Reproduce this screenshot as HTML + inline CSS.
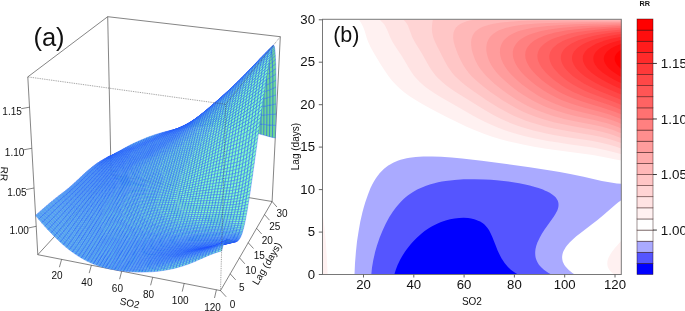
<!DOCTYPE html>
<html><head><meta charset="utf-8"><title>Figure</title>
<style>html,body{margin:0;padding:0;background:#fff}svg{display:block}text{font-family:"Liberation Sans",Arial,sans-serif}</style>
</head><body>
<svg width="685" height="311" viewBox="0 0 685 311">
<rect width="685" height="311" fill="#fff"/>
<line x1="37.8" y1="254.7" x2="27.8" y2="76.9" stroke="#333" stroke-width="0.60"/>
<line x1="27.8" y1="76.9" x2="107.7" y2="16.7" stroke="#333" stroke-width="0.60"/>
<line x1="107.7" y1="16.7" x2="280.3" y2="36.7" stroke="#333" stroke-width="0.60"/>
<line x1="107.7" y1="16.7" x2="111.1" y2="174.8" stroke="#333" stroke-width="0.60"/>
<line x1="272.1" y1="201.5" x2="280.3" y2="36.7" stroke="#333" stroke-width="0.60"/>
<line x1="37.8" y1="254.7" x2="220.5" y2="290.6" stroke="#333" stroke-width="0.60"/>
<line x1="220.5" y1="290.6" x2="272.1" y2="201.5" stroke="#333" stroke-width="0.60"/>
<line x1="37.8" y1="254.7" x2="111.1" y2="174.8" stroke="#333" stroke-width="0.60"/>
<line x1="111.1" y1="174.8" x2="272.1" y2="201.5" stroke="#333" stroke-width="0.60"/>
<line x1="61.6" y1="259.4" x2="59.4" y2="267.2" stroke="#333" stroke-width="0.6"/>
<text x="57.0" y="279.4" font-size="10.0" text-anchor="middle" fill="#111">20</text>
<line x1="91.4" y1="265.2" x2="89.2" y2="273.1" stroke="#333" stroke-width="0.6"/>
<text x="86.9" y="285.5" font-size="10.0" text-anchor="middle" fill="#111">40</text>
<line x1="121.7" y1="271.2" x2="119.6" y2="279.2" stroke="#333" stroke-width="0.6"/>
<text x="117.4" y="291.7" font-size="10.0" text-anchor="middle" fill="#111">60</text>
<line x1="152.7" y1="277.3" x2="150.6" y2="285.3" stroke="#333" stroke-width="0.6"/>
<text x="148.5" y="298.0" font-size="10.0" text-anchor="middle" fill="#111">80</text>
<line x1="184.2" y1="283.4" x2="182.2" y2="291.6" stroke="#333" stroke-width="0.6"/>
<text x="180.2" y="304.4" font-size="10.0" text-anchor="middle" fill="#111">100</text>
<line x1="216.4" y1="289.8" x2="214.5" y2="298.0" stroke="#333" stroke-width="0.6"/>
<text x="212.5" y="311.0" font-size="10.0" text-anchor="middle" fill="#111">120</text>
<line x1="220.5" y1="290.6" x2="226.2" y2="296.8" stroke="#333" stroke-width="0.6"/>
<text x="232.5" y="307.6" font-size="10.0" text-anchor="middle" fill="#111">0</text>
<line x1="230.2" y1="273.8" x2="235.7" y2="279.9" stroke="#333" stroke-width="0.6"/>
<text x="241.9" y="290.5" font-size="10.0" text-anchor="middle" fill="#111">5</text>
<line x1="239.5" y1="257.8" x2="244.8" y2="263.8" stroke="#333" stroke-width="0.6"/>
<text x="250.8" y="274.2" font-size="10.0" text-anchor="middle" fill="#111">10</text>
<line x1="248.2" y1="242.7" x2="253.5" y2="248.5" stroke="#333" stroke-width="0.6"/>
<text x="259.2" y="258.7" font-size="10.0" text-anchor="middle" fill="#111">15</text>
<line x1="256.6" y1="228.3" x2="261.7" y2="234.0" stroke="#333" stroke-width="0.6"/>
<text x="267.2" y="243.9" font-size="10.0" text-anchor="middle" fill="#111">20</text>
<line x1="264.5" y1="214.6" x2="269.5" y2="220.2" stroke="#333" stroke-width="0.6"/>
<text x="274.8" y="229.9" font-size="10.0" text-anchor="middle" fill="#111">25</text>
<line x1="272.1" y1="201.5" x2="276.9" y2="207.0" stroke="#333" stroke-width="0.6"/>
<text x="282.1" y="216.5" font-size="10.0" text-anchor="middle" fill="#111">30</text>
<line x1="36.2" y1="226.3" x2="28.3" y2="228.0" stroke="#333" stroke-width="0.6"/>
<text x="28.9" y="233.9" font-size="10.0" text-anchor="end" fill="#111">1.00</text>
<line x1="34.0" y1="188.0" x2="26.0" y2="189.6" stroke="#333" stroke-width="0.6"/>
<text x="26.6" y="195.5" font-size="10.0" text-anchor="end" fill="#111">1.05</text>
<line x1="31.8" y1="148.3" x2="23.7" y2="149.8" stroke="#333" stroke-width="0.6"/>
<text x="24.3" y="155.7" font-size="10.0" text-anchor="end" fill="#111">1.10</text>
<line x1="29.5" y1="107.2" x2="21.2" y2="108.7" stroke="#333" stroke-width="0.6"/>
<text x="21.8" y="114.6" font-size="10.0" text-anchor="end" fill="#111">1.15</text>
<text transform="translate(129.7,302.9) rotate(12)" font-size="10" text-anchor="middle" fill="#111" dy="3.6">SO2</text>
<text transform="translate(266.7,263.5) rotate(-59.5)" font-size="10" text-anchor="middle" fill="#111" dy="3.6">Lag (days)</text>
<text transform="translate(4.3,174) rotate(93)" font-size="10" text-anchor="middle" fill="#111" dy="3.6">RR</text>
<text x="33.4" y="46.2" font-size="25.5" fill="#111">(a)</text>
<g stroke="#1e50ff" stroke-width="0.36" stroke-linejoin="round">
<path fill="#6ed796" d="M110.2,156.4l2.5,-1.5 .5,-.1 -2.5,1.6zM112.7,154.9l2.5,-1.4 .6,-.3 -2.6,1.6z"/>
<path fill="#6ccde4" d="M115.2,153.5l2.6,-1.4 .5,-.4 -2.5,1.5zM117.8,152.1l2.6,-1.3 .5,-.6 -2.6,1.5zM120.4,150.8l2.5,-1.3 .6,-.8 -2.6,1.5zM122.9,149.5l2.6,-1.3 .5,-.9 -2.5,1.4z"/>
<path fill="#71d6de" d="M125.5,148.2l2.6,-1.3 .5,-1 -2.6,1.4zM128.1,146.9l2.6,-1.2 .5,-1.1 -2.6,1.3z"/>
<path fill="#76e0d7" d="M130.7,145.7l2.6,-1.2 .5,-1.2 -2.6,1.3zM133.3,144.5l2.6,-1.2 .6,-1.2 -2.7,1.2zM135.9,143.3l2.7,-1.1 .5,-1.3 -2.6,1.2zM138.6,142.2l2.6,-1.2 .5,-1.2 -2.6,1.1zM141.2,141l2.6,-1.1 .6,-1.2 -2.7,1.1zM143.8,139.9l2.7,-1 .5,-1.3 -2.6,1.1zM146.5,138.9l2.7,-1.1 .5,-1.2 -2.7,1zM149.2,137.8l2.6,-1 .5,-1.1 -2.6,.9zM151.8,136.8l2.7,-1 .5,-1.1 -2.7,1z"/>
<path fill="#71d6de" d="M154.5,135.8l2.7,-1 .5,-.9 -2.7,.8zM157.2,134.8l2.7,-.9 .5,-.8 -2.7,.8z"/>
<path fill="#6ccde4" d="M159.9,133.9l2.7,-.9 .5,-.7 -2.7,.8zM162.6,133l2.7,-.8 .5,-.6 -2.7,.7zM165.3,132.2l2.7,-.8 .5,-.5 -2.7,.7zM168,131.4l2.7,-.8 .5,-.3 -2.7,.6zM170.7,130.6l2.7,-.8 .5,-.1 -2.7,.6z"/>
<path fill="#6ed796" d="M173.4,129.8l2.8,-.7 .4,.1 -2.7,.5zM176.2,129.1l2.7,-.6 .5,.2 -2.8,.5zM178.9,128.5l2.7,-.7 .5,.4 -2.7,.5zM181.6,127.8l2.8,-.6 .5,.6 -2.8,.4zM184.4,127.2l2.8,-.6 .4,.9 -2.7,.3zM187.2,126.6l2.7,-.5 .5,1.1 -2.8,.3zM189.9,126.1l2.8,-.5 .4,1.3 -2.7,.3zM192.7,125.6l2.8,-.5 .4,1.5 -2.8,.3zM195.5,125.1l2.8,-.4 .4,1.7 -2.8,.2zM198.3,124.7l2.8,-.5 .4,2.1 -2.8,.1zM201.1,124.2l2.8,-.3 .4,2.3 -2.8,.1zM203.9,123.9l2.8,-.4 .4,2.6 -2.8,.1zM206.7,123.5l2.8,-.3 .4,2.9 -2.8,0zM209.5,123.2l2.8,-.3 .4,3.2 -2.8,0zM212.3,122.9l2.8,-.2 .4,3.5 -2.8,-.1zM215.1,122.7l2.9,-.2 .3,3.8 -2.8,-.1zM218,122.5l2.8,-.2 .3,4.2 -2.8,-.2zM220.8,122.3l2.8,-.1 .3,4.5 -2.8,-.2zM223.6,122.2l2.9,-.1 .2,4.9 -2.8,-.3zM226.5,122.1l2.8,0 .3,5.2 -2.9,-.3zM229.3,122.1l2.9,0 .2,5.6 -2.8,-.4zM232.2,122.1l2.8,0 .2,6 -2.8,-.4zM235,122.1l2.9,.1 .2,6.4 -2.9,-.5zM237.9,122.2l2.9,.1 .1,6.8 -2.8,-.5zM240.8,122.3l2.8,.1 .2,7.3 -2.9,-.6zM243.6,122.4l2.9,.2 .1,7.8 -2.8,-.7zM246.5,122.6l2.9,.3 .1,8.2 -2.9,-.7zM249.4,122.9l2.9,.3 0,8.7 -2.8,-.8zM252.3,123.2l2.9,.3 0,9.2 -2.9,-.8zM255.2,123.5l2.9,.3 -.1,9.7 -2.8,-.8zM258.1,123.8l2.9,.3 -.1,10.2 -2.9,-.8zM261,124.1l2.9,.3 -.2,10.7 -2.8,-.8zM263.9,124.4l2.9,.3 -.2,11.2 -2.9,-.8zM266.8,124.7l2.9,.3 -.2,11.7 -2.9,-.8zM269.7,125l2.9,.2 -.2,12.2 -2.9,-.7zM272.6,125.2l2.9,.1 -.2,12.7 -2.9,-.6z"/>
<path fill="#6ed796" d="M109.6,156.4l2.6,-1.3 .5,-.2 -2.5,1.5zM112.2,155.1l2.5,-1.3 .5,-.3 -2.5,1.4z"/>
<path fill="#6ccde4" d="M114.7,153.8l2.6,-1.2 .5,-.5 -2.6,1.4zM117.3,152.6l2.5,-1.2 .6,-.6 -2.6,1.3zM119.8,151.4l2.6,-1.2 .5,-.7 -2.5,1.3zM122.4,150.2l2.6,-1.2 .5,-.8 -2.6,1.3zM125,149l2.6,-1.1 .5,-1 -2.6,1.3z"/>
<path fill="#71d6de" d="M127.6,147.9l2.6,-1.2 .5,-1 -2.6,1.2zM130.2,146.7l2.6,-1.1 .5,-1.1 -2.6,1.2zM132.8,145.6l2.6,-1.2 .5,-1.1 -2.6,1.2z"/>
<path fill="#76e0d7" d="M135.4,144.4l2.7,-1.1 .5,-1.1 -2.7,1.1zM138.1,143.3l2.6,-1.1 .5,-1.2 -2.6,1.2zM140.7,142.2l2.6,-1.2 .5,-1.1 -2.6,1.1zM143.3,141l2.7,-1.1 .5,-1 -2.7,1zM146,139.9l2.7,-1 .5,-1.1 -2.7,1.1z"/>
<path fill="#71d6de" d="M148.7,138.9l2.6,-1.1 .5,-1 -2.6,1zM151.3,137.8l2.7,-1.1 .5,-.9 -2.7,1zM154,136.7l2.7,-1 .5,-.9 -2.7,1z"/>
<path fill="#6ccde4" d="M156.7,135.7l2.7,-1 .5,-.8 -2.7,.9zM159.4,134.7l2.7,-1 .5,-.7 -2.7,.9zM162.1,133.7l2.7,-.9 .5,-.6 -2.7,.8zM164.8,132.8l2.7,-1 .5,-.4 -2.7,.8zM167.5,131.8l2.7,-.9 .5,-.3 -2.7,.8zM170.2,130.9l2.7,-.8 .5,-.3 -2.7,.8zM172.9,130.1l2.8,-.9 .5,-.1 -2.8,.7z"/>
<path fill="#6ed796" d="M175.7,129.2l2.7,-.8 .5,.1 -2.7,.6zM178.4,128.4l2.8,-.8 .4,.2 -2.7,.7zM181.2,127.6l2.7,-.8 .5,.4 -2.8,.6zM183.9,126.8l2.8,-.8 .5,.6 -2.8,.6zM186.7,126l2.8,-.7 .4,.8 -2.7,.5zM189.5,125.3l2.8,-.7 .4,1 -2.8,.5zM192.3,124.6l2.8,-.7 .4,1.2 -2.8,.5zM195.1,123.9l2.7,-.7 .5,1.5 -2.8,.4zM197.8,123.2l2.8,-.7 .5,1.7 -2.8,.5zM200.6,122.5l2.9,-.6 .4,2 -2.8,.3zM203.5,121.9l2.8,-.6 .4,2.2 -2.8,.4zM206.3,121.3l2.8,-.6 .4,2.5 -2.8,.3zM209.1,120.7l2.8,-.5 .4,2.7 -2.8,.3zM211.9,120.2l2.9,-.5 .3,3 -2.8,.2zM214.8,119.7l2.8,-.5 .4,3.3 -2.9,.2zM217.6,119.2l2.9,-.5 .3,3.6 -2.8,.2zM220.5,118.7l2.8,-.4 .3,3.9 -2.8,.1zM223.3,118.3l2.9,-.4 .3,4.2 -2.9,.1zM226.2,117.9l2.8,-.4 .3,4.6 -2.8,0zM229,117.5l2.9,-.4 .3,5 -2.9,0zM231.9,117.1l2.9,-.3 .2,5.3 -2.8,0zM234.8,116.8l2.9,-.3 .2,5.7 -2.9,-.1zM237.7,116.5l2.9,-.3 .2,6.1 -2.9,-.1zM240.6,116.2l2.9,-.2 .1,6.4 -2.8,-.1zM243.5,116l2.9,-.2 .1,6.8 -2.9,-.2zM246.4,115.8l2.9,-.2 .1,7.3 -2.9,-.3zM249.3,115.6l2.9,-.2 .1,7.8 -2.9,-.3zM252.2,115.4l2.9,-.1 .1,8.2 -2.9,-.3zM255.1,115.3l2.9,-.2 .1,8.7 -2.9,-.3zM258,115.1l3,-.1 0,9.1 -2.9,-.3zM261,115l2.9,-.2 0,9.6 -2.9,-.3zM263.9,114.8l3,-.1 -.1,10 -2.9,-.3zM266.9,114.7l2.9,-.2 -.1,10.5 -2.9,-.3zM269.8,114.5l3,-.2 -.2,10.9 -2.9,-.2zM272.8,114.3l3,-.3 -.3,11.3 -2.9,-.1z"/>
<path fill="#6ed796" d="M109.1,156.5l2.5,-1.1 .6,-.3 -2.6,1.3z"/>
<path fill="#6ccde4" d="M111.6,155.4l2.6,-1.2 .5,-.4 -2.5,1.3zM114.2,154.2l2.5,-1.1 .6,-.5 -2.6,1.2zM116.7,153.1l2.6,-1.1 .5,-.6 -2.5,1.2zM119.3,152l2.6,-1.1 .5,-.7 -2.6,1.2zM121.9,150.9l2.6,-1.1 .5,-.8 -2.6,1.2zM124.5,149.8l2.6,-1.1 .5,-.8 -2.6,1.1zM127.1,148.7l2.6,-1.1 .5,-.9 -2.6,1.2z"/>
<path fill="#71d6de" d="M129.7,147.6l2.6,-1.1 .5,-.9 -2.6,1.1zM132.3,146.5l2.6,-1.1 .5,-1 -2.6,1.2zM134.9,145.4l2.7,-1.1 .5,-1 -2.7,1.1zM137.6,144.3l2.6,-1.1 .5,-1 -2.6,1.1zM140.2,143.2l2.6,-1.1 .5,-1.1 -2.6,1.2zM142.8,142.1l2.7,-1.2 .5,-1 -2.7,1.1zM145.5,140.9l2.7,-1.1 .5,-.9 -2.7,1zM148.2,139.8l2.6,-1.1 .5,-.9 -2.6,1.1zM150.8,138.7l2.7,-1.1 .5,-.9 -2.7,1.1z"/>
<path fill="#6ccde4" d="M153.5,137.6l2.7,-1 .5,-.9 -2.7,1zM156.2,136.6l2.7,-1.1 .5,-.8 -2.7,1zM158.9,135.5l2.7,-1.1 .5,-.7 -2.7,1zM161.6,134.4l2.7,-1 .5,-.6 -2.7,.9zM164.3,133.4l2.7,-1 .5,-.6 -2.7,1zM167,132.4l2.7,-1.1 .5,-.4 -2.7,.9zM169.7,131.3l2.8,-.9 .4,-.3 -2.7,.8zM172.5,130.4l2.7,-1 .5,-.2 -2.8,.9z"/>
<path fill="#6ed796" d="M175.2,129.4l2.8,-1 .4,0 -2.7,.8zM178,128.4l2.7,-1 .5,.2 -2.8,.8zM180.7,127.4l2.8,-.9 .4,.3 -2.7,.8zM183.5,126.5l2.7,-.9 .5,.4 -2.8,.8zM186.2,125.6l2.8,-.9 .5,.6 -2.8,.7zM189,124.7l2.8,-.9 .5,.8 -2.8,.7zM191.8,123.8l2.8,-.9 .5,1 -2.8,.7zM194.6,122.9l2.8,-.9 .4,1.2 -2.7,.7zM197.4,122l2.8,-.8 .4,1.3 -2.8,.7zM200.2,121.2l2.8,-.9 .5,1.6 -2.9,.6zM203,120.3l2.9,-.8 .4,1.8 -2.8,.6zM205.9,119.5l2.8,-.8 .4,2 -2.8,.6zM208.7,118.7l2.8,-.8 .4,2.3 -2.8,.5zM211.5,117.9l2.9,-.8 .4,2.6 -2.9,.5zM214.4,117.1l2.8,-.8 .4,2.9 -2.8,.5zM217.2,116.3l2.9,-.7 .4,3.1 -2.9,.5zM220.1,115.6l2.9,-.7 .3,3.4 -2.8,.4zM223,114.9l2.9,-.7 .3,3.7 -2.9,.4zM225.9,114.2l2.8,-.7 .3,4 -2.8,.4zM228.7,113.5l2.9,-.7 .3,4.3 -2.9,.4zM231.6,112.8l2.9,-.6 .3,4.6 -2.9,.3zM234.5,112.2l2.9,-.7 .3,5 -2.9,.3zM237.4,111.5l3,-.6 .2,5.3 -2.9,.3zM240.4,110.9l2.9,-.6 .2,5.7 -2.9,.2zM243.3,110.3l2.9,-.6 .2,6.1 -2.9,.2zM246.2,109.7l2.9,-.6 .2,6.5 -2.9,.2zM249.1,109.1l3,-.6 .1,6.9 -2.9,.2zM252.1,108.5l2.9,-.5 .1,7.3 -2.9,.1zM255,108l3,-.6 0,7.7 -2.9,.2zM258,107.4l3,-.5 0,8.1 -3,.1zM261,106.9l2.9,-.6 0,8.5 -2.9,.2zM263.9,106.3l3,-.6 0,9 -3,.1zM266.9,105.7l3,-.6 -.1,9.4 -2.9,.2zM269.9,105.1l3,-.6 -.1,9.8 -3,.2zM272.9,104.5l3,-.6 -.1,10.1 -3,.3z"/>
<path fill="#6ccde4" d="M108.5,156.7l2.6,-1 .5,-.3 -2.5,1.1zM111.1,155.7l2.5,-1.1 .6,-.4 -2.6,1.2zM113.6,154.6l2.6,-1 .5,-.5 -2.5,1.1zM116.2,153.6l2.6,-1 .5,-.6 -2.6,1.1zM118.8,152.6l2.6,-1 .5,-.7 -2.6,1.1zM121.4,151.6l2.6,-1.1 .5,-.7 -2.6,1.1zM124,150.5l2.6,-1 .5,-.8 -2.6,1.1zM126.6,149.5l2.6,-1.1 .5,-.8 -2.6,1.1zM129.2,148.4l2.6,-1 .5,-.9 -2.6,1.1zM131.8,147.4l2.6,-1.1 .5,-.9 -2.6,1.1z"/>
<path fill="#71d6de" d="M134.4,146.3l2.6,-1.1 .6,-.9 -2.7,1.1zM137,145.2l2.7,-1.1 .5,-.9 -2.6,1.1zM139.7,144.1l2.6,-1.1 .5,-.9 -2.6,1.1zM142.3,143l2.7,-1.1 .5,-1 -2.7,1.2zM145,141.9l2.6,-1.2 .6,-.9 -2.7,1.1zM147.6,140.7l2.7,-1.1 .5,-.9 -2.6,1.1z"/>
<path fill="#6ccde4" d="M150.3,139.6l2.7,-1.1 .5,-.9 -2.7,1.1zM153,138.5l2.7,-1.2 .5,-.7 -2.7,1zM155.7,137.3l2.7,-1.1 .5,-.7 -2.7,1.1zM158.4,136.2l2.7,-1.1 .5,-.7 -2.7,1.1zM161.1,135.1l2.7,-1.1 .5,-.6 -2.7,1zM163.8,134l2.7,-1.1 .5,-.5 -2.7,1zM166.5,132.9l2.7,-1.1 .5,-.5 -2.7,1.1zM169.2,131.8l2.8,-1.1 .5,-.3 -2.8,.9zM172,130.7l2.7,-1.1 .5,-.2 -2.7,1zM174.7,129.6l2.8,-1.1 .5,-.1 -2.8,1z"/>
<path fill="#6ed796" d="M177.5,128.5l2.7,-1 .5,-.1 -2.7,1zM180.2,127.5l2.8,-1.1 .5,.1 -2.8,.9zM183,126.4l2.8,-1.1 .4,.3 -2.7,.9zM185.8,125.3l2.8,-1 .4,.4 -2.8,.9zM188.6,124.3l2.8,-1.1 .4,.6 -2.8,.9zM191.4,123.2l2.8,-1 .4,.7 -2.8,.9zM194.2,122.2l2.8,-1.1 .4,.9 -2.8,.9zM197,121.1l2.8,-1 .4,1.1 -2.8,.8zM199.8,120.1l2.8,-1.1 .4,1.3 -2.8,.9zM202.6,119l2.9,-1 .4,1.5 -2.9,.8zM205.5,118l2.8,-1 .4,1.7 -2.8,.8zM208.3,117l2.8,-1.1 .4,2 -2.8,.8zM211.1,115.9l2.9,-1 .4,2.2 -2.9,.8zM214,114.9l2.9,-1 .3,2.4 -2.8,.8zM216.9,113.9l2.9,-.9 .3,2.6 -2.9,.7zM219.8,113l2.8,-1 .4,2.9 -2.9,.7zM222.6,112l2.9,-1 .4,3.2 -2.9,.7zM225.5,111l2.9,-1 .3,3.5 -2.8,.7zM228.4,110l2.9,-.9 .3,3.7 -2.9,.7zM231.3,109.1l3,-1 .2,4.1 -2.9,.6zM234.3,108.1l2.9,-.9 .2,4.3 -2.9,.7zM237.2,107.2l2.9,-1 .3,4.7 -3,.6zM240.1,106.2l3,-.9 .2,5 -2.9,.6zM243.1,105.3l2.9,-.9 .2,5.3 -2.9,.6zM246,104.4l3,-.9 .1,5.6 -2.9,.6zM249,103.5l2.9,-1 .2,6 -3,.6zM251.9,102.5l3,-.9 .1,6.4 -2.9,.5zM254.9,101.6l3,-.9 .1,6.7 -3,.6zM257.9,100.7l3,-1 .1,7.2 -3,.5zM260.9,99.7l3,-.9 0,7.5 -2.9,.6zM263.9,98.8l3,-.9 0,7.8 -3,.6zM266.9,97.9l3,-1 0,8.2 -3,.6zM269.9,96.9l3,-1 0,8.6 -3,.6zM272.9,95.9l3.1,-1 -.1,9 -3,.6z"/>
<path fill="#6ccde4" d="M108,157l2.5,-1 .6,-.3 -2.6,1zM110.5,156l2.6,-.9 .5,-.5 -2.5,1.1zM113.1,155.1l2.6,-1 .5,-.5 -2.6,1zM115.7,154.1l2.6,-.9 .5,-.6 -2.6,1zM118.3,153.2l2.5,-1 .6,-.6 -2.6,1zM120.8,152.2l2.6,-1 .6,-.7 -2.6,1.1zM123.4,151.2l2.6,-1 .6,-.7 -2.6,1zM126,150.2l2.7,-1 .5,-.8 -2.6,1.1zM128.7,149.2l2.6,-1 .5,-.8 -2.6,1zM131.3,148.2l2.6,-1.1 .5,-.8 -2.6,1.1zM133.9,147.1l2.6,-1.1 .5,-.8 -2.6,1.1zM136.5,146l2.7,-1.1 .5,-.8 -2.7,1.1zM139.2,144.9l2.6,-1.1 .5,-.8 -2.6,1.1zM141.8,143.8l2.7,-1.1 .5,-.8 -2.7,1.1zM144.5,142.7l2.6,-1.1 .5,-.9 -2.6,1.2zM147.1,141.6l2.7,-1.2 .5,-.8 -2.7,1.1zM149.8,140.4l2.7,-1.1 .5,-.8 -2.7,1.1zM152.5,139.3l2.7,-1.2 .5,-.8 -2.7,1.2zM155.2,138.1l2.7,-1.1 .5,-.8 -2.7,1.1zM157.9,137l2.7,-1.2 .5,-.7 -2.7,1.1zM160.6,135.8l2.7,-1.2 .5,-.6 -2.7,1.1zM163.3,134.6l2.7,-1.1 .5,-.6 -2.7,1.1zM166,133.5l2.8,-1.2 .4,-.5 -2.7,1.1zM168.8,132.3l2.7,-1.2 .5,-.4 -2.8,1.1zM171.5,131.1l2.7,-1.1 .5,-.4 -2.7,1.1zM174.2,130l2.8,-1.2 .5,-.3 -2.8,1.1zM177,128.8l2.8,-1.2 .4,-.1 -2.7,1z"/>
<path fill="#6ed796" d="M179.8,127.6l2.7,-1.2 .5,0 -2.8,1.1zM182.5,126.4l2.8,-1.1 .5,0 -2.8,1.1zM185.3,125.3l2.8,-1.2 .5,.2 -2.8,1zM188.1,124.1l2.8,-1.2 .5,.3 -2.8,1.1zM190.9,122.9l2.8,-1.2 .5,.5 -2.8,1zM193.7,121.7l2.8,-1.3 .5,.7 -2.8,1.1zM196.5,120.4l2.9,-1.2 .4,.9 -2.8,1zM199.4,119.2l2.8,-1.2 .4,1 -2.8,1.1zM202.2,118l2.8,-1.2 .5,1.2 -2.9,1zM205,116.8l2.9,-1.2 .4,1.4 -2.8,1zM207.9,115.6l2.8,-1.2 .4,1.5 -2.8,1.1zM210.7,114.4l2.9,-1.3 .4,1.8 -2.9,1zM213.6,113.1l2.9,-1.2 .4,2 -2.9,1zM216.5,111.9l2.9,-1.2 .4,2.3 -2.9,.9zM219.4,110.7l2.9,-1.2 .3,2.5 -2.8,1zM222.3,109.5l2.9,-1.2 .3,2.7 -2.9,1zM225.2,108.3l2.9,-1.2 .3,2.9 -2.9,1zM228.1,107.1l2.9,-1.2 .3,3.2 -2.9,.9zM231,105.9l3,-1.2 .3,3.4 -3,1zM234,104.7l2.9,-1.3 .3,3.8 -2.9,.9zM236.9,103.4l2.9,-1.2 .3,4 -2.9,1zM239.8,102.2l3,-1.2 .3,4.3 -3,.9zM242.8,101l3,-1.2 .2,4.6 -2.9,.9zM245.8,99.8l3,-1.3 .2,5 -3,.9zM248.8,98.5l2.9,-1.2 .2,5.2 -2.9,1zM251.7,97.3l3,-1.3 .2,5.6 -3,.9zM254.7,96l3.1,-1.2 .1,5.9 -3,.9zM257.8,94.8l3,-1.3 .1,6.2 -3,1zM260.8,93.5l3,-1.3 .1,6.6 -3,.9zM263.8,92.2l3,-1.3 .1,7 -3,.9zM266.8,90.9l3.1,-1.3 0,7.3 -3,1zM269.9,89.6l3,-1.3 0,7.6 -3,1zM272.9,88.3l3.1,-1.3 0,7.9 -3.1,1z"/>
<path fill="#6ccde4" d="M107.4,157.2l2.6,-.8 .5,-.4 -2.5,1zM110,156.4l2.6,-.9 .5,-.4 -2.6,.9zM112.6,155.5l2.5,-.8 .6,-.6 -2.6,1zM115.1,154.7l2.6,-.9 .6,-.6 -2.6,.9zM117.7,153.8l2.6,-.9 .5,-.7 -2.5,1zM120.3,152.9l2.6,-1 .5,-.7 -2.6,1zM122.9,151.9l2.6,-1 .5,-.7 -2.6,1zM125.5,150.9l2.6,-.9 .6,-.8 -2.7,1zM128.1,150l2.6,-1.1 .6,-.7 -2.6,1zM130.7,148.9l2.7,-1 .5,-.8 -2.6,1.1zM133.4,147.9l2.6,-1.1 .5,-.8 -2.6,1.1zM136,146.8l2.7,-1 .5,-.9 -2.7,1.1zM138.7,145.8l2.6,-1.1 .5,-.9 -2.6,1.1zM141.3,144.7l2.7,-1.2 .5,-.8 -2.7,1.1zM144,143.5l2.6,-1.1 .5,-.8 -2.6,1.1zM146.6,142.4l2.7,-1.2 .5,-.8 -2.7,1.2zM149.3,141.2l2.7,-1.1 .5,-.8 -2.7,1.1zM152,140.1l2.7,-1.2 .5,-.8 -2.7,1.2zM154.7,138.9l2.7,-1.2 .5,-.7 -2.7,1.1zM157.4,137.7l2.7,-1.2 .5,-.7 -2.7,1.2zM160.1,136.5l2.7,-1.2 .5,-.7 -2.7,1.2zM162.8,135.3l2.7,-1.2 .5,-.6 -2.7,1.1zM165.5,134.1l2.8,-1.2 .5,-.6 -2.8,1.2zM168.3,132.9l2.7,-1.2 .5,-.6 -2.7,1.2zM171,131.7l2.8,-1.3 .4,-.4 -2.7,1.1zM173.8,130.4l2.7,-1.2 .5,-.4 -2.8,1.2zM176.5,129.2l2.8,-1.3 .5,-.3 -2.8,1.2zM179.3,127.9l2.8,-1.3 .4,-.2 -2.7,1.2z"/>
<path fill="#6ed796" d="M182.1,126.6l2.7,-1.3 .5,0 -2.8,1.1zM184.8,125.3l2.8,-1.3 .5,.1 -2.8,1.2zM187.6,124l2.8,-1.3 .5,.2 -2.8,1.2zM190.4,122.7l2.9,-1.4 .4,.4 -2.8,1.2zM193.3,121.3l2.8,-1.3 .4,.4 -2.8,1.3zM196.1,120l2.8,-1.4 .5,.6 -2.9,1.2zM198.9,118.6l2.9,-1.4 .4,.8 -2.8,1.2zM201.8,117.2l2.8,-1.3 .4,.9 -2.8,1.2zM204.6,115.9l2.9,-1.4 .4,1.1 -2.9,1.2zM207.5,114.5l2.8,-1.4 .4,1.3 -2.8,1.2zM210.3,113.1l2.9,-1.4 .4,1.4 -2.9,1.3zM213.2,111.7l2.9,-1.5 .4,1.7 -2.9,1.2zM216.1,110.2l2.9,-1.4 .4,1.9 -2.9,1.2zM219,108.8l2.9,-1.4 .4,2.1 -2.9,1.2zM221.9,107.4l2.9,-1.4 .4,2.3 -2.9,1.2zM224.8,106l3,-1.4 .3,2.5 -2.9,1.2zM227.8,104.6l2.9,-1.5 .3,2.8 -2.9,1.2zM230.7,103.1l2.9,-1.4 .4,3 -3,1.2zM233.6,101.7l3,-1.5 .3,3.2 -2.9,1.3zM236.6,100.2l3,-1.5 .2,3.5 -2.9,1.2zM239.6,98.7l2.9,-1.4 .3,3.7 -3,1.2zM242.5,97.3l3,-1.5 .3,4 -3,1.2zM245.5,95.8l3,-1.5 .3,4.2 -3,1.3zM248.5,94.3l3,-1.6 .2,4.6 -2.9,1.2zM251.5,92.7l3.1,-1.5 .1,4.8 -3,1.3zM254.6,91.2l3,-1.6 .2,5.2 -3.1,1.2zM257.6,89.6l3,-1.6 .2,5.5 -3,1.3zM260.6,88l3.1,-1.5 .1,5.7 -3,1.3zM263.7,86.5l3,-1.6 .1,6 -3,1.3zM266.7,84.9l3.1,-1.6 .1,6.3 -3.1,1.3zM269.8,83.3l3.1,-1.6 0,6.6 -3,1.3zM272.9,81.7l3.1,-1.6 0,6.9 -3.1,1.3z"/>
<path fill="#6ccde4" d="M106.9,157.6l2.5,-.8 .6,-.4 -2.6,.8zM109.4,156.8l2.6,-.8 .6,-.5 -2.6,.9zM112,156l2.6,-.8 .5,-.5 -2.5,.8zM114.6,155.2l2.6,-.8 .5,-.6 -2.6,.9zM117.2,154.4l2.6,-.9 .5,-.6 -2.6,.9zM119.8,153.5l2.6,-.9 .5,-.7 -2.6,1zM122.4,152.6l2.6,-1 .5,-.7 -2.6,1zM125,151.6l2.6,-.9 .5,-.7 -2.6,.9zM127.6,150.7l2.6,-1 .5,-.8 -2.6,1.1zM130.2,149.7l2.7,-1 .5,-.8 -2.7,1zM132.9,148.7l2.6,-1.1 .5,-.8 -2.6,1.1zM135.5,147.6l2.6,-1 .6,-.8 -2.7,1zM138.1,146.6l2.7,-1.1 .5,-.8 -2.6,1.1zM140.8,145.5l2.7,-1.1 .5,-.9 -2.7,1.2zM143.5,144.4l2.6,-1.2 .5,-.8 -2.6,1.1zM146.1,143.2l2.7,-1.1 .5,-.9 -2.7,1.2zM148.8,142.1l2.7,-1.2 .5,-.8 -2.7,1.1zM151.5,140.9l2.7,-1.2 .5,-.8 -2.7,1.2zM154.2,139.7l2.7,-1.2 .5,-.8 -2.7,1.2zM156.9,138.5l2.7,-1.2 .5,-.8 -2.7,1.2zM159.6,137.3l2.7,-1.3 .5,-.7 -2.7,1.2zM162.3,136l2.7,-1.2 .5,-.7 -2.7,1.2zM165,134.8l2.8,-1.3 .5,-.6 -2.8,1.2zM167.8,133.5l2.7,-1.3 .5,-.5 -2.7,1.2zM170.5,132.2l2.8,-1.3 .5,-.5 -2.8,1.3zM173.3,130.9l2.7,-1.3 .5,-.4 -2.7,1.2zM176,129.6l2.8,-1.3 .5,-.4 -2.8,1.3zM178.8,128.3l2.8,-1.4 .5,-.3 -2.8,1.3zM181.6,126.9l2.8,-1.4 .4,-.2 -2.7,1.3z"/>
<path fill="#6ed796" d="M184.4,125.5l2.8,-1.4 .4,-.1 -2.8,1.3zM187.2,124.1l2.8,-1.4 .4,0 -2.8,1.3zM190,122.7l2.8,-1.5 .5,.1 -2.9,1.4zM192.8,121.2l2.8,-1.5 .5,.3 -2.8,1.3zM195.6,119.7l2.9,-1.5 .4,.4 -2.8,1.4zM198.5,118.2l2.8,-1.5 .5,.5 -2.9,1.4zM201.3,116.7l2.9,-1.6 .4,.8 -2.8,1.3zM204.2,115.1l2.8,-1.5 .5,.9 -2.9,1.4zM207,113.6l2.9,-1.6 .4,1.1 -2.8,1.4zM209.9,112l2.9,-1.6 .4,1.3 -2.9,1.4zM212.8,110.4l2.9,-1.5 .4,1.3 -2.9,1.5zM215.7,108.9l2.9,-1.6 .4,1.5 -2.9,1.4zM218.6,107.3l2.9,-1.6 .4,1.7 -2.9,1.4zM221.5,105.7l3,-1.7 .3,2 -2.9,1.4zM224.5,104l2.9,-1.6 .4,2.2 -3,1.4zM227.4,102.4l2.9,-1.6 .4,2.3 -2.9,1.5zM230.3,100.8l3,-1.7 .3,2.6 -2.9,1.4zM233.3,99.1l3,-1.7 .3,2.8 -3,1.5zM236.3,97.4l3,-1.7 .3,3 -3,1.5zM239.3,95.7l2.9,-1.7 .3,3.3 -2.9,1.4zM242.2,94l3,-1.7 .3,3.5 -3,1.5zM245.2,92.3l3.1,-1.8 .2,3.8 -3,1.5zM248.3,90.5l3,-1.8 .2,4 -3,1.6zM251.3,88.7l3,-1.8 .3,4.3 -3.1,1.5zM254.3,86.9l3.1,-1.8 .2,4.5 -3,1.6zM257.4,85.1l3,-1.8 .2,4.7 -3,1.6zM260.4,83.3l3.1,-1.9 .2,5.1 -3.1,1.5zM263.5,81.4l3.1,-1.8 .1,5.3 -3,1.6zM266.6,79.6l3.1,-1.9 .1,5.6 -3.1,1.6zM269.7,77.7l3.1,-1.9 .1,5.9 -3.1,1.6zM272.8,75.8l3.1,-1.8 .1,6.1 -3.1,1.6z"/>
<path fill="#6ccde4" d="M106.3,157.9l2.6,-.7 .5,-.4 -2.5,.8zM108.9,157.2l2.6,-.7 .5,-.5 -2.6,.8zM111.5,156.5l2.6,-.8 .5,-.5 -2.6,.8zM114.1,155.7l2.5,-.7 .6,-.6 -2.6,.8zM116.6,155l2.6,-.9 .6,-.6 -2.6,.9zM119.2,154.1l2.7,-.9 .5,-.6 -2.6,.9zM121.9,153.2l2.6,-.9 .5,-.7 -2.6,1zM124.5,152.3l2.6,-.9 .5,-.7 -2.6,.9zM127.1,151.4l2.6,-1 .5,-.7 -2.6,1zM129.7,150.4l2.6,-1 .6,-.7 -2.7,1zM132.3,149.4l2.7,-1 .5,-.8 -2.6,1.1zM135,148.4l2.6,-1 .5,-.8 -2.6,1zM137.6,147.4l2.7,-1.1 .5,-.8 -2.7,1.1zM140.3,146.3l2.6,-1.1 .6,-.8 -2.7,1.1zM142.9,145.2l2.7,-1.1 .5,-.9 -2.6,1.2zM145.6,144.1l2.7,-1.2 .5,-.8 -2.7,1.1zM148.3,142.9l2.7,-1.2 .5,-.8 -2.7,1.2zM151,141.7l2.7,-1.2 .5,-.8 -2.7,1.2zM153.7,140.5l2.7,-1.2 .5,-.8 -2.7,1.2zM156.4,139.3l2.7,-1.2 .5,-.8 -2.7,1.2zM159.1,138.1l2.7,-1.3 .5,-.8 -2.7,1.3zM161.8,136.8l2.7,-1.3 .5,-.7 -2.7,1.2zM164.5,135.5l2.8,-1.3 .5,-.7 -2.8,1.3zM167.3,134.2l2.7,-1.3 .5,-.7 -2.7,1.3zM170,132.9l2.8,-1.4 .5,-.6 -2.8,1.3zM172.8,131.5l2.7,-1.3 .5,-.6 -2.7,1.3zM175.5,130.2l2.8,-1.5 .5,-.4 -2.8,1.3zM178.3,128.7l2.8,-1.4 .5,-.4 -2.8,1.4zM181.1,127.3l2.8,-1.5 .5,-.3 -2.8,1.4zM183.9,125.8l2.8,-1.5 .5,-.2 -2.8,1.4z"/>
<path fill="#6ed796" d="M186.7,124.3l2.8,-1.5 .5,-.1 -2.8,1.4zM189.5,122.8l2.8,-1.6 .5,0 -2.8,1.5zM192.3,121.2l2.9,-1.6 .4,.1 -2.8,1.5zM195.2,119.6l2.8,-1.6 .5,.2 -2.9,1.5zM198,118l2.9,-1.7 .4,.4 -2.8,1.5zM200.9,116.3l2.8,-1.7 .5,.5 -2.9,1.6zM203.7,114.6l2.9,-1.7 .4,.7 -2.8,1.5zM206.6,112.9l2.9,-1.7 .4,.8 -2.9,1.6zM209.5,111.2l2.9,-1.7 .4,.9 -2.9,1.6zM212.4,109.5l2.9,-1.8 .4,1.2 -2.9,1.5zM215.3,107.7l2.9,-1.8 .4,1.4 -2.9,1.6zM218.2,105.9l2.9,-1.7 .4,1.5 -2.9,1.6zM221.1,104.2l3,-1.8 .4,1.6 -3,1.7zM224.1,102.4l2.9,-1.8 .4,1.8 -2.9,1.6zM227,100.6l3,-1.8 .3,2 -2.9,1.6zM230,98.8l3,-1.9 .3,2.2 -3,1.7zM233,96.9l2.9,-1.9 .4,2.4 -3,1.7zM235.9,95l3,-1.8 .4,2.5 -3,1.7zM238.9,93.2l3,-2 .3,2.8 -2.9,1.7zM241.9,91.2l3.1,-1.9 .2,3 -3,1.7zM245,89.3l3,-2 .3,3.2 -3.1,1.8zM248,87.3l3,-2 .3,3.4 -3,1.8zM251,85.3l3.1,-2.1 .2,3.7 -3,1.8zM254.1,83.2l3.1,-2 .2,3.9 -3.1,1.8zM257.2,81.2l3,-2.1 .2,4.2 -3,1.8zM260.2,79.1l3.1,-2.1 .2,4.4 -3.1,1.9zM263.3,77l3.1,-2.1 .2,4.7 -3.1,1.8zM266.4,74.9l3.2,-2.1 .1,4.9 -3.1,1.9zM269.6,72.8l3.1,-2.1 .1,5.1 -3.1,1.9zM272.7,70.7l3.1,-2.1 .1,5.4 -3.1,1.8z"/>
<path fill="#6ccde4" d="M105.8,158.2l2.5,-.6 .6,-.4 -2.6,.7zM108.3,157.6l2.6,-.6 .6,-.5 -2.6,.7zM110.9,157l2.6,-.7 .6,-.6 -2.6,.8zM113.5,156.3l2.6,-.8 .5,-.5 -2.5,.7zM116.1,155.5l2.6,-.7 .5,-.7 -2.6,.9zM118.7,154.8l2.6,-.9 .6,-.7 -2.7,.9zM121.3,153.9l2.6,-.9 .6,-.7 -2.6,.9zM123.9,153l2.7,-.9 .5,-.7 -2.6,.9zM126.6,152.1l2.6,-.9 .5,-.8 -2.6,1zM129.2,151.2l2.6,-1 .5,-.8 -2.6,1zM131.8,150.2l2.7,-1 .5,-.8 -2.7,1zM134.5,149.2l2.6,-1 .5,-.8 -2.6,1zM137.1,148.2l2.7,-1.1 .5,-.8 -2.7,1.1zM139.8,147.1l2.6,-1 .5,-.9 -2.6,1.1zM142.4,146.1l2.7,-1.2 .5,-.8 -2.7,1.1zM145.1,144.9l2.7,-1.1 .5,-.9 -2.7,1.2zM147.8,143.8l2.7,-1.2 .5,-.9 -2.7,1.2zM150.5,142.6l2.7,-1.2 .5,-.9 -2.7,1.2zM153.2,141.4l2.7,-1.2 .5,-.9 -2.7,1.2zM155.9,140.2l2.7,-1.3 .5,-.8 -2.7,1.2zM158.6,138.9l2.7,-1.2 .5,-.9 -2.7,1.3zM161.3,137.7l2.7,-1.3 .5,-.9 -2.7,1.3zM164,136.4l2.8,-1.4 .5,-.8 -2.8,1.3zM166.8,135l2.7,-1.4 .5,-.7 -2.7,1.3zM169.5,133.6l2.8,-1.4 .5,-.7 -2.8,1.4zM172.3,132.2l2.8,-1.4 .4,-.6 -2.7,1.3zM175.1,130.8l2.7,-1.5 .5,-.6 -2.8,1.5zM177.8,129.3l2.8,-1.5 .5,-.5 -2.8,1.4zM180.6,127.8l2.8,-1.6 .5,-.4 -2.8,1.5zM183.4,126.2l2.8,-1.6 .5,-.3 -2.8,1.5z"/>
<path fill="#6ed796" d="M186.2,124.6l2.8,-1.6 .5,-.2 -2.8,1.5zM189,123l2.9,-1.7 .4,-.1 -2.8,1.6zM191.9,121.3l2.8,-1.7 .5,0 -2.9,1.6zM194.7,119.6l2.9,-1.8 .4,.2 -2.8,1.6zM197.6,117.8l2.8,-1.7 .5,.2 -2.9,1.7zM200.4,116.1l2.9,-1.9 .4,.4 -2.8,1.7zM203.3,114.2l2.9,-1.8 .4,.5 -2.9,1.7zM206.2,112.4l2.9,-1.9 .4,.7 -2.9,1.7zM209.1,110.5l2.9,-1.8 .4,.8 -2.9,1.7zM212,108.7l2.9,-1.9 .4,.9 -2.9,1.8zM214.9,106.8l2.9,-1.9 .4,1 -2.9,1.8zM217.8,104.9l2.9,-2 .4,1.3 -2.9,1.7zM220.7,102.9l3,-1.9 .4,1.4 -3,1.8zM223.7,101l2.9,-2 .4,1.6 -2.9,1.8zM226.6,99l3,-2 .4,1.8 -3,1.8zM229.6,97l3,-2 .4,1.9 -3,1.9zM232.6,95l3,-2 .3,2 -2.9,1.9zM235.6,93l3,-2.1 .3,2.3 -3,1.8zM238.6,90.9l3,-2.1 .3,2.4 -3,2zM241.6,88.8l3,-2.2 .4,2.7 -3.1,1.9zM244.6,86.6l3.1,-2.2 .3,2.9 -3,2zM247.7,84.4l3.1,-2.2 .2,3.1 -3,2zM250.8,82.2l3,-2.3 .3,3.3 -3.1,2.1zM253.8,79.9l3.1,-2.2 .3,3.5 -3.1,2zM256.9,77.7l3.1,-2.4 .2,3.8 -3,2.1zM260,75.3l3.1,-2.3 .2,4 -3.1,2.1zM263.1,73l3.1,-2.3 .2,4.2 -3.1,2.1zM266.2,70.7l3.2,-2.3 .2,4.4 -3.2,2.1zM269.4,68.4l3.1,-2.3 .2,4.6 -3.1,2.1zM272.5,66.1l3.2,-2.3 .1,4.8 -3.1,2.1z"/>
<path fill="#6ccde4" d="M105.2,158.5l2.6,-.5 .5,-.4 -2.5,.6zM107.8,158l2.6,-.6 .5,-.4 -2.6,.6zM110.4,157.4l2.6,-.6 .5,-.5 -2.6,.7zM113,156.8l2.6,-.7 .5,-.6 -2.6,.8zM115.6,156.1l2.6,-.7 .5,-.6 -2.6,.7zM118.2,155.4l2.6,-.8 .5,-.7 -2.6,.9zM120.8,154.6l2.6,-.8 .5,-.8 -2.6,.9zM123.4,153.8l2.6,-.9 .6,-.8 -2.7,.9zM126,152.9l2.7,-.9 .5,-.8 -2.6,.9zM128.7,152l2.6,-1 .5,-.8 -2.6,1zM131.3,151l2.6,-.9 .6,-.9 -2.7,1zM133.9,150.1l2.7,-1 .5,-.9 -2.6,1zM136.6,149.1l2.7,-1.1 .5,-.9 -2.7,1.1z"/>
<path fill="#71d6de" d="M139.3,148l2.6,-1 .5,-.9 -2.6,1zM141.9,147l2.7,-1.1 .5,-1 -2.7,1.2zM144.6,145.9l2.7,-1.2 .5,-.9 -2.7,1.1zM147.3,144.7l2.7,-1.1 .5,-1 -2.7,1.2zM150,143.6l2.7,-1.2 .5,-1 -2.7,1.2zM152.7,142.4l2.7,-1.3 .5,-.9 -2.7,1.2zM155.4,141.1l2.7,-1.2 .5,-1 -2.7,1.3zM158.1,139.9l2.7,-1.3 .5,-.9 -2.7,1.2z"/>
<path fill="#6ccde4" d="M160.8,138.6l2.7,-1.4 .5,-.8 -2.7,1.3zM163.5,137.2l2.8,-1.3 .5,-.9 -2.8,1.4zM166.3,135.9l2.7,-1.5 .5,-.8 -2.7,1.4zM169,134.4l2.8,-1.4 .5,-.8 -2.8,1.4zM171.8,133l2.8,-1.5 .5,-.7 -2.8,1.4zM174.6,131.5l2.8,-1.6 .4,-.6 -2.7,1.5zM177.4,129.9l2.7,-1.5 .5,-.6 -2.8,1.5zM180.1,128.4l2.8,-1.7 .5,-.5 -2.8,1.6zM182.9,126.7l2.9,-1.7 .4,-.4 -2.8,1.6zM185.8,125l2.8,-1.7 .4,-.3 -2.8,1.6z"/>
<path fill="#6ed796" d="M188.6,123.3l2.8,-1.8 .5,-.2 -2.9,1.7zM191.4,121.5l2.8,-1.8 .5,-.1 -2.8,1.7zM194.2,119.7l2.9,-1.9 .5,0 -2.9,1.8zM197.1,117.8l2.9,-1.9 .4,.2 -2.8,1.7zM200,115.9l2.8,-1.9 .5,.2 -2.9,1.9zM202.8,114l2.9,-2 .5,.4 -2.9,1.8zM205.7,112l2.9,-1.9 .5,.4 -2.9,1.9zM208.6,110.1l2.9,-2.1 .5,.7 -2.9,1.8zM211.5,108l3,-2 .4,.8 -2.9,1.9zM214.5,106l2.9,-2 .4,.9 -2.9,1.9zM217.4,104l2.9,-2.1 .4,1 -2.9,2zM220.3,101.9l3,-2.1 .4,1.2 -3,1.9zM223.3,99.8l3,-2.1 .3,1.3 -2.9,2zM226.3,97.7l2.9,-2.1 .4,1.4 -3,2zM229.2,95.6l3,-2.2 .4,1.6 -3,2zM232.2,93.4l3,-2.2 .4,1.8 -3,2zM235.2,91.2l3,-2.3 .4,2 -3,2.1zM238.2,88.9l3.1,-2.2 .3,2.1 -3,2.1zM241.3,86.7l3,-2.4 .3,2.3 -3,2.2zM244.3,84.3l3.1,-2.3 .3,2.4 -3.1,2.2zM247.4,82l3.1,-2.5 .3,2.7 -3.1,2.2zM250.5,79.5l3,-2.4 .3,2.8 -3,2.3zM253.5,77.1l3.1,-2.5 .3,3.1 -3.1,2.2zM256.6,74.6l3.2,-2.5 .2,3.2 -3.1,2.4zM259.8,72.1l3.1,-2.6 .2,3.5 -3.1,2.3zM262.9,69.5l3.1,-2.5 .2,3.7 -3.1,2.3zM266,67l3.2,-2.5 .2,3.9 -3.2,2.3zM269.2,64.5l3.1,-2.5 .2,4.1 -3.1,2.3zM272.3,62l3.2,-2.5 .2,4.3 -3.2,2.3z"/>
<path fill="#6ccde4" d="M104.7,158.8l2.5,-.4 .6,-.4 -2.6,.5zM107.2,158.4l2.6,-.5 .6,-.5 -2.6,.6zM109.8,157.9l2.6,-.5 .6,-.6 -2.6,.6zM112.4,157.4l2.6,-.7 .6,-.6 -2.6,.7zM115,156.7l2.6,-.7 .6,-.6 -2.6,.7zM117.6,156l2.7,-.7 .5,-.7 -2.6,.8zM120.3,155.3l2.6,-.8 .5,-.7 -2.6,.8zM122.9,154.5l2.6,-.8 .5,-.8 -2.6,.9zM125.5,153.7l2.6,-.9 .6,-.8 -2.7,.9zM128.1,152.8l2.7,-.9 .5,-.9 -2.6,1zM130.8,151.9l2.6,-1 .5,-.8 -2.6,.9zM133.4,150.9l2.7,-.9 .5,-.9 -2.7,1z"/>
<path fill="#71d6de" d="M136.1,150l2.6,-1.1 .6,-.9 -2.7,1.1zM138.7,148.9l2.7,-1 .5,-.9 -2.6,1zM141.4,147.9l2.7,-1.1 .5,-.9 -2.7,1.1zM144.1,146.8l2.7,-1.1 .5,-1 -2.7,1.2zM146.8,145.7l2.7,-1.2 .5,-.9 -2.7,1.1zM149.5,144.5l2.7,-1.2 .5,-.9 -2.7,1.2zM152.2,143.3l2.7,-1.2 .5,-1 -2.7,1.3zM154.9,142.1l2.7,-1.3 .5,-.9 -2.7,1.2zM157.6,140.8l2.7,-1.3 .5,-.9 -2.7,1.3zM160.3,139.5l2.7,-1.3 .5,-1 -2.7,1.4zM163,138.2l2.8,-1.5 .5,-.8 -2.8,1.3z"/>
<path fill="#6ccde4" d="M165.8,136.7l2.7,-1.4 .5,-.9 -2.7,1.5zM168.5,135.3l2.8,-1.5 .5,-.8 -2.8,1.4zM171.3,133.8l2.8,-1.6 .5,-.7 -2.8,1.5zM174.1,132.2l2.8,-1.6 .5,-.7 -2.8,1.6zM176.9,130.6l2.8,-1.6 .4,-.6 -2.7,1.5zM179.7,129l2.8,-1.7 .4,-.6 -2.8,1.7zM182.5,127.3l2.8,-1.8 .5,-.5 -2.9,1.7zM185.3,125.5l2.8,-1.8 .5,-.4 -2.8,1.7zM188.1,123.7l2.8,-1.9 .5,-.3 -2.8,1.8z"/>
<path fill="#6ed796" d="M190.9,121.8l2.9,-1.9 .4,-.2 -2.8,1.8zM193.8,119.9l2.8,-1.9 .5,-.2 -2.9,1.9zM196.6,118l2.9,-2 .5,-.1 -2.9,1.9zM199.5,116l2.9,-2.1 .4,.1 -2.8,1.9zM202.4,113.9l2.9,-2.1 .4,.2 -2.9,2zM205.3,111.8l2.9,-2.1 .4,.4 -2.9,1.9zM208.2,109.7l2.9,-2.1 .4,.4 -2.9,2.1zM211.1,107.6l2.9,-2.2 .5,.6 -3,2zM214,105.4l3,-2.1 .4,.7 -2.9,2zM217,103.3l2.9,-2.2 .4,.8 -2.9,2.1zM219.9,101.1l3,-2.2 .4,.9 -3,2.1zM222.9,98.9l3,-2.3 .4,1.1 -3,2.1zM225.9,96.6l2.9,-2.3 .4,1.3 -2.9,2.1zM228.8,94.3l3,-2.3 .4,1.4 -3,2.2zM231.8,92l3.1,-2.3 .3,1.5 -3,2.2zM234.9,89.7l3,-2.4 .3,1.6 -3,2.3zM237.9,87.3l3,-2.4 .4,1.8 -3.1,2.2zM240.9,84.9l3.1,-2.5 .3,1.9 -3,2.4zM244,82.4l3.1,-2.6 .3,2.2 -3.1,2.3zM247.1,79.8l3,-2.6 .4,2.3 -3.1,2.5zM250.1,77.2l3.1,-2.6 .3,2.5 -3,2.4zM253.2,74.6l3.2,-2.7 .2,2.7 -3.1,2.5zM256.4,71.9l3.1,-2.7 .3,2.9 -3.2,2.5zM259.5,69.2l3.1,-2.7 .3,3 -3.1,2.6zM262.6,66.5l3.2,-2.7 .2,3.2 -3.1,2.5zM265.8,63.8l3.2,-2.7 .2,3.4 -3.2,2.5zM269,61.1l3.1,-2.6 .2,3.5 -3.1,2.5zM272.1,58.5l3.2,-2.7 .2,3.7 -3.2,2.5z"/>
<path fill="#6ccde4" d="M104.1,159.1l2.6,-.3 .5,-.4 -2.5,.4zM106.7,158.8l2.6,-.4 .5,-.5 -2.6,.5zM109.3,158.4l2.6,-.5 .5,-.5 -2.6,.5zM111.9,157.9l2.6,-.6 .5,-.6 -2.6,.7zM114.5,157.3l2.6,-.6 .5,-.7 -2.6,.7zM117.1,156.7l2.6,-.7 .6,-.7 -2.7,.7zM119.7,156l2.6,-.8 .6,-.7 -2.6,.8zM122.3,155.2l2.7,-.8 .5,-.7 -2.6,.8zM125,154.4l2.6,-.8 .5,-.8 -2.6,.9zM127.6,153.6l2.6,-.9 .6,-.8 -2.7,.9zM130.2,152.7l2.7,-.9 .5,-.9 -2.6,1z"/>
<path fill="#71d6de" d="M132.9,151.8l2.7,-.9 .5,-.9 -2.7,.9zM135.6,150.9l2.6,-1 .5,-1 -2.6,1.1zM138.2,149.9l2.7,-1.1 .5,-.9 -2.7,1zM140.9,148.8l2.7,-1 .5,-1 -2.7,1.1zM143.6,147.8l2.7,-1.1 .5,-1 -2.7,1.1zM146.3,146.7l2.7,-1.2 .5,-1 -2.7,1.2zM149,145.5l2.7,-1.2 .5,-1 -2.7,1.2zM151.7,144.3l2.7,-1.2 .5,-1 -2.7,1.2zM154.4,143.1l2.7,-1.3 .5,-1 -2.7,1.3zM157.1,141.8l2.7,-1.3 .5,-1 -2.7,1.3zM159.8,140.5l2.7,-1.4 .5,-.9 -2.7,1.3zM162.5,139.1l2.8,-1.4 .5,-1 -2.8,1.5zM165.3,137.7l2.8,-1.5 .4,-.9 -2.7,1.4z"/>
<path fill="#6ccde4" d="M168.1,136.2l2.7,-1.5 .5,-.9 -2.8,1.5zM170.8,134.7l2.8,-1.6 .5,-.9 -2.8,1.6zM173.6,133.1l2.8,-1.7 .5,-.8 -2.8,1.6zM176.4,131.4l2.8,-1.7 .5,-.7 -2.8,1.6zM179.2,129.7l2.8,-1.8 .5,-.6 -2.8,1.7zM182,127.9l2.8,-1.8 .5,-.6 -2.8,1.8zM184.8,126.1l2.8,-1.9 .5,-.5 -2.8,1.8zM187.6,124.2l2.9,-1.9 .4,-.5 -2.8,1.9zM190.5,122.3l2.8,-2 .5,-.4 -2.9,1.9z"/>
<path fill="#6ed796" d="M193.3,120.3l2.9,-2.1 .4,-.2 -2.8,1.9zM196.2,118.2l2.8,-2.1 .5,-.1 -2.9,2zM199,116.1l2.9,-2.1 .5,-.1 -2.9,2.1zM201.9,114l2.9,-2.2 .5,0 -2.9,2.1zM204.8,111.8l2.9,-2.2 .5,.1 -2.9,2.1zM207.7,109.6l3,-2.3 .4,.3 -2.9,2.1zM210.7,107.3l2.9,-2.2 .4,.3 -2.9,2.2zM213.6,105.1l2.9,-2.3 .5,.5 -3,2.1zM216.5,102.8l3,-2.3 .4,.6 -2.9,2.2zM219.5,100.5l3,-2.4 .4,.8 -3,2.2zM222.5,98.1l2.9,-2.3 .5,.8 -3,2.3zM225.4,95.8l3,-2.4 .4,.9 -2.9,2.3zM228.4,93.4l3.1,-2.4 .3,1 -3,2.3zM231.5,91l3,-2.5 .4,1.2 -3.1,2.3zM234.5,88.5l3,-2.5 .4,1.3 -3,2.4zM237.5,86l3.1,-2.6 .3,1.5 -3,2.4zM240.6,83.4l3,-2.6 .4,1.6 -3.1,2.5zM243.6,80.8l3.1,-2.7 .4,1.7 -3.1,2.6zM246.7,78.1l3.1,-2.7 .3,1.8 -3,2.6zM249.8,75.4l3.1,-2.8 .3,2 -3.1,2.6zM252.9,72.6l3.2,-2.9 .3,2.2 -3.2,2.7zM256.1,69.7l3.1,-2.8 .3,2.3 -3.1,2.7zM259.2,66.9l3.2,-2.9 .2,2.5 -3.1,2.7zM262.4,64l3.1,-2.9 .3,2.7 -3.2,2.7zM265.5,61.1l3.2,-2.8 .3,2.8 -3.2,2.7zM268.7,58.3l3.2,-2.8 .2,3 -3.1,2.6zM271.9,55.5l3.2,-2.8 .2,3.1 -3.2,2.7z"/>
<path fill="#6ccde4" d="M103.5,159.4l2.6,-.2 .6,-.4 -2.6,.3zM106.1,159.2l2.6,-.3 .6,-.5 -2.6,.4zM108.7,158.9l2.6,-.5 .6,-.5 -2.6,.5zM111.3,158.4l2.7,-.5 .5,-.6 -2.6,.6zM114,157.9l2.6,-.6 .5,-.6 -2.6,.6zM116.6,157.3l2.6,-.6 .5,-.7 -2.6,.7zM119.2,156.7l2.6,-.7 .5,-.8 -2.6,.8zM121.8,156l2.6,-.8 .6,-.8 -2.7,.8zM124.4,155.2l2.7,-.8 .5,-.8 -2.6,.8zM127.1,154.4l2.6,-.8 .5,-.9 -2.6,.9zM129.7,153.6l2.7,-.9 .5,-.9 -2.7,.9z"/>
<path fill="#71d6de" d="M132.4,152.7l2.6,-.9 .6,-.9 -2.7,.9zM135,151.8l2.7,-1 .5,-.9 -2.6,1zM137.7,150.8l2.7,-1 .5,-1 -2.7,1.1zM140.4,149.8l2.7,-1 .5,-1 -2.7,1zM143.1,148.8l2.6,-1.1 .6,-1 -2.7,1.1zM145.7,147.7l2.7,-1.1 .6,-1.1 -2.7,1.2zM148.4,146.6l2.7,-1.2 .6,-1.1 -2.7,1.2zM151.1,145.4l2.8,-1.3 .5,-1 -2.7,1.2zM153.9,144.1l2.7,-1.3 .5,-1 -2.7,1.3zM156.6,142.8l2.7,-1.3 .5,-1 -2.7,1.3zM159.3,141.5l2.7,-1.4 .5,-1 -2.7,1.4zM162,140.1l2.8,-1.4 .5,-1 -2.8,1.4zM164.8,138.7l2.8,-1.6 .5,-.9 -2.8,1.5zM167.6,137.1l2.7,-1.5 .5,-.9 -2.7,1.5z"/>
<path fill="#6ccde4" d="M170.3,135.6l2.8,-1.7 .5,-.8 -2.8,1.6zM173.1,133.9l2.8,-1.7 .5,-.8 -2.8,1.7zM175.9,132.2l2.8,-1.7 .5,-.8 -2.8,1.7zM178.7,130.5l2.8,-1.8 .5,-.8 -2.8,1.8zM181.5,128.7l2.8,-1.9 .5,-.7 -2.8,1.8zM184.3,126.8l2.8,-2 .5,-.6 -2.8,1.9zM187.1,124.8l2.9,-2 .5,-.5 -2.9,1.9zM190,122.8l2.8,-2.1 .5,-.4 -2.8,2zM192.8,120.7l2.9,-2.1 .5,-.4 -2.9,2.1z"/>
<path fill="#6ed796" d="M195.7,118.6l2.9,-2.2 .4,-.3 -2.8,2.1zM198.6,116.4l2.9,-2.2 .4,-.2 -2.9,2.1zM201.5,114.2l2.9,-2.3 .4,-.1 -2.9,2.2zM204.4,111.9l2.9,-2.3 .4,0 -2.9,2.2zM207.3,109.6l2.9,-2.4 .5,.1 -3,2.3zM210.2,107.2l3,-2.3 .4,.2 -2.9,2.2zM213.2,104.9l2.9,-2.4 .4,.3 -2.9,2.3zM216.1,102.5l3,-2.4 .4,.4 -3,2.3zM219.1,100.1l2.9,-2.4 .5,.4 -3,2.4zM222,97.7l3,-2.5 .4,.6 -2.9,2.3zM225,95.2l3,-2.5 .4,.7 -3,2.4zM228,92.7l3.1,-2.5 .4,.8 -3.1,2.4zM231.1,90.2l3,-2.6 .4,.9 -3,2.5zM234.1,87.6l3,-2.6 .4,1 -3,2.5zM237.1,85l3.1,-2.7 .4,1.1 -3.1,2.6zM240.2,82.3l3.1,-2.8 .3,1.3 -3,2.6zM243.3,79.5l3.1,-2.8 .3,1.4 -3.1,2.7zM246.4,76.7l3.1,-2.9 .3,1.6 -3.1,2.7zM249.5,73.8l3.1,-2.9 .3,1.7 -3.1,2.8zM252.6,70.9l3.1,-3 .4,1.8 -3.2,2.9zM255.7,67.9l3.2,-3 .3,2 -3.1,2.8zM258.9,64.9l3.2,-3 .3,2.1 -3.2,2.9zM262.1,61.9l3.1,-3 .3,2.2 -3.1,2.9zM265.2,58.9l3.2,-2.9 .3,2.3 -3.2,2.8zM268.4,56l3.2,-3 .3,2.5 -3.2,2.8zM271.6,53l3.3,-2.9 .2,2.6 -3.2,2.8z"/>
<path fill="#6ccde4" d="M103,159.7l2.6,-.1 .5,-.4 -2.6,.2zM105.6,159.6l2.6,-.3 .5,-.4 -2.6,.3zM108.2,159.3l2.6,-.3 .5,-.6 -2.6,.5zM110.8,159l2.6,-.5 .6,-.6 -2.7,.5zM113.4,158.5l2.6,-.5 .6,-.7 -2.6,.6zM116,158l2.6,-.6 .6,-.7 -2.6,.6zM118.6,157.4l2.7,-.7 .5,-.7 -2.6,.7zM121.3,156.7l2.6,-.7 .5,-.8 -2.6,.8zM123.9,156l2.7,-.8 .5,-.8 -2.7,.8zM126.6,155.2l2.6,-.8 .5,-.8 -2.6,.8zM129.2,154.4l2.7,-.8 .5,-.9 -2.7,.9z"/>
<path fill="#71d6de" d="M131.9,153.6l2.6,-.9 .5,-.9 -2.6,.9zM134.5,152.7l2.7,-.9 .5,-1 -2.7,1zM137.2,151.8l2.7,-1 .5,-1 -2.7,1zM139.9,150.8l2.6,-1 .6,-1 -2.7,1zM142.5,149.8l2.7,-1.1 .5,-1 -2.6,1.1zM145.2,148.7l2.7,-1.1 .5,-1 -2.7,1.1zM147.9,147.6l2.7,-1.2 .5,-1 -2.7,1.2zM150.6,146.4l2.8,-1.2 .5,-1.1 -2.8,1.3zM153.4,145.2l2.7,-1.3 .5,-1.1 -2.7,1.3zM156.1,143.9l2.7,-1.4 .5,-1 -2.7,1.3zM158.8,142.5l2.7,-1.4 .5,-1 -2.7,1.4zM161.5,141.1l2.8,-1.4 .5,-1 -2.8,1.4zM164.3,139.7l2.8,-1.6 .5,-1 -2.8,1.6zM167.1,138.1l2.7,-1.6 .5,-.9 -2.7,1.5zM169.8,136.5l2.8,-1.6 .5,-1 -2.8,1.7z"/>
<path fill="#6ccde4" d="M172.6,134.9l2.8,-1.8 .5,-.9 -2.8,1.7zM175.4,133.1l2.8,-1.8 .5,-.8 -2.8,1.7zM178.2,131.3l2.8,-1.8 .5,-.8 -2.8,1.8zM181,129.5l2.8,-2 .5,-.7 -2.8,1.9zM183.8,127.5l2.9,-2 .4,-.7 -2.8,2zM186.7,125.5l2.8,-2.1 .5,-.6 -2.9,2zM189.5,123.4l2.9,-2.1 .4,-.6 -2.8,2.1zM192.4,121.3l2.8,-2.2 .5,-.5 -2.9,2.1zM195.2,119.1l2.9,-2.3 .5,-.4 -2.9,2.2zM198.1,116.8l2.9,-2.3 .5,-.3 -2.9,2.2z"/>
<path fill="#6ed796" d="M201,114.5l2.9,-2.4 .5,-.2 -2.9,2.3zM203.9,112.1l2.9,-2.3 .5,-.2 -2.9,2.3zM206.8,109.8l3,-2.5 .4,-.1 -2.9,2.4zM209.8,107.3l2.9,-2.4 .5,0 -3,2.3zM212.7,104.9l3,-2.5 .4,.1 -2.9,2.4zM215.7,102.4l2.9,-2.5 .5,.2 -3,2.4zM218.6,99.9l3,-2.5 .4,.3 -2.9,2.4zM221.6,97.4l3,-2.5 .4,.3 -3,2.5zM224.6,94.9l3,-2.6 .4,.4 -3,2.5zM227.6,92.3l3,-2.6 .5,.5 -3.1,2.5zM230.6,89.7l3.1,-2.7 .4,.6 -3,2.6zM233.7,87l3,-2.7 .4,.7 -3,2.6zM236.7,84.3l3.1,-2.8 .4,.8 -3.1,2.7zM239.8,81.5l3.1,-2.9 .4,.9 -3.1,2.8zM242.9,78.6l3.1,-2.9 .4,1 -3.1,2.8zM246,75.7l3.1,-3 .4,1.1 -3.1,2.9zM249.1,72.7l3.1,-3 .4,1.2 -3.1,2.9zM252.2,69.7l3.2,-3.1 .3,1.3 -3.1,3zM255.4,66.6l3.2,-3.1 .3,1.4 -3.2,3zM258.6,63.5l3.1,-3.2 .4,1.6 -3.2,3zM261.7,60.3l3.2,-3.1 .3,1.7 -3.1,3zM264.9,57.2l3.2,-3.1 .3,1.9 -3.2,2.9zM268.1,54.1l3.3,-3 .2,1.9 -3.2,3zM271.4,51.1l3.2,-3 .3,2 -3.3,2.9z"/>
<path fill="#6ccde4" d="M102.4,160.1l2.6,-.1 .6,-.4 -2.6,.1zM105,160l2.6,-.2 .6,-.5 -2.6,.3zM107.6,159.8l2.7,-.3 .5,-.5 -2.6,.3zM110.3,159.5l2.6,-.4 .5,-.6 -2.6,.5zM112.9,159.1l2.6,-.5 .5,-.6 -2.6,.5zM115.5,158.6l2.6,-.5 .5,-.7 -2.6,.6zM118.1,158.1l2.6,-.6 .6,-.8 -2.7,.7zM120.7,157.5l2.7,-.7 .5,-.8 -2.6,.7zM123.4,156.8l2.6,-.7 .6,-.9 -2.7,.8zM126,156.1l2.7,-.8 .5,-.9 -2.6,.8zM128.7,155.3l2.6,-.8 .6,-.9 -2.7,.8z"/>
<path fill="#71d6de" d="M131.3,154.5l2.7,-.9 .5,-.9 -2.6,.9zM134,153.6l2.7,-.9 .5,-.9 -2.7,.9zM136.7,152.7l2.6,-.9 .6,-1 -2.7,1zM139.3,151.8l2.7,-1 .5,-1 -2.6,1zM142,150.8l2.7,-1.1 .5,-1 -2.7,1.1zM144.7,149.7l2.7,-1.1 .5,-1 -2.7,1.1zM147.4,148.6l2.7,-1.2 .5,-1 -2.7,1.2zM150.1,147.4l2.7,-1.2 .6,-1 -2.8,1.2zM152.8,146.2l2.8,-1.3 .5,-1 -2.7,1.3zM155.6,144.9l2.7,-1.3 .5,-1.1 -2.7,1.4zM158.3,143.6l2.7,-1.5 .5,-1 -2.7,1.4zM161,142.1l2.8,-1.4 .5,-1 -2.8,1.4zM163.8,140.7l2.8,-1.6 .5,-1 -2.8,1.6zM166.6,139.1l2.7,-1.6 .5,-1 -2.7,1.6zM169.3,137.5l2.8,-1.7 .5,-.9 -2.8,1.6z"/>
<path fill="#6ccde4" d="M172.1,135.8l2.8,-1.8 .5,-.9 -2.8,1.8zM174.9,134l2.8,-1.8 .5,-.9 -2.8,1.8zM177.7,132.2l2.8,-1.9 .5,-.8 -2.8,1.8zM180.5,130.3l2.8,-2 .5,-.8 -2.8,2zM183.3,128.3l2.9,-2.1 .5,-.7 -2.9,2zM186.2,126.2l2.8,-2.1 .5,-.7 -2.8,2.1zM189,124.1l2.9,-2.2 .5,-.6 -2.9,2.1zM191.9,121.9l2.9,-2.3 .4,-.5 -2.8,2.2zM194.8,119.6l2.8,-2.3 .5,-.5 -2.9,2.3zM197.6,117.3l2.9,-2.3 .5,-.5 -2.9,2.3zM200.5,115l3,-2.5 .4,-.4 -2.9,2.4z"/>
<path fill="#6ed796" d="M203.5,112.5l2.9,-2.4 .4,-.3 -2.9,2.3zM206.4,110.1l2.9,-2.5 .5,-.3 -3,2.5zM209.3,107.6l3,-2.5 .4,-.2 -2.9,2.4zM212.3,105.1l2.9,-2.6 .5,-.1 -3,2.5zM215.2,102.5l3,-2.5 .4,-.1 -2.9,2.5zM218.2,100l3,-2.6 .4,0 -3,2.5zM221.2,97.4l3,-2.6 .4,.1 -3,2.5zM224.2,94.8l3,-2.7 .4,.2 -3,2.6zM227.2,92.1l3,-2.7 .4,.3 -3,2.6zM230.2,89.4l3.1,-2.7 .4,.3 -3.1,2.7zM233.3,86.7l3,-2.8 .4,.4 -3,2.7zM236.3,83.9l3.1,-2.9 .4,.5 -3.1,2.8zM239.4,81l3.1,-2.9 .4,.5 -3.1,2.9zM242.5,78.1l3.1,-3.1 .4,.7 -3.1,2.9zM245.6,75l3.1,-3 .4,.7 -3.1,3zM248.7,72l3.2,-3.2 .3,.9 -3.1,3zM251.9,68.8l3.1,-3.2 .4,1 -3.2,3.1zM255,65.6l3.2,-3.2 .4,1.1 -3.2,3.1zM258.2,62.4l3.2,-3.2 .3,1.1 -3.1,3.2zM261.4,59.2l3.2,-3.2 .3,1.2 -3.2,3.1zM264.6,56l3.2,-3.2 .3,1.3 -3.2,3.1zM267.8,52.8l3.2,-3.1 .4,1.4 -3.3,3zM271,49.7l3.3,-3.1 .3,1.5 -3.2,3z"/>
<path fill="#6ccde4" d="M101.9,160.4l2.6,0 .5,-.4 -2.6,.1zM104.5,160.4l2.6,-.1 .5,-.5 -2.6,.2zM107.1,160.3l2.6,-.2 .6,-.6 -2.7,.3zM109.7,160.1l2.6,-.4 .6,-.6 -2.6,.4zM112.3,159.7l2.6,-.4 .6,-.7 -2.6,.5zM114.9,159.3l2.7,-.5 .5,-.7 -2.6,.5zM117.6,158.8l2.6,-.6 .5,-.7 -2.6,.6zM120.2,158.2l2.6,-.6 .6,-.8 -2.7,.7zM122.8,157.6l2.7,-.7 .5,-.8 -2.6,.7zM125.5,156.9l2.6,-.7 .6,-.9 -2.7,.8zM128.1,156.2l2.7,-.8 .5,-.9 -2.6,.8z"/>
<path fill="#71d6de" d="M130.8,155.4l2.7,-.8 .5,-1 -2.7,.9zM133.5,154.6l2.6,-.9 .6,-1 -2.7,.9zM136.1,153.7l2.7,-1 .5,-.9 -2.6,.9zM138.8,152.7l2.7,-.9 .5,-1 -2.7,1zM141.5,151.8l2.7,-1.1 .5,-1 -2.7,1.1zM144.2,150.7l2.7,-1.1 .5,-1 -2.7,1.1zM146.9,149.6l2.7,-1.1 .5,-1.1 -2.7,1.2zM149.6,148.5l2.7,-1.3 .5,-1 -2.7,1.2zM152.3,147.2l2.8,-1.3 .5,-1 -2.8,1.3zM155.1,145.9l2.7,-1.3 .5,-1 -2.7,1.3zM157.8,144.6l2.7,-1.4 .5,-1.1 -2.7,1.5zM160.5,143.2l2.8,-1.5 .5,-1 -2.8,1.4zM163.3,141.7l2.8,-1.6 .5,-1 -2.8,1.6zM166.1,140.1l2.7,-1.6 .5,-1 -2.7,1.6zM168.8,138.5l2.8,-1.7 .5,-1 -2.8,1.7zM171.6,136.8l2.8,-1.8 .5,-1 -2.8,1.8z"/>
<path fill="#6ccde4" d="M174.4,135l2.8,-1.9 .5,-.9 -2.8,1.8zM177.2,133.1l2.8,-1.9 .5,-.9 -2.8,1.9zM180,131.2l2.9,-2 .4,-.9 -2.8,2zM182.9,129.2l2.8,-2.1 .5,-.9 -2.9,2.1zM185.7,127.1l2.8,-2.2 .5,-.8 -2.8,2.1zM188.5,124.9l2.9,-2.2 .5,-.8 -2.9,2.2zM191.4,122.7l2.9,-2.4 .5,-.7 -2.9,2.3zM194.3,120.3l2.9,-2.3 .4,-.7 -2.8,2.3zM197.2,118l2.9,-2.4 .4,-.6 -2.9,2.3zM200.1,115.6l2.9,-2.5 .5,-.6 -3,2.5zM203,113.1l2.9,-2.5 .5,-.5 -2.9,2.4zM205.9,110.6l2.9,-2.6 .5,-.4 -2.9,2.5zM208.8,108l3,-2.5 .5,-.4 -3,2.5z"/>
<path fill="#6ed796" d="M211.8,105.5l3,-2.6 .4,-.4 -2.9,2.6zM214.8,102.9l2.9,-2.6 .5,-.3 -3,2.5zM217.7,100.3l3,-2.7 .5,-.2 -3,2.6zM220.7,97.6l3,-2.7 .5,-.1 -3,2.6zM223.7,94.9l3.1,-2.7 .4,-.1 -3,2.7zM226.8,92.2l3,-2.8 .4,0 -3,2.7zM229.8,89.4l3.1,-2.8 .4,.1 -3.1,2.7zM232.9,86.6l3,-2.9 .4,.2 -3,2.8zM235.9,83.7l3.1,-2.9 .4,.2 -3.1,2.9zM239,80.8l3.1,-3 .4,.3 -3.1,2.9zM242.1,77.8l3.1,-3.1 .4,.3 -3.1,3.1zM245.2,74.7l3.1,-3.1 .4,.4 -3.1,3zM248.3,71.6l3.2,-3.2 .4,.4 -3.2,3.2zM251.5,68.4l3.1,-3.3 .4,.5 -3.1,3.2zM254.6,65.1l3.2,-3.3 .4,.6 -3.2,3.2zM257.8,61.8l3.2,-3.3 .4,.7 -3.2,3.2zM261,58.5l3.2,-3.2 .4,.7 -3.2,3.2zM264.2,55.3l3.3,-3.3 .3,.8 -3.2,3.2zM267.5,52l3.2,-3.2 .3,.9 -3.2,3.1zM270.7,48.8l3.2,-3.1 .4,.9 -3.3,3.1z"/>
<path fill="#6ccde4" d="M101.3,160.7l2.6,.1 .6,-.4 -2.6,0zM103.9,160.8l2.6,0 .6,-.5 -2.6,.1zM106.5,160.8l2.7,-.2 .5,-.5 -2.6,.2zM109.2,160.6l2.6,-.3 .5,-.6 -2.6,.4zM111.8,160.3l2.6,-.3 .5,-.7 -2.6,.4zM114.4,160l2.6,-.5 .6,-.7 -2.7,.5zM117,159.5l2.7,-.5 .5,-.8 -2.6,.6zM119.7,159l2.6,-.6 .5,-.8 -2.6,.6zM122.3,158.4l2.7,-.7 .5,-.8 -2.7,.7zM125,157.7l2.6,-.7 .5,-.8 -2.6,.7zM127.6,157l2.7,-.7 .5,-.9 -2.7,.8z"/>
<path fill="#71d6de" d="M130.3,156.3l2.6,-.8 .6,-.9 -2.7,.8zM132.9,155.5l2.7,-.9 .5,-.9 -2.6,.9zM135.6,154.6l2.7,-.9 .5,-1 -2.7,1zM138.3,153.7l2.7,-1 .5,-.9 -2.7,.9zM141,152.7l2.7,-1 .5,-1 -2.7,1.1zM143.7,151.7l2.7,-1.1 .5,-1 -2.7,1.1zM146.4,150.6l2.7,-1.1 .5,-1 -2.7,1.1zM149.1,149.5l2.7,-1.3 .5,-1 -2.7,1.3zM151.8,148.2l2.8,-1.2 .5,-1.1 -2.8,1.3zM154.6,147l2.7,-1.4 .5,-1 -2.7,1.3zM157.3,145.6l2.7,-1.4 .5,-1 -2.7,1.4zM160,144.2l2.8,-1.5 .5,-1 -2.8,1.5zM162.8,142.7l2.8,-1.6 .5,-1 -2.8,1.6zM165.6,141.1l2.7,-1.6 .5,-1 -2.7,1.6zM168.3,139.5l2.8,-1.7 .5,-1 -2.8,1.7zM171.1,137.8l2.8,-1.8 .5,-1 -2.8,1.8zM173.9,136l2.8,-1.9 .5,-1 -2.8,1.9zM176.7,134.1l2.8,-2 .5,-.9 -2.8,1.9z"/>
<path fill="#6ccde4" d="M179.5,132.1l2.9,-2 .5,-.9 -2.9,2zM182.4,130.1l2.8,-2.1 .5,-.9 -2.8,2.1zM185.2,128l2.9,-2.2 .4,-.9 -2.8,2.2zM188.1,125.8l2.8,-2.3 .5,-.8 -2.9,2.2zM190.9,123.5l2.9,-2.3 .5,-.9 -2.9,2.4zM193.8,121.2l2.9,-2.4 .5,-.8 -2.9,2.3zM196.7,118.8l2.9,-2.5 .5,-.7 -2.9,2.4zM199.6,116.3l2.9,-2.5 .5,-.7 -2.9,2.5zM202.5,113.8l2.9,-2.6 .5,-.6 -2.9,2.5zM205.4,111.2l3,-2.5 .4,-.7 -2.9,2.6zM208.4,108.7l2.9,-2.7 .5,-.5 -3,2.5zM211.3,106l3,-2.6 .5,-.5 -3,2.6zM214.3,103.4l3,-2.7 .4,-.4 -2.9,2.6zM217.3,100.7l3,-2.7 .4,-.4 -3,2.7zM220.3,98l3,-2.7 .4,-.4 -3,2.7z"/>
<path fill="#6ed796" d="M223.3,95.3l3,-2.8 .5,-.3 -3.1,2.7zM226.3,92.5l3.1,-2.8 .4,-.3 -3,2.8zM229.4,89.7l3,-2.8 .5,-.3 -3.1,2.8zM232.4,86.9l3.1,-3 .4,-.2 -3,2.9zM235.5,83.9l3.1,-3 .4,-.1 -3.1,2.9zM238.6,80.9l3.1,-3 .4,-.1 -3.1,3zM241.7,77.9l3.1,-3.1 .4,-.1 -3.1,3.1zM244.8,74.8l3.1,-3.3 .4,.1 -3.1,3.1zM247.9,71.5l3.2,-3.2 .4,.1 -3.2,3.2zM251.1,68.3l3.2,-3.3 .3,.1 -3.1,3.3zM254.3,65l3.1,-3.4 .4,.2 -3.2,3.3zM257.4,61.6l3.2,-3.3 .4,.2 -3.2,3.3zM260.6,58.3l3.3,-3.3 .3,.3 -3.2,3.2zM263.9,55l3.2,-3.3 .4,.3 -3.3,3.3zM267.1,51.7l3.2,-3.2 .4,.3 -3.2,3.2zM270.3,48.5l3.3,-3.2 .3,.4 -3.2,3.1z"/>
<path fill="#6ccde4" d="M100.7,161l2.7,.2 .5,-.4 -2.6,-.1zM103.4,161.2l2.6,0 .5,-.4 -2.6,0zM106,161.2l2.6,-.1 .6,-.5 -2.7,.2zM108.6,161.1l2.6,-.2 .6,-.6 -2.6,.3zM111.2,160.9l2.7,-.3 .5,-.6 -2.6,.3zM113.9,160.6l2.6,-.4 .5,-.7 -2.6,.5zM116.5,160.2l2.6,-.5 .6,-.7 -2.7,.5zM119.1,159.7l2.7,-.5 .5,-.8 -2.6,.6zM121.8,159.2l2.6,-.6 .6,-.9 -2.7,.7zM124.4,158.6l2.7,-.7 .5,-.9 -2.6,.7zM127.1,157.9l2.6,-.7 .6,-.9 -2.7,.7z"/>
<path fill="#71d6de" d="M129.7,157.2l2.7,-.8 .5,-.9 -2.6,.8zM132.4,156.4l2.7,-.8 .5,-1 -2.7,.9zM135.1,155.6l2.7,-.9 .5,-1 -2.7,.9zM137.8,154.7l2.7,-1 .5,-1 -2.7,1zM140.5,153.7l2.7,-1 .5,-1 -2.7,1zM143.2,152.7l2.7,-1.1 .5,-1 -2.7,1.1zM145.9,151.6l2.7,-1.1 .5,-1 -2.7,1.1zM148.6,150.5l2.7,-1.3 .5,-1 -2.7,1.3zM151.3,149.2l2.7,-1.2 .6,-1 -2.8,1.2zM154,148l2.8,-1.4 .5,-1 -2.7,1.4zM156.8,146.6l2.7,-1.4 .5,-1 -2.7,1.4zM159.5,145.2l2.8,-1.5 .5,-1 -2.8,1.5zM162.3,143.7l2.8,-1.6 .5,-1 -2.8,1.6zM165.1,142.1l2.7,-1.6 .5,-1 -2.7,1.6zM167.8,140.5l2.8,-1.7 .5,-1 -2.8,1.7zM170.6,138.8l2.8,-1.8 .5,-1 -2.8,1.8zM173.4,137l2.8,-1.9 .5,-1 -2.8,1.9zM176.2,135.1l2.8,-2 .5,-1 -2.8,2zM179,133.1l2.9,-2 .5,-1 -2.9,2zM181.9,131.1l2.8,-2.2 .5,-.9 -2.8,2.1z"/>
<path fill="#6ccde4" d="M184.7,128.9l2.9,-2.2 .5,-.9 -2.9,2.2zM187.6,126.7l2.8,-2.3 .5,-.9 -2.8,2.3zM190.4,124.4l2.9,-2.3 .5,-.9 -2.9,2.3zM193.3,122.1l2.9,-2.5 .5,-.8 -2.9,2.4zM196.2,119.6l2.9,-2.4 .5,-.9 -2.9,2.5zM199.1,117.2l2.9,-2.6 .5,-.8 -2.9,2.5zM202,114.6l3,-2.6 .4,-.8 -2.9,2.6zM205,112l2.9,-2.6 .5,-.7 -3,2.5zM207.9,109.4l3,-2.6 .4,-.8 -2.9,2.7zM210.9,106.8l2.9,-2.7 .5,-.7 -3,2.6zM213.8,104.1l3,-2.7 .5,-.7 -3,2.7zM216.8,101.4l3,-2.7 .5,-.7 -3,2.7zM219.8,98.7l3,-2.8 .5,-.6 -3,2.7zM222.8,95.9l3.1,-2.8 .4,-.6 -3,2.8zM225.9,93.1l3,-2.9 .5,-.5 -3.1,2.8zM228.9,90.2l3.1,-2.9 .4,-.4 -3,2.8zM232,87.3l3.1,-2.9 .4,-.5 -3.1,3zM235.1,84.4l3,-3 .5,-.5 -3.1,3z"/>
<path fill="#6ed796" d="M238.1,81.4l3.1,-3.1 .5,-.4 -3.1,3zM241.2,78.3l3.2,-3.2 .4,-.3 -3.1,3.1zM244.4,75.1l3.1,-3.2 .4,-.4 -3.1,3.3zM247.5,71.9l3.2,-3.3 .4,-.3 -3.2,3.2zM250.7,68.6l3.1,-3.4 .5,-.2 -3.2,3.3zM253.8,65.2l3.2,-3.3 .4,-.3 -3.1,3.4zM257,61.9l3.2,-3.4 .4,-.2 -3.2,3.3zM260.2,58.5l3.3,-3.3 .4,-.2 -3.3,3.3zM263.5,55.2l3.2,-3.3 .4,-.2 -3.2,3.3zM266.7,51.9l3.2,-3.3 .4,-.1 -3.2,3.2zM269.9,48.6l3.3,-3.1 .4,-.2 -3.3,3.2z"/>
<path fill="#6ccde4" d="M100.2,161.4l2.6,.2 .6,-.4 -2.7,-.2zM102.8,161.6l2.6,.1 .6,-.5 -2.6,0zM105.4,161.7l2.6,0 .6,-.6 -2.6,.1zM108,161.7l2.7,-.2 .5,-.6 -2.6,.2zM110.7,161.5l2.6,-.2 .6,-.7 -2.7,.3zM113.3,161.3l2.7,-.4 .5,-.7 -2.6,.4zM116,160.9l2.6,-.4 .5,-.8 -2.6,.5zM118.6,160.5l2.6,-.5 .6,-.8 -2.7,.5zM121.2,160l2.7,-.6 .5,-.8 -2.6,.6zM123.9,159.4l2.7,-.6 .5,-.9 -2.7,.7zM126.6,158.8l2.6,-.7 .5,-.9 -2.6,.7z"/>
<path fill="#71d6de" d="M129.2,158.1l2.7,-.8 .5,-.9 -2.7,.8zM131.9,157.3l2.7,-.8 .5,-.9 -2.7,.8zM134.6,156.5l2.7,-.9 .5,-.9 -2.7,.9zM137.3,155.6l2.7,-.9 .5,-1 -2.7,1zM140,154.7l2.7,-1.1 .5,-.9 -2.7,1zM142.7,153.6l2.7,-1 .5,-1 -2.7,1.1zM145.4,152.6l2.7,-1.2 .5,-.9 -2.7,1.1zM148.1,151.4l2.7,-1.2 .5,-1 -2.7,1.3zM150.8,150.2l2.7,-1.2 .5,-1 -2.7,1.2zM153.5,149l2.8,-1.4 .5,-1 -2.8,1.4zM156.3,147.6l2.7,-1.4 .5,-1 -2.7,1.4zM159,146.2l2.8,-1.5 .5,-1 -2.8,1.5zM161.8,144.7l2.8,-1.5 .5,-1.1 -2.8,1.6zM164.6,143.2l2.7,-1.7 .5,-1 -2.7,1.6zM167.3,141.5l2.8,-1.7 .5,-1 -2.8,1.7zM170.1,139.8l2.8,-1.8 .5,-1 -2.8,1.8zM172.9,138l2.8,-1.9 .5,-1 -2.8,1.9zM175.7,136.1l2.9,-1.9 .4,-1.1 -2.8,2zM178.6,134.2l2.8,-2.1 .5,-1 -2.9,2zM181.4,132.1l2.8,-2.1 .5,-1.1 -2.8,2.2zM184.2,130l2.9,-2.2 .5,-1.1 -2.9,2.2zM187.1,127.8l2.9,-2.3 .4,-1.1 -2.8,2.3zM190,125.5l2.8,-2.4 .5,-1 -2.9,2.3zM192.8,123.1l2.9,-2.5 .5,-1 -2.9,2.5zM195.7,120.6l2.9,-2.4 .5,-1 -2.9,2.4z"/>
<path fill="#6ccde4" d="M198.6,118.2l3,-2.6 .4,-1 -2.9,2.6zM201.6,115.6l2.9,-2.6 .5,-1 -3,2.6zM204.5,113l2.9,-2.6 .5,-1 -2.9,2.6zM207.4,110.4l3,-2.7 .5,-.9 -3,2.6zM210.4,107.7l3,-2.7 .4,-.9 -2.9,2.7zM213.4,105l3,-2.7 .4,-.9 -3,2.7zM216.4,102.3l3,-2.8 .4,-.8 -3,2.7zM219.4,99.5l3,-2.8 .4,-.8 -3,2.8zM222.4,96.7l3,-2.8 .5,-.8 -3.1,2.8zM225.4,93.9l3.1,-2.9 .4,-.8 -3,2.9zM228.5,91l3,-2.9 .5,-.8 -3.1,2.9zM231.5,88.1l3.1,-3 .5,-.7 -3.1,2.9zM234.6,85.1l3.1,-3.1 .4,-.6 -3,3zM237.7,82l3.1,-3.1 .4,-.6 -3.1,3.1zM240.8,78.9l3.1,-3.2 .5,-.6 -3.2,3.2zM243.9,75.7l3.2,-3.2 .4,-.6 -3.1,3.2zM247.1,72.5l3.1,-3.3 .5,-.6 -3.2,3.3zM250.2,69.2l3.2,-3.4 .4,-.6 -3.1,3.4zM253.4,65.8l3.2,-3.3 .4,-.6 -3.2,3.3zM256.6,62.5l3.2,-3.4 .4,-.6 -3.2,3.4zM259.8,59.1l3.2,-3.3 .5,-.6 -3.3,3.3zM263,55.8l3.3,-3.3 .4,-.6 -3.2,3.3zM266.3,52.5l3.2,-3.3 .4,-.6 -3.2,3.3zM269.5,49.2l3.3,-3.2 .4,-.5 -3.3,3.1z"/>
<path fill="#6ccde4" d="M99.6,161.7l2.6,.3 .6,-.4 -2.6,-.2zM102.2,162l2.7,.2 .5,-.5 -2.6,-.1zM104.9,162.2l2.6,0 .5,-.5 -2.6,0zM107.5,162.2l2.6,0 .6,-.7 -2.7,.2zM110.1,162.2l2.7,-.2 .5,-.7 -2.6,.2zM112.8,162l2.6,-.3 .6,-.8 -2.7,.4zM115.4,161.7l2.7,-.4 .5,-.8 -2.6,.4zM118.1,161.3l2.6,-.5 .5,-.8 -2.6,.5zM120.7,160.8l2.7,-.6 .5,-.8 -2.7,.6zM123.4,160.2l2.6,-.6 .6,-.8 -2.7,.6zM126,159.6l2.7,-.6 .5,-.9 -2.6,.7z"/>
<path fill="#71d6de" d="M128.7,159l2.7,-.8 .5,-.9 -2.7,.8zM131.4,158.2l2.6,-.8 .6,-.9 -2.7,.8zM134,157.4l2.7,-.9 .6,-.9 -2.7,.9zM136.7,156.5l2.7,-.9 .6,-.9 -2.7,.9zM139.4,155.6l2.7,-1 .6,-1 -2.7,1.1zM142.1,154.6l2.7,-1.1 .6,-.9 -2.7,1zM144.8,153.5l2.8,-1.1 .5,-1 -2.7,1.2zM147.6,152.4l2.7,-1.2 .5,-1 -2.7,1.2zM150.3,151.2l2.7,-1.2 .5,-1 -2.7,1.2zM153,150l2.8,-1.4 .5,-1 -2.8,1.4zM155.8,148.6l2.7,-1.4 .5,-1 -2.7,1.4zM158.5,147.2l2.8,-1.4 .5,-1.1 -2.8,1.5zM161.3,145.8l2.7,-1.6 .6,-1 -2.8,1.5zM164,144.2l2.8,-1.6 .5,-1.1 -2.7,1.7zM166.8,142.6l2.8,-1.7 .5,-1.1 -2.8,1.7zM169.6,140.9l2.8,-1.8 .5,-1.1 -2.8,1.8zM172.4,139.1l2.8,-1.9 .5,-1.1 -2.8,1.9zM175.2,137.2l2.9,-1.9 .5,-1.1 -2.9,1.9zM178.1,135.3l2.8,-2.1 .5,-1.1 -2.8,2.1zM180.9,133.2l2.8,-2.1 .5,-1.1 -2.8,2.1zM183.7,131.1l2.9,-2.2 .5,-1.1 -2.9,2.2zM186.6,128.9l2.9,-2.3 .5,-1.1 -2.9,2.3zM189.5,126.6l2.9,-2.4 .4,-1.1 -2.8,2.4zM192.4,124.2l2.8,-2.4 .5,-1.2 -2.9,2.5zM195.2,121.8l3,-2.5 .4,-1.1 -2.9,2.4zM198.2,119.3l2.9,-2.6 .5,-1.1 -3,2.6zM201.1,116.7l2.9,-2.6 .5,-1.1 -2.9,2.6zM204,114.1l3,-2.7 .4,-1 -2.9,2.6zM207,111.4l2.9,-2.6 .5,-1.1 -3,2.7zM209.9,108.8l3,-2.7 .5,-1.1 -3,2.7zM212.9,106.1l3,-2.8 .5,-1 -3,2.7zM215.9,103.3l3,-2.8 .5,-1 -3,2.8zM218.9,100.5l3,-2.8 .5,-1 -3,2.8z"/>
<path fill="#6ccde4" d="M221.9,97.7l3.1,-2.8 .4,-1 -3,2.8zM225,94.9l3,-2.9 .5,-1 -3.1,2.9zM228,92l3.1,-3 .4,-.9 -3,2.9zM231.1,89l3,-3 .5,-.9 -3.1,3zM234.1,86l3.1,-3 .5,-1 -3.1,3.1zM237.2,83l3.2,-3.1 .4,-1 -3.1,3.1zM240.4,79.9l3.1,-3.2 .4,-1 -3.1,3.2zM243.5,76.7l3.1,-3.3 .5,-.9 -3.2,3.2zM246.6,73.4l3.2,-3.3 .4,-.9 -3.1,3.3zM249.8,70.1l3.2,-3.3 .4,-1 -3.2,3.4zM253,66.8l3.2,-3.4 .4,-.9 -3.2,3.3zM256.2,63.4l3.2,-3.3 .4,-1 -3.2,3.4zM259.4,60.1l3.2,-3.4 .4,-.9 -3.2,3.3zM262.6,56.7l3.2,-3.3 .5,-.9 -3.3,3.3zM265.8,53.4l3.3,-3.2 .4,-1 -3.2,3.3z"/>
<path fill="#71d6de" d="M269.1,50.2l3.3,-3.1 .4,-1.1 -3.3,3.2z"/>
<path fill="#6ccde4" d="M99,162.1l2.7,.4 .5,-.5 -2.6,-.3zM101.7,162.5l2.6,.2 .6,-.5 -2.7,-.2zM104.3,162.7l2.6,.1 .6,-.6 -2.6,0zM106.9,162.8l2.7,0 .5,-.6 -2.6,0zM109.6,162.8l2.6,-.2 .6,-.6 -2.7,.2zM112.2,162.6l2.7,-.2 .5,-.7 -2.6,.3zM114.9,162.4l2.6,-.4 .6,-.7 -2.7,.4zM117.5,162l2.7,-.4 .5,-.8 -2.6,.5zM120.2,161.6l2.6,-.5 .6,-.9 -2.7,.6zM122.8,161.1l2.7,-.6 .5,-.9 -2.6,.6zM125.5,160.5l2.7,-.7 .5,-.8 -2.7,.6z"/>
<path fill="#71d6de" d="M128.2,159.8l2.6,-.7 .6,-.9 -2.7,.8zM130.8,159.1l2.7,-.8 .5,-.9 -2.6,.8zM133.5,158.3l2.7,-.8 .5,-1 -2.7,.9zM136.2,157.5l2.7,-.9 .5,-1 -2.7,.9zM138.9,156.6l2.7,-1 .5,-1 -2.7,1zM141.6,155.6l2.7,-1.1 .5,-1 -2.7,1.1zM144.3,154.5l2.7,-1.1 .6,-1 -2.8,1.1zM147,153.4l2.8,-1.2 .5,-1 -2.7,1.2zM149.8,152.2l2.7,-1.2 .5,-1 -2.7,1.2zM152.5,151l2.8,-1.4 .5,-1 -2.8,1.4zM155.3,149.6l2.7,-1.3 .5,-1.1 -2.7,1.4zM158,148.3l2.8,-1.5 .5,-1 -2.8,1.4zM160.8,146.8l2.7,-1.5 .5,-1.1 -2.7,1.6zM163.5,145.3l2.8,-1.6 .5,-1.1 -2.8,1.6zM166.3,143.7l2.8,-1.7 .5,-1.1 -2.8,1.7zM169.1,142l2.8,-1.8 .5,-1.1 -2.8,1.8zM171.9,140.2l2.8,-1.8 .5,-1.2 -2.8,1.9zM174.7,138.4l2.9,-2 .5,-1.1 -2.9,1.9zM177.6,136.4l2.8,-2 .5,-1.2 -2.8,2.1zM180.4,134.4l2.8,-2.1 .5,-1.2 -2.8,2.1zM183.2,132.3l2.9,-2.2 .5,-1.2 -2.9,2.2zM186.1,130.1l2.9,-2.3 .5,-1.2 -2.9,2.3zM189,127.8l2.9,-2.4 .5,-1.2 -2.9,2.4zM191.9,125.4l2.9,-2.4 .4,-1.2 -2.8,2.4zM194.8,123l2.9,-2.5 .5,-1.2 -3,2.5zM197.7,120.5l2.9,-2.6 .5,-1.2 -2.9,2.6zM200.6,117.9l2.9,-2.6 .5,-1.2 -2.9,2.6zM203.5,115.3l3,-2.6 .5,-1.3 -3,2.7zM206.5,112.7l3,-2.7 .4,-1.2 -2.9,2.6zM209.5,110l2.9,-2.7 .5,-1.2 -3,2.7zM212.4,107.3l3,-2.8 .5,-1.2 -3,2.8zM215.4,104.5l3,-2.8 .5,-1.2 -3,2.8zM218.4,101.7l3.1,-2.8 .4,-1.2 -3,2.8zM221.5,98.9l3,-2.8 .5,-1.2 -3.1,2.8zM224.5,96.1l3,-2.9 .5,-1.2 -3,2.9zM227.5,93.2l3.1,-3 .5,-1.2 -3.1,3zM230.6,90.2l3.1,-3 .4,-1.2 -3,3zM233.7,87.2l3.1,-3 .4,-1.2 -3.1,3zM236.8,84.2l3.1,-3.1 .5,-1.2 -3.2,3.1zM239.9,81.1l3.1,-3.2 .5,-1.2 -3.1,3.2zM243,77.9l3.2,-3.3 .4,-1.2 -3.1,3.3zM246.2,74.6l3.1,-3.3 .5,-1.2 -3.2,3.3zM249.3,71.3l3.2,-3.3 .5,-1.2 -3.2,3.3zM252.5,68l3.2,-3.3 .5,-1.3 -3.2,3.4zM255.7,64.7l3.2,-3.3 .5,-1.3 -3.2,3.3zM258.9,61.4l3.3,-3.3 .4,-1.4 -3.2,3.4z"/>
<path fill="#76e0d7" d="M262.2,58.1l3.2,-3.3 .4,-1.4 -3.2,3.3zM265.4,54.8l3.2,-3.2 .5,-1.4 -3.3,3.2zM268.6,51.6l3.3,-3.1 .5,-1.4 -3.3,3.1z"/>
<path fill="#6ccde4" d="M98.5,162.5l2.6,.4 .6,-.4 -2.7,-.4zM101.1,162.9l2.6,.3 .6,-.5 -2.6,-.2zM103.7,163.2l2.7,.1 .5,-.5 -2.6,-.1zM106.4,163.3l2.6,.1 .6,-.6 -2.7,0zM109,163.4l2.7,-.1 .5,-.7 -2.6,.2zM111.7,163.3l2.6,-.2 .6,-.7 -2.7,.2zM114.3,163.1l2.7,-.3 .5,-.8 -2.6,.4zM117,162.8l2.6,-.4 .6,-.8 -2.7,.4zM119.6,162.4l2.7,-.5 .5,-.8 -2.6,.5zM122.3,161.9l2.7,-.5 .5,-.9 -2.7,.6zM125,161.4l2.6,-.7 .6,-.9 -2.7,.7z"/>
<path fill="#71d6de" d="M127.6,160.7l2.7,-.7 .5,-.9 -2.6,.7zM130.3,160l2.7,-.7 .5,-1 -2.7,.8zM133,159.3l2.7,-.9 .5,-.9 -2.7,.8zM135.7,158.4l2.7,-.9 .5,-.9 -2.7,.9zM138.4,157.5l2.7,-1 .5,-.9 -2.7,1zM141.1,156.5l2.7,-1 .5,-1 -2.7,1.1zM143.8,155.5l2.7,-1.1 .5,-1 -2.7,1.1zM146.5,154.4l2.8,-1.2 .5,-1 -2.8,1.2zM149.3,153.2l2.7,-1.2 .5,-1 -2.7,1.2zM152,152l2.7,-1.3 .6,-1.1 -2.8,1.4zM154.7,150.7l2.8,-1.4 .5,-1 -2.7,1.3zM157.5,149.3l2.8,-1.4 .5,-1.1 -2.8,1.5zM160.3,147.9l2.7,-1.5 .5,-1.1 -2.7,1.5zM163,146.4l2.8,-1.6 .5,-1.1 -2.8,1.6zM165.8,144.8l2.8,-1.7 .5,-1.1 -2.8,1.7zM168.6,143.1l2.8,-1.7 .5,-1.2 -2.8,1.8zM171.4,141.4l2.8,-1.9 .5,-1.1 -2.8,1.8zM174.2,139.5l2.9,-1.9 .5,-1.2 -2.9,2zM177.1,137.6l2.8,-2 .5,-1.2 -2.8,2z"/>
<path fill="#76e0d7" d="M179.9,135.6l2.8,-2.1 .5,-1.2 -2.8,2.1zM182.7,133.5l2.9,-2.2 .5,-1.2 -2.9,2.2zM185.6,131.3l2.9,-2.3 .5,-1.2 -2.9,2.3zM188.5,129l2.9,-2.3 .5,-1.3 -2.9,2.4zM191.4,126.7l2.9,-2.4 .5,-1.3 -2.9,2.4zM194.3,124.3l2.9,-2.5 .5,-1.3 -2.9,2.5zM197.2,121.8l2.9,-2.6 .5,-1.3 -2.9,2.6zM200.1,119.2l2.9,-2.5 .5,-1.4 -2.9,2.6zM203,116.7l3,-2.7 .5,-1.3 -3,2.6zM206,114l3,-2.7 .5,-1.3 -3,2.7zM209,111.3l3,-2.7 .4,-1.3 -2.9,2.7zM212,108.6l2.9,-2.7 .5,-1.4 -3,2.8zM214.9,105.9l3.1,-2.8 .4,-1.4 -3,2.8zM218,103.1l3,-2.8 .5,-1.4 -3.1,2.8zM221,100.3l3,-2.9 .5,-1.3 -3,2.8zM224,97.4l3.1,-2.9 .4,-1.3 -3,2.9zM227.1,94.5l3,-2.9 .5,-1.4 -3.1,3zM230.1,91.6l3.1,-3 .5,-1.4 -3.1,3zM233.2,88.6l3.1,-3 .5,-1.4 -3.1,3zM236.3,85.6l3.1,-3.1 .5,-1.4 -3.1,3.1zM239.4,82.5l3.2,-3.2 .4,-1.4 -3.1,3.2zM242.6,79.3l3.1,-3.2 .5,-1.5 -3.2,3.3zM245.7,76.1l3.2,-3.2 .4,-1.6 -3.1,3.3zM248.9,72.9l3.2,-3.3 .4,-1.6 -3.2,3.3zM252.1,69.6l3.1,-3.3 .5,-1.6 -3.2,3.3zM255.2,66.3l3.3,-3.3 .4,-1.6 -3.2,3.3zM258.5,63l3.2,-3.3 .5,-1.6 -3.3,3.3zM261.7,59.7l3.2,-3.2 .5,-1.7 -3.2,3.3z"/>
<path fill="#7ce9d1" d="M264.9,56.5l3.3,-3.2 .4,-1.7 -3.2,3.2zM268.2,53.3l3.2,-3 .5,-1.8 -3.3,3.1z"/>
<path fill="#6ccde4" d="M97.9,162.8l2.6,.5 .6,-.4 -2.6,-.4zM100.5,163.3l2.7,.4 .5,-.5 -2.6,-.3zM103.2,163.7l2.6,.2 .6,-.6 -2.7,-.1zM105.8,163.9l2.7,.1 .5,-.6 -2.6,-.1zM108.5,164l2.6,-.1 .6,-.6 -2.7,.1zM111.1,163.9l2.7,-.1 .5,-.7 -2.6,.2zM113.8,163.8l2.6,-.3 .6,-.7 -2.7,.3zM116.4,163.5l2.7,-.3 .5,-.8 -2.6,.4zM119.1,163.2l2.6,-.5 .6,-.8 -2.7,.5zM121.7,162.7l2.7,-.5 .6,-.8 -2.7,.5zM124.4,162.2l2.7,-.6 .5,-.9 -2.6,.7z"/>
<path fill="#71d6de" d="M127.1,161.6l2.7,-.7 .5,-.9 -2.7,.7zM129.8,160.9l2.7,-.7 .5,-.9 -2.7,.7zM132.5,160.2l2.7,-.8 .5,-1 -2.7,.9zM135.2,159.4l2.7,-.9 .5,-1 -2.7,.9zM137.9,158.5l2.7,-1 .5,-1 -2.7,1zM140.6,157.5l2.7,-1 .5,-1 -2.7,1zM143.3,156.5l2.7,-1.1 .5,-1 -2.7,1.1zM146,155.4l2.7,-1.2 .6,-1 -2.8,1.2zM148.7,154.2l2.8,-1.2 .5,-1 -2.7,1.2zM151.5,153l2.7,-1.3 .5,-1 -2.7,1.3zM154.2,151.7l2.8,-1.3 .5,-1.1 -2.8,1.4zM157,150.4l2.8,-1.4 .5,-1.1 -2.8,1.4zM159.8,149l2.7,-1.5 .5,-1.1 -2.7,1.5zM162.5,147.5l2.8,-1.6 .5,-1.1 -2.8,1.6zM165.3,145.9l2.8,-1.6 .5,-1.2 -2.8,1.7z"/>
<path fill="#76e0d7" d="M168.1,144.3l2.8,-1.7 .5,-1.2 -2.8,1.7zM170.9,142.6l2.8,-1.8 .5,-1.3 -2.8,1.9zM173.7,140.8l2.9,-1.9 .5,-1.3 -2.9,1.9zM176.6,138.9l2.8,-2 .5,-1.3 -2.8,2zM179.4,136.9l2.9,-2.1 .4,-1.3 -2.8,2.1zM182.3,134.8l2.8,-2.1 .5,-1.4 -2.9,2.2zM185.1,132.7l2.9,-2.3 .5,-1.4 -2.9,2.3zM188,130.4l2.9,-2.3 .5,-1.4 -2.9,2.3zM190.9,128.1l2.9,-2.4 .5,-1.4 -2.9,2.4zM193.8,125.7l2.9,-2.5 .5,-1.4 -2.9,2.5zM196.7,123.2l2.9,-2.5 .5,-1.5 -2.9,2.6zM199.6,120.7l3,-2.6 .4,-1.4 -2.9,2.5zM202.6,118.1l2.9,-2.6 .5,-1.5 -3,2.7zM205.5,115.5l3,-2.7 .5,-1.5 -3,2.7zM208.5,112.8l3,-2.7 .5,-1.5 -3,2.7zM211.5,110.1l3,-2.7 .4,-1.5 -2.9,2.7zM214.5,107.4l3,-2.8 .5,-1.5 -3.1,2.8zM217.5,104.6l3,-2.8 .5,-1.5 -3,2.8zM220.5,101.8l3,-2.8 .5,-1.6 -3,2.9zM223.5,99l3.1,-2.9 .5,-1.6 -3.1,2.9zM226.6,96.1l3.1,-2.9 .4,-1.6 -3,2.9zM229.7,93.2l3,-3 .5,-1.6 -3.1,3zM232.7,90.2l3.1,-3 .5,-1.6 -3.1,3zM235.8,87.2l3.2,-3.1 .4,-1.6 -3.1,3.1zM239,84.1l3.1,-3.1 .5,-1.7 -3.2,3.2zM242.1,81l3.1,-3.2 .5,-1.7 -3.1,3.2z"/>
<path fill="#7ce9d1" d="M245.2,77.8l3.2,-3.2 .5,-1.7 -3.2,3.2zM248.4,74.6l3.2,-3.2 .5,-1.8 -3.2,3.3zM251.6,71.4l3.2,-3.3 .4,-1.8 -3.1,3.3zM254.8,68.1l3.2,-3.2 .5,-1.9 -3.3,3.3zM258,64.9l3.2,-3.2 .5,-2 -3.2,3.3zM261.2,61.7l3.2,-3.2 .5,-2 -3.2,3.2zM264.4,58.5l3.3,-3.1 .5,-2.1 -3.3,3.2zM267.7,55.4l3.3,-3.1 .4,-2 -3.2,3z"/>
<path fill="#6ccde4" d="M97.3,163.2l2.7,.6 .5,-.5 -2.6,-.5zM100,163.8l2.6,.4 .6,-.5 -2.7,-.4zM102.6,164.2l2.7,.3 .5,-.6 -2.6,-.2zM105.3,164.5l2.6,.1 .6,-.6 -2.7,-.1zM107.9,164.6l2.7,0 .5,-.7 -2.6,.1zM110.6,164.6l2.6,-.1 .6,-.7 -2.7,.1zM113.2,164.5l2.7,-.2 .5,-.8 -2.6,.3zM115.9,164.3l2.6,-.3 .6,-.8 -2.7,.3zM118.5,164l2.7,-.4 .5,-.9 -2.6,.5zM121.2,163.6l2.7,-.5 .5,-.9 -2.7,.5zM123.9,163.1l2.7,-.6 .5,-.9 -2.7,.6z"/>
<path fill="#71d6de" d="M126.6,162.5l2.6,-.6 .6,-1 -2.7,.7zM129.2,161.9l2.7,-.8 .6,-.9 -2.7,.7zM131.9,161.1l2.7,-.8 .6,-.9 -2.7,.8zM134.6,160.3l2.7,-.9 .6,-.9 -2.7,.9zM137.3,159.4l2.7,-.9 .6,-1 -2.7,1zM140,158.5l2.8,-1 .5,-1 -2.7,1zM142.8,157.5l2.7,-1.1 .5,-1 -2.7,1.1zM145.5,156.4l2.7,-1.2 .5,-1 -2.7,1.2zM148.2,155.2l2.8,-1.2 .5,-1 -2.8,1.2zM151,154l2.7,-1.2 .5,-1.1 -2.7,1.3zM153.7,152.8l2.8,-1.3 .5,-1.1 -2.8,1.3zM156.5,151.5l2.7,-1.4 .6,-1.1 -2.8,1.4zM159.2,150.1l2.8,-1.5 .5,-1.1 -2.7,1.5z"/>
<path fill="#76e0d7" d="M162,148.6l2.8,-1.5 .5,-1.2 -2.8,1.6zM164.8,147.1l2.8,-1.6 .5,-1.2 -2.8,1.6zM167.6,145.5l2.8,-1.7 .5,-1.2 -2.8,1.7zM170.4,143.8l2.8,-1.7 .5,-1.3 -2.8,1.8zM173.2,142.1l2.9,-1.9 .5,-1.3 -2.9,1.9zM176.1,140.2l2.8,-2 .5,-1.3 -2.8,2zM178.9,138.2l2.9,-2 .5,-1.4 -2.9,2.1zM181.8,136.2l2.8,-2.1 .5,-1.4 -2.8,2.1zM184.6,134.1l2.9,-2.3 .5,-1.4 -2.9,2.3zM187.5,131.8l2.9,-2.3 .5,-1.4 -2.9,2.3zM190.4,129.5l2.9,-2.3 .5,-1.5 -2.9,2.4zM193.3,127.2l2.9,-2.5 .5,-1.5 -2.9,2.5zM196.2,124.7l2.9,-2.5 .5,-1.5 -2.9,2.5zM199.1,122.2l3,-2.5 .5,-1.6 -3,2.6zM202.1,119.7l2.9,-2.7 .5,-1.5 -2.9,2.6zM205,117l3,-2.6 .5,-1.6 -3,2.7zM208,114.4l3,-2.7 .5,-1.6 -3,2.7zM211,111.7l3,-2.7 .5,-1.6 -3,2.7z"/>
<path fill="#7ce9d1" d="M214,109l3,-2.7 .5,-1.7 -3,2.8zM217,106.3l3,-2.8 .5,-1.7 -3,2.8zM220,103.5l3,-2.9 .5,-1.6 -3,2.8zM223,100.6l3.1,-2.8 .5,-1.7 -3.1,2.9zM226.1,97.8l3.1,-2.9 .5,-1.7 -3.1,2.9zM229.2,94.9l3.1,-3 .4,-1.7 -3,3zM232.3,91.9l3.1,-3 .4,-1.7 -3.1,3zM235.4,88.9l3.1,-3 .5,-1.8 -3.2,3.1zM238.5,85.9l3.1,-3.1 .5,-1.8 -3.1,3.1zM241.6,82.8l3.1,-3.1 .5,-1.9 -3.1,3.2zM244.7,79.7l3.2,-3.1 .5,-2 -3.2,3.2zM247.9,76.6l3.2,-3.2 .5,-2 -3.2,3.2zM251.1,73.4l3.2,-3.2 .5,-2.1 -3.2,3.3zM254.3,70.2l3.2,-3.1 .5,-2.2 -3.2,3.2z"/>
<path fill="#81f3ca" d="M257.5,67.1l3.2,-3.2 .5,-2.2 -3.2,3.2zM260.7,63.9l3.2,-3.1 .5,-2.3 -3.2,3.2zM263.9,60.8l3.3,-3.1 .5,-2.3 -3.3,3.1zM267.2,57.7l3.3,-3 .5,-2.4 -3.3,3.1z"/>
<path fill="#6ccde4" d="M96.8,163.6l2.6,.6 .6,-.4 -2.7,-.6zM99.4,164.2l2.7,.5 .5,-.5 -2.6,-.4zM102.1,164.7l2.6,.3 .6,-.5 -2.7,-.3zM104.7,165l2.7,.2 .5,-.6 -2.6,-.1zM107.4,165.2l2.6,.1 .6,-.7 -2.7,0zM110,165.3l2.7,-.1 .5,-.7 -2.6,.1zM112.7,165.2l2.6,-.1 .6,-.8 -2.7,.2zM115.3,165.1l2.7,-.3 .5,-.8 -2.6,.3zM118,164.8l2.7,-.4 .5,-.8 -2.7,.4zM120.7,164.4l2.6,-.4 .6,-.9 -2.7,.5zM123.3,164l2.7,-.6 .6,-.9 -2.7,.6z"/>
<path fill="#71d6de" d="M126,163.4l2.7,-.6 .5,-.9 -2.6,.6zM128.7,162.8l2.7,-.7 .5,-1 -2.7,.8zM131.4,162.1l2.7,-.8 .5,-1 -2.7,.8zM134.1,161.3l2.7,-.9 .5,-1 -2.7,.9zM136.8,160.4l2.7,-.9 .5,-1 -2.7,.9zM139.5,159.5l2.7,-1 .6,-1 -2.8,1zM142.2,158.5l2.8,-1.1 .5,-1 -2.7,1.1zM145,157.4l2.7,-1.1 .5,-1.1 -2.7,1.2zM147.7,156.3l2.8,-1.2 .5,-1.1 -2.8,1.2zM150.5,155.1l2.7,-1.2 .5,-1.1 -2.7,1.2zM153.2,153.9l2.8,-1.3 .5,-1.1 -2.8,1.3zM156,152.6l2.7,-1.3 .5,-1.2 -2.7,1.4z"/>
<path fill="#76e0d7" d="M158.7,151.3l2.8,-1.5 .5,-1.2 -2.8,1.5zM161.5,149.8l2.8,-1.5 .5,-1.2 -2.8,1.5zM164.3,148.3l2.8,-1.5 .5,-1.3 -2.8,1.6zM167.1,146.8l2.8,-1.7 .5,-1.3 -2.8,1.7zM169.9,145.1l2.8,-1.7 .5,-1.3 -2.8,1.7zM172.7,143.4l2.9,-1.8 .5,-1.4 -2.9,1.9zM175.6,141.6l2.8,-2 .5,-1.4 -2.8,2zM178.4,139.6l2.9,-2 .5,-1.4 -2.9,2zM181.3,137.6l2.8,-2.1 .5,-1.4 -2.8,2.1zM184.1,135.5l2.9,-2.2 .5,-1.5 -2.9,2.3zM187,133.3l2.9,-2.2 .5,-1.6 -2.9,2.3zM189.9,131.1l2.9,-2.4 .5,-1.5 -2.9,2.3z"/>
<path fill="#7ce9d1" d="M192.8,128.7l2.9,-2.4 .5,-1.6 -2.9,2.5zM195.7,126.3l2.9,-2.5 .5,-1.6 -2.9,2.5zM198.6,123.8l3,-2.5 .5,-1.6 -3,2.5zM201.6,121.3l2.9,-2.6 .5,-1.7 -2.9,2.7zM204.5,118.7l3,-2.6 .5,-1.7 -3,2.6zM207.5,116.1l3,-2.7 .5,-1.7 -3,2.7zM210.5,113.4l3,-2.7 .5,-1.7 -3,2.7zM213.5,110.7l3,-2.7 .5,-1.7 -3,2.7zM216.5,108l3,-2.7 .5,-1.8 -3,2.8zM219.5,105.3l3.1,-2.8 .4,-1.9 -3,2.9zM222.6,102.5l3,-2.9 .5,-1.8 -3.1,2.8zM225.6,99.6l3.1,-2.9 .5,-1.8 -3.1,2.9zM228.7,96.7l3.1,-2.9 .5,-1.9 -3.1,3zM231.8,93.8l3.1,-2.9 .5,-2 -3.1,3zM234.9,90.9l3.1,-3 .5,-2 -3.1,3zM238,87.9l3.1,-3 .5,-2.1 -3.1,3.1zM241.1,84.9l3.2,-3.1 .4,-2.1 -3.1,3.1z"/>
<path fill="#81f3ca" d="M244.3,81.8l3.1,-3 .5,-2.2 -3.2,3.1zM247.4,78.8l3.2,-3.1 .5,-2.3 -3.2,3.2zM250.6,75.7l3.2,-3.1 .5,-2.4 -3.2,3.2zM253.8,72.6l3.2,-3.1 .5,-2.4 -3.2,3.1zM257,69.5l3.2,-3.1 .5,-2.5 -3.2,3.2zM260.2,66.4l3.2,-3.1 .5,-2.5 -3.2,3.1zM263.4,63.3l3.3,-3 .5,-2.6 -3.3,3.1zM266.7,60.3l3.3,-3 .5,-2.6 -3.3,3z"/>
<path fill="#6ccde4" d="M96.2,164l2.6,.7 .6,-.5 -2.6,-.6zM98.8,164.7l2.7,.5 .6,-.5 -2.7,-.5zM101.5,165.2l2.6,.4 .6,-.6 -2.6,-.3zM104.1,165.6l2.7,.2 .6,-.6 -2.7,-.2zM106.8,165.8l2.7,.1 .5,-.6 -2.6,-.1zM109.5,165.9l2.6,0 .6,-.7 -2.7,.1zM112.1,165.9l2.7,-.1 .5,-.7 -2.6,.1zM114.8,165.8l2.7,-.2 .5,-.8 -2.7,.3zM117.5,165.6l2.6,-.4 .6,-.8 -2.7,.4zM120.1,165.2l2.7,-.4 .5,-.8 -2.6,.4zM122.8,164.8l2.7,-.5 .5,-.9 -2.7,.6z"/>
<path fill="#71d6de" d="M125.5,164.3l2.7,-.6 .5,-.9 -2.7,.6zM128.2,163.7l2.7,-.7 .5,-.9 -2.7,.7zM130.9,163l2.7,-.8 .5,-.9 -2.7,.8zM133.6,162.2l2.7,-.8 .5,-1 -2.7,.9zM136.3,161.4l2.7,-.9 .5,-1 -2.7,.9zM139,160.5l2.7,-1 .5,-1 -2.7,1zM141.7,159.5l2.7,-1 .6,-1.1 -2.8,1.1zM144.4,158.5l2.8,-1.1 .5,-1.1 -2.7,1.1zM147.2,157.4l2.7,-1.2 .6,-1.1 -2.8,1.2zM149.9,156.2l2.8,-1.2 .5,-1.1 -2.7,1.2z"/>
<path fill="#76e0d7" d="M152.7,155l2.8,-1.2 .5,-1.2 -2.8,1.3zM155.5,153.8l2.7,-1.3 .5,-1.2 -2.7,1.3zM158.2,152.5l2.8,-1.4 .5,-1.3 -2.8,1.5zM161,151.1l2.8,-1.5 .5,-1.3 -2.8,1.5zM163.8,149.6l2.8,-1.5 .5,-1.3 -2.8,1.5zM166.6,148.1l2.8,-1.6 .5,-1.4 -2.8,1.7zM169.4,146.5l2.8,-1.7 .5,-1.4 -2.8,1.7zM172.2,144.8l2.9,-1.8 .5,-1.4 -2.9,1.8zM175.1,143l2.8,-1.9 .5,-1.5 -2.8,2zM177.9,141.1l2.9,-2 .5,-1.5 -2.9,2z"/>
<path fill="#7ce9d1" d="M180.8,139.1l2.8,-2 .5,-1.6 -2.8,2.1zM183.6,137.1l2.9,-2.2 .5,-1.6 -2.9,2.2zM186.5,134.9l2.9,-2.2 .5,-1.6 -2.9,2.2zM189.4,132.7l2.9,-2.3 .5,-1.7 -2.9,2.4zM192.3,130.4l2.9,-2.4 .5,-1.7 -2.9,2.4zM195.2,128l2.9,-2.5 .5,-1.7 -2.9,2.5zM198.1,125.5l3,-2.5 .5,-1.7 -3,2.5zM201.1,123l2.9,-2.5 .5,-1.8 -2.9,2.6zM204,120.5l3,-2.6 .5,-1.8 -3,2.6zM207,117.9l3,-2.7 .5,-1.8 -3,2.7zM210,115.2l3,-2.6 .5,-1.9 -3,2.7zM213,112.6l3,-2.7 .5,-1.9 -3,2.7zM216,109.9l3,-2.8 .5,-1.8 -3,2.7zM219,107.1l3.1,-2.7 .5,-1.9 -3.1,2.8zM222.1,104.4l3,-2.8 .5,-2 -3,2.9zM225.1,101.6l3.1,-2.9 .5,-2 -3.1,2.9zM228.2,98.7l3.1,-2.8 .5,-2.1 -3.1,2.9zM231.3,95.9l3.1,-2.9 .5,-2.1 -3.1,2.9z"/>
<path fill="#81f3ca" d="M234.4,93l3.1,-2.9 .5,-2.2 -3.1,3zM237.5,90.1l3.1,-3 .5,-2.2 -3.1,3zM240.6,87.1l3.2,-3 .5,-2.3 -3.2,3.1zM243.8,84.1l3.1,-3 .5,-2.3 -3.1,3zM246.9,81.1l3.2,-3 .5,-2.4 -3.2,3.1zM250.1,78.1l3.2,-3 .5,-2.5 -3.2,3.1zM253.3,75.1l3.2,-3.1 .5,-2.5 -3.2,3.1zM256.5,72l3.2,-3 .5,-2.6 -3.2,3.1z"/>
<path fill="#86fcc4" d="M259.7,69l3.2,-3 .5,-2.7 -3.2,3.1zM262.9,66l3.3,-2.9 .5,-2.8 -3.3,3zM266.2,63.1l3.2,-2.9 .6,-2.9 -3.3,3z"/>
<path fill="#6ccde4" d="M95.6,164.4l2.7,.8 .5,-.5 -2.6,-.7zM98.3,165.2l2.6,.5 .6,-.5 -2.7,-.5zM100.9,165.7l2.7,.4 .5,-.5 -2.6,-.4zM103.6,166.1l2.6,.3 .6,-.6 -2.7,-.2zM106.2,166.4l2.7,.2 .6,-.7 -2.7,-.1zM108.9,166.6l2.7,0 .5,-.7 -2.6,0zM111.6,166.6l2.6,0 .6,-.8 -2.7,.1zM114.2,166.6l2.7,-.2 .6,-.8 -2.7,.2zM116.9,166.4l2.7,-.3 .5,-.9 -2.6,.4zM119.6,166.1l2.7,-.4 .5,-.9 -2.7,.4zM122.3,165.7l2.7,-.5 .5,-.9 -2.7,.5z"/>
<path fill="#71d6de" d="M125,165.2l2.6,-.6 .6,-.9 -2.7,.6zM127.6,164.6l2.7,-.6 .6,-1 -2.7,.7zM130.3,164l2.7,-.8 .6,-1 -2.7,.8zM133,163.2l2.8,-.8 .5,-1 -2.7,.8zM135.8,162.4l2.7,-.9 .5,-1 -2.7,.9zM138.5,161.5l2.7,-.9 .5,-1.1 -2.7,1zM141.2,160.6l2.7,-1.1 .5,-1 -2.7,1zM143.9,159.5l2.8,-1 .5,-1.1 -2.8,1.1zM146.7,158.5l2.7,-1.1 .5,-1.2 -2.7,1.2z"/>
<path fill="#76e0d7" d="M149.4,157.4l2.8,-1.2 .5,-1.2 -2.8,1.2zM152.2,156.2l2.7,-1.2 .6,-1.2 -2.8,1.2zM154.9,155l2.8,-1.3 .5,-1.2 -2.7,1.3zM157.7,153.7l2.8,-1.3 .5,-1.3 -2.8,1.4zM160.5,152.4l2.8,-1.4 .5,-1.4 -2.8,1.5zM163.3,151l2.8,-1.5 .5,-1.4 -2.8,1.5zM166.1,149.5l2.8,-1.6 .5,-1.4 -2.8,1.6zM168.9,147.9l2.8,-1.7 .5,-1.4 -2.8,1.7z"/>
<path fill="#7ce9d1" d="M171.7,146.2l2.9,-1.7 .5,-1.5 -2.9,1.8zM174.6,144.5l2.8,-1.9 .5,-1.5 -2.8,1.9zM177.4,142.6l2.9,-1.9 .5,-1.6 -2.9,2zM180.3,140.7l2.8,-2 .5,-1.6 -2.8,2zM183.1,138.7l2.9,-2.1 .5,-1.7 -2.9,2.2zM186,136.6l2.9,-2.3 .5,-1.6 -2.9,2.2zM188.9,134.3l2.9,-2.2 .5,-1.7 -2.9,2.3zM191.8,132.1l2.9,-2.4 .5,-1.7 -2.9,2.4zM194.7,129.7l2.9,-2.4 .5,-1.8 -2.9,2.5zM197.6,127.3l3,-2.5 .5,-1.8 -3,2.5zM200.6,124.8l2.9,-2.5 .5,-1.8 -2.9,2.5zM203.5,122.3l3,-2.6 .5,-1.8 -3,2.6zM206.5,119.7l3,-2.6 .5,-1.9 -3,2.7zM209.5,117.1l3,-2.6 .5,-1.9 -3,2.6zM212.5,114.5l3,-2.7 .5,-1.9 -3,2.7zM215.5,111.8l3,-2.7 .5,-2 -3,2.8zM218.5,109.1l3.1,-2.7 .5,-2 -3.1,2.7z"/>
<path fill="#81f3ca" d="M221.6,106.4l3,-2.7 .5,-2.1 -3,2.8zM224.6,103.7l3.1,-2.8 .5,-2.2 -3.1,2.9zM227.7,100.9l3.1,-2.9 .5,-2.1 -3.1,2.8zM230.8,98l3.1,-2.8 .5,-2.2 -3.1,2.9zM233.9,95.2l3.1,-2.9 .5,-2.2 -3.1,2.9zM237,92.3l3.1,-2.9 .5,-2.3 -3.1,3zM240.1,89.4l3.2,-2.9 .5,-2.4 -3.2,3zM243.3,86.5l3.1,-2.9 .5,-2.5 -3.1,3zM246.4,83.6l3.2,-2.9 .5,-2.6 -3.2,3zM249.6,80.7l3.2,-3 .5,-2.6 -3.2,3z"/>
<path fill="#86fcc4" d="M252.8,77.7l3.2,-2.9 .5,-2.8 -3.2,3.1zM256,74.8l3.2,-2.9 .5,-2.9 -3.2,3zM259.2,71.9l3.2,-3 .5,-2.9 -3.2,3zM262.4,68.9l3.3,-2.9 .5,-2.9 -3.3,2.9zM265.7,66l3.2,-2.8 .5,-3 -3.2,2.9z"/>
<path fill="#6ccde4" d="M95,164.9l2.7,.7 .6,-.4 -2.7,-.8zM97.7,165.6l2.7,.6 .5,-.5 -2.6,-.5zM100.4,166.2l2.6,.5 .6,-.6 -2.7,-.4zM103,166.7l2.7,.4 .5,-.7 -2.6,-.3zM105.7,167.1l2.6,.2 .6,-.7 -2.7,-.2zM108.3,167.3l2.7,.1 .6,-.8 -2.7,0zM111,167.4l2.7,-.1 .5,-.7 -2.6,0zM113.7,167.3l2.7,-.1 .5,-.8 -2.7,.2zM116.4,167.2l2.6,-.3 .6,-.8 -2.7,.3zM119,166.9l2.7,-.3 .6,-.9 -2.7,.4zM121.7,166.6l2.7,-.5 .6,-.9 -2.7,.5z"/>
<path fill="#71d6de" d="M124.4,166.1l2.7,-.5 .5,-1 -2.6,.6zM127.1,165.6l2.7,-.7 .5,-.9 -2.7,.6zM129.8,164.9l2.7,-.7 .5,-1 -2.7,.8zM132.5,164.2l2.7,-.8 .6,-1 -2.8,.8zM135.2,163.4l2.7,-.8 .6,-1.1 -2.7,.9zM137.9,162.6l2.8,-1 .5,-1 -2.7,.9zM140.7,161.6l2.7,-.9 .5,-1.2 -2.7,1.1z"/>
<path fill="#76e0d7" d="M143.4,160.7l2.7,-1.1 .6,-1.1 -2.8,1zM146.1,159.6l2.8,-1 .5,-1.2 -2.7,1.1zM148.9,158.6l2.8,-1.2 .5,-1.2 -2.8,1.2zM151.7,157.4l2.7,-1.1 .5,-1.3 -2.7,1.2zM154.4,156.3l2.8,-1.3 .5,-1.3 -2.8,1.3zM157.2,155l2.8,-1.3 .5,-1.3 -2.8,1.3zM160,153.7l2.8,-1.4 .5,-1.3 -2.8,1.4zM162.8,152.3l2.8,-1.4 .5,-1.4 -2.8,1.5z"/>
<path fill="#7ce9d1" d="M165.6,150.9l2.8,-1.5 .5,-1.5 -2.8,1.6zM168.4,149.4l2.8,-1.6 .5,-1.6 -2.8,1.7zM171.2,147.8l2.8,-1.8 .6,-1.5 -2.9,1.7zM174,146l2.9,-1.8 .5,-1.6 -2.8,1.9zM176.9,144.2l2.9,-1.9 .5,-1.6 -2.9,1.9zM179.8,142.3l2.8,-2 .5,-1.6 -2.8,2zM182.6,140.3l2.9,-2 .5,-1.7 -2.9,2.1zM185.5,138.3l2.9,-2.2 .5,-1.8 -2.9,2.3zM188.4,136.1l2.9,-2.3 .5,-1.7 -2.9,2.2zM191.3,133.8l2.9,-2.3 .5,-1.8 -2.9,2.4zM194.2,131.5l2.9,-2.4 .5,-1.8 -2.9,2.4zM197.1,129.1l3,-2.4 .5,-1.9 -3,2.5zM200.1,126.7l2.9,-2.5 .5,-1.9 -2.9,2.5zM203,124.2l3,-2.5 .5,-2 -3,2.6zM206,121.7l3,-2.6 .5,-2 -3,2.6zM209,119.1l3,-2.6 .5,-2 -3,2.6z"/>
<path fill="#81f3ca" d="M212,116.5l3,-2.6 .5,-2.1 -3,2.7zM215,113.9l3,-2.7 .5,-2.1 -3,2.7zM218,111.2l3.1,-2.7 .5,-2.1 -3.1,2.7zM221.1,108.5l3,-2.7 .5,-2.1 -3,2.7zM224.1,105.8l3.1,-2.7 .5,-2.2 -3.1,2.8zM227.2,103.1l3.1,-2.8 .5,-2.3 -3.1,2.9zM230.3,100.3l3.1,-2.8 .5,-2.3 -3.1,2.8zM233.4,97.5l3.1,-2.8 .5,-2.4 -3.1,2.9zM236.5,94.7l3.1,-2.8 .5,-2.5 -3.1,2.9zM239.6,91.9l3.1,-2.8 .6,-2.6 -3.2,2.9zM242.7,89.1l3.2,-2.9 .5,-2.6 -3.1,2.9z"/>
<path fill="#86fcc4" d="M245.9,86.2l3.2,-2.8 .5,-2.7 -3.2,2.9zM249.1,83.4l3.2,-2.9 .5,-2.8 -3.2,3zM252.3,80.5l3.1,-2.8 .6,-2.9 -3.2,2.9zM255.4,77.7l3.3,-2.9 .5,-2.9 -3.2,2.9zM258.7,74.8l3.2,-2.8 .5,-3.1 -3.2,3zM261.9,72l3.2,-2.9 .6,-3.1 -3.3,2.9zM265.1,69.1l3.3,-2.8 .5,-3.1 -3.2,2.8z"/>
<path fill="#6ccde4" d="M94.4,165.3l2.7,.8 .6,-.5 -2.7,-.7zM97.1,166.1l2.7,.7 .6,-.6 -2.7,-.6zM99.8,166.8l2.7,.5 .5,-.6 -2.6,-.5zM102.5,167.3l2.6,.4 .6,-.6 -2.7,-.4zM105.1,167.7l2.7,.2 .5,-.6 -2.6,-.2zM107.8,167.9l2.7,.2 .5,-.7 -2.7,-.1zM110.5,168.1l2.6,0 .6,-.8 -2.7,.1zM113.1,168.1l2.7,-.1 .6,-.8 -2.7,.1zM115.8,168l2.7,-.2 .5,-.9 -2.6,.3zM118.5,167.8l2.7,-.4 .5,-.8 -2.7,.3zM121.2,167.4l2.7,-.4 .5,-.9 -2.7,.5z"/>
<path fill="#71d6de" d="M123.9,167l2.7,-.5 .5,-.9 -2.7,.5zM126.6,166.5l2.7,-.6 .5,-1 -2.7,.7zM129.3,165.9l2.7,-.7 .5,-1 -2.7,.7zM132,165.2l2.7,-.7 .5,-1.1 -2.7,.8zM134.7,164.5l2.7,-.8 .5,-1.1 -2.7,.8zM137.4,163.7l2.7,-.9 .6,-1.2 -2.8,1z"/>
<path fill="#76e0d7" d="M140.1,162.8l2.8,-1 .5,-1.1 -2.7,.9zM142.9,161.8l2.7,-1 .5,-1.2 -2.7,1.1zM145.6,160.8l2.8,-1 .5,-1.2 -2.8,1zM148.4,159.8l2.7,-1.1 .6,-1.3 -2.8,1.2zM151.1,158.7l2.8,-1.1 .5,-1.3 -2.7,1.1zM153.9,157.6l2.8,-1.2 .5,-1.4 -2.8,1.3zM156.7,156.4l2.8,-1.3 .5,-1.4 -2.8,1.3z"/>
<path fill="#7ce9d1" d="M159.5,155.1l2.8,-1.3 .5,-1.5 -2.8,1.4zM162.3,153.8l2.8,-1.4 .5,-1.5 -2.8,1.4zM165.1,152.4l2.8,-1.5 .5,-1.5 -2.8,1.5zM167.9,150.9l2.8,-1.6 .5,-1.5 -2.8,1.6zM170.7,149.3l2.8,-1.6 .5,-1.7 -2.8,1.8zM173.5,147.7l2.9,-1.8 .5,-1.7 -2.9,1.8zM176.4,145.9l2.8,-1.9 .6,-1.7 -2.9,1.9zM179.2,144l2.9,-1.9 .5,-1.8 -2.8,2zM182.1,142.1l2.9,-2.1 .5,-1.7 -2.9,2zM185,140l2.9,-2.1 .5,-1.8 -2.9,2.2zM187.9,137.9l2.9,-2.2 .5,-1.9 -2.9,2.3zM190.8,135.7l2.9,-2.3 .5,-1.9 -2.9,2.3zM193.7,133.4l2.9,-2.4 .5,-1.9 -2.9,2.4zM196.6,131l3,-2.4 .5,-1.9 -3,2.4zM199.6,128.6l2.9,-2.4 .5,-2 -2.9,2.5zM202.5,126.2l3,-2.5 .5,-2 -3,2.5z"/>
<path fill="#81f3ca" d="M205.5,123.7l3,-2.5 .5,-2.1 -3,2.6zM208.5,121.2l3,-2.6 .5,-2.1 -3,2.6zM211.5,118.6l3,-2.6 .5,-2.1 -3,2.6zM214.5,116l3,-2.6 .5,-2.2 -3,2.7zM217.5,113.4l3.1,-2.7 .5,-2.2 -3.1,2.7zM220.6,110.7l3,-2.6 .5,-2.3 -3,2.7zM223.6,108.1l3.1,-2.7 .5,-2.3 -3.1,2.7zM226.7,105.4l3.1,-2.7 .5,-2.4 -3.1,2.8zM229.8,102.7l3.1,-2.7 .5,-2.5 -3.1,2.8zM232.9,100l3.1,-2.8 .5,-2.5 -3.1,2.8zM236,97.2l3.1,-2.7 .5,-2.6 -3.1,2.8zM239.1,94.5l3.1,-2.8 .5,-2.6 -3.1,2.8z"/>
<path fill="#86fcc4" d="M242.2,91.7l3.2,-2.7 .5,-2.8 -3.2,2.9zM245.4,89l3.2,-2.8 .5,-2.8 -3.2,2.8zM248.6,86.2l3.1,-2.7 .6,-3 -3.2,2.9zM251.7,83.5l3.2,-2.8 .5,-3 -3.1,2.8zM254.9,80.7l3.2,-2.8 .6,-3.1 -3.3,2.9zM258.1,77.9l3.3,-2.8 .5,-3.1 -3.2,2.8zM261.4,75.1l3.2,-2.8 .5,-3.2 -3.2,2.9zM264.6,72.3l3.2,-2.8 .6,-3.2 -3.3,2.8z"/>
<path fill="#6ccde4" d="M93.9,165.7l2.6,.9 .6,-.5 -2.7,-.8zM96.5,166.6l2.7,.7 .6,-.5 -2.7,-.7zM99.2,167.3l2.7,.6 .6,-.6 -2.7,-.5zM101.9,167.9l2.7,.4 .5,-.6 -2.6,-.4zM104.6,168.3l2.6,.3 .6,-.7 -2.7,-.2zM107.2,168.6l2.7,.2 .6,-.7 -2.7,-.2zM109.9,168.8l2.7,0 .5,-.7 -2.6,0zM112.6,168.8l2.7,0 .5,-.8 -2.7,.1zM115.3,168.8l2.6,-.2 .6,-.8 -2.7,.2zM117.9,168.6l2.7,-.3 .6,-.9 -2.7,.4z"/>
<path fill="#71d6de" d="M120.6,168.3l2.7,-.4 .6,-.9 -2.7,.4zM123.3,167.9l2.7,-.4 .6,-1 -2.7,.5zM126,167.5l2.7,-.6 .6,-1 -2.7,.6zM128.7,166.9l2.7,-.6 .6,-1.1 -2.7,.7zM131.4,166.3l2.8,-.7 .5,-1.1 -2.7,.7zM134.2,165.6l2.7,-.8 .5,-1.1 -2.7,.8z"/>
<path fill="#76e0d7" d="M136.9,164.8l2.7,-.9 .5,-1.1 -2.7,.9zM139.6,163.9l2.8,-.9 .5,-1.2 -2.8,1zM142.4,163l2.7,-.9 .5,-1.3 -2.7,1zM145.1,162.1l2.8,-1 .5,-1.3 -2.8,1zM147.9,161.1l2.7,-1.1 .5,-1.3 -2.7,1.1zM150.6,160l2.8,-1.1 .5,-1.3 -2.8,1.1z"/>
<path fill="#7ce9d1" d="M153.4,158.9l2.8,-1.1 .5,-1.4 -2.8,1.2zM156.2,157.8l2.8,-1.2 .5,-1.5 -2.8,1.3zM159,156.6l2.8,-1.3 .5,-1.5 -2.8,1.3zM161.8,155.3l2.8,-1.4 .5,-1.5 -2.8,1.4zM164.6,153.9l2.8,-1.4 .5,-1.6 -2.8,1.5zM167.4,152.5l2.8,-1.5 .5,-1.7 -2.8,1.6zM170.2,151l2.8,-1.7 .5,-1.6 -2.8,1.6zM173,149.3l2.9,-1.7 .5,-1.7 -2.9,1.8zM175.9,147.6l2.8,-1.8 .5,-1.8 -2.8,1.9zM178.7,145.8l2.9,-1.9 .5,-1.8 -2.9,1.9zM181.6,143.9l2.9,-2.1 .5,-1.8 -2.9,2.1zM184.5,141.8l2.9,-2.1 .5,-1.8 -2.9,2.1zM187.4,139.7l2.9,-2.1 .5,-1.9 -2.9,2.2zM190.3,137.6l2.9,-2.3 .5,-1.9 -2.9,2.3zM193.2,135.3l2.9,-2.3 .5,-2 -2.9,2.4z"/>
<path fill="#81f3ca" d="M196.1,133l3,-2.4 .5,-2 -3,2.4zM199.1,130.6l2.9,-2.4 .5,-2 -2.9,2.4zM202,128.2l3,-2.5 .5,-2 -3,2.5zM205,125.7l3,-2.5 .5,-2 -3,2.5zM208,123.2l3,-2.5 .5,-2.1 -3,2.6zM211,120.7l3,-2.5 .5,-2.2 -3,2.6zM214,118.2l3,-2.6 .5,-2.2 -3,2.6zM217,115.6l3.1,-2.6 .5,-2.3 -3.1,2.7zM220.1,113l3,-2.6 .5,-2.3 -3,2.6zM223.1,110.4l3.1,-2.6 .5,-2.4 -3.1,2.7zM226.2,107.8l3.1,-2.7 .5,-2.4 -3.1,2.7zM229.3,105.1l3.1,-2.6 .5,-2.5 -3.1,2.7zM232.4,102.5l3.1,-2.7 .5,-2.6 -3.1,2.8z"/>
<path fill="#86fcc4" d="M235.5,99.8l3.1,-2.7 .5,-2.6 -3.1,2.7zM238.6,97.1l3.1,-2.6 .5,-2.8 -3.1,2.8zM241.7,94.5l3.2,-2.7 .5,-2.8 -3.2,2.7zM244.9,91.8l3.1,-2.6 .6,-3 -3.2,2.8zM248,89.2l3.2,-2.7 .5,-3 -3.1,2.7zM251.2,86.5l3.2,-2.7 .5,-3.1 -3.2,2.8zM254.4,83.8l3.2,-2.7 .5,-3.2 -3.2,2.8zM257.6,81.1l3.2,-2.8 .6,-3.2 -3.3,2.8zM260.8,78.3l3.3,-2.7 .5,-3.3 -3.2,2.8zM264.1,75.6l3.2,-2.8 .5,-3.3 -3.2,2.8z"/>
<path fill="#6ccde4" d="M93.3,166.2l2.7,.9 .5,-.5 -2.6,-.9zM96,167.1l2.6,.7 .6,-.5 -2.7,-.7zM98.6,167.8l2.7,.6 .6,-.5 -2.7,-.6zM101.3,168.4l2.7,.5 .6,-.6 -2.7,-.4zM104,168.9l2.7,.4 .5,-.7 -2.6,-.3zM106.7,169.3l2.6,.2 .6,-.7 -2.7,-.2zM109.3,169.5l2.7,.1 .6,-.8 -2.7,0zM112,169.6l2.7,0 .6,-.8 -2.7,0zM114.7,169.6l2.7,-.2 .5,-.8 -2.6,.2zM117.4,169.4l2.7,-.2 .5,-.9 -2.7,.3z"/>
<path fill="#71d6de" d="M120.1,169.2l2.7,-.3 .5,-1 -2.7,.4zM122.8,168.9l2.7,-.5 .5,-.9 -2.7,.4zM125.5,168.4l2.7,-.5 .5,-1 -2.7,.6zM128.2,167.9l2.7,-.6 .5,-1 -2.7,.6zM130.9,167.3l2.7,-.7 .6,-1 -2.8,.7z"/>
<path fill="#76e0d7" d="M133.6,166.6l2.8,-.7 .5,-1.1 -2.7,.8zM136.4,165.9l2.7,-.8 .5,-1.2 -2.7,.9zM139.1,165.1l2.7,-.9 .6,-1.2 -2.8,.9zM141.8,164.2l2.8,-.9 .5,-1.2 -2.7,.9zM144.6,163.3l2.7,-.9 .6,-1.3 -2.8,1zM147.3,162.4l2.8,-1 .5,-1.4 -2.7,1.1z"/>
<path fill="#7ce9d1" d="M150.1,161.4l2.8,-1.1 .5,-1.4 -2.8,1.1zM152.9,160.3l2.8,-1.1 .5,-1.4 -2.8,1.1zM155.7,159.2l2.7,-1.1 .6,-1.5 -2.8,1.2zM158.4,158.1l2.8,-1.3 .6,-1.5 -2.8,1.3zM161.2,156.8l2.8,-1.3 .6,-1.6 -2.8,1.4zM164,155.5l2.9,-1.4 .5,-1.6 -2.8,1.4zM166.9,154.1l2.8,-1.5 .5,-1.6 -2.8,1.5zM169.7,152.6l2.8,-1.5 .5,-1.8 -2.8,1.7zM172.5,151.1l2.9,-1.7 .5,-1.8 -2.9,1.7zM175.4,149.4l2.8,-1.8 .5,-1.8 -2.8,1.8zM178.2,147.6l2.9,-1.9 .5,-1.8 -2.9,1.9zM181.1,145.7l2.9,-2 .5,-1.9 -2.9,2.1z"/>
<path fill="#81f3ca" d="M184,143.7l2.9,-2.1 .5,-1.9 -2.9,2.1zM186.9,141.6l2.9,-2.1 .5,-1.9 -2.9,2.1zM189.8,139.5l2.9,-2.2 .5,-2 -2.9,2.3zM192.7,137.3l2.9,-2.3 .5,-2 -2.9,2.3zM195.6,135l3,-2.3 .5,-2.1 -3,2.4zM198.6,132.7l2.9,-2.4 .5,-2.1 -2.9,2.4zM201.5,130.3l3,-2.4 .5,-2.2 -3,2.5zM204.5,127.9l3,-2.5 .5,-2.2 -3,2.5zM207.5,125.4l3,-2.5 .5,-2.2 -3,2.5zM210.5,122.9l3,-2.5 .5,-2.2 -3,2.5zM213.5,120.4l3,-2.5 .5,-2.3 -3,2.6zM216.5,117.9l3.1,-2.6 .5,-2.3 -3.1,2.6zM219.6,115.3l3,-2.5 .5,-2.4 -3,2.6zM222.6,112.8l3.1,-2.6 .5,-2.4 -3.1,2.6zM225.7,110.2l3.1,-2.6 .5,-2.5 -3.1,2.7zM228.8,107.6l3,-2.6 .6,-2.5 -3.1,2.6z"/>
<path fill="#86fcc4" d="M231.8,105l3.2,-2.5 .5,-2.7 -3.1,2.7zM235,102.5l3.1,-2.6 .5,-2.8 -3.1,2.7zM238.1,99.9l3.1,-2.6 .5,-2.8 -3.1,2.6zM241.2,97.3l3.1,-2.5 .6,-3 -3.2,2.7zM244.3,94.8l3.2,-2.6 .5,-3 -3.1,2.6zM247.5,92.2l3.2,-2.6 .5,-3.1 -3.2,2.7zM250.7,89.6l3.2,-2.6 .5,-3.2 -3.2,2.7zM253.9,87l3.2,-2.6 .5,-3.3 -3.2,2.7zM257.1,84.4l3.2,-2.7 .5,-3.4 -3.2,2.8zM260.3,81.7l3.2,-2.8 .6,-3.3 -3.3,2.7zM263.5,78.9l3.3,-2.8 .5,-3.3 -3.2,2.8z"/>
<path fill="#6ccde4" d="M92.7,166.6l2.7,.9 .6,-.4 -2.7,-.9zM95.4,167.5l2.7,.8 .5,-.5 -2.6,-.7zM98.1,168.3l2.6,.7 .6,-.6 -2.7,-.6zM100.7,169l2.7,.5 .6,-.6 -2.7,-.5zM103.4,169.5l2.7,.4 .6,-.6 -2.7,-.4zM106.1,169.9l2.7,.3 .5,-.7 -2.6,-.2zM108.8,170.2l2.7,.1 .5,-.7 -2.7,-.1zM111.5,170.3l2.7,.1 .5,-.8 -2.7,0zM114.2,170.4l2.7,-.1 .5,-.9 -2.7,.2zM116.9,170.3l2.6,-.2 .6,-.9 -2.7,.2z"/>
<path fill="#71d6de" d="M119.5,170.1l2.7,-.3 .6,-.9 -2.7,.3zM122.2,169.8l2.8,-.4 .5,-1 -2.7,.5zM125,169.4l2.7,-.5 .5,-1 -2.7,.5zM127.7,168.9l2.7,-.5 .5,-1.1 -2.7,.6zM130.4,168.4l2.7,-.6 .5,-1.2 -2.7,.7z"/>
<path fill="#76e0d7" d="M133.1,167.8l2.7,-.7 .6,-1.2 -2.8,.7zM135.8,167.1l2.8,-.8 .5,-1.2 -2.7,.8zM138.6,166.3l2.7,-.8 .5,-1.3 -2.7,.9zM141.3,165.5l2.8,-.9 .5,-1.3 -2.8,.9zM144.1,164.6l2.7,-.9 .5,-1.3 -2.7,.9z"/>
<path fill="#7ce9d1" d="M146.8,163.7l2.8,-.9 .5,-1.4 -2.8,1zM149.6,162.8l2.8,-1 .5,-1.5 -2.8,1.1zM152.4,161.8l2.7,-1.1 .6,-1.5 -2.8,1.1zM155.1,160.7l2.8,-1.1 .5,-1.5 -2.7,1.1zM157.9,159.6l2.8,-1.2 .5,-1.6 -2.8,1.3zM160.7,158.4l2.8,-1.3 .5,-1.6 -2.8,1.3zM163.5,157.1l2.9,-1.3 .5,-1.7 -2.9,1.4zM166.4,155.8l2.8,-1.4 .5,-1.8 -2.8,1.5zM169.2,154.4l2.8,-1.6 .5,-1.7 -2.8,1.5zM172,152.8l2.9,-1.6 .5,-1.8 -2.9,1.7z"/>
<path fill="#81f3ca" d="M174.9,151.2l2.8,-1.8 .5,-1.8 -2.8,1.8zM177.7,149.4l2.9,-1.8 .5,-1.9 -2.9,1.9zM180.6,147.6l2.9,-2 .5,-1.9 -2.9,2zM183.5,145.6l2.9,-2 .5,-2 -2.9,2.1zM186.4,143.6l2.9,-2.1 .5,-2 -2.9,2.1zM189.3,141.5l2.9,-2.2 .5,-2 -2.9,2.2zM192.2,139.3l2.9,-2.2 .5,-2.1 -2.9,2.3zM195.1,137.1l3,-2.3 .5,-2.1 -3,2.3zM198.1,134.8l2.9,-2.4 .5,-2.1 -2.9,2.4zM201,132.4l3,-2.4 .5,-2.1 -3,2.4zM204,130l3,-2.4 .5,-2.2 -3,2.5zM207,127.6l3,-2.4 .5,-2.3 -3,2.5zM210,125.2l3,-2.5 .5,-2.3 -3,2.5zM213,122.7l3,-2.5 .5,-2.3 -3,2.5zM216,120.2l3.1,-2.5 .5,-2.4 -3.1,2.6zM219.1,117.7l3,-2.5 .5,-2.4 -3,2.5zM222.1,115.2l3.1,-2.5 .5,-2.5 -3.1,2.6z"/>
<path fill="#86fcc4" d="M225.2,112.7l3,-2.5 .6,-2.6 -3.1,2.6zM228.2,110.2l3.1,-2.5 .5,-2.7 -3,2.6zM231.3,107.7l3.1,-2.5 .6,-2.7 -3.2,2.5zM234.4,105.2l3.1,-2.5 .6,-2.8 -3.1,2.6zM237.5,102.7l3.2,-2.4 .5,-3 -3.1,2.6zM240.7,100.3l3.1,-2.5 .5,-3 -3.1,2.5zM243.8,97.8l3.2,-2.5 .5,-3.1 -3.2,2.6zM247,95.3l3.1,-2.5 .6,-3.2 -3.2,2.6zM250.1,92.8l3.2,-2.5 .6,-3.3 -3.2,2.6zM253.3,90.3l3.2,-2.6 .6,-3.3 -3.2,2.6zM256.5,87.7l3.2,-2.6 .6,-3.4 -3.2,2.7zM259.7,85.1l3.3,-2.7 .5,-3.5 -3.2,2.8zM263,82.4l3.2,-2.8 .6,-3.5 -3.3,2.8z"/>
<path fill="#6ccde4" d="M92.1,167.1l2.7,.9 .6,-.5 -2.7,-.9zM94.8,168l2.7,.9 .6,-.6 -2.7,-.8zM97.5,168.9l2.7,.7 .5,-.6 -2.6,-.7zM100.2,169.6l2.7,.5 .5,-.6 -2.7,-.5zM102.9,170.1l2.6,.5 .6,-.7 -2.7,-.4zM105.5,170.6l2.7,.3 .6,-.7 -2.7,-.3zM108.2,170.9l2.7,.2 .6,-.8 -2.7,-.1zM110.9,171.1l2.7,0 .6,-.7 -2.7,-.1zM113.6,171.1l2.7,0 .6,-.8 -2.7,.1zM116.3,171.1l2.7,-.1 .5,-.9 -2.6,.2z"/>
<path fill="#71d6de" d="M119,171l2.7,-.3 .5,-.9 -2.7,.3zM121.7,170.7l2.7,-.3 .6,-1 -2.8,.4zM124.4,170.4l2.7,-.4 .6,-1.1 -2.7,.5zM127.1,170l2.7,-.5 .6,-1.1 -2.7,.5zM129.8,169.5l2.8,-.6 .5,-1.1 -2.7,.6z"/>
<path fill="#76e0d7" d="M132.6,168.9l2.7,-.7 .5,-1.1 -2.7,.7zM135.3,168.2l2.7,-.7 .6,-1.2 -2.8,.8zM138,167.5l2.8,-.7 .5,-1.3 -2.7,.8zM140.8,166.8l2.7,-.8 .6,-1.4 -2.8,.9zM143.5,166l2.8,-.9 .5,-1.4 -2.7,.9z"/>
<path fill="#7ce9d1" d="M146.3,165.1l2.8,-.9 .5,-1.4 -2.8,.9zM149.1,164.2l2.7,-.9 .6,-1.5 -2.8,1zM151.8,163.3l2.8,-1 .5,-1.6 -2.7,1.1zM154.6,162.3l2.8,-1.1 .5,-1.6 -2.8,1.1zM157.4,161.2l2.8,-1.2 .5,-1.6 -2.8,1.2zM160.2,160l2.8,-1.2 .5,-1.7 -2.8,1.3zM163,158.8l2.8,-1.3 .6,-1.7 -2.9,1.3zM165.8,157.5l2.9,-1.4 .5,-1.7 -2.8,1.4z"/>
<path fill="#81f3ca" d="M168.7,156.1l2.8,-1.5 .5,-1.8 -2.8,1.6zM171.5,154.6l2.9,-1.6 .5,-1.8 -2.9,1.6zM174.4,153l2.8,-1.7 .5,-1.9 -2.8,1.8zM177.2,151.3l2.9,-1.8 .5,-1.9 -2.9,1.8zM180.1,149.5l2.9,-1.9 .5,-2 -2.9,2zM183,147.6l2.9,-2 .5,-2 -2.9,2zM185.9,145.6l2.9,-2.1 .5,-2 -2.9,2.1zM188.8,143.5l2.9,-2.1 .5,-2.1 -2.9,2.2zM191.7,141.4l2.9,-2.3 .5,-2 -2.9,2.2zM194.6,139.1l3,-2.2 .5,-2.1 -3,2.3zM197.6,136.9l2.9,-2.3 .5,-2.2 -2.9,2.4zM200.5,134.6l3,-2.4 .5,-2.2 -3,2.4zM203.5,132.2l3,-2.3 .5,-2.3 -3,2.4zM206.5,129.9l3,-2.4 .5,-2.3 -3,2.4zM209.5,127.5l3,-2.4 .5,-2.4 -3,2.5zM212.5,125.1l3,-2.5 .5,-2.4 -3,2.5zM215.5,122.6l3,-2.4 .6,-2.5 -3.1,2.5zM218.5,120.2l3.1,-2.4 .5,-2.6 -3,2.5z"/>
<path fill="#86fcc4" d="M221.6,117.8l3.1,-2.5 .5,-2.6 -3.1,2.5zM224.7,115.3l3,-2.4 .5,-2.7 -3,2.5zM227.7,112.9l3.1,-2.4 .5,-2.8 -3.1,2.5zM230.8,110.5l3.1,-2.4 .5,-2.9 -3.1,2.5zM233.9,108.1l3.1,-2.4 .5,-3 -3.1,2.5zM237,105.7l3.2,-2.4 .5,-3 -3.2,2.4zM240.2,103.3l3.1,-2.4 .5,-3.1 -3.1,2.5zM243.3,100.9l3.1,-2.3 .6,-3.3 -3.2,2.5zM246.4,98.6l3.2,-2.5 .5,-3.3 -3.1,2.5zM249.6,96.1l3.2,-2.4 .5,-3.4 -3.2,2.5zM252.8,93.7l3.2,-2.5 .5,-3.5 -3.2,2.6zM256,91.2l3.2,-2.6 .5,-3.5 -3.2,2.6zM259.2,88.6l3.2,-2.7 .6,-3.5 -3.3,2.7zM262.4,85.9l3.3,-2.8 .5,-3.5 -3.2,2.8z"/>
<path fill="#6ccde4" d="M91.5,167.5l2.7,1 .6,-.5 -2.7,-.9zM94.2,168.5l2.7,.9 .6,-.5 -2.7,-.9zM96.9,169.4l2.7,.8 .6,-.6 -2.7,-.7zM99.6,170.2l2.7,.6 .6,-.7 -2.7,-.5zM102.3,170.8l2.7,.4 .5,-.6 -2.6,-.5zM105,171.2l2.7,.4 .5,-.7 -2.7,-.3zM107.7,171.6l2.7,.2 .5,-.7 -2.7,-.2zM110.4,171.8l2.7,.1 .5,-.8 -2.7,0zM113.1,171.9l2.7,0 .5,-.8 -2.7,0zM115.8,171.9l2.7,-.1 .5,-.8 -2.7,.1z"/>
<path fill="#71d6de" d="M118.5,171.8l2.7,-.2 .5,-.9 -2.7,.3zM121.2,171.6l2.7,-.2 .5,-1 -2.7,.3zM123.9,171.4l2.7,-.4 .5,-1 -2.7,.4zM126.6,171l2.7,-.5 .5,-1 -2.7,.5zM129.3,170.5l2.7,-.5 .6,-1.1 -2.8,.6z"/>
<path fill="#76e0d7" d="M132,170l2.8,-.6 .5,-1.2 -2.7,.7zM134.8,169.4l2.7,-.6 .5,-1.3 -2.7,.7zM137.5,168.8l2.8,-.7 .5,-1.3 -2.8,.7zM140.3,168.1l2.7,-.8 .5,-1.3 -2.7,.8z"/>
<path fill="#7ce9d1" d="M143,167.3l2.8,-.8 .5,-1.4 -2.8,.9zM145.8,166.5l2.7,-.9 .6,-1.4 -2.8,.9zM148.5,165.6l2.8,-.9 .5,-1.4 -2.7,.9zM151.3,164.7l2.8,-.9 .5,-1.5 -2.8,1zM154.1,163.8l2.8,-1 .5,-1.6 -2.8,1.1zM156.9,162.8l2.8,-1.1 .5,-1.7 -2.8,1.2zM159.7,161.7l2.8,-1.2 .5,-1.7 -2.8,1.2zM162.5,160.5l2.8,-1.3 .5,-1.7 -2.8,1.3z"/>
<path fill="#81f3ca" d="M165.3,159.2l2.9,-1.3 .5,-1.8 -2.9,1.4zM168.2,157.9l2.8,-1.5 .5,-1.8 -2.8,1.5zM171,156.4l2.8,-1.5 .6,-1.9 -2.9,1.6zM173.8,154.9l2.9,-1.7 .5,-1.9 -2.8,1.7zM176.7,153.2l2.9,-1.8 .5,-1.9 -2.9,1.8zM179.6,151.4l2.9,-1.9 .5,-1.9 -2.9,1.9zM182.5,149.5l2.9,-1.9 .5,-2 -2.9,2zM185.4,147.6l2.9,-2 .5,-2.1 -2.9,2.1zM188.3,145.6l2.9,-2.2 .5,-2 -2.9,2.1zM191.2,143.4l2.9,-2.1 .5,-2.2 -2.9,2.3zM194.1,141.3l3,-2.2 .5,-2.2 -3,2.2zM197.1,139.1l2.9,-2.3 .5,-2.2 -2.9,2.3zM200,136.8l3,-2.3 .5,-2.3 -3,2.4zM203,134.5l3,-2.3 .5,-2.3 -3,2.3zM206,132.2l3,-2.4 .5,-2.3 -3,2.4zM209,129.8l3,-2.3 .5,-2.4 -3,2.4zM212,127.5l3,-2.4 .5,-2.5 -3,2.5z"/>
<path fill="#86fcc4" d="M215,125.1l3,-2.4 .5,-2.5 -3,2.4zM218,122.7l3.1,-2.3 .5,-2.6 -3.1,2.4zM221.1,120.4l3,-2.4 .6,-2.7 -3.1,2.5zM224.1,118l3.1,-2.3 .5,-2.8 -3,2.4zM227.2,115.7l3.1,-2.4 .5,-2.8 -3.1,2.4zM230.3,113.3l3.1,-2.3 .5,-2.9 -3.1,2.4zM233.4,111l3.1,-2.3 .5,-3 -3.1,2.4zM236.5,108.7l3.1,-2.3 .6,-3.1 -3.2,2.4zM239.6,106.4l3.2,-2.3 .5,-3.2 -3.1,2.4zM242.8,104.1l3.1,-2.2 .5,-3.3 -3.1,2.3zM245.9,101.9l3.2,-2.4 .5,-3.4 -3.2,2.5zM249.1,99.5l3.1,-2.3 .6,-3.5 -3.2,2.4zM252.2,97.2l3.2,-2.5 .6,-3.5 -3.2,2.5zM255.4,94.7l3.2,-2.5 .6,-3.6 -3.2,2.6zM258.6,92.2l3.3,-2.7 .5,-3.6 -3.2,2.7zM261.9,89.5l3.2,-2.8 .6,-3.6 -3.3,2.8z"/>
<path fill="#6ccde4" d="M91,168l2.6,1.1 .6,-.6 -2.7,-1zM93.6,169.1l2.7,.9 .6,-.6 -2.7,-.9zM96.3,170l2.7,.7 .6,-.5 -2.7,-.8zM99,170.7l2.7,.7 .6,-.6 -2.7,-.6zM101.7,171.4l2.7,.5 .6,-.7 -2.7,-.4zM104.4,171.9l2.7,.4 .6,-.7 -2.7,-.4zM107.1,172.3l2.7,.3 .6,-.8 -2.7,-.2zM109.8,172.6l2.7,.1 .6,-.8 -2.7,-.1zM112.5,172.7l2.7,.1 .6,-.9 -2.7,0zM115.2,172.8l2.7,-.1 .6,-.9 -2.7,.1zM117.9,172.7l2.7,-.1 .6,-1 -2.7,.2z"/>
<path fill="#71d6de" d="M120.6,172.6l2.7,-.3 .6,-.9 -2.7,.2zM123.3,172.3l2.7,-.3 .6,-1 -2.7,.4zM126,172l2.8,-.4 .5,-1.1 -2.7,.5z"/>
<path fill="#76e0d7" d="M128.8,171.6l2.7,-.5 .5,-1.1 -2.7,.5zM131.5,171.1l2.7,-.5 .6,-1.2 -2.8,.6zM134.2,170.6l2.8,-.6 .5,-1.2 -2.7,.6zM137,170l2.7,-.7 .6,-1.2 -2.8,.7zM139.7,169.3l2.8,-.7 .5,-1.3 -2.7,.8z"/>
<path fill="#7ce9d1" d="M142.5,168.6l2.7,-.7 .6,-1.4 -2.8,.8zM145.2,167.9l2.8,-.8 .5,-1.5 -2.7,.9zM148,167.1l2.8,-.8 .5,-1.6 -2.8,.9zM150.8,166.3l2.8,-1 .5,-1.5 -2.8,.9zM153.6,165.3l2.8,-.9 .5,-1.6 -2.8,1zM156.4,164.4l2.8,-1.1 .5,-1.6 -2.8,1.1zM159.2,163.3l2.8,-1.1 .5,-1.7 -2.8,1.2z"/>
<path fill="#81f3ca" d="M162,162.2l2.8,-1.2 .5,-1.8 -2.8,1.3zM164.8,161l2.8,-1.3 .6,-1.8 -2.9,1.3zM167.6,159.7l2.9,-1.4 .5,-1.9 -2.8,1.5zM170.5,158.3l2.8,-1.6 .5,-1.8 -2.8,1.5zM173.3,156.7l2.9,-1.6 .5,-1.9 -2.9,1.7zM176.2,155.1l2.9,-1.7 .5,-2 -2.9,1.8zM179.1,153.4l2.9,-1.9 .5,-2 -2.9,1.9zM182,151.5l2.8,-1.9 .6,-2 -2.9,1.9zM184.8,149.6l3,-2 .5,-2 -2.9,2zM187.8,147.6l2.9,-2 .5,-2.2 -2.9,2.2zM190.7,145.6l2.9,-2.2 .5,-2.1 -2.9,2.1zM193.6,143.4l3,-2.1 .5,-2.2 -3,2.2zM196.6,141.3l2.9,-2.2 .5,-2.3 -2.9,2.3zM199.5,139.1l3,-2.3 .5,-2.3 -3,2.3zM202.5,136.8l3,-2.3 .5,-2.3 -3,2.3zM205.5,134.5l3,-2.3 .5,-2.4 -3,2.4zM208.5,132.2l3,-2.2 .5,-2.5 -3,2.3z"/>
<path fill="#86fcc4" d="M211.5,130l3,-2.3 .5,-2.6 -3,2.4zM214.5,127.7l3,-2.4 .5,-2.6 -3,2.4zM217.5,125.3l3.1,-2.3 .5,-2.6 -3.1,2.3zM220.6,123l3,-2.2 .5,-2.8 -3,2.4zM223.6,120.8l3.1,-2.3 .5,-2.8 -3.1,2.3zM226.7,118.5l3.1,-2.3 .5,-2.9 -3.1,2.4zM229.8,116.2l3.1,-2.2 .5,-3 -3.1,2.3zM232.9,114l3.1,-2.2 .5,-3.1 -3.1,2.3zM236,111.8l3.1,-2.2 .5,-3.2 -3.1,2.3zM239.1,109.6l3.1,-2.2 .6,-3.3 -3.2,2.3zM242.2,107.4l3.2,-2.1 .5,-3.4 -3.1,2.2zM245.4,105.3l3.1,-2.3 .6,-3.5 -3.2,2.4zM248.5,103l3.2,-2.3 .5,-3.5 -3.1,2.3zM251.7,100.7l3.2,-2.4 .5,-3.6 -3.2,2.5zM254.9,98.3l3.2,-2.5 .5,-3.6 -3.2,2.5zM258.1,95.8l3.2,-2.6 .6,-3.7 -3.3,2.7zM261.3,93.2l3.3,-2.8 .5,-3.7 -3.2,2.8z"/>
<path fill="#6ccde4" d="M90.4,168.5l2.7,1.1 .5,-.5 -2.6,-1.1zM93.1,169.6l2.7,.9 .5,-.5 -2.7,-.9zM95.8,170.5l2.7,.8 .5,-.6 -2.7,-.7zM98.5,171.3l2.6,.7 .6,-.6 -2.7,-.7zM101.1,172l2.7,.6 .6,-.7 -2.7,-.5zM103.8,172.6l2.7,.4 .6,-.7 -2.7,-.4zM106.5,173l2.7,.3 .6,-.7 -2.7,-.3zM109.2,173.3l2.7,.2 .6,-.8 -2.7,-.1zM111.9,173.5l2.7,.1 .6,-.8 -2.7,-.1zM114.6,173.6l2.8,0 .5,-.9 -2.7,.1zM117.4,173.6l2.7,-.1 .5,-.9 -2.7,.1z"/>
<path fill="#71d6de" d="M120.1,173.5l2.7,-.2 .5,-1 -2.7,.3zM122.8,173.3l2.7,-.3 .5,-1 -2.7,.3zM125.5,173l2.7,-.3 .6,-1.1 -2.8,.4z"/>
<path fill="#76e0d7" d="M128.2,172.7l2.8,-.4 .5,-1.2 -2.7,.5zM131,172.3l2.7,-.5 .5,-1.2 -2.7,.5zM133.7,171.8l2.7,-.6 .6,-1.2 -2.8,.6zM136.4,171.2l2.8,-.6 .5,-1.3 -2.7,.7zM139.2,170.6l2.8,-.6 .5,-1.4 -2.8,.7z"/>
<path fill="#7ce9d1" d="M142,170l2.7,-.7 .5,-1.4 -2.7,.7zM144.7,169.3l2.8,-.7 .5,-1.5 -2.8,.8zM147.5,168.6l2.8,-.8 .5,-1.5 -2.8,.8zM150.3,167.8l2.8,-.9 .5,-1.6 -2.8,1zM153.1,166.9l2.8,-.9 .5,-1.6 -2.8,.9zM155.9,166l2.8,-1 .5,-1.7 -2.8,1.1zM158.7,165l2.8,-1.1 .5,-1.7 -2.8,1.1z"/>
<path fill="#81f3ca" d="M161.5,163.9l2.8,-1.2 .5,-1.7 -2.8,1.2zM164.3,162.7l2.8,-1.2 .5,-1.8 -2.8,1.3zM167.1,161.5l2.9,-1.4 .5,-1.8 -2.9,1.4zM170,160.1l2.8,-1.5 .5,-1.9 -2.8,1.6zM172.8,158.6l2.9,-1.5 .5,-2 -2.9,1.6zM175.7,157.1l2.9,-1.7 .5,-2 -2.9,1.7zM178.6,155.4l2.8,-1.8 .6,-2.1 -2.9,1.9zM181.4,153.6l2.9,-1.9 .5,-2.1 -2.8,1.9zM184.3,151.7l2.9,-2 .6,-2.1 -3,2zM187.2,149.7l3,-2 .5,-2.1 -2.9,2zM190.2,147.7l2.9,-2.1 .5,-2.2 -2.9,2.2zM193.1,145.6l2.9,-2.1 .6,-2.2 -3,2.1zM196,143.5l3,-2.2 .5,-2.2 -2.9,2.2zM199,141.3l3,-2.2 .5,-2.3 -3,2.3zM202,139.1l3,-2.2 .5,-2.4 -3,2.3zM205,136.9l2.9,-2.2 .6,-2.5 -3,2.3z"/>
<path fill="#86fcc4" d="M207.9,134.7l3.1,-2.2 .5,-2.5 -3,2.2zM211,132.5l3,-2.3 .5,-2.5 -3,2.3zM214,130.2l3,-2.2 .5,-2.7 -3,2.4zM217,128l3,-2.2 .6,-2.8 -3.1,2.3zM220,125.8l3.1,-2.2 .5,-2.8 -3,2.2zM223.1,123.6l3.1,-2.2 .5,-2.9 -3.1,2.3zM226.2,121.4l3.1,-2.2 .5,-3 -3.1,2.3zM229.3,119.2l3,-2.1 .6,-3.1 -3.1,2.2zM232.3,117.1l3.1,-2.1 .6,-3.2 -3.1,2.2zM235.4,115l3.2,-2.1 .5,-3.3 -3.1,2.2zM238.6,112.9l3.1,-2.1 .5,-3.4 -3.1,2.2zM241.7,110.8l3.1,-2.1 .6,-3.4 -3.2,2.1zM244.8,108.7l3.2,-2.1 .5,-3.6 -3.1,2.3zM248,106.6l3.1,-2.2 .6,-3.7 -3.2,2.3zM251.1,104.4l3.2,-2.4 .6,-3.7 -3.2,2.4zM254.3,102l3.2,-2.4 .6,-3.8 -3.2,2.5zM257.5,99.6l3.2,-2.6 .6,-3.8 -3.2,2.6zM260.7,97l3.3,-2.9 .6,-3.7 -3.3,2.8z"/>
<path fill="#6ccde4" d="M89.8,169l2.7,1.1 .6,-.5 -2.7,-1.1zM92.5,170.1l2.7,1 .6,-.6 -2.7,-.9zM95.2,171.1l2.7,.8 .6,-.6 -2.7,-.8zM97.9,171.9l2.7,.7 .5,-.6 -2.6,-.7zM100.6,172.6l2.7,.6 .5,-.6 -2.7,-.6zM103.3,173.2l2.7,.5 .5,-.7 -2.7,-.4zM106,173.7l2.7,.3 .5,-.7 -2.7,-.3zM108.7,174l2.7,.3 .5,-.8 -2.7,-.2zM111.4,174.3l2.7,.1 .5,-.8 -2.7,-.1zM114.1,174.4l2.7,.1 .6,-.9 -2.8,0zM116.8,174.5l2.7,-.1 .6,-.9 -2.7,.1z"/>
<path fill="#71d6de" d="M119.5,174.4l2.7,-.1 .6,-1 -2.7,.2zM122.2,174.3l2.8,-.2 .5,-1.1 -2.7,.3zM125,174.1l2.7,-.3 .5,-1.1 -2.7,.3z"/>
<path fill="#76e0d7" d="M127.7,173.8l2.7,-.4 .6,-1.1 -2.8,.4zM130.4,173.4l2.8,-.4 .5,-1.2 -2.7,.5zM133.2,173l2.7,-.5 .5,-1.3 -2.7,.6zM135.9,172.5l2.8,-.6 .5,-1.3 -2.8,.6zM138.7,171.9l2.7,-.6 .6,-1.3 -2.8,.6z"/>
<path fill="#7ce9d1" d="M141.4,171.3l2.8,-.6 .5,-1.4 -2.7,.7zM144.2,170.7l2.8,-.7 .5,-1.4 -2.8,.7zM147,170l2.8,-.7 .5,-1.5 -2.8,.8zM149.8,169.3l2.7,-.8 .6,-1.6 -2.8,.9zM152.5,168.5l2.8,-.9 .6,-1.6 -2.8,.9zM155.3,167.6l2.8,-.9 .6,-1.7 -2.8,1z"/>
<path fill="#81f3ca" d="M158.1,166.7l2.9,-1.1 .5,-1.7 -2.8,1.1zM161,165.6l2.8,-1.1 .5,-1.8 -2.8,1.2zM163.8,164.5l2.8,-1.2 .5,-1.8 -2.8,1.2zM166.6,163.3l2.9,-1.3 .5,-1.9 -2.9,1.4zM169.5,162l2.8,-1.5 .5,-1.9 -2.8,1.5zM172.3,160.5l2.9,-1.5 .5,-1.9 -2.9,1.5zM175.2,159l2.8,-1.6 .6,-2 -2.9,1.7zM178,157.4l2.9,-1.8 .5,-2 -2.8,1.8zM180.9,155.6l2.9,-1.8 .5,-2.1 -2.9,1.9zM183.8,153.8l2.9,-1.9 .5,-2.2 -2.9,2zM186.7,151.9l3,-2 .5,-2.2 -3,2zM189.7,149.9l2.9,-2 .5,-2.3 -2.9,2.1zM192.6,147.9l2.9,-2.1 .5,-2.3 -2.9,2.1zM195.5,145.8l3,-2.1 .5,-2.4 -3,2.2zM198.5,143.7l3,-2.2 .5,-2.4 -3,2.2zM201.5,141.5l2.9,-2.1 .6,-2.5 -3,2.2z"/>
<path fill="#86fcc4" d="M204.4,139.4l3,-2.2 .5,-2.5 -2.9,2.2zM207.4,137.2l3,-2.1 .6,-2.6 -3.1,2.2zM210.4,135.1l3.1,-2.2 .5,-2.7 -3,2.3zM213.5,132.9l3,-2.2 .5,-2.7 -3,2.2zM216.5,130.7l3,-2.1 .5,-2.8 -3,2.2zM219.5,128.6l3.1,-2.1 .5,-2.9 -3.1,2.2zM222.6,126.5l3,-2.2 .6,-2.9 -3.1,2.2zM225.6,124.3l3.1,-2 .6,-3.1 -3.1,2.2zM228.7,122.3l3.1,-2.1 .5,-3.1 -3,2.1zM231.8,120.2l3.1,-2 .5,-3.2 -3.1,2.1zM234.9,118.2l3.1,-2 .6,-3.3 -3.2,2.1zM238,116.2l3.1,-1.9 .6,-3.5 -3.1,2.1zM241.1,114.3l3.2,-2 .5,-3.6 -3.1,2.1zM244.3,112.3l3.1,-2.1 .6,-3.6 -3.2,2.1zM247.4,110.2l3.2,-2.1 .5,-3.7 -3.1,2.2zM250.6,108.1l3.2,-2.3 .5,-3.8 -3.2,2.4zM253.8,105.8l3.2,-2.4 .5,-3.8 -3.2,2.4zM257,103.4l3.2,-2.6 .5,-3.8 -3.2,2.6zM260.2,100.8l3.2,-2.9 .6,-3.8 -3.3,2.9z"/>
<path fill="#6ccde4" d="M89.2,169.5l2.7,1.1 .6,-.5 -2.7,-1.1zM91.9,170.6l2.7,1 .6,-.5 -2.7,-1zM94.6,171.6l2.7,.9 .6,-.6 -2.7,-.8zM97.3,172.5l2.7,.7 .6,-.6 -2.7,-.7zM100,173.2l2.7,.7 .6,-.7 -2.7,-.6zM102.7,173.9l2.7,.5 .6,-.7 -2.7,-.5zM105.4,174.4l2.7,.4 .6,-.8 -2.7,-.3zM108.1,174.8l2.7,.2 .6,-.7 -2.7,-.3zM110.8,175l2.7,.2 .6,-.8 -2.7,-.1zM113.5,175.2l2.7,.1 .6,-.8 -2.7,-.1zM116.2,175.3l2.8,0 .5,-.9 -2.7,.1z"/>
<path fill="#71d6de" d="M119,175.3l2.7,-.1 .5,-.9 -2.7,.1zM121.7,175.2l2.7,-.1 .6,-1 -2.8,.2zM124.4,175.1l2.7,-.3 .6,-1 -2.7,.3zM127.1,174.8l2.8,-.3 .5,-1.1 -2.7,.4z"/>
<path fill="#76e0d7" d="M129.9,174.5l2.7,-.4 .6,-1.1 -2.8,.4zM132.6,174.1l2.8,-.4 .5,-1.2 -2.7,.5zM135.4,173.7l2.7,-.5 .6,-1.3 -2.8,.6zM138.1,173.2l2.8,-.5 .5,-1.4 -2.7,.6z"/>
<path fill="#7ce9d1" d="M140.9,172.7l2.8,-.6 .5,-1.4 -2.8,.6zM143.7,172.1l2.7,-.6 .6,-1.5 -2.8,.7zM146.4,171.5l2.8,-.7 .6,-1.5 -2.8,.7zM149.2,170.8l2.8,-.8 .5,-1.5 -2.7,.8zM152,170l2.8,-.8 .5,-1.6 -2.8,.9zM154.8,169.2l2.8,-.9 .5,-1.6 -2.8,.9z"/>
<path fill="#81f3ca" d="M157.6,168.3l2.8,-1 .6,-1.7 -2.9,1.1zM160.4,167.3l2.9,-1 .5,-1.8 -2.8,1.1zM163.3,166.3l2.8,-1.2 .5,-1.8 -2.8,1.2zM166.1,165.1l2.8,-1.3 .6,-1.8 -2.9,1.3zM168.9,163.8l2.9,-1.4 .5,-1.9 -2.8,1.5zM171.8,162.4l2.9,-1.5 .5,-1.9 -2.9,1.5zM174.7,160.9l2.8,-1.6 .5,-1.9 -2.8,1.6zM177.5,159.3l2.9,-1.6 .5,-2.1 -2.9,1.8zM180.4,157.7l2.9,-1.8 .5,-2.1 -2.9,1.8zM183.3,155.9l2.9,-1.9 .5,-2.1 -2.9,1.9zM186.2,154l2.9,-1.9 .6,-2.2 -3,2zM189.1,152.1l3,-2 .5,-2.2 -2.9,2zM192.1,150.1l2.9,-2 .5,-2.3 -2.9,2.1zM195,148.1l3,-2.1 .5,-2.3 -3,2.1zM198,146l2.9,-2 .6,-2.5 -3,2.2z"/>
<path fill="#86fcc4" d="M200.9,144l3,-2.1 .5,-2.5 -2.9,2.1zM203.9,141.9l3,-2.1 .5,-2.6 -3,2.2zM206.9,139.8l3,-2.1 .5,-2.6 -3,2.1zM209.9,137.7l3,-2.1 .6,-2.7 -3.1,2.2zM212.9,135.6l3.1,-2.1 .5,-2.8 -3,2.2zM216,133.5l3,-2.1 .5,-2.8 -3,2.1zM219,131.4l3.1,-2 .5,-2.9 -3.1,2.1zM222.1,129.4l3,-2 .5,-3.1 -3,2.2zM225.1,127.4l3.1,-2 .5,-3.1 -3.1,2zM228.2,125.4l3.1,-2 .5,-3.2 -3.1,2.1zM231.3,123.4l3.1,-1.9 .5,-3.3 -3.1,2zM234.4,121.5l3.1,-1.8 .5,-3.5 -3.1,2zM237.5,119.7l3.1,-1.9 .5,-3.5 -3.1,1.9zM240.6,117.8l3.1,-1.9 .6,-3.6 -3.2,2zM243.7,115.9l3.2,-2 .5,-3.7 -3.1,2.1zM246.9,113.9l3.1,-2.1 .6,-3.7 -3.2,2.1zM250,111.8l3.2,-2.2 .6,-3.8 -3.2,2.3zM253.2,109.6l3.2,-2.4 .6,-3.8 -3.2,2.4zM256.4,107.2l3.2,-2.6 .6,-3.8 -3.2,2.6zM259.6,104.6l3.3,-2.8 .5,-3.9 -3.2,2.9z"/>
<path fill="#6ccde4" d="M88.6,170l2.7,1.1 .6,-.5 -2.7,-1.1zM91.3,171.1l2.7,1.1 .6,-.6 -2.7,-1zM94,172.2l2.7,.9 .6,-.6 -2.7,-.9zM96.7,173.1l2.7,.8 .6,-.7 -2.7,-.7zM99.4,173.9l2.7,.6 .6,-.6 -2.7,-.7zM102.1,174.5l2.7,.6 .6,-.7 -2.7,-.5zM104.8,175.1l2.7,.4 .6,-.7 -2.7,-.4zM107.5,175.5l2.8,.3 .5,-.8 -2.7,-.2zM110.3,175.8l2.7,.2 .5,-.8 -2.7,-.2zM113,176l2.7,.2 .5,-.9 -2.7,-.1zM115.7,176.2l2.7,0 .6,-.9 -2.8,0z"/>
<path fill="#71d6de" d="M118.4,176.2l2.7,0 .6,-1 -2.7,.1zM121.1,176.2l2.8,-.1 .5,-1 -2.7,.1zM123.9,176.1l2.7,-.2 .5,-1.1 -2.7,.3zM126.6,175.9l2.7,-.3 .6,-1.1 -2.8,.3z"/>
<path fill="#76e0d7" d="M129.3,175.6l2.8,-.3 .5,-1.2 -2.7,.4zM132.1,175.3l2.7,-.4 .6,-1.2 -2.8,.4zM134.8,174.9l2.8,-.4 .5,-1.3 -2.7,.5zM137.6,174.5l2.8,-.5 .5,-1.3 -2.8,.5z"/>
<path fill="#7ce9d1" d="M140.4,174l2.7,-.5 .6,-1.4 -2.8,.6zM143.1,173.5l2.8,-.6 .5,-1.4 -2.7,.6zM145.9,172.9l2.8,-.6 .5,-1.5 -2.8,.7zM148.7,172.3l2.8,-.7 .5,-1.6 -2.8,.8zM151.5,171.6l2.8,-.8 .5,-1.6 -2.8,.8zM154.3,170.8l2.8,-.9 .5,-1.6 -2.8,.9zM157.1,169.9l2.8,-.9 .5,-1.7 -2.8,1z"/>
<path fill="#81f3ca" d="M159.9,169l2.9,-1 .5,-1.7 -2.9,1zM162.8,168l2.8,-1.1 .5,-1.8 -2.8,1.2zM165.6,166.9l2.8,-1.2 .5,-1.9 -2.8,1.3zM168.4,165.7l2.9,-1.4 .5,-1.9 -2.9,1.4zM171.3,164.3l2.8,-1.4 .6,-2 -2.9,1.5zM174.1,162.9l2.9,-1.6 .5,-2 -2.8,1.6zM177,161.3l2.9,-1.6 .5,-2 -2.9,1.6zM179.9,159.7l2.9,-1.7 .5,-2.1 -2.9,1.8zM182.8,158l2.9,-1.8 .5,-2.2 -2.9,1.9zM185.7,156.2l2.9,-1.9 .5,-2.2 -2.9,1.9zM188.6,154.3l3,-1.9 .5,-2.3 -3,2zM191.6,152.4l2.9,-2 .5,-2.3 -2.9,2zM194.5,150.4l3,-2 .5,-2.4 -3,2.1z"/>
<path fill="#86fcc4" d="M197.5,148.4l2.9,-2 .5,-2.4 -2.9,2zM200.4,146.4l3,-2 .5,-2.5 -3,2.1zM203.4,144.4l3,-2 .5,-2.6 -3,2.1zM206.4,142.4l3,-2.1 .5,-2.6 -3,2.1zM209.4,140.3l3,-2 .5,-2.7 -3,2.1zM212.4,138.3l3,-2 .6,-2.8 -3.1,2.1zM215.4,136.3l3.1,-1.9 .5,-3 -3,2.1zM218.5,134.4l3,-2 .6,-3 -3.1,2zM221.5,132.4l3.1,-1.9 .5,-3.1 -3,2zM224.6,130.5l3.1,-1.9 .5,-3.2 -3.1,2zM227.7,128.6l3,-1.9 .6,-3.3 -3.1,2zM230.7,126.7l3.1,-1.8 .6,-3.4 -3.1,1.9zM233.8,124.9l3.1,-1.8 .6,-3.4 -3.1,1.8zM236.9,123.1l3.1,-1.7 .6,-3.6 -3.1,1.9zM240,121.4l3.2,-1.8 .5,-3.7 -3.1,1.9zM243.2,119.6l3.1,-1.9 .6,-3.8 -3.2,2zM246.3,117.7l3.2,-2 .5,-3.9 -3.1,2.1zM249.5,115.7l3.1,-2.2 .6,-3.9 -3.2,2.2zM252.6,113.5l3.2,-2.3 .6,-4 -3.2,2.4zM255.8,111.2l3.3,-2.6 .5,-4 -3.2,2.6zM259.1,108.6l3.2,-2.9 .6,-3.9 -3.3,2.8z"/>
<path fill="#6ccde4" d="M88,170.5l2.7,1.2 .6,-.6 -2.7,-1.1zM90.7,171.7l2.7,1.1 .6,-.6 -2.7,-1.1zM93.4,172.8l2.7,.9 .6,-.6 -2.7,-.9zM96.1,173.7l2.8,.8 .5,-.6 -2.7,-.8zM98.9,174.5l2.7,.7 .5,-.7 -2.7,-.6zM101.6,175.2l2.7,.6 .5,-.7 -2.7,-.6zM104.3,175.8l2.7,.4 .5,-.7 -2.7,-.4zM107,176.2l2.7,.4 .6,-.8 -2.8,-.3zM109.7,176.6l2.7,.2 .6,-.8 -2.7,-.2zM112.4,176.8l2.7,.2 .6,-.8 -2.7,-.2zM115.1,177l2.8,.1 .5,-.9 -2.7,0z"/>
<path fill="#71d6de" d="M117.9,177.1l2.7,0 .5,-.9 -2.7,0zM120.6,177.1l2.7,0 .6,-1 -2.8,.1zM123.3,177.1l2.8,-.2 .5,-1 -2.7,.2zM126.1,176.9l2.7,-.2 .5,-1.1 -2.7,.3z"/>
<path fill="#76e0d7" d="M128.8,176.7l2.8,-.2 .5,-1.2 -2.8,.3zM131.6,176.5l2.7,-.4 .5,-1.2 -2.7,.4zM134.3,176.1l2.8,-.3 .5,-1.3 -2.8,.4zM137.1,175.8l2.7,-.5 .6,-1.3 -2.8,.5z"/>
<path fill="#7ce9d1" d="M139.8,175.3l2.8,-.5 .5,-1.3 -2.7,.5zM142.6,174.8l2.8,-.5 .5,-1.4 -2.8,.6zM145.4,174.3l2.8,-.6 .5,-1.4 -2.8,.6zM148.2,173.7l2.8,-.6 .5,-1.5 -2.8,.7zM151,173.1l2.8,-.7 .5,-1.6 -2.8,.8zM153.8,172.4l2.8,-.8 .5,-1.7 -2.8,.9zM156.6,171.6l2.8,-.9 .5,-1.7 -2.8,.9z"/>
<path fill="#81f3ca" d="M159.4,170.7l2.8,-1 .6,-1.7 -2.9,1zM162.2,169.7l2.9,-1 .5,-1.8 -2.8,1.1zM165.1,168.7l2.8,-1.2 .5,-1.8 -2.8,1.2zM167.9,167.5l2.9,-1.3 .5,-1.9 -2.9,1.4zM170.8,166.2l2.8,-1.4 .5,-1.9 -2.8,1.4zM173.6,164.8l2.9,-1.5 .5,-2 -2.9,1.6zM176.5,163.3l2.9,-1.6 .5,-2 -2.9,1.6zM179.4,161.7l2.9,-1.6 .5,-2.1 -2.9,1.7zM182.3,160.1l2.9,-1.8 .5,-2.1 -2.9,1.8zM185.2,158.3l2.9,-1.8 .5,-2.2 -2.9,1.9zM188.1,156.5l3,-1.8 .5,-2.3 -3,1.9zM191.1,154.7l2.9,-1.9 .5,-2.4 -2.9,2z"/>
<path fill="#86fcc4" d="M194,152.8l3,-2 .5,-2.4 -3,2zM197,150.8l2.9,-1.9 .5,-2.5 -2.9,2zM199.9,148.9l3,-1.9 .5,-2.6 -3,2zM202.9,147l3,-2 .5,-2.6 -3,2zM205.9,145l3,-1.9 .5,-2.8 -3,2.1zM208.9,143.1l3,-2 .5,-2.8 -3,2zM211.9,141.1l3,-1.9 .5,-2.9 -3,2zM214.9,139.2l3.1,-1.9 .5,-2.9 -3.1,1.9zM218,137.3l3,-1.8 .5,-3.1 -3,2zM221,135.5l3.1,-1.9 .5,-3.1 -3.1,1.9zM224.1,133.6l3,-1.8 .6,-3.2 -3.1,1.9zM227.1,131.8l3.1,-1.7 .5,-3.4 -3,1.9zM230.2,130.1l3.1,-1.7 .5,-3.5 -3.1,1.8zM233.3,128.4l3.1,-1.7 .5,-3.6 -3.1,1.8zM236.4,126.7l3.1,-1.7 .5,-3.6 -3.1,1.7zM239.5,125l3.1,-1.7 .6,-3.7 -3.2,1.8zM242.6,123.3l3.2,-1.8 .5,-3.8 -3.1,1.9zM245.8,121.5l3.1,-1.9 .6,-3.9 -3.2,2zM248.9,119.6l3.2,-2.1 .5,-4 -3.1,2.2zM252.1,117.5l3.2,-2.4 .5,-3.9 -3.2,2.3zM255.3,115.1l3.2,-2.6 .6,-3.9 -3.3,2.6zM258.5,112.5l3.2,-2.9 .6,-3.9 -3.2,2.9z"/>
<path fill="#6ccde4" d="M87.4,171l2.7,1.2 .6,-.5 -2.7,-1.2zM90.1,172.2l2.7,1.1 .6,-.5 -2.7,-1.1zM92.8,173.3l2.8,1 .5,-.6 -2.7,-.9zM95.6,174.3l2.7,.8 .6,-.6 -2.8,-.8zM98.3,175.1l2.7,.7 .6,-.6 -2.7,-.7zM101,175.8l2.7,.6 .6,-.6 -2.7,-.6zM103.7,176.4l2.7,.5 .6,-.7 -2.7,-.4zM106.4,176.9l2.7,.4 .6,-.7 -2.7,-.4zM109.1,177.3l2.8,.3 .5,-.8 -2.7,-.2zM111.9,177.6l2.7,.3 .5,-.9 -2.7,-.2zM114.6,177.9l2.7,.1 .6,-.9 -2.8,-.1z"/>
<path fill="#71d6de" d="M117.3,178l2.7,.1 .6,-1 -2.7,0zM120,178.1l2.8,-.1 .5,-.9 -2.7,0zM122.8,178l2.7,0 .6,-1.1 -2.8,.2zM125.5,178l2.8,-.2 .5,-1.1 -2.7,.2z"/>
<path fill="#76e0d7" d="M128.3,177.8l2.7,-.2 .6,-1.1 -2.8,.2zM131,177.6l2.8,-.3 .5,-1.2 -2.7,.4zM133.8,177.3l2.7,-.3 .6,-1.2 -2.8,.3zM136.5,177l2.8,-.4 .5,-1.3 -2.7,.5zM139.3,176.6l2.8,-.4 .5,-1.4 -2.8,.5z"/>
<path fill="#7ce9d1" d="M142.1,176.2l2.8,-.5 .5,-1.4 -2.8,.5zM144.9,175.7l2.8,-.5 .5,-1.5 -2.8,.6zM147.7,175.2l2.8,-.6 .5,-1.5 -2.8,.6zM150.5,174.6l2.8,-.7 .5,-1.5 -2.8,.7zM153.3,173.9l2.8,-.7 .5,-1.6 -2.8,.8zM156.1,173.2l2.8,-.9 .5,-1.6 -2.8,.9zM158.9,172.3l2.8,-.9 .5,-1.7 -2.8,1z"/>
<path fill="#81f3ca" d="M161.7,171.4l2.9,-1 .5,-1.7 -2.9,1zM164.6,170.4l2.8,-1.1 .5,-1.8 -2.8,1.2zM167.4,169.3l2.9,-1.2 .5,-1.9 -2.9,1.3zM170.3,168.1l2.8,-1.4 .5,-1.9 -2.8,1.4zM173.1,166.7l2.9,-1.4 .5,-2 -2.9,1.5zM176,165.3l2.9,-1.5 .5,-2.1 -2.9,1.6zM178.9,163.8l2.9,-1.6 .5,-2.1 -2.9,1.6zM181.8,162.2l2.9,-1.7 .5,-2.2 -2.9,1.8zM184.7,160.5l2.9,-1.8 .5,-2.2 -2.9,1.8zM187.6,158.7l2.9,-1.7 .6,-2.3 -3,1.8zM190.5,157l3,-1.9 .5,-2.3 -2.9,1.9z"/>
<path fill="#86fcc4" d="M193.5,155.1l2.9,-1.8 .6,-2.5 -3,2zM196.4,153.3l3,-1.9 .5,-2.5 -2.9,1.9zM199.4,151.4l3,-1.9 .5,-2.5 -3,1.9zM202.4,149.5l3,-1.8 .5,-2.7 -3,2zM205.4,147.7l3,-1.9 .5,-2.7 -3,1.9zM208.4,145.8l3,-1.8 .5,-2.9 -3,2zM211.4,144l3,-1.8 .5,-3 -3,1.9zM214.4,142.2l3,-1.8 .6,-3.1 -3.1,1.9zM217.4,140.4l3.1,-1.8 .5,-3.1 -3,1.8zM220.5,138.6l3,-1.7 .6,-3.3 -3.1,1.9zM223.5,136.9l3.1,-1.7 .5,-3.4 -3,1.8zM226.6,135.2l3.1,-1.7 .5,-3.4 -3.1,1.7zM229.7,133.5l3.1,-1.6 .5,-3.5 -3.1,1.7zM232.8,131.9l3,-1.6 .6,-3.6 -3.1,1.7zM235.8,130.3l3.1,-1.6 .6,-3.7 -3.1,1.7zM238.9,128.7l3.2,-1.6 .5,-3.8 -3.1,1.7zM242.1,127.1l3.1,-1.7 .6,-3.9 -3.2,1.8zM245.2,125.4l3.1,-1.9 .6,-3.9 -3.1,1.9zM248.3,123.5l3.2,-2 .6,-4 -3.2,2.1zM251.5,121.5l3.2,-2.3 .6,-4.1 -3.2,2.4zM254.7,119.2l3.2,-2.6 .6,-4.1 -3.2,2.6zM257.9,116.6l3.3,-3 .5,-4 -3.2,2.9z"/>
<path fill="#6ccde4" d="M86.8,171.5l2.7,1.3 .6,-.6 -2.7,-1.2zM89.5,172.8l2.8,1.1 .5,-.6 -2.7,-1.1zM92.3,173.9l2.7,1 .6,-.6 -2.8,-1zM95,174.9l2.7,.8 .6,-.6 -2.7,-.8zM97.7,175.7l2.7,.8 .6,-.7 -2.7,-.7zM100.4,176.5l2.7,.6 .6,-.7 -2.7,-.6zM103.1,177.1l2.7,.6 .6,-.8 -2.7,-.5zM105.8,177.7l2.8,.4 .5,-.8 -2.7,-.4zM108.6,178.1l2.7,.3 .6,-.8 -2.8,-.3zM111.3,178.4l2.7,.3 .6,-.8 -2.7,-.3zM114,178.7l2.8,.2 .5,-.9 -2.7,-.1zM116.8,178.9l2.7,.1 .5,-.9 -2.7,-.1z"/>
<path fill="#71d6de" d="M119.5,179l2.7,0 .6,-1 -2.8,.1zM122.2,179l2.8,0 .5,-1 -2.7,0zM125,179l2.7,-.1 .6,-1.1 -2.8,.2zM127.7,178.9l2.8,-.2 .5,-1.1 -2.7,.2z"/>
<path fill="#76e0d7" d="M130.5,178.7l2.7,-.2 .6,-1.2 -2.8,.3zM133.2,178.5l2.8,-.3 .5,-1.2 -2.7,.3zM136,178.2l2.8,-.3 .5,-1.3 -2.8,.4zM138.8,177.9l2.8,-.4 .5,-1.3 -2.8,.4z"/>
<path fill="#7ce9d1" d="M141.6,177.5l2.7,-.4 .6,-1.4 -2.8,.5zM144.3,177.1l2.8,-.5 .6,-1.4 -2.8,.5zM147.1,176.6l2.8,-.6 .6,-1.4 -2.8,.6zM149.9,176l2.8,-.6 .6,-1.5 -2.8,.7zM152.7,175.4l2.8,-.7 .6,-1.5 -2.8,.7zM155.5,174.7l2.9,-.7 .5,-1.7 -2.8,.9zM158.4,174l2.8,-.9 .5,-1.7 -2.8,.9z"/>
<path fill="#81f3ca" d="M161.2,173.1l2.8,-1 .6,-1.7 -2.9,1zM164,172.1l2.9,-1 .5,-1.8 -2.8,1.1zM166.9,171.1l2.8,-1.2 .6,-1.8 -2.9,1.2zM169.7,169.9l2.9,-1.3 .5,-1.9 -2.8,1.4zM172.6,168.6l2.9,-1.3 .5,-2 -2.9,1.4zM175.5,167.3l2.9,-1.5 .5,-2 -2.9,1.5zM178.4,165.8l2.9,-1.6 .5,-2 -2.9,1.6zM181.3,164.2l2.9,-1.6 .5,-2.1 -2.9,1.7zM184.2,162.6l2.9,-1.6 .5,-2.3 -2.9,1.8zM187.1,161l2.9,-1.7 .5,-2.3 -2.9,1.7z"/>
<path fill="#86fcc4" d="M190,159.3l3,-1.8 .5,-2.4 -3,1.9zM193,157.5l2.9,-1.8 .5,-2.4 -2.9,1.8zM195.9,155.7l3,-1.7 .5,-2.6 -3,1.9zM198.9,154l3,-1.8 .5,-2.7 -3,1.9zM201.9,152.2l3,-1.8 .5,-2.7 -3,1.8zM204.9,150.4l2.9,-1.8 .6,-2.8 -3,1.9zM207.8,148.6l3.1,-1.7 .5,-2.9 -3,1.8zM210.9,146.9l3,-1.8 .5,-2.9 -3,1.8zM213.9,145.1l3,-1.7 .5,-3 -3,1.8zM216.9,143.4l3,-1.6 .6,-3.2 -3.1,1.8zM219.9,141.8l3.1,-1.7 .5,-3.2 -3,1.7zM223,140.1l3.1,-1.6 .5,-3.3 -3.1,1.7zM226.1,138.5l3,-1.5 .6,-3.5 -3.1,1.7zM229.1,137l3.1,-1.5 .6,-3.6 -3.1,1.6zM232.2,135.5l3.1,-1.5 .5,-3.7 -3,1.6zM235.3,134l3.1,-1.5 .5,-3.8 -3.1,1.6zM238.4,132.5l3.1,-1.5 .6,-3.9 -3.2,1.6zM241.5,131l3.1,-1.7 .6,-3.9 -3.1,1.7zM244.6,129.3l3.2,-1.8 .5,-4 -3.1,1.9zM247.8,127.5l3.1,-2 .6,-4 -3.2,2zM250.9,125.5l3.2,-2.3 .6,-4 -3.2,2.3zM254.1,123.2l3.2,-2.6 .6,-4 -3.2,2.6zM257.3,120.6l3.3,-2.9 .6,-4.1 -3.3,3z"/>
<path fill="#6ccde4" d="M86.2,172l2.8,1.3 .5,-.5 -2.7,-1.3zM89,173.3l2.7,1.2 .6,-.6 -2.8,-1.1zM91.7,174.5l2.7,1 .6,-.6 -2.7,-1zM94.4,175.5l2.7,.9 .6,-.7 -2.7,-.8zM97.1,176.4l2.7,.7 .6,-.6 -2.7,-.8zM99.8,177.1l2.8,.7 .5,-.7 -2.7,-.6zM102.6,177.8l2.7,.6 .5,-.7 -2.7,-.6zM105.3,178.4l2.7,.4 .6,-.7 -2.8,-.4zM108,178.8l2.7,.4 .6,-.8 -2.7,-.3zM110.7,179.2l2.8,.3 .5,-.8 -2.7,-.3zM113.5,179.5l2.7,.2 .6,-.8 -2.8,-.2zM116.2,179.7l2.7,.2 .6,-.9 -2.7,-.1z"/>
<path fill="#71d6de" d="M118.9,179.9l2.8,.1 .5,-1 -2.7,0zM121.7,180l2.7,0 .6,-1 -2.8,0zM124.4,180l2.8,-.1 .5,-1 -2.7,.1zM127.2,179.9l2.7,-.1 .6,-1.1 -2.8,.2z"/>
<path fill="#76e0d7" d="M129.9,179.8l2.8,-.2 .5,-1.1 -2.7,.2zM132.7,179.6l2.8,-.2 .5,-1.2 -2.8,.3zM135.5,179.4l2.7,-.3 .6,-1.2 -2.8,.3zM138.2,179.1l2.8,-.3 .6,-1.3 -2.8,.4zM141,178.8l2.8,-.4 .5,-1.3 -2.7,.4z"/>
<path fill="#7ce9d1" d="M143.8,178.4l2.8,-.4 .5,-1.4 -2.8,.5zM146.6,178l2.8,-.5 .5,-1.5 -2.8,.6zM149.4,177.5l2.8,-.6 .5,-1.5 -2.8,.6zM152.2,176.9l2.8,-.6 .5,-1.6 -2.8,.7zM155,176.3l2.8,-.8 .6,-1.5 -2.9,.7zM157.8,175.5l2.9,-.8 .5,-1.6 -2.8,.9zM160.7,174.7l2.8,-.9 .5,-1.7 -2.8,1z"/>
<path fill="#81f3ca" d="M163.5,173.8l2.9,-1 .5,-1.7 -2.9,1zM166.4,172.8l2.8,-1.1 .5,-1.8 -2.8,1.2zM169.2,171.7l2.9,-1.2 .5,-1.9 -2.9,1.3zM172.1,170.5l2.9,-1.3 .5,-1.9 -2.9,1.3zM175,169.2l2.9,-1.4 .5,-2 -2.9,1.5zM177.9,167.8l2.9,-1.5 .5,-2.1 -2.9,1.6zM180.8,166.3l2.9,-1.5 .5,-2.2 -2.9,1.6zM183.7,164.8l2.9,-1.6 .5,-2.2 -2.9,1.6zM186.6,163.2l2.9,-1.6 .5,-2.3 -2.9,1.7z"/>
<path fill="#86fcc4" d="M189.5,161.6l3,-1.7 .5,-2.4 -3,1.8zM192.5,159.9l2.9,-1.7 .5,-2.5 -2.9,1.8zM195.4,158.2l3,-1.7 .5,-2.5 -3,1.7zM198.4,156.5l2.9,-1.7 .6,-2.6 -3,1.8zM201.3,154.8l3,-1.7 .6,-2.7 -3,1.8zM204.3,153.1l3,-1.6 .5,-2.9 -2.9,1.8zM207.3,151.5l3,-1.7 .6,-2.9 -3.1,1.7zM210.3,149.8l3.1,-1.6 .5,-3.1 -3,1.8zM213.4,148.2l3,-1.6 .5,-3.2 -3,1.7zM216.4,146.6l3,-1.6 .5,-3.2 -3,1.6zM219.4,145l3.1,-1.6 .5,-3.3 -3.1,1.7zM222.5,143.4l3,-1.5 .6,-3.4 -3.1,1.6zM225.5,141.9l3.1,-1.4 .5,-3.5 -3,1.5zM228.6,140.5l3.1,-1.4 .5,-3.6 -3.1,1.5zM231.7,139.1l3,-1.4 .6,-3.7 -3.1,1.5zM234.7,137.7l3.1,-1.4 .6,-3.8 -3.1,1.5zM237.8,136.3l3.2,-1.5 .5,-3.8 -3.1,1.5zM241,134.8l3.1,-1.5 .5,-4 -3.1,1.7zM244.1,133.3l3.1,-1.8 .6,-4 -3.2,1.8zM247.2,131.5l3.2,-1.9 .5,-4.1 -3.1,2zM250.4,129.6l3.2,-2.3 .5,-4.1 -3.2,2.3zM253.6,127.3l3.2,-2.6 .5,-4.1 -3.2,2.6zM256.8,124.7l3.2,-3 .6,-4 -3.3,2.9z"/>
<path fill="#6ccde4" d="M85.6,172.6l2.8,1.3 .6,-.6 -2.8,-1.3zM88.4,173.9l2.7,1.2 .6,-.6 -2.7,-1.2zM91.1,175.1l2.7,1 .6,-.6 -2.7,-1zM93.8,176.1l2.7,.9 .6,-.6 -2.7,-.9zM96.5,177l2.8,.8 .5,-.7 -2.7,-.7zM99.3,177.8l2.7,.7 .6,-.7 -2.8,-.7zM102,178.5l2.7,.6 .6,-.7 -2.7,-.6zM104.7,179.1l2.7,.5 .6,-.8 -2.7,-.4zM107.4,179.6l2.8,.4 .5,-.8 -2.7,-.4zM110.2,180l2.7,.3 .6,-.8 -2.8,-.3zM112.9,180.3l2.7,.3 .6,-.9 -2.7,-.2zM115.6,180.6l2.8,.2 .5,-.9 -2.7,-.2z"/>
<path fill="#71d6de" d="M118.4,180.8l2.7,.1 .6,-.9 -2.8,-.1zM121.1,180.9l2.8,.1 .5,-1 -2.7,0zM123.9,181l2.7,0 .6,-1.1 -2.8,.1zM126.6,181l2.8,-.1 .5,-1.1 -2.7,.1z"/>
<path fill="#76e0d7" d="M129.4,180.9l2.8,-.1 .5,-1.2 -2.8,.2zM132.2,180.8l2.7,-.2 .6,-1.2 -2.8,.2zM134.9,180.6l2.8,-.2 .5,-1.3 -2.7,.3zM137.7,180.4l2.8,-.3 .5,-1.3 -2.8,.3zM140.5,180.1l2.8,-.4 .5,-1.3 -2.8,.4z"/>
<path fill="#7ce9d1" d="M143.3,179.7l2.8,-.3 .5,-1.4 -2.8,.4zM146.1,179.4l2.8,-.5 .5,-1.4 -2.8,.5zM148.9,178.9l2.8,-.5 .5,-1.5 -2.8,.6zM151.7,178.4l2.8,-.6 .5,-1.5 -2.8,.6zM154.5,177.8l2.8,-.7 .5,-1.6 -2.8,.8zM157.3,177.1l2.9,-.7 .5,-1.7 -2.9,.8zM160.2,176.4l2.8,-.9 .5,-1.7 -2.8,.9z"/>
<path fill="#81f3ca" d="M163,175.5l2.9,-.9 .5,-1.8 -2.9,1zM165.9,174.6l2.8,-1.1 .5,-1.8 -2.8,1.1zM168.7,173.5l2.9,-1.1 .5,-1.9 -2.9,1.2zM171.6,172.4l2.9,-1.3 .5,-1.9 -2.9,1.3zM174.5,171.1l2.8,-1.3 .6,-2 -2.9,1.4zM177.3,169.8l2.9,-1.4 .6,-2.1 -2.9,1.5zM180.2,168.4l2.9,-1.5 .6,-2.1 -2.9,1.5zM183.1,166.9l3,-1.5 .5,-2.2 -2.9,1.6z"/>
<path fill="#86fcc4" d="M186.1,165.4l2.9,-1.5 .5,-2.3 -2.9,1.6zM189,163.9l2.9,-1.6 .6,-2.4 -3,1.7zM191.9,162.3l3,-1.6 .5,-2.5 -2.9,1.7zM194.9,160.7l3,-1.6 .5,-2.6 -3,1.7zM197.9,159.1l2.9,-1.6 .5,-2.7 -2.9,1.7zM200.8,157.5l3,-1.6 .5,-2.8 -3,1.7zM203.8,155.9l3,-1.6 .5,-2.8 -3,1.6zM206.8,154.3l3,-1.5 .5,-3 -3,1.7zM209.8,152.8l3,-1.6 .6,-3 -3.1,1.6zM212.8,151.2l3.1,-1.5 .5,-3.1 -3,1.6zM215.9,149.7l3,-1.5 .5,-3.2 -3,1.6zM218.9,148.2l3,-1.4 .6,-3.4 -3.1,1.6zM221.9,146.8l3.1,-1.4 .5,-3.5 -3,1.5zM225,145.4l3,-1.4 .6,-3.5 -3.1,1.4zM228,144l3.1,-1.3 .6,-3.6 -3.1,1.4zM231.1,142.7l3.1,-1.3 .5,-3.7 -3,1.4zM234.2,141.4l3.1,-1.3 .5,-3.8 -3.1,1.4zM237.3,140.1l3.1,-1.4 .6,-3.9 -3.2,1.5zM240.4,138.7l3.1,-1.4 .6,-4 -3.1,1.5zM243.5,137.3l3.2,-1.7 .5,-4.1 -3.1,1.8zM246.7,135.6l3.1,-1.9 .6,-4.1 -3.2,1.9zM249.8,133.7l3.2,-2.3 .6,-4.1 -3.2,2.3zM253,131.4l3.2,-2.6 .6,-4.1 -3.2,2.6zM256.2,128.8l3.2,-3 .6,-4.1 -3.2,3z"/>
<path fill="#6ccde4" d="M85,173.1l2.8,1.4 .6,-.6 -2.8,-1.3zM87.8,174.5l2.7,1.1 .6,-.5 -2.7,-1.2zM90.5,175.6l2.7,1.1 .6,-.6 -2.7,-1zM93.2,176.7l2.7,.9 .6,-.6 -2.7,-.9zM95.9,177.6l2.8,.9 .6,-.7 -2.8,-.8zM98.7,178.5l2.7,.7 .6,-.7 -2.7,-.7zM101.4,179.2l2.7,.6 .6,-.7 -2.7,-.6zM104.1,179.8l2.8,.5 .5,-.7 -2.7,-.5zM106.9,180.3l2.7,.5 .6,-.8 -2.8,-.4zM109.6,180.8l2.7,.4 .6,-.9 -2.7,-.3zM112.3,181.2l2.8,.3 .5,-.9 -2.7,-.3zM115.1,181.5l2.7,.2 .6,-.9 -2.8,-.2z"/>
<path fill="#71d6de" d="M117.8,181.7l2.8,.2 .5,-1 -2.7,-.1zM120.6,181.9l2.7,.1 .6,-1 -2.8,-.1zM123.3,182l2.8,0 .5,-1 -2.7,0zM126.1,182l2.7,0 .6,-1.1 -2.8,.1zM128.8,182l2.8,-.1 .6,-1.1 -2.8,.1z"/>
<path fill="#76e0d7" d="M131.6,181.9l2.8,-.2 .5,-1.1 -2.7,.2zM134.4,181.7l2.8,-.1 .5,-1.2 -2.8,.2zM137.2,181.6l2.8,-.3 .5,-1.2 -2.8,.3zM140,181.3l2.7,-.3 .6,-1.3 -2.8,.4zM142.7,181l2.8,-.3 .6,-1.3 -2.8,.3z"/>
<path fill="#7ce9d1" d="M145.5,180.7l2.8,-.4 .6,-1.4 -2.8,.5zM148.3,180.3l2.9,-.5 .5,-1.4 -2.8,.5zM151.2,179.8l2.8,-.5 .5,-1.5 -2.8,.6zM154,179.3l2.8,-.6 .5,-1.6 -2.8,.7zM156.8,178.7l2.8,-.7 .6,-1.6 -2.9,.7zM159.6,178l2.9,-.8 .5,-1.7 -2.8,.9z"/>
<path fill="#81f3ca" d="M162.5,177.2l2.8,-.9 .6,-1.7 -2.9,.9zM165.3,176.3l2.9,-1 .5,-1.8 -2.8,1.1zM168.2,175.3l2.9,-1.1 .5,-1.8 -2.9,1.1zM171.1,174.2l2.8,-1.1 .6,-2 -2.9,1.3zM173.9,173.1l2.9,-1.3 .5,-2 -2.8,1.3zM176.8,171.8l2.9,-1.3 .5,-2.1 -2.9,1.4zM179.7,170.5l2.9,-1.4 .5,-2.2 -2.9,1.5zM182.6,169.1l3,-1.4 .5,-2.3 -3,1.5z"/>
<path fill="#86fcc4" d="M185.6,167.7l2.9,-1.5 .5,-2.3 -2.9,1.5zM188.5,166.2l2.9,-1.5 .5,-2.4 -2.9,1.6zM191.4,164.7l3,-1.5 .5,-2.5 -3,1.6zM194.4,163.2l2.9,-1.5 .6,-2.6 -3,1.6zM197.3,161.7l3,-1.5 .5,-2.7 -2.9,1.6zM200.3,160.2l3,-1.5 .5,-2.8 -3,1.6zM203.3,158.7l3,-1.5 .5,-2.9 -3,1.6zM206.3,157.2l3,-1.5 .5,-2.9 -3,1.5zM209.3,155.7l3,-1.4 .5,-3.1 -3,1.6zM212.3,154.3l3,-1.4 .6,-3.2 -3.1,1.5zM215.3,152.9l3.1,-1.4 .5,-3.3 -3,1.5zM218.4,151.5l3,-1.4 .5,-3.3 -3,1.4zM221.4,150.1l3,-1.3 .6,-3.4 -3.1,1.4zM224.4,148.8l3.1,-1.2 .5,-3.6 -3,1.4zM227.5,147.6l3.1,-1.2 .5,-3.7 -3.1,1.3zM230.6,146.4l3,-1.2 .6,-3.8 -3.1,1.3zM233.6,145.2l3.1,-1.2 .6,-3.9 -3.1,1.3zM236.7,144l3.1,-1.3 .6,-4 -3.1,1.4zM239.8,142.7l3.2,-1.5 .5,-3.9 -3.1,1.4zM243,141.2l3.1,-1.6 .6,-4 -3.2,1.7zM246.1,139.6l3.1,-1.8 .6,-4.1 -3.1,1.9zM249.2,137.8l3.2,-2.2 .6,-4.2 -3.2,2.3zM252.4,135.6l3.2,-2.6 .6,-4.2 -3.2,2.6zM255.6,133l3.3,-3 .5,-4.2 -3.2,3z"/>
<path fill="#6ccde4" d="M84.4,173.7l2.8,1.3 .6,-.5 -2.8,-1.4zM87.2,175l2.7,1.2 .6,-.6 -2.7,-1.1zM89.9,176.2l2.7,1.1 .6,-.6 -2.7,-1.1zM92.6,177.3l2.8,1 .5,-.7 -2.7,-.9zM95.4,178.3l2.7,.8 .6,-.6 -2.8,-.9zM98.1,179.1l2.7,.8 .6,-.7 -2.7,-.7zM100.8,179.9l2.8,.6 .5,-.7 -2.7,-.6zM103.6,180.5l2.7,.6 .6,-.8 -2.8,-.5zM106.3,181.1l2.7,.5 .6,-.8 -2.7,-.5zM109,181.6l2.8,.4 .5,-.8 -2.7,-.4zM111.8,182l2.7,.3 .6,-.8 -2.8,-.3zM114.5,182.3l2.8,.3 .5,-.9 -2.7,-.2zM117.3,182.6l2.7,.2 .6,-.9 -2.8,-.2z"/>
<path fill="#71d6de" d="M120,182.8l2.8,.1 .5,-.9 -2.7,-.1zM122.8,182.9l2.7,.1 .6,-1 -2.8,0zM125.5,183l2.8,0 .5,-1 -2.7,0zM128.3,183l2.8,0 .5,-1.1 -2.8,.1z"/>
<path fill="#76e0d7" d="M131.1,183l2.7,-.1 .6,-1.2 -2.8,.2zM133.8,182.9l2.8,-.1 .6,-1.2 -2.8,.1zM136.6,182.8l2.8,-.2 .6,-1.3 -2.8,.3zM139.4,182.6l2.8,-.3 .5,-1.3 -2.7,.3zM142.2,182.3l2.8,-.3 .5,-1.3 -2.8,.3z"/>
<path fill="#7ce9d1" d="M145,182l2.8,-.3 .5,-1.4 -2.8,.4zM147.8,181.7l2.8,-.4 .6,-1.5 -2.9,.5zM150.6,181.3l2.9,-.5 .5,-1.5 -2.8,.5zM153.5,180.8l2.8,-.6 .5,-1.5 -2.8,.6zM156.3,180.2l2.8,-.6 .5,-1.6 -2.8,.7zM159.1,179.6l2.9,-.8 .5,-1.6 -2.9,.8zM162,178.8l2.8,-.8 .5,-1.7 -2.8,.9z"/>
<path fill="#81f3ca" d="M164.8,178l2.9,-.9 .5,-1.8 -2.9,1zM167.7,177.1l2.8,-1 .6,-1.9 -2.9,1.1zM170.5,176.1l2.9,-1.1 .5,-1.9 -2.8,1.1zM173.4,175l2.9,-1.2 .5,-2 -2.9,1.3zM176.3,173.8l2.9,-1.3 .5,-2 -2.9,1.3zM179.2,172.5l2.9,-1.3 .5,-2.1 -2.9,1.4zM182.1,171.2l2.9,-1.3 .6,-2.2 -3,1.4z"/>
<path fill="#86fcc4" d="M185,169.9l3,-1.4 .5,-2.3 -2.9,1.5zM188,168.5l2.9,-1.4 .5,-2.4 -2.9,1.5zM190.9,167.1l3,-1.4 .5,-2.5 -3,1.5zM193.9,165.7l2.9,-1.4 .5,-2.6 -2.9,1.5zM196.8,164.3l3,-1.4 .5,-2.7 -3,1.5zM199.8,162.9l3,-1.4 .5,-2.8 -3,1.5zM202.8,161.5l3,-1.4 .5,-2.9 -3,1.5zM205.8,160.1l3,-1.4 .5,-3 -3,1.5zM208.8,158.7l3,-1.3 .5,-3.1 -3,1.4zM211.8,157.4l3,-1.3 .5,-3.2 -3,1.4zM214.8,156.1l3,-1.3 .6,-3.3 -3.1,1.4zM217.8,154.8l3.1,-1.3 .5,-3.4 -3,1.4zM220.9,153.5l3,-1.2 .5,-3.5 -3,1.3zM223.9,152.3l3.1,-1.2 .5,-3.5 -3.1,1.2zM227,151.1l3,-1.1 .6,-3.6 -3.1,1.2zM230,150l3.1,-1.1 .5,-3.7 -3,1.2zM233.1,148.9l3.1,-1.1 .5,-3.8 -3.1,1.2zM236.2,147.8l3.1,-1.2 .5,-3.9 -3.1,1.3zM239.3,146.6l3.1,-1.4 .6,-4 -3.2,1.5zM242.4,145.2l3.1,-1.5 .6,-4.1 -3.1,1.6zM245.5,143.7l3.2,-1.8 .5,-4.1 -3.1,1.8zM248.7,141.9l3.1,-2.2 .6,-4.1 -3.2,2.2zM251.8,139.7l3.3,-2.6 .5,-4.1 -3.2,2.6zM255.1,137.1l3.2,-3 .6,-4.1 -3.3,3z"/>
<path fill="#6ccde4" d="M83.8,174.2l2.8,1.4 .6,-.6 -2.8,-1.3zM86.6,175.6l2.7,1.2 .6,-.6 -2.7,-1.2zM89.3,176.8l2.7,1.1 .6,-.6 -2.7,-1.1zM92,177.9l2.8,1 .6,-.6 -2.8,-1zM94.8,178.9l2.7,.9 .6,-.7 -2.7,-.8zM97.5,179.8l2.7,.7 .6,-.6 -2.7,-.8zM100.2,180.5l2.8,.7 .6,-.7 -2.8,-.6zM103,181.2l2.7,.6 .6,-.7 -2.7,-.6zM105.7,181.8l2.8,.5 .5,-.7 -2.7,-.5zM108.5,182.3l2.7,.5 .6,-.8 -2.8,-.4zM111.2,182.8l2.8,.4 .5,-.9 -2.7,-.3zM114,183.2l2.7,.3 .6,-.9 -2.8,-.3zM116.7,183.5l2.8,.2 .5,-.9 -2.7,-.2z"/>
<path fill="#71d6de" d="M119.5,183.7l2.7,.2 .6,-1 -2.8,-.1zM122.2,183.9l2.8,.1 .5,-1 -2.7,-.1zM125,184l2.7,.1 .6,-1.1 -2.8,0zM127.7,184.1l2.8,0 .6,-1.1 -2.8,0z"/>
<path fill="#76e0d7" d="M130.5,184.1l2.8,-.1 .5,-1.1 -2.7,.1zM133.3,184l2.8,-.1 .5,-1.1 -2.8,.1zM136.1,183.9l2.8,-.1 .5,-1.2 -2.8,.2zM138.9,183.8l2.8,-.2 .5,-1.3 -2.8,.3zM141.7,183.6l2.8,-.2 .5,-1.4 -2.8,.3zM144.5,183.4l2.8,-.4 .5,-1.3 -2.8,.3z"/>
<path fill="#7ce9d1" d="M147.3,183l2.8,-.3 .5,-1.4 -2.8,.4zM150.1,182.7l2.8,-.5 .6,-1.4 -2.9,.5zM152.9,182.2l2.9,-.5 .5,-1.5 -2.8,.6zM155.8,181.7l2.8,-.6 .5,-1.5 -2.8,.6zM158.6,181.1l2.8,-.6 .6,-1.7 -2.9,.8zM161.4,180.5l2.9,-.8 .5,-1.7 -2.8,.8z"/>
<path fill="#81f3ca" d="M164.3,179.7l2.9,-.9 .5,-1.7 -2.9,.9zM167.2,178.8l2.8,-.9 .5,-1.8 -2.8,1zM170,177.9l2.9,-1 .5,-1.9 -2.9,1.1zM172.9,176.9l2.9,-1.1 .5,-2 -2.9,1.2zM175.8,175.8l2.9,-1.2 .5,-2.1 -2.9,1.3zM178.7,174.6l2.9,-1.2 .5,-2.2 -2.9,1.3zM181.6,173.4l2.9,-1.3 .5,-2.2 -2.9,1.3z"/>
<path fill="#86fcc4" d="M184.5,172.1l3,-1.3 .5,-2.3 -3,1.4zM187.5,170.8l2.9,-1.3 .5,-2.4 -2.9,1.4zM190.4,169.5l2.9,-1.3 .6,-2.5 -3,1.4zM193.3,168.2l3,-1.3 .5,-2.6 -2.9,1.4zM196.3,166.9l3,-1.3 .5,-2.7 -3,1.4zM199.3,165.6l2.9,-1.4 .6,-2.7 -3,1.4zM202.2,164.2l3,-1.2 .6,-2.9 -3,1.4zM205.2,163l3,-1.3 .6,-3 -3,1.4zM208.2,161.7l3,-1.2 .6,-3.1 -3,1.3zM211.2,160.5l3.1,-1.3 .5,-3.1 -3,1.3zM214.3,159.2l3,-1.1 .5,-3.3 -3,1.3zM217.3,158.1l3,-1.2 .6,-3.4 -3.1,1.3zM220.3,156.9l3.1,-1.1 .5,-3.5 -3,1.2zM223.4,155.8l3,-1.1 .6,-3.6 -3.1,1.2zM226.4,154.7l3.1,-1 .5,-3.7 -3,1.1zM229.5,153.7l3,-1 .6,-3.8 -3.1,1.1zM232.5,152.7l3.1,-1.1 .6,-3.8 -3.1,1.1zM235.6,151.6l3.1,-1.1 .6,-3.9 -3.1,1.2zM238.7,150.5l3.1,-1.3 .6,-4 -3.1,1.4zM241.8,149.2l3.2,-1.5 .5,-4 -3.1,1.5zM245,147.7l3.1,-1.8 .6,-4 -3.2,1.8zM248.1,145.9l3.2,-2.1 .5,-4.1 -3.1,2.2zM251.3,143.8l3.2,-2.5 .6,-4.2 -3.3,2.6zM254.5,141.3l3.2,-3.1 .6,-4.1 -3.2,3z"/>
<path fill="#6ccde4" d="M83.2,174.8l2.8,1.4 .6,-.6 -2.8,-1.4zM86,176.2l2.7,1.2 .6,-.6 -2.7,-1.2zM88.7,177.4l2.8,1.1 .5,-.6 -2.7,-1.1zM91.5,178.5l2.7,1 .6,-.6 -2.8,-1zM94.2,179.5l2.7,.9 .6,-.6 -2.7,-.9zM96.9,180.4l2.8,.8 .5,-.7 -2.7,-.7zM99.7,181.2l2.7,.7 .6,-.7 -2.8,-.7zM102.4,181.9l2.7,.7 .6,-.8 -2.7,-.6zM105.1,182.6l2.8,.5 .6,-.8 -2.8,-.5zM107.9,183.1l2.7,.5 .6,-.8 -2.7,-.5zM110.6,183.6l2.8,.4 .6,-.8 -2.8,-.4zM113.4,184l2.7,.3 .6,-.8 -2.7,-.3zM116.1,184.3l2.8,.3 .6,-.9 -2.8,-.2z"/>
<path fill="#71d6de" d="M118.9,184.6l2.8,.3 .5,-1 -2.7,-.2zM121.7,184.9l2.7,.1 .6,-1 -2.8,-.1zM124.4,185l2.8,.1 .5,-1 -2.7,-.1zM127.2,185.1l2.8,.1 .5,-1.1 -2.8,0zM130,185.2l2.8,0 .5,-1.2 -2.8,.1z"/>
<path fill="#76e0d7" d="M132.8,185.2l2.7,-.1 .6,-1.2 -2.8,.1zM135.5,185.1l2.8,-.1 .6,-1.2 -2.8,.1zM138.3,185l2.8,-.1 .6,-1.3 -2.8,.2zM141.1,184.9l2.8,-.2 .6,-1.3 -2.8,.2zM143.9,184.7l2.9,-.3 .5,-1.4 -2.8,.4z"/>
<path fill="#7ce9d1" d="M146.8,184.4l2.8,-.3 .5,-1.4 -2.8,.3zM149.6,184.1l2.8,-.4 .5,-1.5 -2.8,.5zM152.4,183.7l2.8,-.5 .6,-1.5 -2.9,.5zM155.2,183.2l2.9,-.5 .5,-1.6 -2.8,.6zM158.1,182.7l2.8,-.6 .5,-1.6 -2.8,.6zM160.9,182.1l2.9,-.7 .5,-1.7 -2.9,.8z"/>
<path fill="#81f3ca" d="M163.8,181.4l2.8,-.8 .6,-1.8 -2.9,.9zM166.6,180.6l2.9,-.9 .5,-1.8 -2.8,.9zM169.5,179.7l2.9,-.9 .5,-1.9 -2.9,1zM172.4,178.8l2.9,-1.1 .5,-1.9 -2.9,1.1zM175.3,177.7l2.9,-1 .5,-2.1 -2.9,1.2zM178.2,176.7l2.9,-1.2 .5,-2.1 -2.9,1.2z"/>
<path fill="#86fcc4" d="M181.1,175.5l2.9,-1.1 .5,-2.3 -2.9,1.3zM184,174.4l2.9,-1.2 .6,-2.4 -3,1.3zM186.9,173.2l3,-1.3 .5,-2.4 -2.9,1.3zM189.9,171.9l2.9,-1.2 .5,-2.5 -2.9,1.3zM192.8,170.7l3,-1.2 .5,-2.6 -3,1.3zM195.8,169.5l2.9,-1.3 .6,-2.6 -3,1.3zM198.7,168.2l3,-1.2 .5,-2.8 -2.9,1.4zM201.7,167l3,-1.1 .5,-2.9 -3,1.2zM204.7,165.9l3,-1.2 .5,-3 -3,1.3zM207.7,164.7l3,-1.1 .5,-3.1 -3,1.2zM210.7,163.6l3,-1.2 .6,-3.2 -3.1,1.3zM213.7,162.4l3.1,-1 .5,-3.3 -3,1.1zM216.8,161.4l3,-1.1 .5,-3.4 -3,1.2zM219.8,160.3l3,-1 .6,-3.5 -3.1,1.1zM222.8,159.3l3.1,-1 .5,-3.6 -3,1.1zM225.9,158.3l3,-1 .6,-3.6 -3.1,1zM228.9,157.3l3.1,-.9 .5,-3.7 -3,1zM232,156.4l3.1,-.9 .5,-3.9 -3.1,1.1zM235.1,155.5l3.1,-1.1 .5,-3.9 -3.1,1.1zM238.2,154.4l3.1,-1.2 .5,-4 -3.1,1.3zM241.3,153.2l3.1,-1.4 .6,-4.1 -3.2,1.5zM244.4,151.8l3.1,-1.8 .6,-4.1 -3.1,1.8zM247.5,150l3.2,-2.1 .6,-4.1 -3.2,2.1zM250.7,147.9l3.2,-2.5 .6,-4.1 -3.2,2.5zM253.9,145.4l3.2,-3 .6,-4.2 -3.2,3.1z"/>
<path fill="#6ccde4" d="M82.6,175.3l2.8,1.4 .6,-.5 -2.8,-1.4zM85.4,176.7l2.7,1.3 .6,-.6 -2.7,-1.2zM88.1,178l2.8,1.1 .6,-.6 -2.8,-1.1zM90.9,179.1l2.7,1.1 .6,-.7 -2.7,-1zM93.6,180.2l2.7,.9 .6,-.7 -2.7,-.9zM96.3,181.1l2.8,.8 .6,-.7 -2.8,-.8zM99.1,181.9l2.7,.7 .6,-.7 -2.7,-.7zM101.8,182.6l2.8,.7 .5,-.7 -2.7,-.7zM104.6,183.3l2.7,.6 .6,-.8 -2.8,-.5zM107.3,183.9l2.8,.5 .5,-.8 -2.7,-.5zM110.1,184.4l2.7,.4 .6,-.8 -2.8,-.4zM112.8,184.8l2.8,.4 .5,-.9 -2.7,-.3zM115.6,185.2l2.7,.3 .6,-.9 -2.8,-.3z"/>
<path fill="#71d6de" d="M118.3,185.5l2.8,.3 .6,-.9 -2.8,-.3zM121.1,185.8l2.8,.2 .5,-1 -2.7,-.1zM123.9,186l2.8,.2 .5,-1.1 -2.8,-.1zM126.7,186.2l2.7,0 .6,-1 -2.8,-.1zM129.4,186.2l2.8,.1 .6,-1.1 -2.8,0z"/>
<path fill="#76e0d7" d="M132.2,186.3l2.8,0 .5,-1.2 -2.7,.1zM135,186.3l2.8,-.1 .5,-1.2 -2.8,.1zM137.8,186.2l2.8,-.1 .5,-1.2 -2.8,.1zM140.6,186.1l2.8,-.1 .5,-1.3 -2.8,.2zM143.4,186l2.8,-.3 .6,-1.3 -2.9,.3z"/>
<path fill="#7ce9d1" d="M146.2,185.7l2.8,-.2 .6,-1.4 -2.8,.3zM149,185.5l2.9,-.4 .5,-1.4 -2.8,.4zM151.9,185.1l2.8,-.4 .5,-1.5 -2.8,.5zM154.7,184.7l2.8,-.5 .6,-1.5 -2.9,.5zM157.5,184.2l2.9,-.5 .5,-1.6 -2.8,.6zM160.4,183.7l2.9,-.7 .5,-1.6 -2.9,.7z"/>
<path fill="#81f3ca" d="M163.3,183l2.8,-.7 .5,-1.7 -2.8,.8zM166.1,182.3l2.9,-.8 .5,-1.8 -2.9,.9zM169,181.5l2.9,-.9 .5,-1.8 -2.9,.9zM171.9,180.6l2.9,-.9 .5,-2 -2.9,1.1zM174.8,179.7l2.9,-1 .5,-2 -2.9,1zM177.7,178.7l2.9,-1 .5,-2.2 -2.9,1.2z"/>
<path fill="#86fcc4" d="M180.6,177.7l2.9,-1.1 .5,-2.2 -2.9,1.1zM183.5,176.6l2.9,-1.1 .5,-2.3 -2.9,1.2zM186.4,175.5l3,-1.2 .5,-2.4 -3,1.3zM189.4,174.3l2.9,-1.1 .5,-2.5 -2.9,1.2zM192.3,173.2l3,-1.1 .5,-2.6 -3,1.2zM195.3,172.1l2.9,-1.2 .5,-2.7 -2.9,1.3zM198.2,170.9l3,-1.1 .5,-2.8 -3,1.2zM201.2,169.8l3,-1.1 .5,-2.8 -3,1.1zM204.2,168.7l3,-1 .5,-3 -3,1.2zM207.2,167.7l3,-1.1 .5,-3 -3,1.1zM210.2,166.6l3,-1 .5,-3.2 -3,1.2zM213.2,165.6l3,-1 .6,-3.2 -3.1,1zM216.2,164.6l3,-.9 .6,-3.4 -3,1.1zM219.2,163.7l3.1,-1 .5,-3.4 -3,1zM222.3,162.7l3,-.9 .6,-3.5 -3.1,1zM225.3,161.8l3.1,-.8 .5,-3.7 -3,1zM228.4,161l3,-.9 .6,-3.7 -3.1,.9zM231.4,160.1l3.1,-.8 .6,-3.8 -3.1,.9zM234.5,159.3l3.1,-1 .6,-3.9 -3.1,1.1zM237.6,158.3l3.1,-1.2 .6,-3.9 -3.1,1.2zM240.7,157.1l3.1,-1.3 .6,-4 -3.1,1.4zM243.8,155.8l3.2,-1.7 .5,-4.1 -3.1,1.8zM247,154.1l3.1,-2.1 .6,-4.1 -3.2,2.1zM250.1,152l3.2,-2.5 .6,-4.1 -3.2,2.5zM253.3,149.5l3.3,-3 .5,-4.1 -3.2,3z"/>
<path fill="#6ccde4" d="M82,175.9l2.8,1.4 .6,-.6 -2.8,-1.4zM84.8,177.3l2.7,1.3 .6,-.6 -2.7,-1.3zM87.5,178.6l2.8,1.1 .6,-.6 -2.8,-1.1zM90.3,179.7l2.7,1.1 .6,-.6 -2.7,-1.1zM93,180.8l2.8,.9 .5,-.6 -2.7,-.9zM95.8,181.7l2.7,.9 .6,-.7 -2.8,-.8zM98.5,182.6l2.7,.8 .6,-.8 -2.7,-.7zM101.2,183.4l2.8,.6 .6,-.7 -2.8,-.7zM104,184l2.7,.7 .6,-.8 -2.7,-.6zM106.7,184.7l2.8,.5 .6,-.8 -2.8,-.5zM109.5,185.2l2.8,.5 .5,-.9 -2.7,-.4zM112.3,185.7l2.7,.4 .6,-.9 -2.8,-.4zM115,186.1l2.8,.4 .5,-1 -2.7,-.3z"/>
<path fill="#71d6de" d="M117.8,186.5l2.7,.3 .6,-1 -2.8,-.3zM120.5,186.8l2.8,.2 .6,-1 -2.8,-.2zM123.3,187l2.8,.2 .6,-1 -2.8,-.2zM126.1,187.2l2.8,.1 .5,-1.1 -2.7,0zM128.9,187.3l2.8,.1 .5,-1.1 -2.8,-.1z"/>
<path fill="#76e0d7" d="M131.7,187.4l2.8,0 .5,-1.1 -2.8,0zM134.5,187.4l2.8,0 .5,-1.2 -2.8,.1zM137.3,187.4l2.8,0 .5,-1.3 -2.8,.1zM140.1,187.4l2.8,-.2 .5,-1.2 -2.8,.1zM142.9,187.2l2.8,-.1 .5,-1.4 -2.8,.3z"/>
<path fill="#7ce9d1" d="M145.7,187.1l2.8,-.3 .5,-1.3 -2.8,.2zM148.5,186.8l2.8,-.2 .6,-1.5 -2.9,.4zM151.3,186.6l2.9,-.4 .5,-1.5 -2.8,.4zM154.2,186.2l2.8,-.4 .5,-1.6 -2.8,.5zM157,185.8l2.9,-.5 .5,-1.6 -2.9,.5zM159.9,185.3l2.8,-.6 .6,-1.7 -2.9,.7z"/>
<path fill="#81f3ca" d="M162.7,184.7l2.9,-.6 .5,-1.8 -2.8,.7zM165.6,184.1l2.9,-.8 .5,-1.8 -2.9,.8zM168.5,183.3l2.9,-.8 .5,-1.9 -2.9,.9zM171.4,182.5l2.8,-.8 .6,-2 -2.9,.9zM174.2,181.7l2.9,-1 .6,-2 -2.9,1zM177.1,180.7l3,-.9 .5,-2.1 -2.9,1z"/>
<path fill="#86fcc4" d="M180.1,179.8l2.9,-1 .5,-2.2 -2.9,1.1zM183,178.8l2.9,-1 .5,-2.3 -2.9,1.1zM185.9,177.8l2.9,-1.1 .6,-2.4 -3,1.2zM188.8,176.7l3,-1 .5,-2.5 -2.9,1.1zM191.8,175.7l2.9,-1 .6,-2.6 -3,1.1zM194.7,174.7l3,-1.1 .5,-2.7 -2.9,1.2zM197.7,173.6l3,-1 .5,-2.8 -3,1.1zM200.7,172.6l3,-1 .5,-2.9 -3,1.1zM203.7,171.6l3,-.9 .5,-3 -3,1zM206.7,170.7l3,-1 .5,-3.1 -3,1.1zM209.7,169.7l3,-.9 .5,-3.2 -3,1zM212.7,168.8l3,-.9 .5,-3.3 -3,1zM215.7,167.9l3,-.9 .5,-3.3 -3,.9zM218.7,167l3,-.8 .6,-3.5 -3.1,1zM221.7,166.2l3.1,-.8 .5,-3.6 -3,.9zM224.8,165.4l3,-.8 .6,-3.6 -3.1,.8zM227.8,164.6l3.1,-.8 .5,-3.7 -3,.9zM230.9,163.8l3.1,-.8 .5,-3.7 -3.1,.8zM234,163l3.1,-.9 .5,-3.8 -3.1,1zM237.1,162.1l3,-1.1 .6,-3.9 -3.1,1.2zM240.1,161l3.2,-1.3 .5,-3.9 -3.1,1.3zM243.3,159.7l3.1,-1.6 .6,-4 -3.2,1.7zM246.4,158.1l3.2,-2 .5,-4.1 -3.1,2.1zM249.6,156.1l3.2,-2.5 .5,-4.1 -3.2,2.5zM252.8,153.6l3.2,-2.9 .6,-4.2 -3.3,3z"/>
<path fill="#6ccde4" d="M81.4,176.5l2.8,1.4 .6,-.6 -2.8,-1.4zM84.2,177.9l2.7,1.3 .6,-.6 -2.7,-1.3zM86.9,179.2l2.8,1.2 .6,-.7 -2.8,-1.1zM89.7,180.4l2.7,1 .6,-.6 -2.7,-1.1zM92.4,181.4l2.8,1 .6,-.7 -2.8,-.9zM95.2,182.4l2.7,.9 .6,-.7 -2.7,-.9zM97.9,183.3l2.8,.8 .5,-.7 -2.7,-.8zM100.7,184.1l2.7,.7 .6,-.8 -2.8,-.6zM103.4,184.8l2.8,.6 .5,-.7 -2.7,-.7zM106.2,185.4l2.7,.6 .6,-.8 -2.8,-.5zM108.9,186l2.8,.5 .6,-.8 -2.8,-.5zM111.7,186.5l2.8,.5 .5,-.9 -2.7,-.4zM114.5,187l2.7,.4 .6,-.9 -2.8,-.4z"/>
<path fill="#71d6de" d="M117.2,187.4l2.8,.3 .5,-.9 -2.7,-.3zM120,187.7l2.8,.3 .5,-1 -2.8,-.2zM122.8,188l2.7,.2 .6,-1 -2.8,-.2zM125.5,188.2l2.8,.2 .6,-1.1 -2.8,-.1zM128.3,188.4l2.8,.1 .6,-1.1 -2.8,-.1z"/>
<path fill="#76e0d7" d="M131.1,188.5l2.8,.1 .6,-1.2 -2.8,0zM133.9,188.6l2.8,0 .6,-1.2 -2.8,0zM136.7,188.6l2.8,0 .6,-1.2 -2.8,0zM139.5,188.6l2.8,-.1 .6,-1.3 -2.8,.2zM142.3,188.5l2.9,-.1 .5,-1.3 -2.8,.1z"/>
<path fill="#7ce9d1" d="M145.2,188.4l2.8,-.2 .5,-1.4 -2.8,.3zM148,188.2l2.8,-.2 .5,-1.4 -2.8,.2zM150.8,188l2.9,-.3 .5,-1.5 -2.9,.4zM153.7,187.7l2.8,-.4 .5,-1.5 -2.8,.4zM156.5,187.3l2.8,-.4 .6,-1.6 -2.9,.5zM159.3,186.9l2.9,-.5 .5,-1.7 -2.8,.6z"/>
<path fill="#81f3ca" d="M162.2,186.4l2.9,-.6 .5,-1.7 -2.9,.6zM165.1,185.8l2.8,-.7 .6,-1.8 -2.9,.8zM167.9,185.1l2.9,-.7 .6,-1.9 -2.9,.8zM170.8,184.4l2.9,-.8 .5,-1.9 -2.8,.8zM173.7,183.6l2.9,-.8 .5,-2.1 -2.9,1zM176.6,182.8l2.9,-.9 .6,-2.1 -3,.9z"/>
<path fill="#86fcc4" d="M179.5,181.9l3,-.9 .5,-2.2 -2.9,1zM182.5,181l2.9,-.9 .5,-2.3 -2.9,1zM185.4,180.1l2.9,-1 .5,-2.4 -2.9,1.1zM188.3,179.1l3,-.9 .5,-2.5 -3,1zM191.3,178.2l2.9,-1 .5,-2.5 -2.9,1zM194.2,177.2l3,-.9 .5,-2.7 -3,1.1zM197.2,176.3l3,-.9 .5,-2.8 -3,1zM200.2,175.4l2.9,-.9 .6,-2.9 -3,1zM203.1,174.5l3,-.9 .6,-2.9 -3,.9zM206.1,173.6l3,-.8 .6,-3.1 -3,1zM209.1,172.8l3,-.9 .6,-3.1 -3,.9zM212.1,171.9l3.1,-.8 .5,-3.2 -3,.9zM215.2,171.1l3,-.8 .5,-3.3 -3,.9zM218.2,170.3l3,-.7 .5,-3.4 -3,.8zM221.2,169.6l3,-.7 .6,-3.5 -3.1,.8zM224.2,168.9l3.1,-.7 .5,-3.6 -3,.8zM227.3,168.2l3.1,-.7 .5,-3.7 -3.1,.8zM230.4,167.5l3,-.8 .6,-3.7 -3.1,.8zM233.4,166.7l3.1,-.8 .6,-3.8 -3.1,.9zM236.5,165.9l3.1,-1 .5,-3.9 -3,1.1zM239.6,164.9l3.1,-1.3 .6,-3.9 -3.2,1.3zM242.7,163.6l3.1,-1.5 .6,-4 -3.1,1.6zM245.8,162.1l3.2,-2 .6,-4 -3.2,2zM249,160.1l3.2,-2.4 .6,-4.1 -3.2,2.5zM252.2,157.7l3.2,-2.9 .6,-4.1 -3.2,2.9z"/>
<path fill="#6ccde4" d="M80.8,177.1l2.8,1.4 .6,-.6 -2.8,-1.4zM83.6,178.5l2.7,1.3 .6,-.6 -2.7,-1.3zM86.3,179.8l2.8,1.2 .6,-.6 -2.8,-1.2zM89.1,181l2.7,1.1 .6,-.7 -2.7,-1zM91.8,182.1l2.8,1 .6,-.7 -2.8,-1zM94.6,183.1l2.7,.9 .6,-.7 -2.7,-.9zM97.3,184l2.8,.8 .6,-.7 -2.8,-.8zM100.1,184.8l2.7,.7 .6,-.7 -2.7,-.7zM102.8,185.5l2.8,.7 .6,-.8 -2.8,-.6zM105.6,186.2l2.8,.6 .5,-.8 -2.7,-.6zM108.4,186.8l2.7,.6 .6,-.9 -2.8,-.5zM111.1,187.4l2.8,.5 .6,-.9 -2.8,-.5zM113.9,187.9l2.8,.4 .5,-.9 -2.7,-.4z"/>
<path fill="#71d6de" d="M116.7,188.3l2.7,.4 .6,-1 -2.8,-.3zM119.4,188.7l2.8,.3 .6,-1 -2.8,-.3zM122.2,189l2.8,.2 .5,-1 -2.7,-.2zM125,189.2l2.8,.3 .5,-1.1 -2.8,-.2zM127.8,189.5l2.8,.1 .5,-1.1 -2.8,-.1z"/>
<path fill="#76e0d7" d="M130.6,189.6l2.8,.1 .5,-1.1 -2.8,-.1zM133.4,189.7l2.8,.1 .5,-1.2 -2.8,0zM136.2,189.8l2.8,0 .5,-1.2 -2.8,0zM139,189.8l2.8,0 .5,-1.3 -2.8,.1zM141.8,189.8l2.8,-.1 .6,-1.3 -2.9,.1zM144.6,189.7l2.8,-.1 .6,-1.4 -2.8,.2z"/>
<path fill="#7ce9d1" d="M147.4,189.6l2.9,-.2 .5,-1.4 -2.8,.2zM150.3,189.4l2.8,-.3 .6,-1.4 -2.9,.3zM153.1,189.1l2.9,-.3 .5,-1.5 -2.8,.4zM156,188.8l2.8,-.3 .5,-1.6 -2.8,.4zM158.8,188.5l2.9,-.5 .5,-1.6 -2.9,.5z"/>
<path fill="#81f3ca" d="M161.7,188l2.9,-.5 .5,-1.7 -2.9,.6zM164.6,187.5l2.8,-.6 .5,-1.8 -2.8,.7zM167.4,186.9l2.9,-.7 .5,-1.8 -2.9,.7zM170.3,186.2l2.9,-.7 .5,-1.9 -2.9,.8zM173.2,185.5l2.9,-.7 .5,-2 -2.9,.8zM176.1,184.8l2.9,-.8 .5,-2.1 -2.9,.9z"/>
<path fill="#86fcc4" d="M179,184l2.9,-.8 .6,-2.2 -3,.9zM181.9,183.2l3,-.8 .5,-2.3 -2.9,.9zM184.9,182.4l2.9,-.9 .5,-2.4 -2.9,1zM187.8,181.5l2.9,-.9 .6,-2.4 -3,.9zM190.7,180.6l3,-.8 .5,-2.6 -2.9,1zM193.7,179.8l3,-.8 .5,-2.7 -3,.9zM196.7,179l2.9,-.9 .6,-2.7 -3,.9zM199.6,178.1l3,-.8 .5,-2.8 -2.9,.9zM202.6,177.3l3,-.8 .5,-2.9 -3,.9zM205.6,176.5l3,-.7 .5,-3 -3,.8zM208.6,175.8l3,-.8 .5,-3.1 -3,.9zM211.6,175l3,-.7 .6,-3.2 -3.1,.8zM214.6,174.3l3,-.7 .6,-3.3 -3,.8zM217.6,173.6l3.1,-.7 .5,-3.3 -3,.7zM220.7,172.9l3,-.6 .5,-3.4 -3,.7zM223.7,172.3l3.1,-.6 .5,-3.5 -3.1,.7zM226.8,171.7l3,-.6 .6,-3.6 -3.1,.7zM229.8,171.1l3.1,-.7 .5,-3.7 -3,.8zM232.9,170.4l3,-.8 .6,-3.7 -3.1,.8zM235.9,169.6l3.1,-.9 .6,-3.8 -3.1,1zM239,168.7l3.1,-1.2 .6,-3.9 -3.1,1.3zM242.1,167.5l3.2,-1.5 .5,-3.9 -3.1,1.5zM245.3,166l3.1,-1.9 .6,-4 -3.2,2zM248.4,164.1l3.2,-2.3 .6,-4.1 -3.2,2.4zM251.6,161.8l3.2,-2.9 .6,-4.1 -3.2,2.9z"/>
<path fill="#6ccde4" d="M80.2,177.6l2.8,1.5 .6,-.6 -2.8,-1.4zM83,179.1l2.7,1.3 .6,-.6 -2.7,-1.3zM85.7,180.4l2.8,1.2 .6,-.6 -2.8,-1.2zM88.5,181.6l2.7,1.1 .6,-.6 -2.7,-1.1zM91.2,182.7l2.8,1 .6,-.6 -2.8,-1zM94,183.7l2.7,1 .6,-.7 -2.7,-.9zM96.7,184.7l2.8,.8 .6,-.7 -2.8,-.8zM99.5,185.5l2.8,.8 .5,-.8 -2.7,-.7zM102.3,186.3l2.7,.7 .6,-.8 -2.8,-.7zM105,187l2.8,.6 .6,-.8 -2.8,-.6zM107.8,187.6l2.7,.6 .6,-.8 -2.7,-.6zM110.5,188.2l2.8,.5 .6,-.8 -2.8,-.5zM113.3,188.7l2.8,.5 .6,-.9 -2.8,-.4z"/>
<path fill="#71d6de" d="M116.1,189.2l2.8,.4 .5,-.9 -2.7,-.4zM118.9,189.6l2.8,.4 .5,-1 -2.8,-.3zM121.7,190l2.7,.3 .6,-1.1 -2.8,-.2zM124.4,190.3l2.8,.2 .6,-1 -2.8,-.3zM127.2,190.5l2.8,.2 .6,-1.1 -2.8,-.1z"/>
<path fill="#76e0d7" d="M130,190.7l2.8,.2 .6,-1.2 -2.8,-.1zM132.8,190.9l2.8,.1 .6,-1.2 -2.8,-.1zM135.6,191l2.8,.1 .6,-1.3 -2.8,0zM138.4,191.1l2.9,0 .5,-1.3 -2.8,0zM141.3,191.1l2.8,-.1 .5,-1.3 -2.8,.1zM144.1,191l2.8,0 .5,-1.4 -2.8,.1z"/>
<path fill="#7ce9d1" d="M146.9,191l2.8,-.2 .6,-1.4 -2.9,.2zM149.7,190.8l2.9,-.2 .5,-1.5 -2.8,.3zM152.6,190.6l2.8,-.2 .6,-1.6 -2.9,.3zM155.4,190.4l2.9,-.4 .5,-1.5 -2.8,.3zM158.3,190l2.9,-.4 .5,-1.6 -2.9,.5z"/>
<path fill="#81f3ca" d="M161.2,189.6l2.8,-.4 .6,-1.7 -2.9,.5zM164,189.2l2.9,-.5 .5,-1.8 -2.8,.6zM166.9,188.7l2.9,-.6 .5,-1.9 -2.9,.7zM169.8,188.1l2.9,-.6 .5,-2 -2.9,.7zM172.7,187.5l2.9,-.7 .5,-2 -2.9,.7zM175.6,186.8l2.9,-.7 .5,-2.1 -2.9,.8z"/>
<path fill="#86fcc4" d="M178.5,186.1l2.9,-.7 .5,-2.2 -2.9,.8zM181.4,185.4l2.9,-.8 .6,-2.2 -3,.8zM184.3,184.6l3,-.7 .5,-2.4 -2.9,.9zM187.3,183.9l2.9,-.8 .5,-2.5 -2.9,.9zM190.2,183.1l3,-.8 .5,-2.5 -3,.8zM193.2,182.3l2.9,-.7 .6,-2.6 -3,.8zM196.1,181.6l3,-.7 .5,-2.8 -2.9,.9zM199.1,180.9l3,-.8 .5,-2.8 -3,.8zM202.1,180.1l3,-.7 .5,-2.9 -3,.8zM205.1,179.4l3,-.6 .5,-3 -3,.7zM208.1,178.8l3,-.7 .5,-3.1 -3,.8zM211.1,178.1l3,-.6 .5,-3.2 -3,.7zM214.1,177.5l3,-.6 .5,-3.3 -3,.7zM217.1,176.9l3,-.6 .6,-3.4 -3.1,.7zM220.1,176.3l3.1,-.6 .5,-3.4 -3,.6zM223.2,175.7l3,-.5 .6,-3.5 -3.1,.6zM226.2,175.2l3.1,-.6 .5,-3.5 -3,.6zM229.3,174.6l3,-.6 .6,-3.6 -3.1,.7zM232.3,174l3.1,-.7 .5,-3.7 -3,.8zM235.4,173.3l3.1,-.9 .5,-3.7 -3.1,.9zM238.5,172.4l3.1,-1.1 .5,-3.8 -3.1,1.2zM241.6,171.3l3.1,-1.5 .6,-3.8 -3.2,1.5zM244.7,169.8l3.2,-1.8 .5,-3.9 -3.1,1.9zM247.9,168l3.2,-2.2 .5,-4 -3.2,2.3zM251.1,165.8l3.2,-2.8 .5,-4.1 -3.2,2.9z"/>
<path fill="#6ccde4" d="M79.6,178.2l2.8,1.5 .6,-.6 -2.8,-1.5zM82.4,179.7l2.7,1.3 .6,-.6 -2.7,-1.3zM85.1,181l2.8,1.2 .6,-.6 -2.8,-1.2zM87.9,182.2l2.7,1.2 .6,-.7 -2.7,-1.1zM90.6,183.4l2.8,1 .6,-.7 -2.8,-1zM93.4,184.4l2.8,1 .5,-.7 -2.7,-1zM96.2,185.4l2.7,.8 .6,-.7 -2.8,-.8zM98.9,186.2l2.8,.8 .6,-.7 -2.8,-.8zM101.7,187l2.7,.8 .6,-.8 -2.7,-.7zM104.4,187.8l2.8,.6 .6,-.8 -2.8,-.6zM107.2,188.4l2.8,.7 .5,-.9 -2.7,-.6zM110,189.1l2.8,.5 .5,-.9 -2.8,-.5zM112.8,189.6l2.7,.5 .6,-.9 -2.8,-.5z"/>
<path fill="#71d6de" d="M115.5,190.1l2.8,.5 .6,-1 -2.8,-.4zM118.3,190.6l2.8,.3 .6,-.9 -2.8,-.4zM121.1,190.9l2.8,.4 .5,-1 -2.7,-.3zM123.9,191.3l2.8,.3 .5,-1.1 -2.8,-.2zM126.7,191.6l2.8,.2 .5,-1.1 -2.8,-.2z"/>
<path fill="#76e0d7" d="M129.5,191.8l2.8,.2 .5,-1.1 -2.8,-.2zM132.3,192l2.8,.2 .5,-1.2 -2.8,-.1zM135.1,192.2l2.8,.1 .5,-1.2 -2.8,-.1zM137.9,192.3l2.8,0 .6,-1.2 -2.9,0zM140.7,192.3l2.8,.1 .6,-1.4 -2.8,.1zM143.5,192.4l2.9,-.1 .5,-1.3 -2.8,0z"/>
<path fill="#7ce9d1" d="M146.4,192.3l2.8,-.1 .5,-1.4 -2.8,.2zM149.2,192.2l2.9,-.1 .5,-1.5 -2.9,.2zM152.1,192.1l2.8,-.2 .5,-1.5 -2.8,.2zM154.9,191.9l2.9,-.3 .5,-1.6 -2.9,.4zM157.8,191.6l2.8,-.3 .6,-1.7 -2.9,.4z"/>
<path fill="#81f3ca" d="M160.6,191.3l2.9,-.4 .5,-1.7 -2.8,.4zM163.5,190.9l2.9,-.4 .5,-1.8 -2.9,.5zM166.4,190.5l2.9,-.5 .5,-1.9 -2.9,.6zM169.3,190l2.9,-.6 .5,-1.9 -2.9,.6zM172.2,189.4l2.9,-.6 .5,-2 -2.9,.7zM175.1,188.8l2.9,-.6 .5,-2.1 -2.9,.7z"/>
<path fill="#86fcc4" d="M178,188.2l2.9,-.7 .5,-2.1 -2.9,.7zM180.9,187.5l2.9,-.6 .5,-2.3 -2.9,.8zM183.8,186.9l3,-.7 .5,-2.3 -3,.7zM186.8,186.2l2.9,-.7 .5,-2.4 -2.9,.8zM189.7,185.5l3,-.6 .5,-2.6 -3,.8zM192.7,184.9l2.9,-.7 .5,-2.6 -2.9,.7zM195.6,184.2l3,-.6 .5,-2.7 -3,.7zM198.6,183.6l3,-.7 .5,-2.8 -3,.8zM201.6,182.9l3,-.6 .5,-2.9 -3,.7zM204.6,182.3l2.9,-.6 .6,-2.9 -3,.6zM207.5,181.7l3,-.6 .6,-3 -3,.7zM210.5,181.1l3.1,-.5 .5,-3.1 -3,.6zM213.6,180.6l3,-.6 .5,-3.1 -3,.6zM216.6,180l3,-.5 .5,-3.2 -3,.6zM219.6,179.5l3,-.5 .6,-3.3 -3.1,.6zM222.6,179l3.1,-.5 .5,-3.3 -3,.5zM225.7,178.5l3,-.4 .6,-3.5 -3.1,.6zM228.7,178.1l3.1,-.6 .5,-3.5 -3,.6zM231.8,177.5l3.1,-.6 .5,-3.6 -3.1,.7zM234.9,176.9l3,-.8 .6,-3.7 -3.1,.9zM237.9,176.1l3.1,-1.1 .6,-3.7 -3.1,1.1zM241,175l3.2,-1.4 .5,-3.8 -3.1,1.5zM244.2,173.6l3.1,-1.7 .6,-3.9 -3.2,1.8zM247.3,171.9l3.2,-2.2 .6,-3.9 -3.2,2.2zM250.5,169.7l3.2,-2.7 .6,-4 -3.2,2.8z"/>
<path fill="#6ccde4" d="M79,178.8l2.8,1.4 .6,-.5 -2.8,-1.5zM81.8,180.2l2.7,1.4 .6,-.6 -2.7,-1.3zM84.5,181.6l2.8,1.2 .6,-.6 -2.8,-1.2zM87.3,182.8l2.7,1.2 .6,-.6 -2.7,-1.2zM90,184l2.8,1.1 .6,-.7 -2.8,-1zM92.8,185.1l2.8,.9 .6,-.6 -2.8,-1zM95.6,186l2.7,.9 .6,-.7 -2.7,-.8zM98.3,186.9l2.8,.9 .6,-.8 -2.8,-.8zM101.1,187.8l2.8,.7 .5,-.7 -2.7,-.8zM103.9,188.5l2.7,.8 .6,-.9 -2.8,-.6zM106.6,189.3l2.8,.6 .6,-.8 -2.8,-.7zM109.4,189.9l2.8,.6 .6,-.9 -2.8,-.5zM112.2,190.5l2.8,.5 .5,-.9 -2.7,-.5z"/>
<path fill="#71d6de" d="M115,191l2.7,.5 .6,-.9 -2.8,-.5zM117.7,191.5l2.8,.4 .6,-1 -2.8,-.3zM120.5,191.9l2.8,.4 .6,-1 -2.8,-.4zM123.3,192.3l2.8,.3 .6,-1 -2.8,-.3zM126.1,192.6l2.8,.3 .6,-1.1 -2.8,-.2z"/>
<path fill="#76e0d7" d="M128.9,192.9l2.8,.3 .6,-1.2 -2.8,-.2zM131.7,193.2l2.8,.2 .6,-1.2 -2.8,-.2zM134.5,193.4l2.9,.1 .5,-1.2 -2.8,-.1zM137.4,193.5l2.8,.1 .5,-1.3 -2.8,0zM140.2,193.6l2.8,.1 .5,-1.3 -2.8,-.1zM143,193.7l2.8,0 .6,-1.4 -2.9,.1z"/>
<path fill="#7ce9d1" d="M145.8,193.7l2.9,-.1 .5,-1.4 -2.8,.1zM148.7,193.6l2.8,-.1 .6,-1.4 -2.9,.1zM151.5,193.5l2.9,-.1 .5,-1.5 -2.8,.2zM154.4,193.4l2.8,-.2 .6,-1.6 -2.9,.3zM157.2,193.2l2.9,-.3 .5,-1.6 -2.8,.3z"/>
<path fill="#81f3ca" d="M160.1,192.9l2.9,-.3 .5,-1.7 -2.9,.4zM163,192.6l2.9,-.4 .5,-1.7 -2.9,.4zM165.9,192.2l2.8,-.4 .6,-1.8 -2.9,.5zM168.7,191.8l2.9,-.5 .6,-1.9 -2.9,.6zM171.6,191.3l2.9,-.5 .6,-2 -2.9,.6zM174.5,190.8l3,-.5 .5,-2.1 -2.9,.6z"/>
<path fill="#86fcc4" d="M177.5,190.3l2.9,-.6 .5,-2.2 -2.9,.7zM180.4,189.7l2.9,-.6 .5,-2.2 -2.9,.6zM183.3,189.1l2.9,-.6 .6,-2.3 -3,.7zM186.2,188.5l3,-.6 .5,-2.4 -2.9,.7zM189.2,187.9l2.9,-.5 .6,-2.5 -3,.6zM192.1,187.4l3,-.6 .5,-2.6 -2.9,.7zM195.1,186.8l3,-.6 .5,-2.6 -3,.6zM198.1,186.2l2.9,-.5 .6,-2.8 -3,.7zM201,185.7l3,-.6 .6,-2.8 -3,.6zM204,185.1l3,-.5 .5,-2.9 -2.9,.6zM207,184.6l3,-.5 .5,-3 -3,.6zM210,184.1l3,-.5 .6,-3 -3.1,.5zM213,183.6l3,-.4 .6,-3.2 -3,.6zM216,183.2l3.1,-.5 .5,-3.2 -3,.5zM219.1,182.7l3,-.4 .5,-3.3 -3,.5zM222.1,182.3l3,-.4 .6,-3.4 -3.1,.5zM225.1,181.9l3.1,-.4 .5,-3.4 -3,.4zM228.2,181.5l3,-.5 .6,-3.5 -3.1,.6zM231.2,181l3.1,-.6 .6,-3.5 -3.1,.6zM234.3,180.4l3.1,-.7 .5,-3.6 -3,.8zM237.4,179.7l3.1,-1 .5,-3.7 -3.1,1.1zM240.5,178.7l3.1,-1.3 .6,-3.8 -3.2,1.4zM243.6,177.4l3.2,-1.7 .5,-3.8 -3.1,1.7zM246.8,175.7l3.1,-2.1 .6,-3.9 -3.2,2.2zM249.9,173.6l3.2,-2.6 .6,-4 -3.2,2.7z"/>
<path fill="#6ccde4" d="M78.4,179.4l2.7,1.4 .7,-.6 -2.8,-1.4zM81.1,180.8l2.8,1.4 .6,-.6 -2.7,-1.4zM83.9,182.2l2.8,1.3 .6,-.7 -2.8,-1.2zM86.7,183.5l2.7,1.1 .6,-.6 -2.7,-1.2zM89.4,184.6l2.8,1.1 .6,-.6 -2.8,-1.1zM92.2,185.7l2.8,1 .6,-.7 -2.8,-.9zM95,186.7l2.7,1 .6,-.8 -2.7,-.9zM97.7,187.7l2.8,.8 .6,-.7 -2.8,-.9zM100.5,188.5l2.8,.8 .6,-.8 -2.8,-.7zM103.3,189.3l2.8,.8 .5,-.8 -2.7,-.8zM106.1,190.1l2.7,.7 .6,-.9 -2.8,-.6zM108.8,190.8l2.8,.6 .6,-.9 -2.8,-.6zM111.6,191.4l2.8,.6 .6,-1 -2.8,-.5z"/>
<path fill="#71d6de" d="M114.4,192l2.8,.5 .5,-1 -2.7,-.5zM117.2,192.5l2.8,.4 .5,-1 -2.8,-.4zM120,192.9l2.8,.5 .5,-1.1 -2.8,-.4zM122.8,193.4l2.8,.3 .5,-1.1 -2.8,-.3zM125.6,193.7l2.8,.3 .5,-1.1 -2.8,-.3z"/>
<path fill="#76e0d7" d="M128.4,194l2.8,.3 .5,-1.1 -2.8,-.3zM131.2,194.3l2.8,.3 .5,-1.2 -2.8,-.2zM134,194.6l2.8,.1 .6,-1.2 -2.9,-.1zM136.8,194.7l2.8,.2 .6,-1.3 -2.8,-.1zM139.6,194.9l2.9,.1 .5,-1.3 -2.8,-.1zM142.5,195l2.8,0 .5,-1.3 -2.8,0z"/>
<path fill="#7ce9d1" d="M145.3,195l2.8,.1 .6,-1.5 -2.9,.1zM148.1,195.1l2.9,-.1 .5,-1.5 -2.8,.1zM151,195l2.9,-.1 .5,-1.5 -2.9,.1zM153.9,194.9l2.8,-.1 .5,-1.6 -2.8,.2zM156.7,194.8l2.9,-.2 .5,-1.7 -2.9,.3z"/>
<path fill="#81f3ca" d="M159.6,194.6l2.9,-.3 .5,-1.7 -2.9,.3zM162.5,194.3l2.8,-.3 .6,-1.8 -2.9,.4zM165.3,194l2.9,-.4 .5,-1.8 -2.8,.4zM168.2,193.6l2.9,-.4 .5,-1.9 -2.9,.5zM171.1,193.2l2.9,-.4 .5,-2 -2.9,.5zM174,192.8l2.9,-.5 .6,-2 -3,.5z"/>
<path fill="#86fcc4" d="M176.9,192.3l3,-.4 .5,-2.2 -2.9,.6zM179.9,191.9l2.9,-.5 .5,-2.3 -2.9,.6zM182.8,191.4l2.9,-.6 .5,-2.3 -2.9,.6zM185.7,190.8l3,-.5 .5,-2.4 -3,.6zM188.7,190.3l2.9,-.5 .5,-2.4 -2.9,.5zM191.6,189.8l3,-.5 .5,-2.5 -3,.6zM194.6,189.3l2.9,-.5 .6,-2.6 -3,.6zM197.5,188.8l3,-.4 .5,-2.7 -2.9,.5zM200.5,188.4l3,-.5 .5,-2.8 -3,.6zM203.5,187.9l3,-.4 .5,-2.9 -3,.5zM206.5,187.5l3,-.5 .5,-2.9 -3,.5zM209.5,187l3,-.4 .5,-3 -3,.5zM212.5,186.6l3,-.4 .5,-3 -3,.4zM215.5,186.2l3,-.4 .6,-3.1 -3.1,.5zM218.5,185.8l3.1,-.3 .5,-3.2 -3,.4zM221.6,185.5l3,-.4 .5,-3.2 -3,.4zM224.6,185.1l3,-.3 .6,-3.3 -3.1,.4zM227.6,184.8l3.1,-.4 .5,-3.4 -3,.5zM230.7,184.4l3.1,-.6 .5,-3.4 -3.1,.6zM233.8,183.8l3,-.7 .6,-3.4 -3.1,.7zM236.8,183.1l3.1,-.9 .6,-3.5 -3.1,1zM239.9,182.2l3.2,-1.2 .5,-3.6 -3.1,1.3zM243.1,181l3.1,-1.6 .6,-3.7 -3.2,1.7zM246.2,179.4l3.2,-1.9 .5,-3.9 -3.1,2.1zM249.4,177.5l3.2,-2.5 .5,-4 -3.2,2.6z"/>
<path fill="#6ccde4" d="M77.8,179.9l2.7,1.5 .6,-.6 -2.7,-1.4zM80.5,181.4l2.8,1.4 .6,-.6 -2.8,-1.4zM83.3,182.8l2.8,1.3 .6,-.6 -2.8,-1.3zM86.1,184.1l2.7,1.2 .6,-.7 -2.7,-1.1zM88.8,185.3l2.8,1.1 .6,-.7 -2.8,-1.1zM91.6,186.4l2.8,1 .6,-.7 -2.8,-1zM94.4,187.4l2.7,1 .6,-.7 -2.7,-1zM97.1,188.4l2.8,.9 .6,-.8 -2.8,-.8zM99.9,189.3l2.8,.8 .6,-.8 -2.8,-.8zM102.7,190.1l2.8,.8 .6,-.8 -2.8,-.8zM105.5,190.9l2.8,.7 .5,-.8 -2.7,-.7zM108.3,191.6l2.7,.7 .6,-.9 -2.8,-.6zM111,192.3l2.8,.6 .6,-.9 -2.8,-.6z"/>
<path fill="#71d6de" d="M113.8,192.9l2.8,.5 .6,-.9 -2.8,-.5zM116.6,193.4l2.8,.5 .6,-1 -2.8,-.4zM119.4,193.9l2.8,.5 .6,-1 -2.8,-.5zM122.2,194.4l2.8,.4 .6,-1.1 -2.8,-.3zM125,194.8l2.8,.4 .6,-1.2 -2.8,-.3z"/>
<path fill="#76e0d7" d="M127.8,195.2l2.8,.3 .6,-1.2 -2.8,-.3zM130.6,195.5l2.8,.3 .6,-1.2 -2.8,-.3zM133.4,195.8l2.9,.2 .5,-1.3 -2.8,-.1zM136.3,196l2.8,.2 .5,-1.3 -2.8,-.2zM139.1,196.2l2.8,.1 .6,-1.3 -2.9,-.1z"/>
<path fill="#7ce9d1" d="M141.9,196.3l2.9,.1 .5,-1.4 -2.8,0zM144.8,196.4l2.8,.1 .5,-1.4 -2.8,-.1zM147.6,196.5l2.9,0 .5,-1.5 -2.9,.1zM150.5,196.5l2.8,-.1 .6,-1.5 -2.9,.1zM153.3,196.4l2.9,-.1 .5,-1.5 -2.8,.1zM156.2,196.3l2.9,-.1 .5,-1.6 -2.9,.2z"/>
<path fill="#81f3ca" d="M159.1,196.2l2.8,-.2 .6,-1.7 -2.9,.3zM161.9,196l2.9,-.2 .5,-1.8 -2.8,.3zM164.8,195.8l2.9,-.3 .5,-1.9 -2.9,.4zM167.7,195.5l2.9,-.4 .5,-1.9 -2.9,.4zM170.6,195.1l2.9,-.3 .5,-2 -2.9,.4zM173.5,194.8l2.9,-.4 .5,-2.1 -2.9,.5z"/>
<path fill="#86fcc4" d="M176.4,194.4l2.9,-.4 .6,-2.1 -3,.4zM179.3,194l3,-.4 .5,-2.2 -2.9,.5zM182.3,193.6l2.9,-.5 .5,-2.3 -2.9,.6zM185.2,193.1l2.9,-.4 .6,-2.4 -3,.5zM188.1,192.7l3,-.4 .5,-2.5 -2.9,.5zM191.1,192.3l3,-.5 .5,-2.5 -3,.5zM194.1,191.8l2.9,-.4 .5,-2.6 -2.9,.5zM197,191.4l3,-.4 .5,-2.6 -3,.4zM200,191l3,-.4 .5,-2.7 -3,.5zM203,190.6l3,-.3 .5,-2.8 -3,.4zM206,190.3l3,-.4 .5,-2.9 -3,.5zM209,189.9l3,-.4 .5,-2.9 -3,.4zM212,189.5l3,-.3 .5,-3 -3,.4zM215,189.2l3,-.3 .5,-3.1 -3,.4zM218,188.9l3,-.3 .6,-3.1 -3.1,.3zM221,188.6l3.1,-.3 .5,-3.2 -3,.4zM224.1,188.3l3,-.3 .5,-3.2 -3,.3zM227.1,188l3.1,-.4 .5,-3.2 -3.1,.4zM230.2,187.6l3,-.5 .6,-3.3 -3.1,.6zM233.2,187.1l3.1,-.6 .5,-3.4 -3,.7zM236.3,186.5l3.1,-.8 .5,-3.5 -3.1,.9zM239.4,185.7l3.1,-1.1 .6,-3.6 -3.2,1.2zM242.5,184.6l3.1,-1.5 .6,-3.7 -3.1,1.6zM245.6,183.1l3.2,-1.8 .6,-3.8 -3.2,1.9zM248.8,181.3l3.2,-2.3 .6,-4 -3.2,2.5z"/>
<path fill="#6ccde4" d="M77.1,180.5l2.8,1.5 .6,-.6 -2.7,-1.5zM79.9,182l2.8,1.4 .6,-.6 -2.8,-1.4zM82.7,183.4l2.8,1.3 .6,-.6 -2.8,-1.3zM85.5,184.7l2.7,1.2 .6,-.6 -2.7,-1.2zM88.2,185.9l2.8,1.2 .6,-.7 -2.8,-1.1zM91,187.1l2.8,1 .6,-.7 -2.8,-1zM93.8,188.1l2.8,1 .5,-.7 -2.7,-1zM96.6,189.1l2.7,1 .6,-.8 -2.8,-.9zM99.3,190.1l2.8,.8 .6,-.8 -2.8,-.8zM102.1,190.9l2.8,.8 .6,-.8 -2.8,-.8zM104.9,191.7l2.8,.8 .6,-.9 -2.8,-.7zM107.7,192.5l2.8,.7 .5,-.9 -2.7,-.7zM110.5,193.2l2.8,.6 .5,-.9 -2.8,-.6z"/>
<path fill="#71d6de" d="M113.3,193.8l2.7,.6 .6,-1 -2.8,-.5zM116,194.4l2.8,.5 .6,-1 -2.8,-.5zM118.8,194.9l2.8,.5 .6,-1 -2.8,-.5zM121.6,195.4l2.9,.5 .5,-1.1 -2.8,-.4zM124.5,195.9l2.8,.4 .5,-1.1 -2.8,-.4z"/>
<path fill="#76e0d7" d="M127.3,196.3l2.8,.3 .5,-1.1 -2.8,-.3zM130.1,196.6l2.8,.4 .5,-1.2 -2.8,-.3zM132.9,197l2.8,.2 .6,-1.2 -2.9,-.2zM135.7,197.2l2.9,.3 .5,-1.3 -2.8,-.2zM138.6,197.5l2.8,.2 .5,-1.4 -2.8,-.1z"/>
<path fill="#7ce9d1" d="M141.4,197.7l2.8,.1 .6,-1.4 -2.9,-.1zM144.2,197.8l2.9,.1 .5,-1.4 -2.8,-.1zM147.1,197.9l2.8,.1 .6,-1.5 -2.9,0zM149.9,198l2.9,0 .5,-1.6 -2.8,.1zM152.8,198l2.9,-.1 .5,-1.6 -2.9,.1zM155.7,197.9l2.8,-.1 .6,-1.6 -2.9,.1z"/>
<path fill="#81f3ca" d="M158.5,197.8l2.9,-.1 .5,-1.7 -2.8,.2zM161.4,197.7l2.9,-.2 .5,-1.7 -2.9,.2zM164.3,197.5l2.9,-.2 .5,-1.8 -2.9,.3zM167.2,197.3l2.9,-.3 .5,-1.9 -2.9,.4zM170.1,197l2.9,-.2 .5,-2 -2.9,.3zM173,196.8l2.9,-.4 .5,-2 -2.9,.4z"/>
<path fill="#86fcc4" d="M175.9,196.4l2.9,-.3 .5,-2.1 -2.9,.4zM178.8,196.1l2.9,-.4 .6,-2.1 -3,.4zM181.7,195.7l3,-.3 .5,-2.3 -2.9,.5zM184.7,195.4l2.9,-.4 .5,-2.3 -2.9,.4zM187.6,195l3,-.3 .5,-2.4 -3,.4zM190.6,194.7l2.9,-.4 .6,-2.5 -3,.5zM193.5,194.3l3,-.3 .5,-2.6 -2.9,.4zM196.5,194l3,-.4 .5,-2.6 -3,.4zM199.5,193.6l3,-.3 .5,-2.7 -3,.4zM202.5,193.3l3,-.3 .5,-2.7 -3,.3zM205.5,193l2.9,-.3 .6,-2.8 -3,.4zM208.4,192.7l3.1,-.3 .5,-2.9 -3,.4zM211.5,192.4l3,-.3 .5,-2.9 -3,.3zM214.5,192.1l3,-.3 .5,-2.9 -3,.3zM217.5,191.8l3,-.2 .5,-3 -3,.3zM220.5,191.6l3,-.3 .6,-3 -3.1,.3zM223.5,191.3l3.1,-.2 .5,-3.1 -3,.3zM226.6,191.1l3,-.3 .6,-3.2 -3.1,.4zM229.6,190.8l3.1,-.4 .5,-3.3 -3,.5zM232.7,190.4l3.1,-.6 .5,-3.3 -3.1,.6zM235.8,189.8l3.1,-.8 .5,-3.3 -3.1,.8zM238.9,189l3.1,-1 .5,-3.4 -3.1,1.1zM242,188l3.1,-1.3 .5,-3.6 -3.1,1.5zM245.1,186.7l3.2,-1.7 .5,-3.7 -3.2,1.8zM248.3,185l3.1,-2.2 .6,-3.8 -3.2,2.3z"/>
<path fill="#6ccde4" d="M76.5,181.1l2.8,1.5 .6,-.6 -2.8,-1.5zM79.3,182.6l2.8,1.4 .6,-.6 -2.8,-1.4zM82.1,184l2.8,1.3 .6,-.6 -2.8,-1.3zM84.9,185.3l2.7,1.3 .6,-.7 -2.7,-1.2zM87.6,186.6l2.8,1.2 .6,-.7 -2.8,-1.2zM90.4,187.8l2.8,1.1 .6,-.8 -2.8,-1zM93.2,188.9l2.8,1 .6,-.8 -2.8,-1zM96,189.9l2.7,.9 .6,-.7 -2.7,-1zM98.7,190.8l2.8,.9 .6,-.8 -2.8,-.8zM101.5,191.7l2.8,.9 .6,-.9 -2.8,-.8zM104.3,192.6l2.8,.8 .6,-.9 -2.8,-.8zM107.1,193.4l2.8,.7 .6,-.9 -2.8,-.7zM109.9,194.1l2.8,.7 .6,-1 -2.8,-.6z"/>
<path fill="#71d6de" d="M112.7,194.8l2.8,.6 .5,-1 -2.7,-.6zM115.5,195.4l2.8,.6 .5,-1.1 -2.8,-.5zM118.3,196l2.8,.5 .5,-1.1 -2.8,-.5zM121.1,196.5l2.8,.5 .6,-1.1 -2.9,-.5zM123.9,197l2.8,.4 .6,-1.1 -2.8,-.4z"/>
<path fill="#76e0d7" d="M126.7,197.4l2.8,.4 .6,-1.2 -2.8,-.3zM129.5,197.8l2.8,.4 .6,-1.2 -2.8,-.4zM132.3,198.2l2.9,.3 .5,-1.3 -2.8,-.2zM135.2,198.5l2.8,.3 .6,-1.3 -2.9,-.3zM138,198.8l2.8,.2 .6,-1.3 -2.8,-.2z"/>
<path fill="#7ce9d1" d="M140.8,199l2.9,.2 .5,-1.4 -2.8,-.1zM143.7,199.2l2.8,.1 .6,-1.4 -2.9,-.1zM146.5,199.3l2.9,.1 .5,-1.4 -2.8,-.1zM149.4,199.4l2.9,.1 .5,-1.5 -2.9,0zM152.3,199.5l2.8,0 .6,-1.6 -2.9,.1zM155.1,199.5l2.9,0 .5,-1.7 -2.8,.1z"/>
<path fill="#81f3ca" d="M158,199.5l2.9,-.1 .5,-1.7 -2.9,.1zM160.9,199.4l2.9,-.1 .5,-1.8 -2.9,.2zM163.8,199.3l2.9,-.2 .5,-1.8 -2.9,.2zM166.7,199.1l2.9,-.2 .5,-1.9 -2.9,.3zM169.6,198.9l2.9,-.2 .5,-1.9 -2.9,.2zM172.5,198.7l2.9,-.2 .5,-2.1 -2.9,.4z"/>
<path fill="#86fcc4" d="M175.4,198.5l2.9,-.3 .5,-2.1 -2.9,.3zM178.3,198.2l2.9,-.3 .5,-2.2 -2.9,.4zM181.2,197.9l3,-.3 .5,-2.2 -3,.3zM184.2,197.6l2.9,-.3 .5,-2.3 -2.9,.4zM187.1,197.3l3,-.3 .5,-2.3 -3,.3zM190.1,197l2.9,-.3 .5,-2.4 -2.9,.4zM193,196.7l3,-.2 .5,-2.5 -3,.3zM196,196.5l3,-.3 .5,-2.6 -3,.4zM199,196.2l2.9,-.3 .6,-2.6 -3,.3zM201.9,195.9l3,-.2 .6,-2.7 -3,.3zM204.9,195.7l3,-.3 .5,-2.7 -2.9,.3zM207.9,195.4l3,-.2 .6,-2.8 -3.1,.3zM210.9,195.2l3,-.3 .6,-2.8 -3,.3zM213.9,194.9l3.1,-.2 .5,-2.9 -3,.3zM217,194.7l3,-.2 .5,-2.9 -3,.2zM220,194.5l3,-.2 .5,-3 -3,.3zM223,194.3l3.1,-.2 .5,-3 -3.1,.2zM226.1,194.1l3,-.3 .5,-3 -3,.3zM229.1,193.8l3.1,-.3 .5,-3.1 -3.1,.4zM232.2,193.5l3,-.5 .6,-3.2 -3.1,.6zM235.2,193l3.1,-.7 .6,-3.3 -3.1,.8zM238.3,192.3l3.1,-.9 .6,-3.4 -3.1,1zM241.4,191.4l3.2,-1.2 .5,-3.5 -3.1,1.3zM244.6,190.2l3.1,-1.6 .6,-3.6 -3.2,1.7zM247.7,188.6l3.2,-2 .5,-3.8 -3.1,2.2z"/>
<path fill="#6ccde4" d="M75.9,181.7l2.8,1.5 .6,-.6 -2.8,-1.5zM78.7,183.2l2.8,1.4 .6,-.6 -2.8,-1.4zM81.5,184.6l2.8,1.4 .6,-.7 -2.8,-1.3zM84.3,186l2.7,1.2 .6,-.6 -2.7,-1.3zM87,187.2l2.8,1.2 .6,-.6 -2.8,-1.2zM89.8,188.4l2.8,1.2 .6,-.7 -2.8,-1.1zM92.6,189.6l2.8,1 .6,-.7 -2.8,-1zM95.4,190.6l2.8,1 .5,-.8 -2.7,-.9zM98.2,191.6l2.7,.9 .6,-.8 -2.8,-.9zM100.9,192.5l2.8,.9 .6,-.8 -2.8,-.9zM103.7,193.4l2.8,.8 .6,-.8 -2.8,-.8zM106.5,194.2l2.8,.8 .6,-.9 -2.8,-.7zM109.3,195l2.8,.7 .6,-.9 -2.8,-.7z"/>
<path fill="#71d6de" d="M112.1,195.7l2.8,.7 .6,-1 -2.8,-.6zM114.9,196.4l2.8,.6 .6,-1 -2.8,-.6zM117.7,197l2.8,.5 .6,-1 -2.8,-.5zM120.5,197.5l2.8,.6 .6,-1.1 -2.8,-.5zM123.3,198.1l2.9,.4 .5,-1.1 -2.8,-.4z"/>
<path fill="#76e0d7" d="M126.2,198.5l2.8,.5 .5,-1.2 -2.8,-.4zM129,199l2.8,.4 .5,-1.2 -2.8,-.4zM131.8,199.4l2.8,.3 .6,-1.2 -2.9,-.3zM134.6,199.7l2.9,.3 .5,-1.2 -2.8,-.3zM137.5,200l2.8,.3 .5,-1.3 -2.8,-.2z"/>
<path fill="#7ce9d1" d="M140.3,200.3l2.8,.3 .6,-1.4 -2.9,-.2zM143.1,200.6l2.9,.2 .5,-1.5 -2.8,-.1zM146,200.8l2.9,.1 .5,-1.5 -2.9,-.1zM148.9,200.9l2.8,.1 .6,-1.5 -2.9,-.1zM151.7,201l2.9,.1 .5,-1.6 -2.8,0zM154.6,201.1l2.9,0 .5,-1.6 -2.9,0z"/>
<path fill="#81f3ca" d="M157.5,201.1l2.8,0 .6,-1.7 -2.9,.1zM160.3,201.1l2.9,-.1 .6,-1.7 -2.9,.1zM163.2,201l2.9,-.1 .6,-1.8 -2.9,.2zM166.1,200.9l2.9,-.1 .6,-1.9 -2.9,.2zM169,200.8l2.9,-.2 .6,-1.9 -2.9,.2zM171.9,200.6l3,-.1 .5,-2 -2.9,.2z"/>
<path fill="#86fcc4" d="M174.9,200.5l2.9,-.2 .5,-2.1 -2.9,.3zM177.8,200.3l2.9,-.3 .5,-2.1 -2.9,.3zM180.7,200l2.9,-.2 .6,-2.2 -3,.3zM183.6,199.8l3,-.2 .5,-2.3 -2.9,.3zM186.6,199.6l2.9,-.3 .6,-2.3 -3,.3zM189.5,199.3l3,-.2 .5,-2.4 -2.9,.3zM192.5,199.1l3,-.2 .5,-2.4 -3,.2zM195.5,198.9l2.9,-.2 .6,-2.5 -3,.3zM198.4,198.7l3,-.2 .5,-2.6 -2.9,.3zM201.4,198.5l3,-.2 .5,-2.6 -3,.2zM204.4,198.3l3,-.2 .5,-2.7 -3,.3zM207.4,198.1l3,-.2 .5,-2.7 -3,.2zM210.4,197.9l3,-.2 .5,-2.8 -3,.3zM213.4,197.7l3,-.2 .6,-2.8 -3.1,.2zM216.4,197.5l3.1,-.1 .5,-2.9 -3,.2zM219.5,197.4l3,-.2 .5,-2.9 -3,.2zM222.5,197.2l3,-.2 .6,-2.9 -3.1,.2zM225.5,197l3.1,-.2 .5,-3 -3,.3zM228.6,196.8l3,-.3 .6,-3 -3.1,.3zM231.6,196.5l3.1,-.4 .5,-3.1 -3,.5zM234.7,196.1l3.1,-.6 .5,-3.2 -3.1,.7zM237.8,195.5l3.1,-.9 .5,-3.2 -3.1,.9zM240.9,194.6l3.1,-1 .6,-3.4 -3.2,1.2zM244,193.6l3.2,-1.4 .5,-3.6 -3.1,1.6zM247.2,192.2l3.1,-1.8 .6,-3.8 -3.2,2z"/>
<path fill="#6ccde4" d="M75.3,182.3l2.8,1.5 .6,-.6 -2.8,-1.5zM78.1,183.8l2.8,1.4 .6,-.6 -2.8,-1.4zM80.9,185.2l2.7,1.4 .7,-.6 -2.8,-1.4zM83.6,186.6l2.8,1.3 .6,-.7 -2.7,-1.2zM86.4,187.9l2.8,1.2 .6,-.7 -2.8,-1.2zM89.2,189.1l2.8,1.2 .6,-.7 -2.8,-1.2zM92,190.3l2.8,1.1 .6,-.8 -2.8,-1zM94.8,191.4l2.8,1 .6,-.8 -2.8,-1zM97.6,192.4l2.8,.9 .5,-.8 -2.7,-.9zM100.4,193.3l2.7,1 .6,-.9 -2.8,-.9zM103.1,194.3l2.8,.8 .6,-.9 -2.8,-.8zM105.9,195.1l2.8,.8 .6,-.9 -2.8,-.8zM108.7,195.9l2.8,.8 .6,-1 -2.8,-.7z"/>
<path fill="#71d6de" d="M111.5,196.7l2.8,.6 .6,-.9 -2.8,-.7zM114.3,197.3l2.9,.7 .5,-1 -2.8,-.6zM117.2,198l2.8,.6 .5,-1.1 -2.8,-.5zM120,198.6l2.8,.6 .5,-1.1 -2.8,-.6zM122.8,199.2l2.8,.5 .6,-1.2 -2.9,-.4z"/>
<path fill="#76e0d7" d="M125.6,199.7l2.8,.4 .6,-1.1 -2.8,-.5zM128.4,200.1l2.8,.5 .6,-1.2 -2.8,-.4zM131.2,200.6l2.9,.4 .5,-1.3 -2.8,-.3zM134.1,201l2.8,.3 .6,-1.3 -2.9,-.3zM136.9,201.3l2.9,.4 .5,-1.4 -2.8,-.3z"/>
<path fill="#7ce9d1" d="M139.8,201.7l2.8,.2 .5,-1.3 -2.8,-.3zM142.6,201.9l2.9,.3 .5,-1.4 -2.9,-.2zM145.5,202.2l2.8,.2 .6,-1.5 -2.9,-.1zM148.3,202.4l2.9,.1 .5,-1.5 -2.8,-.1zM151.2,202.5l2.9,.2 .5,-1.6 -2.9,-.1zM154.1,202.7l2.8,0 .6,-1.6 -2.9,0z"/>
<path fill="#81f3ca" d="M156.9,202.7l2.9,.1 .5,-1.7 -2.8,0zM159.8,202.8l2.9,0 .5,-1.8 -2.9,.1zM162.7,202.8l2.9,-.1 .5,-1.8 -2.9,.1zM165.6,202.7l2.9,0 .5,-1.9 -2.9,.1zM168.5,202.7l2.9,-.1 .5,-2 -2.9,.2zM171.4,202.6l2.9,-.2 .6,-1.9 -3,.1zM174.3,202.4l3,-.1 .5,-2 -2.9,.2z"/>
<path fill="#86fcc4" d="M177.3,202.3l2.9,-.2 .5,-2.1 -2.9,.3zM180.2,202.1l2.9,-.1 .5,-2.2 -2.9,.2zM183.1,202l3,-.2 .5,-2.2 -3,.2zM186.1,201.8l2.9,-.2 .5,-2.3 -2.9,.3zM189,201.6l3,-.1 .5,-2.4 -3,.2zM192,201.5l2.9,-.2 .6,-2.4 -3,.2zM194.9,201.3l3,-.2 .5,-2.4 -2.9,.2zM197.9,201.1l3,-.1 .5,-2.5 -3,.2zM200.9,201l3,-.2 .5,-2.5 -3,.2zM203.9,200.8l3,-.1 .5,-2.6 -3,.2zM206.9,200.7l3,-.2 .5,-2.6 -3,.2zM209.9,200.5l3,-.1 .5,-2.7 -3,.2zM212.9,200.4l3,-.2 .5,-2.7 -3,.2zM215.9,200.2l3,-.1 .6,-2.7 -3.1,.1zM218.9,200.1l3.1,-.1 .5,-2.8 -3,.2zM222,200l3,-.1 .5,-2.9 -3,.2zM225,199.9l3.1,-.2 .5,-2.9 -3.1,.2zM228.1,199.7l3,-.3 .5,-2.9 -3,.3zM231.1,199.4l3.1,-.3 .5,-3 -3.1,.4zM234.2,199.1l3.1,-.6 .5,-3 -3.1,.6zM237.3,198.5l3.1,-.7 .5,-3.2 -3.1,.9zM240.4,197.8l3.1,-.9 .5,-3.3 -3.1,1zM243.5,196.9l3.1,-1.3 .6,-3.4 -3.2,1.4zM246.6,195.6l3.2,-1.6 .5,-3.6 -3.1,1.8z"/>
<path fill="#6ccde4" d="M74.7,182.8l2.8,1.6 .6,-.6 -2.8,-1.5zM77.5,184.4l2.7,1.4 .7,-.6 -2.8,-1.4zM80.2,185.8l2.8,1.4 .6,-.6 -2.7,-1.4zM83,187.2l2.8,1.4 .6,-.7 -2.8,-1.3zM85.8,188.6l2.8,1.2 .6,-.7 -2.8,-1.2zM88.6,189.8l2.8,1.2 .6,-.7 -2.8,-1.2zM91.4,191l2.8,1.1 .6,-.7 -2.8,-1.1zM94.2,192.1l2.8,1.1 .6,-.8 -2.8,-1zM97,193.2l2.8,1 .6,-.9 -2.8,-.9zM99.8,194.2l2.8,.9 .5,-.8 -2.7,-1zM102.6,195.1l2.8,.9 .5,-.9 -2.8,-.8zM105.4,196l2.8,.8 .5,-.9 -2.8,-.8zM108.2,196.8l2.8,.8 .5,-.9 -2.8,-.8z"/>
<path fill="#71d6de" d="M111,197.6l2.8,.7 .5,-1 -2.8,-.6zM113.8,198.3l2.8,.7 .6,-1 -2.9,-.7zM116.6,199l2.8,.7 .6,-1.1 -2.8,-.6zM119.4,199.7l2.8,.6 .6,-1.1 -2.8,-.6zM122.2,200.3l2.8,.5 .6,-1.1 -2.8,-.5z"/>
<path fill="#76e0d7" d="M125,200.8l2.9,.5 .5,-1.2 -2.8,-.4zM127.9,201.3l2.8,.5 .5,-1.2 -2.8,-.5zM130.7,201.8l2.8,.4 .6,-1.2 -2.9,-.4zM133.5,202.2l2.9,.4 .5,-1.3 -2.8,-.3zM136.4,202.6l2.8,.4 .6,-1.3 -2.9,-.4z"/>
<path fill="#7ce9d1" d="M139.2,203l2.9,.3 .5,-1.4 -2.8,-.2zM142.1,203.3l2.8,.3 .6,-1.4 -2.9,-.3zM144.9,203.6l2.9,.3 .5,-1.5 -2.8,-.2zM147.8,203.9l2.8,.2 .6,-1.6 -2.9,-.1zM150.6,204.1l2.9,.1 .6,-1.5 -2.9,-.2zM153.5,204.2l2.9,.2 .5,-1.7 -2.8,0z"/>
<path fill="#81f3ca" d="M156.4,204.4l2.9,0 .5,-1.6 -2.9,-.1zM159.3,204.4l2.9,.1 .5,-1.7 -2.9,0zM162.2,204.5l2.9,0 .5,-1.8 -2.9,.1zM165.1,204.5l2.9,0 .5,-1.8 -2.9,0zM168,204.5l2.9,0 .5,-1.9 -2.9,.1zM170.9,204.5l2.9,-.1 .5,-2 -2.9,.2zM173.8,204.4l2.9,-.1 .6,-2 -3,.1z"/>
<path fill="#86fcc4" d="M176.7,204.3l3,-.1 .5,-2.1 -2.9,.2zM179.7,204.2l2.9,-.1 .5,-2.1 -2.9,.1zM182.6,204.1l2.9,-.1 .6,-2.2 -3,.2zM185.5,204l3,-.1 .5,-2.3 -2.9,.2zM188.5,203.9l3,-.2 .5,-2.2 -3,.1zM191.5,203.7l2.9,-.1 .5,-2.3 -2.9,.2zM194.4,203.6l3,-.1 .5,-2.4 -3,.2zM197.4,203.5l3,-.1 .5,-2.4 -3,.1zM200.4,203.4l3,-.1 .5,-2.5 -3,.2zM203.4,203.3l3,-.1 .5,-2.5 -3,.1zM206.4,203.2l3,-.1 .5,-2.6 -3,.2zM209.4,203.1l3,-.1 .5,-2.6 -3,.1zM212.4,203l3,-.1 .5,-2.7 -3,.2zM215.4,202.9l3,-.1 .5,-2.7 -3,.1zM218.4,202.8l3,-.1 .6,-2.7 -3.1,.1zM221.4,202.7l3.1,-.1 .5,-2.7 -3,.1zM224.5,202.6l3,-.1 .6,-2.8 -3.1,.2zM227.5,202.5l3.1,-.2 .5,-2.9 -3,.3zM230.6,202.3l3.1,-.3 .5,-2.9 -3.1,.3zM233.7,202l3,-.5 .6,-3 -3.1,.6zM236.7,201.5l3.1,-.6 .6,-3.1 -3.1,.7zM239.8,200.9l3.1,-.8 .6,-3.2 -3.1,.9zM242.9,200.1l3.2,-1.1 .5,-3.4 -3.1,1.3zM246.1,199l3.1,-1.4 .6,-3.6 -3.2,1.6z"/>
<path fill="#6ccde4" d="M74,183.4l2.8,1.6 .7,-.6 -2.8,-1.6zM76.8,185l2.8,1.4 .6,-.6 -2.7,-1.4zM79.6,186.4l2.8,1.5 .6,-.7 -2.8,-1.4zM82.4,187.9l2.8,1.3 .6,-.6 -2.8,-1.4zM85.2,189.2l2.8,1.3 .6,-.7 -2.8,-1.2zM88,190.5l2.8,1.2 .6,-.7 -2.8,-1.2zM90.8,191.7l2.8,1.2 .6,-.8 -2.8,-1.1zM93.6,192.9l2.8,1 .6,-.7 -2.8,-1.1zM96.4,193.9l2.8,1.1 .6,-.8 -2.8,-1zM99.2,195l2.8,1 .6,-.9 -2.8,-.9zM102,196l2.8,.9 .6,-.9 -2.8,-.9zM104.8,196.9l2.8,.8 .6,-.9 -2.8,-.8zM107.6,197.7l2.8,.9 .6,-1 -2.8,-.8z"/>
<path fill="#71d6de" d="M110.4,198.6l2.8,.7 .6,-1 -2.8,-.7zM113.2,199.3l2.8,.7 .6,-1 -2.8,-.7zM116,200l2.8,.7 .6,-1 -2.8,-.7zM118.8,200.7l2.9,.7 .5,-1.1 -2.8,-.6zM121.7,201.4l2.8,.5 .5,-1.1 -2.8,-.5z"/>
<path fill="#76e0d7" d="M124.5,201.9l2.8,.6 .6,-1.2 -2.9,-.5zM127.3,202.5l2.8,.5 .6,-1.2 -2.8,-.5zM130.1,203l2.9,.5 .5,-1.3 -2.8,-.4zM133,203.5l2.8,.4 .6,-1.3 -2.9,-.4zM135.8,203.9l2.9,.4 .5,-1.3 -2.8,-.4z"/>
<path fill="#7ce9d1" d="M138.7,204.3l2.8,.4 .6,-1.4 -2.9,-.3zM141.5,204.7l2.9,.3 .5,-1.4 -2.8,-.3zM144.4,205l2.8,.3 .6,-1.4 -2.9,-.3zM147.2,205.3l2.9,.3 .5,-1.5 -2.8,-.2zM150.1,205.6l2.9,.2 .5,-1.6 -2.9,-.1zM153,205.8l2.9,.2 .5,-1.6 -2.9,-.2z"/>
<path fill="#81f3ca" d="M155.9,206l2.9,.1 .5,-1.7 -2.9,0zM158.8,206.1l2.8,.1 .6,-1.7 -2.9,-.1zM161.6,206.2l2.9,.1 .6,-1.8 -2.9,0zM164.5,206.3l2.9,0 .6,-1.8 -2.9,0zM167.4,206.3l3,0 .5,-1.8 -2.9,0zM170.4,206.3l2.9,0 .5,-1.9 -2.9,.1zM173.3,206.3l2.9,0 .5,-2 -2.9,.1zM176.2,206.3l2.9,0 .6,-2.1 -3,.1z"/>
<path fill="#86fcc4" d="M179.1,206.3l3,-.1 .5,-2.1 -2.9,.1zM182.1,206.2l2.9,-.1 .5,-2.1 -2.9,.1zM185,206.1l3,0 .5,-2.2 -3,.1zM188,206.1l2.9,-.1 .6,-2.3 -3,.2zM190.9,206l3,-.1 .5,-2.3 -2.9,.1zM193.9,205.9l3,-.1 .5,-2.3 -3,.1zM196.9,205.8l3,0 .5,-2.4 -3,.1zM199.9,205.8l2.9,-.1 .6,-2.4 -3,.1zM202.8,205.7l3,-.1 .6,-2.4 -3,.1zM205.8,205.6l3,0 .6,-2.5 -3,.1zM208.8,205.6l3.1,-.1 .5,-2.5 -3,.1zM211.9,205.5l3,-.1 .5,-2.5 -3,.1zM214.9,205.4l3,0 .5,-2.6 -3,.1zM217.9,205.4l3,-.1 .5,-2.6 -3,.1zM220.9,205.3l3.1,0 .5,-2.7 -3.1,.1zM224,205.3l3,-.1 .5,-2.7 -3,.1zM227,205.2l3.1,-.2 .5,-2.7 -3.1,.2zM230.1,205l3,-.3 .6,-2.7 -3.1,.3zM233.1,204.7l3.1,-.3 .5,-2.9 -3,.5zM236.2,204.4l3.1,-.5 .5,-3 -3.1,.6zM239.3,203.9l3.1,-.8 .5,-3 -3.1,.8zM242.4,203.1l3.1,-.9 .6,-3.2 -3.2,1.1zM245.5,202.2l3.2,-1.1 .5,-3.5 -3.1,1.4z"/>
<path fill="#6ccde4" d="M73.4,184l2.8,1.5 .6,-.5 -2.8,-1.6zM76.2,185.5l2.8,1.6 .6,-.7 -2.8,-1.4zM79,187.1l2.8,1.4 .6,-.6 -2.8,-1.5zM81.8,188.5l2.8,1.4 .6,-.7 -2.8,-1.3zM84.6,189.9l2.8,1.3 .6,-.7 -2.8,-1.3zM87.4,191.2l2.8,1.2 .6,-.7 -2.8,-1.2zM90.2,192.4l2.8,1.2 .6,-.7 -2.8,-1.2zM93,193.6l2.8,1.1 .6,-.8 -2.8,-1zM95.8,194.7l2.8,1.1 .6,-.8 -2.8,-1.1zM98.6,195.8l2.8,1 .6,-.8 -2.8,-1zM101.4,196.8l2.8,1 .6,-.9 -2.8,-.9zM104.2,197.8l2.8,.9 .6,-1 -2.8,-.8zM107,198.7l2.8,.8 .6,-.9 -2.8,-.9z"/>
<path fill="#71d6de" d="M109.8,199.5l2.8,.8 .6,-1 -2.8,-.7zM112.6,200.3l2.8,.8 .6,-1.1 -2.8,-.7zM115.4,201.1l2.9,.7 .5,-1.1 -2.8,-.7zM118.3,201.8l2.8,.7 .6,-1.1 -2.9,-.7zM121.1,202.5l2.8,.6 .6,-1.2 -2.8,-.5z"/>
<path fill="#76e0d7" d="M123.9,203.1l2.8,.6 .6,-1.2 -2.8,-.6zM126.7,203.7l2.9,.5 .5,-1.2 -2.8,-.5zM129.6,204.2l2.8,.5 .6,-1.2 -2.9,-.5zM132.4,204.7l2.9,.5 .5,-1.3 -2.8,-.4zM135.3,205.2l2.8,.5 .6,-1.4 -2.9,-.4zM138.1,205.7l2.9,.4 .5,-1.4 -2.8,-.4z"/>
<path fill="#7ce9d1" d="M141,206.1l2.8,.3 .6,-1.4 -2.9,-.3zM143.8,206.4l2.9,.4 .5,-1.5 -2.8,-.3zM146.7,206.8l2.9,.3 .5,-1.5 -2.9,-.3zM149.6,207.1l2.8,.2 .6,-1.5 -2.9,-.2zM152.4,207.3l2.9,.3 .6,-1.6 -2.9,-.2zM155.3,207.6l2.9,.2 .6,-1.7 -2.9,-.1z"/>
<path fill="#81f3ca" d="M158.2,207.8l2.9,.1 .5,-1.7 -2.8,-.1zM161.1,207.9l2.9,.1 .5,-1.7 -2.9,-.1zM164,208l2.9,.1 .5,-1.8 -2.9,0zM166.9,208.1l2.9,.1 .6,-1.9 -3,0zM169.8,208.2l3,0 .5,-1.9 -2.9,0zM172.8,208.2l2.9,.1 .5,-2 -2.9,0zM175.7,208.3l2.9,0 .5,-2 -2.9,0z"/>
<path fill="#86fcc4" d="M178.6,208.3l3,0 .5,-2.1 -3,.1zM181.6,208.3l2.9,-.1 .5,-2.1 -2.9,.1zM184.5,208.2l3,0 .5,-2.1 -3,0zM187.5,208.2l2.9,0 .5,-2.2 -2.9,.1zM190.4,208.2l3,0 .5,-2.3 -3,.1zM193.4,208.2l3,-.1 .5,-2.3 -3,.1zM196.4,208.1l2.9,0 .6,-2.3 -3,0zM199.3,208.1l3,-.1 .5,-2.3 -2.9,.1zM202.3,208l3,0 .5,-2.4 -3,.1zM205.3,208l3,0 .5,-2.4 -3,0zM208.3,208l3,-.1 .6,-2.4 -3.1,.1zM211.3,207.9l3.1,0 .5,-2.5 -3,.1zM214.4,207.9l3,0 .5,-2.5 -3,0zM217.4,207.9l3,-.1 .5,-2.5 -3,.1zM220.4,207.8l3,0 .6,-2.5 -3.1,0zM223.4,207.8l3.1,-.1 .5,-2.5 -3,.1zM226.5,207.7l3,-.1 .6,-2.6 -3.1,.2zM229.5,207.6l3.1,-.2 .5,-2.7 -3,.3zM232.6,207.4l3.1,-.3 .5,-2.7 -3.1,.3zM235.7,207.1l3.1,-.4 .5,-2.8 -3.1,.5zM238.8,206.7l3.1,-.6 .5,-3 -3.1,.8zM241.9,206.1l3.1,-.7 .5,-3.2 -3.1,.9zM245,205.4l3.1,-1 .6,-3.3 -3.2,1.1z"/>
<path fill="#6ccde4" d="M72.8,184.5l2.8,1.6 .6,-.6 -2.8,-1.5zM75.6,186.1l2.8,1.6 .6,-.6 -2.8,-1.6zM78.4,187.7l2.8,1.4 .6,-.6 -2.8,-1.4zM81.2,189.1l2.8,1.4 .6,-.6 -2.8,-1.4zM84,190.5l2.8,1.4 .6,-.7 -2.8,-1.3zM86.8,191.9l2.8,1.2 .6,-.7 -2.8,-1.2zM89.6,193.1l2.8,1.3 .6,-.8 -2.8,-1.2zM92.4,194.4l2.8,1.1 .6,-.8 -2.8,-1.1zM95.2,195.5l2.8,1.1 .6,-.8 -2.8,-1.1zM98,196.6l2.8,1.1 .6,-.9 -2.8,-1zM100.8,197.7l2.8,1 .6,-.9 -2.8,-1zM103.6,198.7l2.8,.9 .6,-.9 -2.8,-.9zM106.4,199.6l2.8,.9 .6,-1 -2.8,-.8z"/>
<path fill="#71d6de" d="M109.2,200.5l2.9,.8 .5,-1 -2.8,-.8zM112.1,201.3l2.8,.8 .5,-1 -2.8,-.8zM114.9,202.1l2.8,.8 .6,-1.1 -2.9,-.7zM117.7,202.9l2.8,.7 .6,-1.1 -2.8,-.7zM120.5,203.6l2.9,.6 .5,-1.1 -2.8,-.6z"/>
<path fill="#76e0d7" d="M123.4,204.2l2.8,.7 .5,-1.2 -2.8,-.6zM126.2,204.9l2.8,.5 .6,-1.2 -2.9,-.5zM129,205.4l2.9,.6 .5,-1.3 -2.8,-.5zM131.9,206l2.8,.5 .6,-1.3 -2.9,-.5zM134.7,206.5l2.9,.5 .5,-1.3 -2.8,-.5zM137.6,207l2.8,.4 .6,-1.3 -2.9,-.4z"/>
<path fill="#7ce9d1" d="M140.4,207.4l2.9,.5 .5,-1.5 -2.8,-.3zM143.3,207.9l2.9,.3 .5,-1.4 -2.9,-.4zM146.2,208.2l2.8,.4 .6,-1.5 -2.9,-.3zM149,208.6l2.9,.3 .5,-1.6 -2.8,-.2zM151.9,208.9l2.9,.2 .5,-1.5 -2.9,-.3zM154.8,209.1l2.9,.3 .5,-1.6 -2.9,-.2z"/>
<path fill="#81f3ca" d="M157.7,209.4l2.9,.2 .5,-1.7 -2.9,-.1zM160.6,209.6l2.9,.2 .5,-1.8 -2.9,-.1zM163.5,209.8l2.9,.1 .5,-1.8 -2.9,-.1zM166.4,209.9l2.9,.1 .5,-1.8 -2.9,-.1zM169.3,210l2.9,.1 .6,-1.9 -3,0zM172.2,210.1l3,.1 .5,-1.9 -2.9,-.1zM175.2,210.2l2.9,0 .5,-1.9 -2.9,0zM178.1,210.2l2.9,.1 .6,-2 -3,0z"/>
<path fill="#86fcc4" d="M181,210.3l3,0 .5,-2.1 -2.9,.1zM184,210.3l2.9,0 .6,-2.1 -3,0zM186.9,210.3l3,0 .5,-2.1 -2.9,0zM189.9,210.3l3,0 .5,-2.1 -3,0zM192.9,210.3l2.9,0 .6,-2.2 -3,.1zM195.8,210.3l3,0 .5,-2.2 -2.9,0zM198.8,210.3l3,0 .5,-2.3 -3,.1zM201.8,210.3l3,0 .5,-2.3 -3,0zM204.8,210.3l3,0 .5,-2.3 -3,0zM207.8,210.3l3,0 .5,-2.4 -3,.1zM210.8,210.3l3,0 .6,-2.4 -3.1,0zM213.8,210.3l3.1,0 .5,-2.4 -3,0zM216.9,210.3l3,0 .5,-2.5 -3,.1zM219.9,210.3l3,0 .5,-2.5 -3,0zM222.9,210.3l3.1,-.1 .5,-2.5 -3.1,.1zM226,210.2l3,0 .5,-2.6 -3,.1zM229,210.2l3.1,-.2 .5,-2.6 -3.1,.2zM232.1,210l3.1,-.2 .5,-2.7 -3.1,.3zM235.2,209.8l3.1,-.3 .5,-2.8 -3.1,.4zM238.3,209.5l3.1,-.5 .5,-2.9 -3.1,.6zM241.4,209l3.1,-.6 .5,-3 -3.1,.7zM244.5,208.4l3.1,-.7 .5,-3.3 -3.1,1z"/>
<path fill="#6ccde4" d="M72.2,185.1l2.8,1.6 .6,-.6 -2.8,-1.6zM75,186.7l2.8,1.6 .6,-.6 -2.8,-1.6zM77.8,188.3l2.8,1.5 .6,-.7 -2.8,-1.4zM80.6,189.8l2.8,1.4 .6,-.7 -2.8,-1.4zM83.4,191.2l2.8,1.4 .6,-.7 -2.8,-1.4zM86.2,192.6l2.8,1.3 .6,-.8 -2.8,-1.2zM89,193.9l2.8,1.2 .6,-.7 -2.8,-1.3zM91.8,195.1l2.8,1.2 .6,-.8 -2.8,-1.1zM94.6,196.3l2.8,1.2 .6,-.9 -2.8,-1.1zM97.4,197.5l2.8,1 .6,-.8 -2.8,-1.1zM100.2,198.5l2.8,1.1 .6,-.9 -2.8,-1zM103,199.6l2.8,.9 .6,-.9 -2.8,-.9zM105.8,200.5l2.9,1 .5,-1 -2.8,-.9z"/>
<path fill="#71d6de" d="M108.7,201.5l2.8,.8 .6,-1 -2.9,-.8zM111.5,202.3l2.8,.9 .6,-1.1 -2.8,-.8zM114.3,203.2l2.8,.7 .6,-1 -2.8,-.8zM117.1,203.9l2.9,.8 .5,-1.1 -2.8,-.7zM120,204.7l2.8,.7 .6,-1.2 -2.9,-.6z"/>
<path fill="#76e0d7" d="M122.8,205.4l2.8,.6 .6,-1.1 -2.8,-.7zM125.6,206l2.9,.7 .5,-1.3 -2.8,-.5zM128.5,206.7l2.8,.6 .6,-1.3 -2.9,-.6zM131.3,207.3l2.9,.5 .5,-1.3 -2.8,-.5zM134.2,207.8l2.8,.5 .6,-1.3 -2.9,-.5zM137,208.3l2.9,.5 .5,-1.4 -2.8,-.4z"/>
<path fill="#7ce9d1" d="M139.9,208.8l2.8,.5 .6,-1.4 -2.9,-.5zM142.7,209.3l2.9,.4 .6,-1.5 -2.9,-.3zM145.6,209.7l2.9,.4 .5,-1.5 -2.8,-.4zM148.5,210.1l2.9,.3 .5,-1.5 -2.9,-.3zM151.4,210.4l2.9,.3 .5,-1.6 -2.9,-.2zM154.3,210.7l2.9,.3 .5,-1.6 -2.9,-.3zM157.2,211l2.9,.2 .5,-1.6 -2.9,-.2z"/>
<path fill="#81f3ca" d="M160.1,211.2l2.9,.3 .5,-1.7 -2.9,-.2zM163,211.5l2.9,.1 .5,-1.7 -2.9,-.1zM165.9,211.6l2.9,.2 .5,-1.8 -2.9,-.1zM168.8,211.8l2.9,.1 .5,-1.8 -2.9,-.1zM171.7,211.9l2.9,.2 .6,-1.9 -3,-.1zM174.6,212.1l3,0 .5,-1.9 -2.9,0zM177.6,212.1l2.9,.1 .5,-1.9 -2.9,-.1zM180.5,212.2l3,.1 .5,-2 -3,0z"/>
<path fill="#86fcc4" d="M183.5,212.3l2.9,.1 .5,-2.1 -2.9,0zM186.4,212.4l3,0 .5,-2.1 -3,0zM189.4,212.4l2.9,0 .6,-2.1 -3,0zM192.3,212.4l3,.1 .5,-2.2 -2.9,0zM195.3,212.5l3,0 .5,-2.2 -3,0zM198.3,212.5l3,0 .5,-2.2 -3,0zM201.3,212.5l3,.1 .5,-2.3 -3,0zM204.3,212.6l3,0 .5,-2.3 -3,0zM207.3,212.6l3,0 .5,-2.3 -3,0zM210.3,212.6l3,0 .5,-2.3 -3,0zM213.3,212.6l3.1,0 .5,-2.3 -3.1,0zM216.4,212.6l3,0 .5,-2.3 -3,0zM219.4,212.6l3,0 .5,-2.3 -3,0zM222.4,212.6l3.1,0 .5,-2.4 -3.1,.1zM225.5,212.6l3,0 .5,-2.4 -3,0zM228.5,212.6l3.1,-.1 .5,-2.5 -3.1,.2zM231.6,212.5l3.1,-.2 .5,-2.5 -3.1,.2zM234.7,212.3l3,-.2 .6,-2.6 -3.1,.3zM237.7,212.1l3.1,-.3 .6,-2.8 -3.1,.5zM240.8,211.8l3.1,-.5 .6,-2.9 -3.1,.6zM243.9,211.3l3.2,-.5 .5,-3.1 -3.1,.7z"/>
<path fill="#6ccde4" d="M71.5,185.7l2.8,1.6 .7,-.6 -2.8,-1.6zM74.3,187.3l2.8,1.6 .7,-.6 -2.8,-1.6zM77.1,188.9l2.9,1.5 .6,-.6 -2.8,-1.5zM80,190.4l2.8,1.5 .6,-.7 -2.8,-1.4zM82.8,191.9l2.8,1.4 .6,-.7 -2.8,-1.4zM85.6,193.3l2.8,1.3 .6,-.7 -2.8,-1.3zM88.4,194.6l2.8,1.3 .6,-.8 -2.8,-1.2zM91.2,195.9l2.8,1.2 .6,-.8 -2.8,-1.2zM94,197.1l2.8,1.2 .6,-.8 -2.8,-1.2zM96.8,198.3l2.8,1.1 .6,-.9 -2.8,-1zM99.6,199.4l2.8,1.1 .6,-.9 -2.8,-1.1zM102.4,200.5l2.9,1 .5,-1 -2.8,-.9zM105.3,201.5l2.8,.9 .6,-.9 -2.9,-1z"/>
<path fill="#71d6de" d="M108.1,202.4l2.8,.9 .6,-1 -2.8,-.8zM110.9,203.3l2.8,.9 .6,-1 -2.8,-.9zM113.7,204.2l2.9,.8 .5,-1.1 -2.8,-.7zM116.6,205l2.8,.8 .6,-1.1 -2.9,-.8zM119.4,205.8l2.8,.7 .6,-1.1 -2.8,-.7z"/>
<path fill="#76e0d7" d="M122.2,206.5l2.9,.7 .5,-1.2 -2.8,-.6zM125.1,207.2l2.8,.7 .6,-1.2 -2.9,-.7zM127.9,207.9l2.9,.6 .5,-1.2 -2.8,-.6zM130.8,208.5l2.8,.6 .6,-1.3 -2.9,-.5zM133.6,209.1l2.9,.5 .5,-1.3 -2.8,-.5zM136.5,209.6l2.8,.6 .6,-1.4 -2.9,-.5z"/>
<path fill="#7ce9d1" d="M139.3,210.2l2.9,.5 .5,-1.4 -2.8,-.5zM142.2,210.7l2.9,.4 .5,-1.4 -2.9,-.4zM145.1,211.1l2.9,.4 .5,-1.4 -2.9,-.4zM148,211.5l2.8,.4 .6,-1.5 -2.9,-.3zM150.8,211.9l2.9,.4 .6,-1.6 -2.9,-.3zM153.7,212.3l2.9,.3 .6,-1.6 -2.9,-.3zM156.6,212.6l2.9,.3 .6,-1.7 -2.9,-.2z"/>
<path fill="#81f3ca" d="M159.5,212.9l2.9,.2 .6,-1.6 -2.9,-.3zM162.4,213.1l2.9,.3 .6,-1.8 -2.9,-.1zM165.3,213.4l3,.2 .5,-1.8 -2.9,-.2zM168.3,213.6l2.9,.1 .5,-1.8 -2.9,-.1zM171.2,213.7l2.9,.2 .5,-1.8 -2.9,-.2zM174.1,213.9l2.9,.1 .6,-1.9 -3,0zM177,214l3,.2 .5,-2 -2.9,-.1zM180,214.2l2.9,.1 .6,-2 -3,-.1zM182.9,214.3l3,0 .5,-1.9 -2.9,-.1zM185.9,214.3l3,.1 .5,-2 -3,0z"/>
<path fill="#86fcc4" d="M188.9,214.4l2.9,.1 .5,-2.1 -2.9,0zM191.8,214.5l3,.1 .5,-2.1 -3,-.1zM194.8,214.6l3,0 .5,-2.1 -3,0zM197.8,214.6l3,.1 .5,-2.2 -3,0zM200.8,214.7l3,0 .5,-2.1 -3,-.1zM203.8,214.7l3,.1 .5,-2.2 -3,0zM206.8,214.8l3,0 .5,-2.2 -3,0zM209.8,214.8l3,0 .5,-2.2 -3,0zM212.8,214.8l3,.1 .6,-2.3 -3.1,0zM215.8,214.9l3.1,0 .5,-2.3 -3,0zM218.9,214.9l3,0 .5,-2.3 -3,0zM221.9,214.9l3.1,0 .5,-2.3 -3.1,0zM225,214.9l3,0 .5,-2.3 -3,0zM228,214.9l3.1,0 .5,-2.4 -3.1,.1zM231.1,214.9l3,-.1 .6,-2.5 -3.1,.2zM234.1,214.8l3.1,-.2 .5,-2.5 -3,.2zM237.2,214.6l3.1,-.2 .5,-2.6 -3.1,.3zM240.3,214.4l3.1,-.3 .5,-2.8 -3.1,.5zM243.4,214.1l3.1,-.3 .6,-3 -3.2,.5z"/>
<path fill="#6ccde4" d="M70.9,186.2l2.8,1.7 .6,-.6 -2.8,-1.6zM73.7,187.9l2.8,1.6 .6,-.6 -2.8,-1.6zM76.5,189.5l2.8,1.5 .7,-.6 -2.9,-1.5zM79.3,191l2.8,1.5 .7,-.6 -2.8,-1.5zM82.1,192.5l2.9,1.5 .6,-.7 -2.8,-1.4zM85,194l2.8,1.3 .6,-.7 -2.8,-1.3zM87.8,195.3l2.8,1.4 .6,-.8 -2.8,-1.3zM90.6,196.7l2.8,1.2 .6,-.8 -2.8,-1.2zM93.4,197.9l2.8,1.2 .6,-.8 -2.8,-1.2zM96.2,199.1l2.8,1.2 .6,-.9 -2.8,-1.1zM99,200.3l2.8,1.1 .6,-.9 -2.8,-1.1zM101.8,201.4l2.9,1 .6,-.9 -2.9,-1zM104.7,202.4l2.8,1 .6,-1 -2.8,-.9z"/>
<path fill="#71d6de" d="M107.5,203.4l2.8,.9 .6,-1 -2.8,-.9zM110.3,204.3l2.8,.9 .6,-1 -2.8,-.9zM113.1,205.2l2.9,.9 .6,-1.1 -2.9,-.8zM116,206.1l2.8,.8 .6,-1.1 -2.8,-.8zM118.8,206.9l2.9,.8 .5,-1.2 -2.8,-.7z"/>
<path fill="#76e0d7" d="M121.7,207.7l2.8,.7 .6,-1.2 -2.9,-.7zM124.5,208.4l2.9,.7 .5,-1.2 -2.8,-.7zM127.4,209.1l2.8,.6 .6,-1.2 -2.9,-.6zM130.2,209.7l2.9,.7 .5,-1.3 -2.8,-.6zM133.1,210.4l2.8,.6 .6,-1.4 -2.9,-.5zM135.9,211l2.9,.5 .5,-1.3 -2.8,-.6zM138.8,211.5l2.9,.5 .5,-1.3 -2.9,-.5z"/>
<path fill="#7ce9d1" d="M141.7,212l2.8,.5 .6,-1.4 -2.9,-.4zM144.5,212.5l2.9,.5 .6,-1.5 -2.9,-.4zM147.4,213l2.9,.4 .5,-1.5 -2.8,-.4zM150.3,213.4l2.9,.4 .5,-1.5 -2.9,-.4zM153.2,213.8l2.9,.4 .5,-1.6 -2.9,-.3zM156.1,214.2l2.9,.3 .5,-1.6 -2.9,-.3zM159,214.5l2.9,.3 .5,-1.7 -2.9,-.2z"/>
<path fill="#81f3ca" d="M161.9,214.8l2.9,.2 .5,-1.6 -2.9,-.3zM164.8,215l2.9,.3 .6,-1.7 -3,-.2zM167.7,215.3l3,.2 .5,-1.8 -2.9,-.1zM170.7,215.5l2.9,.2 .5,-1.8 -2.9,-.2zM173.6,215.7l2.9,.2 .5,-1.9 -2.9,-.1zM176.5,215.9l3,.1 .5,-1.8 -3,-.2zM179.5,216l2.9,.2 .5,-1.9 -2.9,-.1zM182.4,216.2l3,.1 .5,-2 -3,0zM185.4,216.3l2.9,.1 .6,-2 -3,-.1zM188.3,216.4l3,.1 .5,-2 -2.9,-.1zM191.3,216.5l3,.1 .5,-2 -3,-.1zM194.3,216.6l3,.1 .5,-2.1 -3,0z"/>
<path fill="#86fcc4" d="M197.3,216.7l3,0 .5,-2 -3,-.1zM200.3,216.7l3,.1 .5,-2.1 -3,0zM203.3,216.8l3,.1 .5,-2.1 -3,-.1zM206.3,216.9l3,0 .5,-2.1 -3,0zM209.3,216.9l3,.1 .5,-2.2 -3,0zM212.3,217l3,0 .5,-2.1 -3,-.1zM215.3,217l3.1,.1 .5,-2.2 -3.1,0zM218.4,217.1l3,0 .5,-2.2 -3,0zM221.4,217.1l3.1,0 .5,-2.2 -3.1,0zM224.5,217.1l3,0 .5,-2.2 -3,0zM227.5,217.1l3.1,0 .5,-2.2 -3.1,0zM230.6,217.1l3,0 .5,-2.3 -3,.1zM233.6,217.1l3.1,-.1 .5,-2.4 -3.1,.2zM236.7,217l3.1,-.1 .5,-2.5 -3.1,.2zM239.8,216.9l3.1,-.1 .5,-2.7 -3.1,.3zM242.9,216.8l3.1,-.2 .5,-2.8 -3.1,.3z"/>
<path fill="#6ccde4" d="M70.3,186.8l2.8,1.7 .6,-.6 -2.8,-1.7zM73.1,188.5l2.8,1.6 .6,-.6 -2.8,-1.6zM75.9,190.1l2.8,1.6 .6,-.7 -2.8,-1.5zM78.7,191.7l2.8,1.5 .6,-.7 -2.8,-1.5zM81.5,193.2l2.8,1.5 .7,-.7 -2.9,-1.5zM84.3,194.7l2.9,1.4 .6,-.8 -2.8,-1.3zM87.2,196.1l2.8,1.3 .6,-.7 -2.8,-1.4zM90,197.4l2.8,1.3 .6,-.8 -2.8,-1.2zM92.8,198.7l2.8,1.3 .6,-.9 -2.8,-1.2zM95.6,200l2.8,1.1 .6,-.8 -2.8,-1.2zM98.4,201.1l2.9,1.2 .5,-.9 -2.8,-1.1zM101.3,202.3l2.8,1 .6,-.9 -2.9,-1zM104.1,203.3l2.8,1.1 .6,-1 -2.8,-1z"/>
<path fill="#71d6de" d="M106.9,204.4l2.8,.9 .6,-1 -2.8,-.9zM109.7,205.3l2.9,1 .5,-1.1 -2.8,-.9zM112.6,206.3l2.8,.9 .6,-1.1 -2.9,-.9zM115.4,207.2l2.8,.8 .6,-1.1 -2.8,-.8zM118.2,208l2.9,.8 .6,-1.1 -2.9,-.8z"/>
<path fill="#76e0d7" d="M121.1,208.8l2.8,.8 .6,-1.2 -2.8,-.7zM123.9,209.6l2.9,.7 .6,-1.2 -2.9,-.7zM126.8,210.3l2.8,.7 .6,-1.3 -2.8,-.6zM129.6,211l2.9,.6 .6,-1.2 -2.9,-.7zM132.5,211.6l2.9,.7 .5,-1.3 -2.8,-.6zM135.4,212.3l2.8,.6 .6,-1.4 -2.9,-.5zM138.2,212.9l2.9,.5 .6,-1.4 -2.9,-.5z"/>
<path fill="#7ce9d1" d="M141.1,213.4l2.9,.5 .5,-1.4 -2.8,-.5zM144,213.9l2.9,.5 .5,-1.4 -2.9,-.5zM146.9,214.4l2.9,.5 .5,-1.5 -2.9,-.4zM149.8,214.9l2.8,.4 .6,-1.5 -2.9,-.4zM152.6,215.3l2.9,.4 .6,-1.5 -2.9,-.4zM155.5,215.7l2.9,.4 .6,-1.6 -2.9,-.3zM158.4,216.1l3,.3 .5,-1.6 -2.9,-.3zM161.4,216.4l2.9,.3 .5,-1.7 -2.9,-.2z"/>
<path fill="#81f3ca" d="M164.3,216.7l2.9,.3 .5,-1.7 -2.9,-.3zM167.2,217l2.9,.2 .6,-1.7 -3,-.2zM170.1,217.2l3,.3 .5,-1.8 -2.9,-.2zM173.1,217.5l2.9,.2 .5,-1.8 -2.9,-.2zM176,217.7l2.9,.1 .6,-1.8 -3,-.1zM178.9,217.8l3,.2 .5,-1.8 -2.9,-.2zM181.9,218l3,.2 .5,-1.9 -3,-.1zM184.9,218.2l2.9,.1 .5,-1.9 -2.9,-.1zM187.8,218.3l3,.1 .5,-1.9 -3,-.1zM190.8,218.4l3,.1 .5,-1.9 -3,-.1zM193.8,218.5l3,.1 .5,-1.9 -3,-.1zM196.8,218.6l3,.1 .5,-2 -3,0zM199.8,218.7l3,.1 .5,-2 -3,-.1zM202.8,218.8l3,.1 .5,-2 -3,-.1zM205.8,218.9l3,.1 .5,-2.1 -3,0zM208.8,219l3,0 .5,-2 -3,-.1z"/>
<path fill="#86fcc4" d="M211.8,219l3,.1 .5,-2.1 -3,0zM214.8,219.1l3.1,0 .5,-2 -3.1,-.1zM217.9,219.1l3,.1 .5,-2.1 -3,0zM220.9,219.2l3,0 .6,-2.1 -3.1,0zM223.9,219.2l3.1,.1 .5,-2.2 -3,0zM227,219.3l3.1,0 .5,-2.2 -3.1,0zM230.1,219.3l3,0 .5,-2.2 -3,0zM233.1,219.3l3.1,0 .5,-2.3 -3.1,.1zM236.2,219.3l3.1,0 .5,-2.4 -3.1,.1zM239.3,219.3l3.1,0 .5,-2.5 -3.1,.1zM242.4,219.3l3.1,0 .5,-2.7 -3.1,.2z"/>
<path fill="#6ccde4" d="M69.6,187.3l2.8,1.7 .7,-.5 -2.8,-1.7zM72.4,189l2.9,1.7 .6,-.6 -2.8,-1.6zM75.3,190.7l2.8,1.6 .6,-.6 -2.8,-1.6zM78.1,192.3l2.8,1.6 .6,-.7 -2.8,-1.5zM80.9,193.9l2.8,1.5 .6,-.7 -2.8,-1.5zM83.7,195.4l2.8,1.4 .7,-.7 -2.9,-1.4zM86.5,196.8l2.9,1.4 .6,-.8 -2.8,-1.3zM89.4,198.2l2.8,1.3 .6,-.8 -2.8,-1.3zM92.2,199.5l2.8,1.3 .6,-.8 -2.8,-1.3zM95,200.8l2.8,1.2 .6,-.9 -2.8,-1.1zM97.8,202l2.9,1.2 .6,-.9 -2.9,-1.2zM100.7,203.2l2.8,1.1 .6,-1 -2.8,-1zM103.5,204.3l2.8,1 .6,-.9 -2.8,-1.1z"/>
<path fill="#71d6de" d="M106.3,205.3l2.9,1.1 .5,-1.1 -2.8,-.9zM109.2,206.4l2.8,.9 .6,-1 -2.9,-1zM112,207.3l2.8,.9 .6,-1 -2.8,-.9zM114.8,208.2l2.9,.9 .5,-1.1 -2.8,-.8zM117.7,209.1l2.8,.8 .6,-1.1 -2.9,-.8zM120.5,209.9l2.9,.8 .5,-1.1 -2.8,-.8z"/>
<path fill="#76e0d7" d="M123.4,210.7l2.8,.8 .6,-1.2 -2.9,-.7zM126.2,211.5l2.9,.7 .5,-1.2 -2.8,-.7zM129.1,212.2l2.8,.7 .6,-1.3 -2.9,-.6zM131.9,212.9l2.9,.7 .6,-1.3 -2.9,-.7zM134.8,213.6l2.9,.6 .5,-1.3 -2.8,-.6zM137.7,214.2l2.9,.6 .5,-1.4 -2.9,-.5z"/>
<path fill="#7ce9d1" d="M140.6,214.8l2.8,.5 .6,-1.4 -2.9,-.5zM143.4,215.3l2.9,.5 .6,-1.4 -2.9,-.5zM146.3,215.8l2.9,.5 .6,-1.4 -2.9,-.5zM149.2,216.3l2.9,.5 .5,-1.5 -2.8,-.4zM152.1,216.8l2.9,.4 .5,-1.5 -2.9,-.4zM155,217.2l2.9,.4 .5,-1.5 -2.9,-.4zM157.9,217.6l2.9,.4 .6,-1.6 -3,-.3zM160.8,218l2.9,.3 .6,-1.6 -2.9,-.3zM163.7,218.3l3,.3 .5,-1.6 -2.9,-.3z"/>
<path fill="#81f3ca" d="M166.7,218.6l2.9,.3 .5,-1.7 -2.9,-.2zM169.6,218.9l2.9,.3 .6,-1.7 -3,-.3zM172.5,219.2l3,.2 .5,-1.7 -2.9,-.2zM175.5,219.4l2.9,.2 .5,-1.8 -2.9,-.1zM178.4,219.6l3,.2 .5,-1.8 -3,-.2zM181.4,219.8l2.9,.2 .6,-1.8 -3,-.2zM184.3,220l3,.2 .5,-1.9 -2.9,-.1zM187.3,220.2l3,.1 .5,-1.9 -3,-.1zM190.3,220.3l3,.1 .5,-1.9 -3,-.1zM193.3,220.4l2.9,.1 .6,-1.9 -3,-.1zM196.2,220.5l3,.1 .6,-1.9 -3,-.1zM199.2,220.6l3,.1 .6,-1.9 -3,-.1zM202.2,220.7l3,.1 .6,-1.9 -3,-.1zM205.2,220.8l3.1,.1 .5,-1.9 -3,-.1zM208.3,220.9l3,.1 .5,-2 -3,0zM211.3,221l3,.1 .5,-2 -3,-.1zM214.3,221.1l3.1,0 .5,-2 -3.1,0zM217.4,221.1l3,.1 .5,-2 -3,-.1zM220.4,221.2l3,0 .5,-2 -3,0zM223.4,221.2l3.1,.1 .5,-2 -3.1,-.1zM226.5,221.3l3.1,.1 .5,-2.1 -3.1,0z"/>
<path fill="#86fcc4" d="M229.6,221.4l3,0 .5,-2.1 -3,0zM232.6,221.4l3.1,.1 .5,-2.2 -3.1,0zM235.7,221.5l3.1,.1 .5,-2.3 -3.1,0zM238.8,221.6l3.1,.1 .5,-2.4 -3.1,0zM241.9,221.7l3.1,.1 .5,-2.5 -3.1,0z"/>
<path fill="#6ccde4" d="M69,187.9l2.8,1.7 .6,-.6 -2.8,-1.7zM71.8,189.6l2.8,1.7 .7,-.6 -2.9,-1.7zM74.6,191.3l2.9,1.7 .6,-.7 -2.8,-1.6zM77.5,193l2.8,1.5 .6,-.6 -2.8,-1.6zM80.3,194.5l2.8,1.6 .6,-.7 -2.8,-1.5zM83.1,196.1l2.8,1.5 .6,-.8 -2.8,-1.4zM85.9,197.6l2.9,1.4 .6,-.8 -2.9,-1.4zM88.8,199l2.8,1.3 .6,-.8 -2.8,-1.3zM91.6,200.3l2.8,1.3 .6,-.8 -2.8,-1.3zM94.4,201.6l2.8,1.3 .6,-.9 -2.8,-1.2zM97.2,202.9l2.9,1.2 .6,-.9 -2.9,-1.2zM100.1,204.1l2.8,1.1 .6,-.9 -2.8,-1.1zM102.9,205.2l2.8,1.1 .6,-1 -2.8,-1z"/>
<path fill="#71d6de" d="M105.7,206.3l2.9,1.1 .6,-1 -2.9,-1.1zM108.6,207.4l2.8,1 .6,-1.1 -2.8,-.9zM111.4,208.4l2.9,.9 .5,-1.1 -2.8,-.9zM114.3,209.3l2.8,.9 .6,-1.1 -2.9,-.9zM117.1,210.2l2.9,.9 .5,-1.2 -2.8,-.8zM120,211.1l2.8,.8 .6,-1.2 -2.9,-.8z"/>
<path fill="#76e0d7" d="M122.8,211.9l2.9,.8 .5,-1.2 -2.8,-.8zM125.7,212.7l2.8,.8 .6,-1.3 -2.9,-.7zM128.5,213.5l2.9,.7 .5,-1.3 -2.8,-.7zM131.4,214.2l2.9,.7 .5,-1.3 -2.9,-.7zM134.3,214.9l2.8,.6 .6,-1.3 -2.9,-.6zM137.1,215.5l2.9,.6 .6,-1.3 -2.9,-.6zM140,216.1l2.9,.6 .5,-1.4 -2.8,-.5z"/>
<path fill="#7ce9d1" d="M142.9,216.7l2.9,.6 .5,-1.5 -2.9,-.5zM145.8,217.3l2.9,.5 .5,-1.5 -2.9,-.5zM148.7,217.8l2.9,.5 .5,-1.5 -2.9,-.5zM151.6,218.3l2.9,.4 .5,-1.5 -2.9,-.4zM154.5,218.7l2.9,.4 .5,-1.5 -2.9,-.4zM157.4,219.1l2.9,.4 .5,-1.5 -2.9,-.4zM160.3,219.5l2.9,.4 .5,-1.6 -2.9,-.3zM163.2,219.9l2.9,.3 .6,-1.6 -3,-.3zM166.1,220.2l3,.3 .5,-1.6 -2.9,-.3zM169.1,220.5l2.9,.3 .5,-1.6 -2.9,-.3z"/>
<path fill="#81f3ca" d="M172,220.8l2.9,.3 .6,-1.7 -3,-.2zM174.9,221.1l3,.2 .5,-1.7 -2.9,-.2zM177.9,221.3l3,.3 .5,-1.8 -3,-.2zM180.9,221.6l2.9,.2 .5,-1.8 -2.9,-.2zM183.8,221.8l3,.1 .5,-1.7 -3,-.2zM186.8,221.9l3,.2 .5,-1.8 -3,-.1zM189.8,222.1l2.9,.1 .6,-1.8 -3,-.1zM192.7,222.2l3,.2 .5,-1.9 -2.9,-.1zM195.7,222.4l3,.1 .5,-1.9 -3,-.1zM198.7,222.5l3,.1 .5,-1.9 -3,-.1zM201.7,222.6l3,.1 .5,-1.9 -3,-.1zM204.7,222.7l3.1,.1 .5,-1.9 -3.1,-.1zM207.8,222.8l3,.1 .5,-1.9 -3,-.1zM210.8,222.9l3,0 .5,-1.8 -3,-.1zM213.8,222.9l3,.1 .6,-1.9 -3.1,0zM216.8,223l3.1,.1 .5,-1.9 -3,-.1zM219.9,223.1l3,.1 .5,-2 -3,0zM222.9,223.2l3.1,0 .5,-1.9 -3.1,-.1zM226,223.2l3.1,.1 .5,-1.9 -3.1,-.1zM229.1,223.3l3,.1 .5,-2 -3,0zM232.1,223.4l3.1,.2 .5,-2.1 -3.1,-.1z"/>
<path fill="#86fcc4" d="M235.2,223.6l3.1,.1 .5,-2.1 -3.1,-.1zM238.3,223.7l3.1,.2 .5,-2.2 -3.1,-.1zM241.4,223.9l3.1,.2 .5,-2.3 -3.1,-.1z"/>
<path fill="#6ccde4" d="M68.3,188.4l2.9,1.8 .6,-.6 -2.8,-1.7zM71.2,190.2l2.8,1.7 .6,-.6 -2.8,-1.7zM74,191.9l2.8,1.7 .7,-.6 -2.9,-1.7zM76.8,193.6l2.9,1.6 .6,-.7 -2.8,-1.5zM79.7,195.2l2.8,1.6 .6,-.7 -2.8,-1.6zM82.5,196.8l2.8,1.5 .6,-.7 -2.8,-1.5zM85.3,198.3l2.8,1.4 .7,-.7 -2.9,-1.4zM88.1,199.7l2.9,1.5 .6,-.9 -2.8,-1.3zM91,201.2l2.8,1.3 .6,-.9 -2.8,-1.3zM93.8,202.5l2.8,1.3 .6,-.9 -2.8,-1.3zM96.6,203.8l2.9,1.2 .6,-.9 -2.9,-1.2zM99.5,205l2.8,1.2 .6,-1 -2.8,-1.1zM102.3,206.2l2.9,1.1 .5,-1 -2.8,-1.1z"/>
<path fill="#71d6de" d="M105.2,207.3l2.8,1.1 .6,-1 -2.9,-1.1zM108,208.4l2.8,1 .6,-1 -2.8,-1zM110.8,209.4l2.9,1 .6,-1.1 -2.9,-.9zM113.7,210.4l2.8,.9 .6,-1.1 -2.8,-.9zM116.5,211.3l2.9,.9 .6,-1.1 -2.9,-.9zM119.4,212.2l2.8,.9 .6,-1.2 -2.8,-.8z"/>
<path fill="#76e0d7" d="M122.2,213.1l2.9,.8 .6,-1.2 -2.9,-.8zM125.1,213.9l2.9,.8 .5,-1.2 -2.8,-.8zM128,214.7l2.8,.7 .6,-1.2 -2.9,-.7zM130.8,215.4l2.9,.7 .6,-1.2 -2.9,-.7zM133.7,216.1l2.9,.7 .5,-1.3 -2.8,-.6zM136.6,216.8l2.9,.7 .5,-1.4 -2.9,-.6zM139.5,217.5l2.8,.6 .6,-1.4 -2.9,-.6zM142.3,218.1l2.9,.5 .6,-1.3 -2.9,-.6z"/>
<path fill="#7ce9d1" d="M145.2,218.6l2.9,.6 .6,-1.4 -2.9,-.5zM148.1,219.2l2.9,.5 .6,-1.4 -2.9,-.5zM151,219.7l2.9,.5 .6,-1.5 -2.9,-.4zM153.9,220.2l2.9,.4 .6,-1.5 -2.9,-.4zM156.8,220.6l3,.4 .5,-1.5 -2.9,-.4zM159.8,221l2.9,.4 .5,-1.5 -2.9,-.4zM162.7,221.4l2.9,.4 .5,-1.6 -2.9,-.3zM165.6,221.8l2.9,.3 .6,-1.6 -3,-.3zM168.5,222.1l3,.3 .5,-1.6 -2.9,-.3zM171.5,222.4l2.9,.3 .5,-1.6 -2.9,-.3zM174.4,222.7l3,.3 .5,-1.7 -3,-.2z"/>
<path fill="#81f3ca" d="M177.4,223l2.9,.2 .6,-1.6 -3,-.3zM180.3,223.2l3,.2 .5,-1.6 -2.9,-.2zM183.3,223.4l3,.2 .5,-1.7 -3,-.1zM186.3,223.6l2.9,.2 .6,-1.7 -3,-.2zM189.2,223.8l3,.2 .5,-1.8 -2.9,-.1zM192.2,224l3,.1 .5,-1.7 -3,-.2zM195.2,224.1l3,.2 .5,-1.8 -3,-.1zM198.2,224.3l3,.1 .5,-1.8 -3,-.1zM201.2,224.4l3,.1 .5,-1.8 -3,-.1zM204.2,224.5l3,.1 .6,-1.8 -3.1,-.1zM207.2,224.6l3.1,.1 .5,-1.8 -3,-.1zM210.3,224.7l3,0 .5,-1.8 -3,0zM213.3,224.7l3,.1 .5,-1.8 -3,-.1zM216.3,224.8l3.1,.1 .5,-1.8 -3.1,-.1zM219.4,224.9l3,.1 .5,-1.8 -3,-.1zM222.4,225l3.1,.1 .5,-1.9 -3.1,0zM225.5,225.1l3.1,.1 .5,-1.9 -3.1,-.1zM228.6,225.2l3,.1 .5,-1.9 -3,-.1zM231.6,225.3l3.1,.2 .5,-1.9 -3.1,-.2zM234.7,225.5l3.1,.2 .5,-2 -3.1,-.1zM237.8,225.7l3.1,.3 .5,-2.1 -3.1,-.2z"/>
<path fill="#86fcc4" d="M240.9,226l3.1,.3 .5,-2.2 -3.1,-.2z"/>
<path fill="#6ccde4" d="M67.7,189l2.8,1.8 .7,-.6 -2.9,-1.8zM70.5,190.8l2.9,1.7 .6,-.6 -2.8,-1.7zM73.4,192.5l2.8,1.7 .6,-.6 -2.8,-1.7zM76.2,194.2l2.8,1.7 .7,-.7 -2.9,-1.6zM79,195.9l2.9,1.6 .6,-.7 -2.8,-1.6zM81.9,197.5l2.8,1.5 .6,-.7 -2.8,-1.5zM84.7,199l2.8,1.5 .6,-.8 -2.8,-1.4zM87.5,200.5l2.9,1.5 .6,-.8 -2.9,-1.5zM90.4,202l2.8,1.3 .6,-.8 -2.8,-1.3zM93.2,203.3l2.8,1.4 .6,-.9 -2.8,-1.3zM96,204.7l2.9,1.2 .6,-.9 -2.9,-1.2zM98.9,205.9l2.8,1.2 .6,-.9 -2.8,-1.2zM101.7,207.1l2.9,1.2 .6,-1 -2.9,-1.1z"/>
<path fill="#71d6de" d="M104.6,208.3l2.8,1.1 .6,-1 -2.8,-1.1zM107.4,209.4l2.9,1 .5,-1 -2.8,-1zM110.3,210.4l2.8,1.1 .6,-1.1 -2.9,-1zM113.1,211.5l2.9,.9 .5,-1.1 -2.8,-.9zM116,212.4l2.8,.9 .6,-1.1 -2.9,-.9zM118.8,213.3l2.9,.9 .5,-1.1 -2.8,-.9z"/>
<path fill="#76e0d7" d="M121.7,214.2l2.8,.9 .6,-1.2 -2.9,-.8zM124.5,215.1l2.9,.8 .6,-1.2 -2.9,-.8zM127.4,215.9l2.9,.8 .5,-1.3 -2.8,-.7zM130.3,216.7l2.8,.7 .6,-1.3 -2.9,-.7zM133.1,217.4l2.9,.7 .6,-1.3 -2.9,-.7zM136,218.1l2.9,.7 .6,-1.3 -2.9,-.7zM138.9,218.8l2.9,.6 .5,-1.3 -2.8,-.6zM141.8,219.4l2.9,.6 .5,-1.4 -2.9,-.5zM144.7,220l2.9,.6 .5,-1.4 -2.9,-.6z"/>
<path fill="#7ce9d1" d="M147.6,220.6l2.9,.5 .5,-1.4 -2.9,-.5zM150.5,221.1l2.9,.5 .5,-1.4 -2.9,-.5zM153.4,221.6l2.9,.5 .5,-1.5 -2.9,-.4zM156.3,222.1l2.9,.4 .6,-1.5 -3,-.4zM159.2,222.5l2.9,.4 .6,-1.5 -2.9,-.4zM162.1,222.9l3,.4 .5,-1.5 -2.9,-.4zM165.1,223.3l2.9,.4 .5,-1.6 -2.9,-.3zM168,223.7l2.9,.3 .6,-1.6 -3,-.3zM170.9,224l3,.3 .5,-1.6 -2.9,-.3zM173.9,224.3l2.9,.3 .6,-1.6 -3,-.3zM176.8,224.6l3,.2 .5,-1.6 -2.9,-.2zM179.8,224.8l3,.3 .5,-1.7 -3,-.2zM182.8,225.1l2.9,.2 .6,-1.7 -3,-.2zM185.7,225.3l3,.2 .5,-1.7 -2.9,-.2zM188.7,225.5l3,.1 .5,-1.6 -3,-.2zM191.7,225.6l3,.2 .5,-1.7 -3,-.1zM194.7,225.8l3,.1 .5,-1.6 -3,-.2z"/>
<path fill="#81f3ca" d="M197.7,225.9l3,.2 .5,-1.7 -3,-.1zM200.7,226.1l3,.1 .5,-1.7 -3,-.1zM203.7,226.2l3,.1 .5,-1.7 -3,-.1zM206.7,226.3l3.1,.1 .5,-1.7 -3.1,-.1zM209.8,226.4l3,.1 .5,-1.8 -3,0zM212.8,226.5l3,0 .5,-1.7 -3,-.1zM215.8,226.5l3.1,.1 .5,-1.7 -3.1,-.1zM218.9,226.6l3,.1 .5,-1.7 -3,-.1zM221.9,226.7l3.1,.1 .5,-1.7 -3.1,-.1zM225,226.8l3.1,.1 .5,-1.7 -3.1,-.1zM228.1,226.9l3.1,.2 .4,-1.8 -3,-.1zM231.2,227.1l3,.2 .5,-1.8 -3.1,-.2zM234.2,227.3l3.1,.3 .5,-1.9 -3.1,-.2zM237.3,227.6l3.1,.3 .5,-1.9 -3.1,-.3zM240.4,227.9l3.1,.4 .5,-2 -3.1,-.3z"/>
<path fill="#6ccde4" d="M67.1,189.5l2.8,1.8 .6,-.5 -2.8,-1.8zM69.9,191.3l2.8,1.8 .7,-.6 -2.9,-1.7zM72.7,193.1l2.9,1.8 .6,-.7 -2.8,-1.7zM75.6,194.9l2.8,1.7 .6,-.7 -2.8,-1.7zM78.4,196.6l2.8,1.6 .7,-.7 -2.9,-1.6zM81.2,198.2l2.9,1.6 .6,-.8 -2.8,-1.5zM84.1,199.8l2.8,1.5 .6,-.8 -2.8,-1.5zM86.9,201.3l2.9,1.5 .6,-.8 -2.9,-1.5zM89.8,202.8l2.8,1.4 .6,-.9 -2.8,-1.3zM92.6,204.2l2.8,1.3 .6,-.8 -2.8,-1.4zM95.4,205.5l2.9,1.3 .6,-.9 -2.9,-1.2zM98.3,206.8l2.8,1.3 .6,-1 -2.8,-1.2zM101.1,208.1l2.9,1.2 .6,-1 -2.9,-1.2z"/>
<path fill="#71d6de" d="M104,209.3l2.8,1.1 .6,-1 -2.8,-1.1zM106.8,210.4l2.9,1.1 .6,-1.1 -2.9,-1zM109.7,211.5l2.8,1 .6,-1 -2.8,-1.1zM112.5,212.5l2.9,1 .6,-1.1 -2.9,-.9zM115.4,213.5l2.8,1 .6,-1.2 -2.8,-.9zM118.2,214.5l2.9,.9 .6,-1.2 -2.9,-.9zM121.1,215.4l2.9,.9 .5,-1.2 -2.8,-.9z"/>
<path fill="#76e0d7" d="M124,216.3l2.8,.8 .6,-1.2 -2.9,-.8zM126.8,217.1l2.9,.8 .6,-1.2 -2.9,-.8zM129.7,217.9l2.9,.8 .5,-1.3 -2.8,-.7zM132.6,218.7l2.9,.7 .5,-1.3 -2.9,-.7zM135.5,219.4l2.8,.7 .6,-1.3 -2.9,-.7zM138.3,220.1l2.9,.6 .6,-1.3 -2.9,-.6zM141.2,220.7l2.9,.6 .6,-1.3 -2.9,-.6zM144.1,221.3l2.9,.6 .6,-1.3 -2.9,-.6zM147,221.9l2.9,.6 .6,-1.4 -2.9,-.5zM149.9,222.5l2.9,.5 .6,-1.4 -2.9,-.5z"/>
<path fill="#7ce9d1" d="M152.8,223l3,.5 .5,-1.4 -2.9,-.5zM155.8,223.5l2.9,.5 .5,-1.5 -2.9,-.4zM158.7,224l2.9,.4 .5,-1.5 -2.9,-.4zM161.6,224.4l2.9,.4 .6,-1.5 -3,-.4zM164.5,224.8l3,.4 .5,-1.5 -2.9,-.4zM167.5,225.2l2.9,.3 .5,-1.5 -2.9,-.3zM170.4,225.5l3,.3 .5,-1.5 -3,-.3zM173.4,225.8l2.9,.3 .5,-1.5 -2.9,-.3zM176.3,226.1l3,.3 .5,-1.6 -3,-.2zM179.3,226.4l3,.2 .5,-1.5 -3,-.3zM182.3,226.6l2.9,.3 .5,-1.6 -2.9,-.2zM185.2,226.9l3,.2 .5,-1.6 -3,-.2zM188.2,227.1l3,.1 .5,-1.6 -3,-.1zM191.2,227.2l3,.2 .5,-1.6 -3,-.2zM194.2,227.4l3,.1 .5,-1.6 -3,-.1zM197.2,227.5l3,.2 .5,-1.6 -3,-.2zM200.2,227.7l3,.1 .5,-1.6 -3,-.1zM203.2,227.8l3,.1 .5,-1.6 -3,-.1zM206.2,227.9l3.1,.1 .5,-1.6 -3.1,-.1zM209.3,228l3,.1 .5,-1.6 -3,-.1zM212.3,228.1l3,.1 .5,-1.7 -3,0zM215.3,228.2l3.1,0 .5,-1.6 -3.1,-.1zM218.4,228.2l3.1,.1 .4,-1.6 -3,-.1zM221.5,228.3l3,.1 .5,-1.6 -3.1,-.1zM224.5,228.4l3.1,.2 .5,-1.7 -3.1,-.1zM227.6,228.6l3.1,.2 .5,-1.7 -3.1,-.2zM230.7,228.8l3,.2 .5,-1.7 -3,-.2zM233.7,229l3.1,.3 .5,-1.7 -3.1,-.3z"/>
<path fill="#81f3ca" d="M236.8,229.3l3.1,.3 .5,-1.7 -3.1,-.3zM239.9,229.6l3.1,.5 .5,-1.8 -3.1,-.4z"/>
<path fill="#6ccde4" d="M66.4,190l2.9,1.9 .6,-.6 -2.8,-1.8zM69.3,191.9l2.8,1.8 .6,-.6 -2.8,-1.8zM72.1,193.7l2.8,1.8 .7,-.6 -2.9,-1.8zM74.9,195.5l2.9,1.7 .6,-.6 -2.8,-1.7zM77.8,197.2l2.8,1.7 .6,-.7 -2.8,-1.6zM80.6,198.9l2.9,1.6 .6,-.7 -2.9,-1.6zM83.5,200.5l2.8,1.6 .6,-.8 -2.8,-1.5zM86.3,202.1l2.9,1.5 .6,-.8 -2.9,-1.5zM89.2,203.6l2.8,1.4 .6,-.8 -2.8,-1.4zM92,205l2.8,1.4 .6,-.9 -2.8,-1.3zM94.8,206.4l2.9,1.3 .6,-.9 -2.9,-1.3zM97.7,207.7l2.8,1.3 .6,-.9 -2.8,-1.3zM100.5,209l2.9,1.2 .6,-.9 -2.9,-1.2z"/>
<path fill="#71d6de" d="M103.4,210.2l2.8,1.2 .6,-1 -2.8,-1.1zM106.2,211.4l2.9,1.1 .6,-1 -2.9,-1.1zM109.1,212.5l2.8,1.1 .6,-1.1 -2.8,-1zM111.9,213.6l2.9,1 .6,-1.1 -2.9,-1zM114.8,214.6l2.9,1 .5,-1.1 -2.8,-1zM117.7,215.6l2.8,.9 .6,-1.1 -2.9,-.9zM120.5,216.5l2.9,.9 .6,-1.1 -2.9,-.9z"/>
<path fill="#76e0d7" d="M123.4,217.4l2.9,.9 .5,-1.2 -2.8,-.8zM126.3,218.3l2.8,.8 .6,-1.2 -2.9,-.8zM129.1,219.1l2.9,.8 .6,-1.2 -2.9,-.8zM132,219.9l2.9,.7 .6,-1.2 -2.9,-.7zM134.9,220.6l2.9,.7 .5,-1.2 -2.8,-.7zM137.8,221.3l2.9,.7 .5,-1.3 -2.9,-.6zM140.7,222l2.9,.7 .5,-1.4 -2.9,-.6zM143.6,222.7l2.9,.6 .5,-1.4 -2.9,-.6zM146.5,223.3l2.9,.5 .5,-1.3 -2.9,-.6zM149.4,223.8l2.9,.6 .5,-1.4 -2.9,-.5zM152.3,224.4l2.9,.5 .6,-1.4 -3,-.5zM155.2,224.9l2.9,.5 .6,-1.4 -2.9,-.5z"/>
<path fill="#7ce9d1" d="M158.1,225.4l3,.4 .5,-1.4 -2.9,-.4zM161.1,225.8l2.9,.4 .5,-1.4 -2.9,-.4zM164,226.2l2.9,.4 .6,-1.4 -3,-.4zM166.9,226.6l3,.4 .5,-1.5 -2.9,-.3zM169.9,227l2.9,.3 .6,-1.5 -3,-.3zM172.8,227.3l3,.3 .5,-1.5 -2.9,-.3zM175.8,227.6l3,.3 .5,-1.5 -3,-.3zM178.8,227.9l2.9,.3 .6,-1.6 -3,-.2zM181.7,228.2l3,.2 .5,-1.5 -2.9,-.3zM184.7,228.4l3,.2 .5,-1.5 -3,-.2zM187.7,228.6l3,.2 .5,-1.6 -3,-.1zM190.7,228.8l3,.1 .5,-1.5 -3,-.2zM193.7,228.9l3,.2 .5,-1.6 -3,-.1zM196.7,229.1l3,.1 .5,-1.5 -3,-.2zM199.7,229.2l3,.1 .5,-1.5 -3,-.1zM202.7,229.3l3,.1 .5,-1.5 -3,-.1zM205.7,229.4l3.1,.1 .5,-1.5 -3.1,-.1zM208.8,229.5l3,.1 .5,-1.5 -3,-.1zM211.8,229.6l3,.1 .5,-1.5 -3,-.1zM214.8,229.7l3.1,.1 .5,-1.6 -3.1,0zM217.9,229.8l3.1,.1 .5,-1.6 -3.1,-.1zM221,229.9l3,.1 .5,-1.6 -3,-.1zM224,230l3.1,.1 .5,-1.5 -3.1,-.2zM227.1,230.1l3.1,.2 .5,-1.5 -3.1,-.2zM230.2,230.3l3.1,.2 .4,-1.5 -3,-.2zM233.3,230.5l3,.4 .5,-1.6 -3.1,-.3zM236.3,230.9l3.1,.3 .5,-1.6 -3.1,-.3zM239.4,231.2l3.1,.5 .5,-1.6 -3.1,-.5z"/>
<path fill="#6ccde4" d="M65.8,190.5l2.8,2 .7,-.6 -2.9,-1.9zM68.6,192.5l2.9,1.8 .6,-.6 -2.8,-1.8zM71.5,194.3l2.8,1.9 .6,-.7 -2.8,-1.8zM74.3,196.2l2.9,1.7 .6,-.7 -2.9,-1.7zM77.2,197.9l2.8,1.7 .6,-.7 -2.8,-1.7zM80,199.6l2.8,1.7 .7,-.8 -2.9,-1.6zM82.8,201.3l2.9,1.6 .6,-.8 -2.8,-1.6zM85.7,202.9l2.8,1.5 .7,-.8 -2.9,-1.5zM88.5,204.4l2.9,1.5 .6,-.9 -2.8,-1.4zM91.4,205.9l2.8,1.4 .6,-.9 -2.8,-1.4zM94.2,207.3l2.9,1.4 .6,-1 -2.9,-1.3zM97.1,208.7l2.8,1.3 .6,-1 -2.8,-1.3zM99.9,210l2.9,1.2 .6,-1 -2.9,-1.2z"/>
<path fill="#71d6de" d="M102.8,211.2l2.8,1.2 .6,-1 -2.8,-1.2zM105.6,212.4l2.9,1.2 .6,-1.1 -2.9,-1.1zM108.5,213.6l2.9,1.1 .5,-1.1 -2.8,-1.1zM111.4,214.7l2.8,1 .6,-1.1 -2.9,-1zM114.2,215.7l2.9,1 .6,-1.1 -2.9,-1zM117.1,216.7l2.9,1 .5,-1.2 -2.8,-.9zM120,217.7l2.8,.9 .6,-1.2 -2.9,-.9z"/>
<path fill="#76e0d7" d="M122.8,218.6l2.9,.9 .6,-1.2 -2.9,-.9zM125.7,219.5l2.9,.8 .5,-1.2 -2.8,-.8zM128.6,220.3l2.9,.8 .5,-1.2 -2.9,-.8zM131.5,221.1l2.8,.8 .6,-1.3 -2.9,-.7zM134.3,221.9l2.9,.7 .6,-1.3 -2.9,-.7zM137.2,222.6l2.9,.7 .6,-1.3 -2.9,-.7zM140.1,223.3l2.9,.6 .6,-1.2 -2.9,-.7zM143,223.9l2.9,.7 .6,-1.3 -2.9,-.6zM145.9,224.6l2.9,.5 .6,-1.3 -2.9,-.5zM148.8,225.1l3,.6 .5,-1.3 -2.9,-.6zM151.8,225.7l2.9,.5 .5,-1.3 -2.9,-.5zM154.7,226.2l2.9,.5 .5,-1.3 -2.9,-.5zM157.6,226.7l2.9,.5 .6,-1.4 -3,-.4zM160.5,227.2l3,.4 .5,-1.4 -2.9,-.4zM163.5,227.6l2.9,.4 .5,-1.4 -2.9,-.4zM166.4,228l3,.4 .5,-1.4 -3,-.4z"/>
<path fill="#7ce9d1" d="M169.4,228.4l2.9,.3 .5,-1.4 -2.9,-.3zM172.3,228.7l3,.4 .5,-1.5 -3,-.3zM175.3,229.1l2.9,.2 .6,-1.4 -3,-.3zM178.2,229.3l3,.3 .5,-1.4 -2.9,-.3zM181.2,229.6l3,.2 .5,-1.4 -3,-.2zM184.2,229.8l3,.2 .5,-1.4 -3,-.2zM187.2,230l3,.2 .5,-1.4 -3,-.2zM190.2,230.2l3,.2 .5,-1.5 -3,-.1zM193.2,230.4l3,.1 .5,-1.4 -3,-.2zM196.2,230.5l3,.2 .5,-1.5 -3,-.1zM199.2,230.7l3,.1 .5,-1.5 -3,-.1zM202.2,230.8l3,.1 .5,-1.5 -3,-.1zM205.2,230.9l3.1,.1 .5,-1.5 -3.1,-.1zM208.3,231l3,.1 .5,-1.5 -3,-.1zM211.3,231.1l3.1,.1 .4,-1.5 -3,-.1zM214.4,231.2l3,0 .5,-1.4 -3.1,-.1zM217.4,231.2l3.1,.1 .5,-1.4 -3.1,-.1zM220.5,231.3l3,.1 .5,-1.4 -3,-.1z"/>
<path fill="#76e0d7" d="M223.5,231.4l3.1,.2 .5,-1.5 -3.1,-.1zM226.6,231.6l3.1,.2 .5,-1.5 -3.1,-.2zM229.7,231.8l3.1,.2 .5,-1.5 -3.1,-.2z"/>
<path fill="#7ce9d1" d="M232.8,232l3.1,.3 .4,-1.4 -3,-.4zM235.9,232.3l3.1,.4 .4,-1.5 -3.1,-.3zM239,232.7l3.1,.5 .4,-1.5 -3.1,-.5z"/>
<path fill="#6ccde4" d="M65.1,191l2.9,2 .6,-.5 -2.8,-2zM68,193l2.8,1.9 .7,-.6 -2.9,-1.8zM70.8,194.9l2.9,1.9 .6,-.6 -2.8,-1.9zM73.7,196.8l2.8,1.8 .7,-.7 -2.9,-1.7zM76.5,198.6l2.9,1.8 .6,-.8 -2.8,-1.7zM79.4,200.4l2.8,1.6 .6,-.7 -2.8,-1.7zM82.2,202l2.9,1.7 .6,-.8 -2.9,-1.6zM85.1,203.7l2.8,1.5 .6,-.8 -2.8,-1.5zM87.9,205.2l2.9,1.5 .6,-.8 -2.9,-1.5zM90.8,206.7l2.8,1.5 .6,-.9 -2.8,-1.4zM93.6,208.2l2.9,1.4 .6,-.9 -2.9,-1.4zM96.5,209.6l2.8,1.3 .6,-.9 -2.8,-1.3zM99.3,210.9l2.9,1.3 .6,-1 -2.9,-1.2z"/>
<path fill="#71d6de" d="M102.2,212.2l2.9,1.2 .5,-1 -2.8,-1.2zM105.1,213.4l2.8,1.2 .6,-1 -2.9,-1.2zM107.9,214.6l2.9,1.1 .6,-1 -2.9,-1.1zM110.8,215.7l2.8,1.1 .6,-1.1 -2.8,-1zM113.6,216.8l2.9,1 .6,-1.1 -2.9,-1zM116.5,217.8l2.9,1 .6,-1.1 -2.9,-1zM119.4,218.8l2.9,1 .5,-1.2 -2.8,-.9zM122.3,219.8l2.8,.9 .6,-1.2 -2.9,-.9z"/>
<path fill="#76e0d7" d="M125.1,220.7l2.9,.8 .6,-1.2 -2.9,-.8zM128,221.5l2.9,.8 .6,-1.2 -2.9,-.8zM130.9,222.3l2.9,.8 .5,-1.2 -2.8,-.8zM133.8,223.1l2.9,.8 .5,-1.3 -2.9,-.7zM136.7,223.9l2.9,.7 .5,-1.3 -2.9,-.7zM139.6,224.6l2.9,.6 .5,-1.3 -2.9,-.6zM142.5,225.2l2.9,.7 .5,-1.3 -2.9,-.7zM145.4,225.9l2.9,.5 .5,-1.3 -2.9,-.5zM148.3,226.4l2.9,.6 .6,-1.3 -3,-.6zM151.2,227l2.9,.5 .6,-1.3 -2.9,-.5zM154.1,227.5l3,.5 .5,-1.3 -2.9,-.5zM157.1,228l2.9,.5 .5,-1.3 -2.9,-.5zM160,228.5l2.9,.5 .6,-1.4 -3,-.4zM162.9,229l3,.4 .5,-1.4 -2.9,-.4zM165.9,229.4l2.9,.4 .6,-1.4 -3,-.4zM168.8,229.8l3,.3 .5,-1.4 -2.9,-.3zM171.8,230.1l2.9,.3 .6,-1.3 -3,-.4zM174.7,230.4l3,.3 .5,-1.4 -2.9,-.2zM177.7,230.7l3,.3 .5,-1.4 -3,-.3zM180.7,231l3,.2 .5,-1.4 -3,-.2zM183.7,231.2l3,.2 .5,-1.4 -3,-.2zM186.7,231.4l2.9,.2 .6,-1.4 -3,-.2zM189.6,231.6l3.1,.2 .5,-1.4 -3,-.2zM192.7,231.8l3,.1 .5,-1.4 -3,-.1zM195.7,231.9l3,.2 .5,-1.4 -3,-.2zM198.7,232.1l3,.1 .5,-1.4 -3,-.1zM201.7,232.2l3,.1 .5,-1.4 -3,-.1zM204.7,232.3l3.1,.1 .5,-1.4 -3.1,-.1zM207.8,232.4l3,.1 .5,-1.4 -3,-.1zM210.8,232.5l3.1,0 .5,-1.3 -3.1,-.1zM213.9,232.5l3,.1 .5,-1.4 -3,0zM216.9,232.6l3.1,.1 .5,-1.4 -3.1,-.1zM220,232.7l3,.1 .5,-1.4 -3,-.1zM223,232.8l3.1,.1 .5,-1.3 -3.1,-.2zM226.1,232.9l3.1,.2 .5,-1.3 -3.1,-.2zM229.2,233.1l3.1,.2 .5,-1.3 -3.1,-.2zM232.3,233.3l3.1,.3 .5,-1.3 -3.1,-.3zM235.4,233.6l3.1,.4 .5,-1.3 -3.1,-.4zM238.5,234l3.1,.5 .5,-1.3 -3.1,-.5z"/>
<path fill="#6ccde4" d="M64.5,191.5l2.8,2.1 .7,-.6 -2.9,-2zM67.3,193.6l2.9,2 .6,-.7 -2.8,-1.9zM70.2,195.6l2.8,1.9 .7,-.7 -2.9,-1.9zM73,197.5l2.9,1.8 .6,-.7 -2.8,-1.8zM75.9,199.3l2.9,1.8 .6,-.7 -2.9,-1.8zM78.8,201.1l2.8,1.7 .6,-.8 -2.8,-1.6zM81.6,202.8l2.9,1.7 .6,-.8 -2.9,-1.7zM84.5,204.5l2.8,1.6 .6,-.9 -2.8,-1.5zM87.3,206.1l2.9,1.5 .6,-.9 -2.9,-1.5zM90.2,207.6l2.8,1.5 .6,-.9 -2.8,-1.5zM93,209.1l2.9,1.4 .6,-.9 -2.9,-1.4zM95.9,210.5l2.8,1.4 .6,-1 -2.8,-1.3zM98.7,211.9l2.9,1.3 .6,-1 -2.9,-1.3z"/>
<path fill="#71d6de" d="M101.6,213.2l2.9,1.2 .6,-1 -2.9,-1.2zM104.5,214.4l2.8,1.2 .6,-1 -2.8,-1.2zM107.3,215.6l2.9,1.2 .6,-1.1 -2.9,-1.1zM110.2,216.8l2.9,1.1 .5,-1.1 -2.8,-1.1zM113.1,217.9l2.8,1.1 .6,-1.2 -2.9,-1zM115.9,219l2.9,1 .6,-1.2 -2.9,-1zM118.8,220l2.9,.9 .6,-1.1 -2.9,-1zM121.7,220.9l2.9,.9 .5,-1.1 -2.8,-.9zM124.6,221.8l2.8,.9 .6,-1.2 -2.9,-.8z"/>
<path fill="#76e0d7" d="M127.4,222.7l2.9,.8 .6,-1.2 -2.9,-.8zM130.3,223.5l2.9,.8 .6,-1.2 -2.9,-.8zM133.2,224.3l2.9,.8 .6,-1.2 -2.9,-.8zM136.1,225.1l2.9,.7 .6,-1.2 -2.9,-.7zM139,225.8l2.9,.7 .6,-1.3 -2.9,-.6zM141.9,226.5l2.9,.6 .6,-1.2 -2.9,-.7zM144.8,227.1l2.9,.6 .6,-1.3 -2.9,-.5zM147.7,227.7l3,.6 .5,-1.3 -2.9,-.6zM150.7,228.3l2.9,.5 .5,-1.3 -2.9,-.5zM153.6,228.8l2.9,.5 .6,-1.3 -3,-.5zM156.5,229.3l3,.5 .5,-1.3 -2.9,-.5zM159.5,229.8l2.9,.5 .5,-1.3 -2.9,-.5zM162.4,230.3l2.9,.4 .6,-1.3 -3,-.4zM165.3,230.7l3,.4 .5,-1.3 -2.9,-.4zM168.3,231.1l3,.3 .5,-1.3 -3,-.3zM171.3,231.4l2.9,.4 .5,-1.4 -2.9,-.3zM174.2,231.8l3,.3 .5,-1.4 -3,-.3zM177.2,232.1l3,.2 .5,-1.3 -3,-.3zM180.2,232.3l2.9,.3 .6,-1.4 -3,-.2zM183.1,232.6l3,.2 .6,-1.4 -3,-.2zM186.1,232.8l3,.2 .5,-1.4 -2.9,-.2zM189.1,233l3,.1 .6,-1.3 -3.1,-.2zM192.1,233.1l3,.2 .6,-1.4 -3,-.1zM195.1,233.3l3.1,.1 .5,-1.3 -3,-.2zM198.2,233.4l3,.1 .5,-1.3 -3,-.1zM201.2,233.5l3,.1 .5,-1.3 -3,-.1zM204.2,233.6l3.1,.1 .5,-1.3 -3.1,-.1zM207.3,233.7l3,.1 .5,-1.3 -3,-.1zM210.3,233.8l3.1,0 .5,-1.3 -3.1,0zM213.4,233.8l3,.1 .5,-1.3 -3,-.1zM216.4,233.9l3.1,.1 .5,-1.3 -3.1,-.1zM219.5,234l3.1,.1 .4,-1.3 -3,-.1zM222.6,234.1l3,.1 .5,-1.3 -3.1,-.1zM225.6,234.2l3.1,.2 .5,-1.3 -3.1,-.2zM228.7,234.4l3.1,.2 .5,-1.3 -3.1,-.2z"/>
<path fill="#71d6de" d="M231.8,234.6l3.1,.3 .5,-1.3 -3.1,-.3zM234.9,234.9l3.1,.3 .5,-1.2 -3.1,-.4zM238,235.2l3.1,.5 .5,-1.2 -3.1,-.5z"/>
<path fill="#6ccde4" d="M63.8,192.1l2.9,2 .6,-.5 -2.8,-2.1zM66.7,194.1l2.8,2.1 .7,-.6 -2.9,-2zM69.5,196.2l2.9,1.9 .6,-.6 -2.8,-1.9zM72.4,198.1l2.9,1.9 .6,-.7 -2.9,-1.8zM75.3,200l2.8,1.8 .7,-.7 -2.9,-1.8zM78.1,201.8l2.9,1.8 .6,-.8 -2.8,-1.7zM81,203.6l2.8,1.7 .7,-.8 -2.9,-1.7zM83.8,205.3l2.9,1.6 .6,-.8 -2.8,-1.6zM86.7,206.9l2.9,1.6 .6,-.9 -2.9,-1.5zM89.6,208.5l2.8,1.5 .6,-.9 -2.8,-1.5zM92.4,210l2.9,1.4 .6,-.9 -2.9,-1.4zM95.3,211.4l2.8,1.4 .6,-.9 -2.8,-1.4zM98.1,212.8l2.9,1.4 .6,-1 -2.9,-1.3zM101,214.2l2.9,1.2 .6,-1 -2.9,-1.2z"/>
<path fill="#71d6de" d="M103.9,215.4l2.8,1.3 .6,-1.1 -2.8,-1.2zM106.7,216.7l2.9,1.2 .6,-1.1 -2.9,-1.2zM109.6,217.9l2.9,1.1 .6,-1.1 -2.9,-1.1zM112.5,219l2.9,1.1 .5,-1.1 -2.8,-1.1zM115.4,220.1l2.8,1 .6,-1.1 -2.9,-1zM118.2,221.1l2.9,1 .6,-1.2 -2.9,-.9zM121.1,222.1l2.9,.9 .6,-1.2 -2.9,-.9zM124,223l2.9,.9 .5,-1.2 -2.8,-.9z"/>
<path fill="#76e0d7" d="M126.9,223.9l2.9,.8 .5,-1.2 -2.9,-.8zM129.8,224.7l2.9,.8 .5,-1.2 -2.9,-.8zM132.7,225.5l2.9,.8 .5,-1.2 -2.9,-.8zM135.6,226.3l2.9,.7 .5,-1.2 -2.9,-.7zM138.5,227l2.9,.7 .5,-1.2 -2.9,-.7zM141.4,227.7l2.9,.7 .5,-1.3 -2.9,-.6zM144.3,228.4l2.9,.6 .5,-1.3 -2.9,-.6zM147.2,229l2.9,.5 .6,-1.2 -3,-.6zM150.1,229.5l2.9,.6 .6,-1.3 -2.9,-.5zM153,230.1l3,.5 .5,-1.3 -2.9,-.5zM156,230.6l2.9,.5 .6,-1.3 -3,-.5zM158.9,231.1l3,.4 .5,-1.2 -2.9,-.5zM161.9,231.5l2.9,.5 .5,-1.3 -2.9,-.4zM164.8,232l3,.4 .5,-1.3 -3,-.4zM167.8,232.4l2.9,.3 .6,-1.3 -3,-.3zM170.7,232.7l3,.3 .5,-1.2 -2.9,-.4zM173.7,233l3,.3 .5,-1.2 -3,-.3zM176.7,233.3l2.9,.3 .6,-1.3 -3,-.2zM179.6,233.6l3,.3 .5,-1.3 -2.9,-.3zM182.6,233.9l3,.2 .5,-1.3 -3,-.2zM185.6,234.1l3,.1 .5,-1.2 -3,-.2zM188.6,234.2l3,.2 .5,-1.3 -3,-.1zM191.6,234.4l3,.1 .5,-1.2 -3,-.2zM194.6,234.5l3.1,.2 .5,-1.3 -3.1,-.1zM197.7,234.7l3,.1 .5,-1.3 -3,-.1zM200.7,234.8l3,.1 .5,-1.3 -3,-.1zM203.7,234.9l3.1,0 .5,-1.2 -3.1,-.1zM206.8,234.9l3,.1 .5,-1.2 -3,-.1z"/>
<path fill="#71d6de" d="M209.8,235l3.1,.1 .5,-1.3 -3.1,0zM212.9,235.1l3,0 .5,-1.2 -3,-.1zM215.9,235.1l3.1,.1 .5,-1.2 -3.1,-.1zM219,235.2l3.1,.1 .5,-1.2 -3.1,-.1zM222.1,235.3l3.1,.1 .4,-1.2 -3,-.1zM225.2,235.4l3.1,.1 .4,-1.1 -3.1,-.2zM228.3,235.5l3,.2 .5,-1.1 -3.1,-.2zM231.3,235.7l3.1,.3 .5,-1.1 -3.1,-.3zM234.4,236l3.1,.3 .5,-1.1 -3.1,-.3zM237.5,236.3l3.2,.4 .4,-1 -3.1,-.5z"/>
<path fill="#6ccde4" d="M63.2,192.6l2.8,2.1 .7,-.6 -2.9,-2zM66,194.7l2.9,2.1 .6,-.6 -2.8,-2.1zM68.9,196.8l2.9,2 .6,-.7 -2.9,-1.9zM71.8,198.8l2.8,1.9 .7,-.7 -2.9,-1.9zM74.6,200.7l2.9,1.8 .6,-.7 -2.8,-1.8zM77.5,202.5l2.9,1.8 .6,-.7 -2.9,-1.8zM80.4,204.3l2.8,1.8 .6,-.8 -2.8,-1.7zM83.2,206.1l2.9,1.6 .6,-.8 -2.9,-1.6zM86.1,207.7l2.8,1.6 .7,-.8 -2.9,-1.6zM88.9,209.3l2.9,1.6 .6,-.9 -2.8,-1.5zM91.8,210.9l2.9,1.4 .6,-.9 -2.9,-1.4zM94.7,212.3l2.8,1.5 .6,-1 -2.8,-1.4zM97.5,213.8l2.9,1.3 .6,-.9 -2.9,-1.4zM100.4,215.1l2.9,1.4 .6,-1.1 -2.9,-1.2z"/>
<path fill="#71d6de" d="M103.3,216.5l2.8,1.2 .6,-1 -2.8,-1.3zM106.1,217.7l2.9,1.2 .6,-1 -2.9,-1.2zM109,218.9l2.9,1.2 .6,-1.1 -2.9,-1.1zM111.9,220.1l2.9,1.1 .6,-1.1 -2.9,-1.1zM114.8,221.2l2.9,1 .5,-1.1 -2.8,-1zM117.7,222.2l2.8,1 .6,-1.1 -2.9,-1zM120.5,223.2l2.9,1 .6,-1.2 -2.9,-.9zM123.4,224.2l2.9,.9 .6,-1.2 -2.9,-.9zM126.3,225.1l2.9,.8 .6,-1.2 -2.9,-.8zM129.2,225.9l2.9,.8 .6,-1.2 -2.9,-.8z"/>
<path fill="#76e0d7" d="M132.1,226.7l2.9,.8 .6,-1.2 -2.9,-.8zM135,227.5l2.9,.7 .6,-1.2 -2.9,-.7zM137.9,228.2l2.9,.7 .6,-1.2 -2.9,-.7zM140.8,228.9l2.9,.7 .6,-1.2 -2.9,-.7zM143.7,229.6l2.9,.6 .6,-1.2 -2.9,-.6zM146.6,230.2l3,.6 .5,-1.3 -2.9,-.5zM149.6,230.8l2.9,.5 .5,-1.2 -2.9,-.6zM152.5,231.3l2.9,.5 .6,-1.2 -3,-.5zM155.4,231.8l3,.5 .5,-1.2 -2.9,-.5zM158.4,232.3l2.9,.5 .6,-1.3 -3,-.4zM161.3,232.8l3,.4 .5,-1.2 -2.9,-.5zM164.3,233.2l2.9,.4 .6,-1.2 -3,-.4zM167.2,233.6l3,.4 .5,-1.3 -2.9,-.3zM170.2,234l3,.3 .5,-1.3 -3,-.3zM173.2,234.3l2.9,.3 .6,-1.3 -3,-.3zM176.1,234.6l3,.2 .5,-1.2 -2.9,-.3zM179.1,234.8l3,.3 .5,-1.2 -3,-.3zM182.1,235.1l3,.2 .5,-1.2 -3,-.2z"/>
<path fill="#71d6de" d="M185.1,235.3l3,.2 .5,-1.3 -3,-.1zM188.1,235.5l3,.1 .5,-1.2 -3,-.2zM191.1,235.6l3,.1 .5,-1.2 -3,-.1zM194.1,235.7l3.1,.2 .5,-1.2 -3.1,-.2zM197.2,235.9l3,.1 .5,-1.2 -3,-.1zM200.2,236l3,0 .5,-1.1 -3,-.1zM203.2,236l3.1,.1 .5,-1.2 -3.1,0zM206.3,236.1l3,.1 .5,-1.2 -3,-.1zM209.3,236.2l3.1,0 .5,-1.1 -3.1,-.1zM212.4,236.2l3,0 .5,-1.1 -3,0zM215.4,236.2l3.1,.1 .5,-1.1 -3.1,-.1zM218.5,236.3l3.1,.1 .5,-1.1 -3.1,-.1zM221.6,236.4l3.1,.1 .5,-1.1 -3.1,-.1zM224.7,236.5l3.1,.1 .5,-1.1 -3.1,-.1zM227.8,236.6l3.1,.2 .4,-1.1 -3,-.2z"/>
<path fill="#6ccde4" d="M230.9,236.8l3.1,.2 .4,-1 -3.1,-.3zM234,237l3.1,.3 .4,-1 -3.1,-.3zM237.1,237.3l3.1,.3 .5,-.9 -3.2,-.4z"/>
<path fill="#6ccde4" d="M62.5,193.1l2.9,2.2 .6,-.6 -2.8,-2.1zM65.4,195.3l2.9,2.1 .6,-.6 -2.9,-2.1zM68.3,197.4l2.8,2 .7,-.6 -2.9,-2zM71.1,199.4l2.9,2 .6,-.7 -2.8,-1.9zM74,201.4l2.9,1.9 .6,-.8 -2.9,-1.8zM76.9,203.3l2.8,1.8 .7,-.8 -2.9,-1.8zM79.7,205.1l2.9,1.8 .6,-.8 -2.8,-1.8zM82.6,206.9l2.9,1.6 .6,-.8 -2.9,-1.6zM85.5,208.5l2.8,1.7 .6,-.9 -2.8,-1.6zM88.3,210.2l2.9,1.6 .6,-.9 -2.9,-1.6zM91.2,211.8l2.9,1.5 .6,-1 -2.9,-1.4zM94.1,213.3l2.8,1.4 .6,-.9 -2.8,-1.5zM96.9,214.7l2.9,1.4 .6,-1 -2.9,-1.3zM99.8,216.1l2.9,1.4 .6,-1 -2.9,-1.4z"/>
<path fill="#71d6de" d="M102.7,217.5l2.9,1.3 .5,-1.1 -2.8,-1.2zM105.6,218.8l2.8,1.2 .6,-1.1 -2.9,-1.2zM108.4,220l2.9,1.2 .6,-1.1 -2.9,-1.2zM111.3,221.2l2.9,1.1 .6,-1.1 -2.9,-1.1zM114.2,222.3l2.9,1 .6,-1.1 -2.9,-1zM117.1,223.3l2.9,1.1 .5,-1.2 -2.8,-1zM120,224.4l2.8,.9 .6,-1.1 -2.9,-1zM122.8,225.3l2.9,.9 .6,-1.1 -2.9,-.9zM125.7,226.2l2.9,.9 .6,-1.2 -2.9,-.8zM128.6,227.1l2.9,.8 .6,-1.2 -2.9,-.8zM131.5,227.9l2.9,.8 .6,-1.2 -2.9,-.8zM134.4,228.7l2.9,.7 .6,-1.2 -2.9,-.7zM137.3,229.4l3,.7 .5,-1.2 -2.9,-.7zM140.3,230.1l2.9,.7 .5,-1.2 -2.9,-.7z"/>
<path fill="#76e0d7" d="M143.2,230.8l2.9,.6 .5,-1.2 -2.9,-.6zM146.1,231.4l2.9,.6 .6,-1.2 -3,-.6zM149,232l3,.5 .5,-1.2 -2.9,-.5zM152,232.5l2.9,.6 .5,-1.3 -2.9,-.5z"/>
<path fill="#71d6de" d="M154.9,233.1l2.9,.4 .6,-1.2 -3,-.5zM157.8,233.5l3,.5 .5,-1.2 -2.9,-.5zM160.8,234l2.9,.4 .6,-1.2 -3,-.4zM163.7,234.4l3,.4 .5,-1.2 -2.9,-.4zM166.7,234.8l3,.4 .5,-1.2 -3,-.4zM169.7,235.2l2.9,.3 .6,-1.2 -3,-.3zM172.6,235.5l3,.3 .5,-1.2 -2.9,-.3zM175.6,235.8l3,.2 .5,-1.2 -3,-.2zM178.6,236l3,.3 .5,-1.2 -3,-.3zM181.6,236.3l3,.2 .5,-1.2 -3,-.2zM184.6,236.5l3,.1 .5,-1.1 -3,-.2zM187.6,236.6l3,.2 .5,-1.2 -3,-.1zM190.6,236.8l3,.1 .5,-1.2 -3,-.1zM193.6,236.9l3,.1 .6,-1.1 -3.1,-.2zM196.6,237l3.1,.1 .5,-1.1 -3,-.1zM199.7,237.1l3,0 .5,-1.1 -3,0zM202.7,237.1l3.1,.1 .5,-1.1 -3.1,-.1zM205.8,237.2l3,0 .5,-1 -3,-.1zM208.8,237.2l3.1,.1 .5,-1.1 -3.1,0zM211.9,237.3l3.1,0 .4,-1.1 -3,0zM215,237.3l3,.1 .5,-1.1 -3.1,-.1z"/>
<path fill="#6ccde4" d="M218,237.4l3.1,0 .5,-1 -3.1,-.1zM221.1,237.4l3.1,.1 .5,-1 -3.1,-.1zM224.2,237.5l3.1,.1 .5,-1 -3.1,-.1zM227.3,237.6l3.1,.1 .5,-.9 -3.1,-.2zM230.4,237.7l3.1,.2 .5,-.9 -3.1,-.2zM233.5,237.9l3.1,.2 .5,-.8 -3.1,-.3zM236.6,238.1l3.1,.4 .5,-.9 -3.1,-.3z"/>
<path fill="#6ccde4" d="M61.8,193.6l2.9,2.2 .7,-.5 -2.9,-2.2zM64.7,195.8l2.9,2.2 .7,-.6 -2.9,-2.1zM67.6,198l2.9,2.1 .6,-.7 -2.8,-2zM70.5,200.1l2.9,2 .6,-.7 -2.9,-2zM73.4,202.1l2.8,1.9 .7,-.7 -2.9,-1.9zM76.2,204l2.9,1.9 .6,-.8 -2.8,-1.8zM79.1,205.9l2.9,1.8 .6,-.8 -2.9,-1.8zM82,207.7l2.8,1.7 .7,-.9 -2.9,-1.6zM84.8,209.4l2.9,1.6 .6,-.8 -2.8,-1.7zM87.7,211l2.9,1.7 .6,-.9 -2.9,-1.6zM90.6,212.7l2.9,1.5 .6,-.9 -2.9,-1.5zM93.5,214.2l2.8,1.5 .6,-1 -2.8,-1.4zM96.3,215.7l2.9,1.4 .6,-1 -2.9,-1.4zM99.2,217.1l2.9,1.4 .6,-1 -2.9,-1.4z"/>
<path fill="#71d6de" d="M102.1,218.5l2.9,1.3 .6,-1 -2.9,-1.3zM105,219.8l2.8,1.2 .6,-1 -2.8,-1.2zM107.8,221l2.9,1.2 .6,-1 -2.9,-1.2zM110.7,222.2l2.9,1.2 .6,-1.1 -2.9,-1.1zM113.6,223.4l2.9,1.1 .6,-1.2 -2.9,-1zM116.5,224.5l2.9,1 .6,-1.1 -2.9,-1.1zM119.4,225.5l2.9,1 .5,-1.2 -2.8,-.9zM122.3,226.5l2.9,.9 .5,-1.2 -2.9,-.9zM125.2,227.4l2.9,.9 .5,-1.2 -2.9,-.9zM128.1,228.3l2.9,.8 .5,-1.2 -2.9,-.8zM131,229.1l2.9,.8 .5,-1.2 -2.9,-.8zM133.9,229.9l2.9,.7 .5,-1.2 -2.9,-.7zM136.8,230.6l2.9,.7 .6,-1.2 -3,-.7zM139.7,231.3l2.9,.7 .6,-1.2 -2.9,-.7zM142.6,232l2.9,.6 .6,-1.2 -2.9,-.6zM145.5,232.6l3,.6 .5,-1.2 -2.9,-.6zM148.5,233.2l2.9,.5 .6,-1.2 -3,-.5zM151.4,233.7l2.9,.5 .6,-1.1 -2.9,-.6zM154.3,234.2l3,.5 .5,-1.2 -2.9,-.4zM157.3,234.7l2.9,.5 .6,-1.2 -3,-.5zM160.2,235.2l3,.4 .5,-1.2 -2.9,-.4zM163.2,235.6l3,.4 .5,-1.2 -3,-.4zM166.2,236l2.9,.3 .6,-1.1 -3,-.4zM169.1,236.3l3,.3 .5,-1.1 -2.9,-.3zM172.1,236.6l3,.3 .5,-1.1 -3,-.3zM175.1,236.9l3,.3 .5,-1.2 -3,-.2zM178.1,237.2l3,.2 .5,-1.1 -3,-.3zM181.1,237.4l3,.2 .5,-1.1 -3,-.2zM184.1,237.6l3,.1 .5,-1.1 -3,-.1zM187.1,237.7l3,.2 .5,-1.1 -3,-.2zM190.1,237.9l3,.1 .5,-1.1 -3,-.1zM193.1,238l3,.1 .5,-1.1 -3,-.1zM196.1,238.1l3.1,0 .5,-1 -3.1,-.1zM199.2,238.1l3,.1 .5,-1.1 -3,0z"/>
<path fill="#6ccde4" d="M202.2,238.2l3.1,0 .5,-1 -3.1,-.1zM205.3,238.2l3,.1 .5,-1.1 -3,0zM208.3,238.3l3.1,0 .5,-1 -3.1,-.1zM211.4,238.3l3.1,0 .5,-1 -3.1,0zM214.5,238.3l3,0 .5,-.9 -3,-.1zM217.5,238.3l3.1,.1 .5,-1 -3.1,0zM220.6,238.4l3.1,0 .5,-.9 -3.1,-.1zM223.7,238.4l3.1,.1 .5,-.9 -3.1,-.1zM226.8,238.5l3.1,.1 .5,-.9 -3.1,-.1zM229.9,238.6l3.1,.1 .5,-.8 -3.1,-.2zM233,238.7l3.2,.2 .4,-.8 -3.1,-.2zM236.2,238.9l3.1,.2 .4,-.6 -3.1,-.4z"/>
<path fill="#6ccde4" d="M61.2,194.1l2.9,2.3 .6,-.6 -2.9,-2.2zM64.1,196.4l2.9,2.2 .6,-.6 -2.9,-2.2zM67,198.6l2.8,2.1 .7,-.6 -2.9,-2.1zM69.8,200.7l2.9,2.1 .7,-.7 -2.9,-2zM72.7,202.8l2.9,1.9 .6,-.7 -2.8,-1.9zM75.6,204.7l2.9,1.9 .6,-.7 -2.9,-1.9zM78.5,206.6l2.8,1.9 .7,-.8 -2.9,-1.8zM81.3,208.5l2.9,1.7 .6,-.8 -2.8,-1.7zM84.2,210.2l2.9,1.7 .6,-.9 -2.9,-1.6zM87.1,211.9l2.9,1.7 .6,-.9 -2.9,-1.7zM90,213.6l2.9,1.5 .6,-.9 -2.9,-1.5zM92.9,215.1l2.8,1.5 .6,-.9 -2.8,-1.5zM95.7,216.6l2.9,1.5 .6,-1 -2.9,-1.4zM98.6,218.1l2.9,1.4 .6,-1 -2.9,-1.4z"/>
<path fill="#71d6de" d="M101.5,219.5l2.9,1.3 .6,-1 -2.9,-1.3zM104.4,220.8l2.8,1.3 .6,-1.1 -2.8,-1.2zM107.2,222.1l2.9,1.2 .6,-1.1 -2.9,-1.2zM110.1,223.3l2.9,1.2 .6,-1.1 -2.9,-1.2zM113,224.5l2.9,1.1 .6,-1.1 -2.9,-1.1zM115.9,225.6l2.9,1 .6,-1.1 -2.9,-1zM118.8,226.6l2.9,1 .6,-1.1 -2.9,-1zM121.7,227.6l2.9,.9 .6,-1.1 -2.9,-.9zM124.6,228.5l2.9,.9 .6,-1.1 -2.9,-.9zM127.5,229.4l2.9,.8 .6,-1.1 -2.9,-.8zM130.4,230.2l2.9,.8 .6,-1.1 -2.9,-.8zM133.3,231l2.9,.8 .6,-1.2 -2.9,-.7zM136.2,231.8l2.9,.7 .6,-1.2 -2.9,-.7zM139.1,232.5l3,.6 .5,-1.1 -2.9,-.7zM142.1,233.1l2.9,.6 .5,-1.1 -2.9,-.6zM145,233.7l2.9,.6 .6,-1.1 -3,-.6zM147.9,234.3l3,.6 .5,-1.2 -2.9,-.5zM150.9,234.9l2.9,.5 .5,-1.2 -2.9,-.5zM153.8,235.4l2.9,.5 .6,-1.2 -3,-.5zM156.7,235.9l3,.4 .5,-1.1 -2.9,-.5zM159.7,236.3l3,.4 .5,-1.1 -3,-.4zM162.7,236.7l2.9,.4 .6,-1.1 -3,-.4zM165.6,237.1l3,.3 .5,-1.1 -2.9,-.3zM168.6,237.4l3,.3 .5,-1.1 -3,-.3zM171.6,237.7l3,.3 .5,-1.1 -3,-.3zM174.6,238l2.9,.3 .6,-1.1 -3,-.3zM177.5,238.3l3,.2 .6,-1.1 -3,-.2zM180.5,238.5l3,.1 .6,-1 -3,-.2zM183.5,238.6l3.1,.2 .5,-1.1 -3,-.1zM186.6,238.8l3,.1 .5,-1 -3,-.2z"/>
<path fill="#6ccde4" d="M189.6,238.9l3,.1 .5,-1 -3,-.1zM192.6,239l3,.1 .5,-1 -3,-.1zM195.6,239.1l3.1,.1 .5,-1.1 -3.1,0zM198.7,239.2l3,0 .5,-1 -3,-.1zM201.7,239.2l3.1,0 .5,-1 -3.1,0zM204.8,239.2l3,0 .5,-.9 -3,-.1zM207.8,239.2l3.1,.1 .5,-1 -3.1,0zM210.9,239.3l3.1,0 .5,-1 -3.1,0zM214,239.3l3.1,0 .4,-1 -3,0zM217.1,239.3l3,0 .5,-.9 -3.1,-.1zM220.1,239.3l3.1,0 .5,-.9 -3.1,0zM223.2,239.3l3.2,0 .4,-.8 -3.1,-.1zM226.4,239.3l3.1,.1 .4,-.8 -3.1,-.1zM229.5,239.4l3.1,.1 .4,-.8 -3.1,-.1zM232.6,239.5l3.1,.1 .5,-.7 -3.2,-.2zM235.7,239.6l3.1,.1 .5,-.6 -3.1,-.2z"/>
<path fill="#6ccde4" d="M60.5,194.6l2.9,2.3 .7,-.5 -2.9,-2.3zM63.4,196.9l2.9,2.3 .7,-.6 -2.9,-2.2zM66.3,199.2l2.9,2.2 .6,-.7 -2.8,-2.1zM69.2,201.4l2.9,2.1 .6,-.7 -2.9,-2.1zM72.1,203.5l2.9,2 .6,-.8 -2.9,-1.9zM75,205.5l2.8,1.9 .7,-.8 -2.9,-1.9zM77.8,207.4l2.9,1.9 .6,-.8 -2.8,-1.9zM80.7,209.3l2.9,1.8 .6,-.9 -2.9,-1.7zM83.6,211.1l2.9,1.7 .6,-.9 -2.9,-1.7zM86.5,212.8l2.9,1.7 .6,-.9 -2.9,-1.7zM89.4,214.5l2.8,1.6 .7,-1 -2.9,-1.5zM92.2,216.1l2.9,1.5 .6,-1 -2.8,-1.5zM95.1,217.6l2.9,1.5 .6,-1 -2.9,-1.5zM98,219.1l2.9,1.4 .6,-1 -2.9,-1.4z"/>
<path fill="#71d6de" d="M100.9,220.5l2.9,1.3 .6,-1 -2.9,-1.3zM103.8,221.8l2.9,1.3 .5,-1 -2.8,-1.3zM106.7,223.1l2.8,1.3 .6,-1.1 -2.9,-1.2zM109.5,224.4l2.9,1.1 .6,-1 -2.9,-1.2zM112.4,225.5l2.9,1.2 .6,-1.1 -2.9,-1.1zM115.3,226.7l2.9,1 .6,-1.1 -2.9,-1zM118.2,227.7l2.9,1 .6,-1.1 -2.9,-1zM121.1,228.7l2.9,.9 .6,-1.1 -2.9,-.9zM124,229.6l2.9,.9 .6,-1.1 -2.9,-.9zM126.9,230.5l2.9,.9 .6,-1.2 -2.9,-.8zM129.8,231.4l2.9,.8 .6,-1.2 -2.9,-.8zM132.7,232.2l3,.7 .5,-1.1 -2.9,-.8zM135.7,232.9l2.9,.7 .5,-1.1 -2.9,-.7zM138.6,233.6l2.9,.7 .6,-1.2 -3,-.6zM141.5,234.3l2.9,.6 .6,-1.2 -2.9,-.6zM144.4,234.9l3,.5 .5,-1.1 -2.9,-.6zM147.4,235.4l2.9,.6 .6,-1.1 -3,-.6zM150.3,236l2.9,.5 .6,-1.1 -2.9,-.5zM153.2,236.5l3,.5 .5,-1.1 -2.9,-.5zM156.2,237l3,.4 .5,-1.1 -3,-.4zM159.2,237.4l2.9,.4 .6,-1.1 -3,-.4zM162.1,237.8l3,.4 .5,-1.1 -2.9,-.4zM165.1,238.2l3,.3 .5,-1.1 -3,-.3zM168.1,238.5l2.9,.3 .6,-1.1 -3,-.3zM171,238.8l3,.3 .6,-1.1 -3,-.3zM174,239.1l3,.2 .5,-1 -2.9,-.3zM177,239.3l3,.2 .5,-1 -3,-.2z"/>
<path fill="#6ccde4" d="M180,239.5l3,.2 .5,-1.1 -3,-.1zM183,239.7l3,.1 .6,-1 -3.1,-.2zM186,239.8l3.1,.1 .5,-1 -3,-.1zM189.1,239.9l3,.1 .5,-1 -3,-.1zM192.1,240l3,.1 .5,-1 -3,-.1zM195.1,240.1l3.1,0 .5,-.9 -3.1,-.1zM198.2,240.1l3,0 .5,-.9 -3,0zM201.2,240.1l3.1,0 .5,-.9 -3.1,0zM204.3,240.1l3,0 .5,-.9 -3,0zM207.3,240.1l3.1,0 .5,-.8 -3.1,-.1zM210.4,240.1l3.1,0 .5,-.8 -3.1,0zM213.5,240.1l3.1,0 .5,-.8 -3.1,0zM216.6,240.1l3.1,0 .4,-.8 -3,0zM219.7,240.1l3.1,0 .4,-.8 -3.1,0zM222.8,240.1l3.1,0 .5,-.8 -3.2,0zM225.9,240.1l3.1,0 .5,-.7 -3.1,-.1zM229,240.1l3.1,0 .5,-.6 -3.1,-.1zM232.1,240.1l3.2,.1 .4,-.6 -3.1,-.1zM235.3,240.2l3.1,0 .4,-.5 -3.1,-.1z"/>
<path fill="#6ccde4" d="M59.9,195.1l2.9,2.4 .6,-.6 -2.9,-2.3zM62.8,197.5l2.9,2.3 .6,-.6 -2.9,-2.3zM65.7,199.8l2.8,2.2 .7,-.6 -2.9,-2.2zM68.5,202l2.9,2.2 .7,-.7 -2.9,-2.1zM71.4,204.2l2.9,2 .7,-.7 -2.9,-2zM74.3,206.2l2.9,2 .6,-.8 -2.8,-1.9zM77.2,208.2l2.9,1.9 .6,-.8 -2.9,-1.9zM80.1,210.1l2.9,1.8 .6,-.8 -2.9,-1.8zM83,211.9l2.9,1.8 .6,-.9 -2.9,-1.7zM85.9,213.7l2.8,1.7 .7,-.9 -2.9,-1.7zM88.7,215.4l2.9,1.6 .6,-.9 -2.8,-1.6zM91.6,217l2.9,1.6 .6,-1 -2.9,-1.5zM94.5,218.6l2.9,1.5 .6,-1 -2.9,-1.5zM97.4,220.1l2.9,1.4 .6,-1 -2.9,-1.4z"/>
<path fill="#71d6de" d="M100.3,221.5l2.9,1.4 .6,-1.1 -2.9,-1.3zM103.2,222.9l2.9,1.3 .6,-1.1 -2.9,-1.3zM106.1,224.2l2.9,1.2 .5,-1 -2.8,-1.3zM109,225.4l2.8,1.2 .6,-1.1 -2.9,-1.1zM111.8,226.6l2.9,1.2 .6,-1.1 -2.9,-1.2zM114.7,227.8l2.9,1 .6,-1.1 -2.9,-1zM117.6,228.8l2.9,1 .6,-1.1 -2.9,-1zM120.5,229.8l2.9,1 .6,-1.2 -2.9,-.9zM123.4,230.8l2.9,.9 .6,-1.2 -2.9,-.9zM126.3,231.7l3,.8 .5,-1.1 -2.9,-.9zM129.3,232.5l2.9,.8 .5,-1.1 -2.9,-.8zM132.2,233.3l2.9,.7 .6,-1.1 -3,-.7zM135.1,234l2.9,.7 .6,-1.1 -2.9,-.7zM138,234.7l2.9,.7 .6,-1.1 -2.9,-.7zM140.9,235.4l3,.6 .5,-1.1 -2.9,-.6zM143.9,236l2.9,.6 .6,-1.2 -3,-.5zM146.8,236.6l2.9,.5 .6,-1.1 -2.9,-.6zM149.7,237.1l3,.5 .5,-1.1 -2.9,-.5zM152.7,237.6l2.9,.5 .6,-1.1 -3,-.5zM155.6,238.1l3,.4 .6,-1.1 -3,-.4zM158.6,238.5l3,.4 .5,-1.1 -2.9,-.4zM161.6,238.9l2.9,.3 .6,-1 -3,-.4zM164.5,239.2l3,.4 .6,-1.1 -3,-.3zM167.5,239.6l3,.3 .5,-1.1 -2.9,-.3z"/>
<path fill="#6ccde4" d="M170.5,239.9l3,.2 .5,-1 -3,-.3zM173.5,240.1l3,.2 .5,-1 -3,-.2zM176.5,240.3l3,.2 .5,-1 -3,-.2zM179.5,240.5l3,.2 .5,-1 -3,-.2zM182.5,240.7l3,.1 .5,-1 -3,-.1zM185.5,240.8l3,.1 .6,-1 -3.1,-.1zM188.5,240.9l3.1,0 .5,-.9 -3,-.1zM191.6,240.9l3,.1 .5,-.9 -3,-.1zM194.6,241l3.1,0 .5,-.9 -3.1,0zM197.7,241l3,0 .5,-.9 -3,0zM200.7,241l3.1,0 .5,-.9 -3.1,0zM203.8,241l3,0 .5,-.9 -3,0zM206.8,241l3.1,0 .5,-.9 -3.1,0zM209.9,241l3.1,-.1 .5,-.8 -3.1,0zM213,240.9l3.1,0 .5,-.8 -3.1,0zM216.1,240.9l3.1,0 .5,-.8 -3.1,0zM219.2,240.9l3.1,0 .5,-.8 -3.1,0zM222.3,240.9l3.1,-.1 .5,-.7 -3.1,0zM225.4,240.8l3.1,0 .5,-.7 -3.1,0zM228.5,240.8l3.2,-.1 .4,-.6 -3.1,0zM231.7,240.7l3.1,0 .5,-.5 -3.2,-.1zM234.8,240.7l3.1,0 .5,-.5 -3.1,0z"/>
<path fill="#6ccde4" d="M59.2,195.6l2.9,2.5 .7,-.6 -2.9,-2.4zM62.1,198.1l2.9,2.3 .7,-.6 -2.9,-2.3zM65,200.4l2.9,2.3 .6,-.7 -2.8,-2.2zM67.9,202.7l2.9,2.2 .6,-.7 -2.9,-2.2zM70.8,204.9l2.9,2 .6,-.7 -2.9,-2zM73.7,206.9l2.9,2.1 .6,-.8 -2.9,-2zM76.6,209l2.9,1.9 .6,-.8 -2.9,-1.9zM79.5,210.9l2.9,1.9 .6,-.9 -2.9,-1.8zM82.4,212.8l2.8,1.7 .7,-.8 -2.9,-1.8zM85.2,214.5l2.9,1.8 .6,-.9 -2.8,-1.7zM88.1,216.3l2.9,1.6 .6,-.9 -2.9,-1.6zM91,217.9l2.9,1.6 .6,-.9 -2.9,-1.6zM93.9,219.5l2.9,1.5 .6,-.9 -2.9,-1.5zM96.8,221l2.9,1.5 .6,-1 -2.9,-1.4zM99.7,222.5l2.9,1.4 .6,-1 -2.9,-1.4z"/>
<path fill="#71d6de" d="M102.6,223.9l2.9,1.3 .6,-1 -2.9,-1.3zM105.5,225.2l2.9,1.3 .6,-1.1 -2.9,-1.2zM108.4,226.5l2.9,1.2 .5,-1.1 -2.8,-1.2zM111.3,227.7l2.9,1.1 .5,-1 -2.9,-1.2zM114.2,228.8l2.9,1.1 .5,-1.1 -2.9,-1zM117.1,229.9l2.9,1 .5,-1.1 -2.9,-1zM120,230.9l2.9,1 .5,-1.1 -2.9,-1zM122.9,231.9l2.9,.9 .5,-1.1 -2.9,-.9zM125.8,232.8l2.9,.8 .6,-1.1 -3,-.8zM128.7,233.6l2.9,.8 .6,-1.1 -2.9,-.8zM131.6,234.4l2.9,.7 .6,-1.1 -2.9,-.7zM134.5,235.1l2.9,.7 .6,-1.1 -2.9,-.7zM137.4,235.8l3,.7 .5,-1.1 -2.9,-.7zM140.4,236.5l2.9,.6 .6,-1.1 -3,-.6zM143.3,237.1l2.9,.5 .6,-1 -2.9,-.6zM146.2,237.6l3,.6 .5,-1.1 -2.9,-.5zM149.2,238.2l2.9,.5 .6,-1.1 -3,-.5zM152.1,238.7l3,.4 .5,-1 -2.9,-.5zM155.1,239.1l3,.4 .5,-1 -3,-.4zM158.1,239.5l2.9,.4 .6,-1 -3,-.4z"/>
<path fill="#6ccde4" d="M161,239.9l3,.4 .5,-1.1 -2.9,-.3zM164,240.3l3,.3 .5,-1 -3,-.4zM167,240.6l3,.3 .5,-1 -3,-.3zM170,240.9l3,.2 .5,-1 -3,-.2zM173,241.1l3,.2 .5,-1 -3,-.2zM176,241.3l3,.2 .5,-1 -3,-.2zM179,241.5l3,.1 .5,-.9 -3,-.2zM182,241.6l3,.1 .5,-.9 -3,-.1zM185,241.7l3,.1 .5,-.9 -3,-.1zM188,241.8l3.1,0 .5,-.9 -3.1,0zM191.1,241.8l3,0 .5,-.8 -3,-.1zM194.1,241.8l3,0 .6,-.8 -3.1,0zM197.1,241.8l3.1,0 .5,-.8 -3,0zM200.2,241.8l3.1,0 .5,-.8 -3.1,0zM203.3,241.8l3,0 .5,-.8 -3,0zM206.3,241.8l3.1,-.1 .5,-.7 -3.1,0zM209.4,241.7l3.1,0 .5,-.8 -3.1,.1zM212.5,241.7l3.1,0 .5,-.8 -3.1,0zM215.6,241.7l3.1,-.1 .5,-.7 -3.1,0zM218.7,241.6l3.1,-.1 .5,-.6 -3.1,0zM221.8,241.5l3.1,0 .5,-.7 -3.1,.1zM224.9,241.5l3.2,-.1 .4,-.6 -3.1,0zM228.1,241.4l3.1,-.1 .5,-.6 -3.2,.1zM231.2,241.3l3.1,-.2 .5,-.4 -3.1,0zM234.3,241.1l3.2,-.1 .4,-.3 -3.1,0z"/>
<path fill="#6ccde4" d="M58.5,196.1l2.9,2.5 .7,-.5 -2.9,-2.5zM61.4,198.6l2.9,2.4 .7,-.6 -2.9,-2.3zM64.3,201l2.9,2.3 .7,-.6 -2.9,-2.3zM67.2,203.3l2.9,2.3 .7,-.7 -2.9,-2.2zM70.1,205.6l2.9,2.1 .7,-.8 -2.9,-2zM73,207.7l2.9,2 .7,-.7 -2.9,-2.1zM75.9,209.7l2.9,2 .7,-.8 -2.9,-1.9zM78.8,211.7l2.9,1.9 .7,-.8 -2.9,-1.9zM81.7,213.6l2.9,1.8 .6,-.9 -2.8,-1.7zM84.6,215.4l2.9,1.8 .6,-.9 -2.9,-1.8zM87.5,217.2l2.9,1.7 .6,-1 -2.9,-1.6zM90.4,218.9l2.9,1.6 .6,-1 -2.9,-1.6zM93.3,220.5l2.9,1.5 .6,-1 -2.9,-1.5zM96.2,222l2.9,1.5 .6,-1 -2.9,-1.5zM99.1,223.5l2.9,1.4 .6,-1 -2.9,-1.4z"/>
<path fill="#71d6de" d="M102,224.9l2.9,1.4 .6,-1.1 -2.9,-1.3zM104.9,226.3l2.9,1.3 .6,-1.1 -2.9,-1.3zM107.8,227.6l2.9,1.2 .6,-1.1 -2.9,-1.2zM110.7,228.8l2.9,1.1 .6,-1.1 -2.9,-1.1zM113.6,229.9l2.9,1.1 .6,-1.1 -2.9,-1.1zM116.5,231l2.9,1 .6,-1.1 -2.9,-1zM119.4,232l2.9,1 .6,-1.1 -2.9,-1zM122.3,233l2.9,.9 .6,-1.1 -2.9,-.9zM125.2,233.9l2.9,.8 .6,-1.1 -2.9,-.8zM128.1,234.7l2.9,.8 .6,-1.1 -2.9,-.8zM131,235.5l3,.7 .5,-1.1 -2.9,-.7zM134,236.2l2.9,.7 .5,-1.1 -2.9,-.7zM136.9,236.9l2.9,.7 .6,-1.1 -3,-.7zM139.8,237.6l2.9,.6 .6,-1.1 -2.9,-.6zM142.7,238.2l3,.5 .5,-1.1 -2.9,-.5zM145.7,238.7l2.9,.5 .6,-1 -3,-.6zM148.6,239.2l3,.5 .5,-1 -2.9,-.5zM151.6,239.7l2.9,.5 .6,-1.1 -3,-.4z"/>
<path fill="#6ccde4" d="M154.5,240.2l3,.4 .6,-1.1 -3,-.4zM157.5,240.6l3,.3 .5,-1 -2.9,-.4zM160.5,240.9l3,.4 .5,-1 -3,-.4zM163.5,241.3l2.9,.3 .6,-1 -3,-.3zM166.4,241.6l3,.2 .6,-.9 -3,-.3zM169.4,241.8l3,.2 .6,-.9 -3,-.2zM172.4,242l3,.2 .6,-.9 -3,-.2zM175.4,242.2l3,.2 .6,-.9 -3,-.2zM178.4,242.4l3.1,.1 .5,-.9 -3,-.1zM181.5,242.5l3,.1 .5,-.9 -3,-.1zM184.5,242.6l3,0 .5,-.8 -3,-.1zM187.5,242.6l3,0 .6,-.8 -3.1,0zM190.5,242.6l3.1,.1 .5,-.9 -3,0zM193.6,242.7l3,-.1 .5,-.8 -3,0zM196.6,242.6l3.1,0 .5,-.8 -3.1,0zM199.7,242.6l3.1,0 .5,-.8 -3.1,0zM202.8,242.6l3,-.1 .5,-.7 -3,0zM205.8,242.5l3.1,0 .5,-.8 -3.1,.1zM208.9,242.5l3.1,-.1 .5,-.7 -3.1,0zM212,242.4l3.1,-.1 .5,-.6 -3.1,0zM215.1,242.3l3.1,0 .5,-.7 -3.1,.1zM218.2,242.3l3.1,-.1 .5,-.7 -3.1,.1zM221.3,242.2l3.2,-.2 .4,-.5 -3.1,0zM224.5,242l3.1,-.1 .5,-.5 -3.2,.1zM227.6,241.9l3.1,-.2 .5,-.4 -3.1,.1zM230.7,241.7l3.2,-.2 .4,-.4 -3.1,.2zM233.9,241.5l3.2,-.2 .4,-.3 -3.2,.1z"/>
<path fill="#6ccde4" d="M57.9,196.6l2.9,2.6 .6,-.6 -2.9,-2.5zM60.8,199.2l2.9,2.5 .6,-.7 -2.9,-2.4zM63.7,201.7l2.9,2.3 .6,-.7 -2.9,-2.3zM66.6,204l2.9,2.3 .6,-.7 -2.9,-2.3zM69.5,206.3l2.9,2.1 .6,-.7 -2.9,-2.1zM72.4,208.4l2.9,2.1 .6,-.8 -2.9,-2zM75.3,210.5l2.9,2 .6,-.8 -2.9,-2zM78.2,212.5l2.9,2 .6,-.9 -2.9,-1.9zM81.1,214.5l2.9,1.8 .6,-.9 -2.9,-1.8zM84,216.3l2.9,1.8 .6,-.9 -2.9,-1.8zM86.9,218.1l2.9,1.7 .6,-.9 -2.9,-1.7zM89.8,219.8l2.9,1.6 .6,-.9 -2.9,-1.6zM92.7,221.4l2.9,1.6 .6,-1 -2.9,-1.5zM95.6,223l2.9,1.5 .6,-1 -2.9,-1.5zM98.5,224.5l2.9,1.4 .6,-1 -2.9,-1.4z"/>
<path fill="#71d6de" d="M101.4,225.9l2.9,1.4 .6,-1 -2.9,-1.4zM104.3,227.3l2.9,1.3 .6,-1 -2.9,-1.3zM107.2,228.6l2.9,1.2 .6,-1 -2.9,-1.2zM110.1,229.8l2.9,1.2 .6,-1.1 -2.9,-1.1zM113,231l2.9,1.1 .6,-1.1 -2.9,-1.1zM115.9,232.1l2.9,1 .6,-1.1 -2.9,-1zM118.8,233.1l2.9,1 .6,-1.1 -2.9,-1zM121.7,234.1l2.9,.9 .6,-1.1 -2.9,-.9zM124.6,235l2.9,.8 .6,-1.1 -2.9,-.8zM127.5,235.8l3,.8 .5,-1.1 -2.9,-.8zM130.5,236.6l2.9,.7 .6,-1.1 -3,-.7zM133.4,237.3l2.9,.7 .6,-1.1 -2.9,-.7zM136.3,238l2.9,.6 .6,-1 -2.9,-.7zM139.2,238.6l3,.6 .5,-1 -2.9,-.6zM142.2,239.2l2.9,.6 .6,-1.1 -3,-.5zM145.1,239.8l3,.5 .5,-1.1 -2.9,-.5z"/>
<path fill="#6ccde4" d="M148.1,240.3l2.9,.4 .6,-1 -3,-.5zM151,240.7l3,.5 .5,-1 -2.9,-.5zM154,241.2l3,.4 .5,-1 -3,-.4zM157,241.6l2.9,.3 .6,-1 -3,-.3zM159.9,241.9l3,.3 .6,-.9 -3,-.4zM162.9,242.2l3,.3 .5,-.9 -2.9,-.3zM165.9,242.5l3,.3 .5,-1 -3,-.2zM168.9,242.8l3,.2 .5,-1 -3,-.2zM171.9,243l3,.1 .5,-.9 -3,-.2zM174.9,243.1l3,.2 .5,-.9 -3,-.2zM177.9,243.3l3,0 .6,-.8 -3.1,-.1zM180.9,243.3l3.1,.1 .5,-.8 -3,-.1zM184,243.4l3,0 .5,-.8 -3,0zM187,243.4l3,0 .5,-.8 -3,0zM190,243.4l3.1,0 .5,-.7 -3.1,-.1zM193.1,243.4l3,0 .5,-.8 -3,.1zM196.1,243.4l3.1,-.1 .5,-.7 -3.1,0zM199.2,243.3l3.1,0 .5,-.7 -3.1,0zM202.3,243.3l3.1,-.1 .4,-.7 -3,.1zM205.4,243.2l3,-.1 .5,-.6 -3.1,0zM208.4,243.1l3.1,0 .5,-.7 -3.1,.1zM211.5,243.1l3.1,-.1 .5,-.7 -3.1,.1zM214.6,243l3.2,-.1 .4,-.6 -3.1,0zM217.8,242.9l3.1,-.2 .4,-.5 -3.1,.1zM220.9,242.7l3.1,-.1 .5,-.6 -3.2,.2zM224,242.6l3.1,-.2 .5,-.5 -3.1,.1zM227.1,242.4l3.2,-.3 .4,-.4 -3.1,.2zM230.3,242.1l3.1,-.3 .5,-.3 -3.2,.2zM233.4,241.8l3.2,-.3 .5,-.2 -3.2,.2z"/>
<path fill="#6ccde4" d="M57.2,197.2l2.9,2.6 .7,-.6 -2.9,-2.6zM60.1,199.8l2.9,2.5 .7,-.6 -2.9,-2.5zM63,202.3l2.9,2.4 .7,-.7 -2.9,-2.3zM65.9,204.7l2.9,2.3 .7,-.7 -2.9,-2.3zM68.8,207l3,2.2 .6,-.8 -2.9,-2.1zM71.8,209.2l2.9,2.1 .6,-.8 -2.9,-2.1zM74.7,211.3l2.9,2 .6,-.8 -2.9,-2zM77.6,213.3l2.9,2 .6,-.8 -2.9,-2zM80.5,215.3l2.9,1.9 .6,-.9 -2.9,-1.8zM83.4,217.2l2.9,1.8 .6,-.9 -2.9,-1.8zM86.3,219l2.9,1.7 .6,-.9 -2.9,-1.7zM89.2,220.7l2.9,1.7 .6,-1 -2.9,-1.6zM92.1,222.4l2.9,1.6 .6,-1 -2.9,-1.6zM95,224l2.9,1.5 .6,-1 -2.9,-1.5zM97.9,225.5l2.9,1.5 .6,-1.1 -2.9,-1.4z"/>
<path fill="#71d6de" d="M100.8,227l2.9,1.3 .6,-1 -2.9,-1.4zM103.7,228.3l2.9,1.3 .6,-1 -2.9,-1.3zM106.6,229.6l2.9,1.3 .6,-1.1 -2.9,-1.2zM109.5,230.9l2.9,1.1 .6,-1 -2.9,-1.2zM112.4,232l2.9,1.1 .6,-1 -2.9,-1.1zM115.3,233.1l2.9,1.1 .6,-1.1 -2.9,-1zM118.2,234.2l2.9,.9 .6,-1 -2.9,-1zM121.1,235.1l2.9,.9 .6,-1 -2.9,-.9zM124,236l3,.9 .5,-1.1 -2.9,-.8zM127,236.9l2.9,.7 .6,-1 -3,-.8zM129.9,237.6l2.9,.8 .6,-1.1 -2.9,-.7zM132.8,238.4l2.9,.6 .6,-1 -2.9,-.7zM135.7,239l3,.7 .5,-1.1 -2.9,-.6zM138.7,239.7l2.9,.6 .6,-1.1 -3,-.6z"/>
<path fill="#6ccde4" d="M141.6,240.3l3,.5 .5,-1 -2.9,-.6zM144.6,240.8l2.9,.5 .6,-1 -3,-.5zM147.5,241.3l3,.4 .5,-1 -2.9,-.4zM150.5,241.7l2.9,.5 .6,-1 -3,-.5zM153.4,242.2l3,.3 .6,-.9 -3,-.4zM156.4,242.5l3,.4 .5,-1 -2.9,-.3zM159.4,242.9l3,.3 .5,-1 -3,-.3zM162.4,243.2l3,.2 .5,-.9 -3,-.3zM165.4,243.4l3,.3 .5,-.9 -3,-.3zM168.4,243.7l3,.1 .5,-.8 -3,-.2zM171.4,243.8l3,.2 .5,-.9 -3,-.1zM174.4,244l3,.1 .5,-.8 -3,-.2zM177.4,244.1l3,.1 .5,-.9 -3,0zM180.4,244.2l3,0 .6,-.8 -3.1,-.1zM183.4,244.2l3.1,0 .5,-.8 -3,0zM186.5,244.2l3,0 .5,-.8 -3,0zM189.5,244.2l3.1,0 .5,-.8 -3.1,0zM192.6,244.2l3,-.1 .5,-.7 -3,0zM195.6,244.1l3.1,-.1 .5,-.7 -3.1,.1zM198.7,244l3.1,-.1 .5,-.6 -3.1,0zM201.8,243.9l3.1,0 .5,-.7 -3.1,.1zM204.9,243.9l3.1,-.1 .4,-.7 -3,.1zM208,243.8l3.1,-.1 .4,-.6 -3.1,0zM211.1,243.7l3.1,-.2 .4,-.5 -3.1,.1zM214.2,243.5l3.1,-.1 .5,-.5 -3.2,.1zM217.3,243.4l3.1,-.2 .5,-.5 -3.1,.2zM220.4,243.2l3.1,-.2 .5,-.4 -3.1,.1zM223.5,243l3.2,-.2 .4,-.4 -3.1,.2zM226.7,242.8l3.1,-.3 .5,-.4 -3.2,.3zM229.8,242.5l3.2,-.4 .4,-.3 -3.1,.3zM233,242.1l3.2,-.4 .4,-.2 -3.2,.3z"/>
<path fill="#6ccde4" d="M56.5,197.7l2.9,2.6 .7,-.5 -2.9,-2.6zM59.4,200.3l3,2.6 .6,-.6 -2.9,-2.5zM62.4,202.9l2.9,2.4 .6,-.6 -2.9,-2.4zM65.3,205.3l2.9,2.4 .6,-.7 -2.9,-2.3zM68.2,207.7l2.9,2.2 .7,-.7 -3,-2.2zM71.1,209.9l2.9,2.2 .7,-.8 -2.9,-2.1zM74,212.1l2.9,2.1 .7,-.9 -2.9,-2zM76.9,214.2l2.9,2 .7,-.9 -2.9,-2zM79.8,216.2l2.9,1.9 .7,-.9 -2.9,-1.9zM82.7,218.1l2.9,1.8 .7,-.9 -2.9,-1.8zM85.6,219.9l2.9,1.8 .7,-1 -2.9,-1.7zM88.5,221.7l3,1.7 .6,-1 -2.9,-1.7zM91.5,223.4l2.9,1.6 .6,-1 -2.9,-1.6zM94.4,225l2.9,1.5 .6,-1 -2.9,-1.5zM97.3,226.5l2.9,1.5 .6,-1 -2.9,-1.5zM100.2,228l2.9,1.4 .6,-1.1 -2.9,-1.3z"/>
<path fill="#71d6de" d="M103.1,229.4l2.9,1.3 .6,-1.1 -2.9,-1.3zM106,230.7l2.9,1.2 .6,-1 -2.9,-1.3zM108.9,231.9l2.9,1.2 .6,-1.1 -2.9,-1.1zM111.8,233.1l2.9,1.1 .6,-1.1 -2.9,-1.1zM114.7,234.2l2.9,1 .6,-1 -2.9,-1.1zM117.6,235.2l2.9,1 .6,-1.1 -2.9,-.9zM120.5,236.2l3,.9 .5,-1.1 -2.9,-.9zM123.5,237.1l2.9,.8 .6,-1 -3,-.9zM126.4,237.9l2.9,.8 .6,-1.1 -2.9,-.7zM129.3,238.7l2.9,.7 .6,-1 -2.9,-.8zM132.2,239.4l3,.7 .5,-1.1 -2.9,-.6zM135.2,240.1l2.9,.6 .6,-1 -3,-.7z"/>
<path fill="#6ccde4" d="M138.1,240.7l3,.6 .5,-1 -2.9,-.6zM141.1,241.3l2.9,.5 .6,-1 -3,-.5zM144,241.8l3,.5 .5,-1 -2.9,-.5zM147,242.3l2.9,.4 .6,-1 -3,-.4zM149.9,242.7l3,.4 .5,-.9 -2.9,-.5zM152.9,243.1l3,.4 .5,-1 -3,-.3zM155.9,243.5l2.9,.3 .6,-.9 -3,-.4zM158.8,243.8l3,.3 .6,-.9 -3,-.3zM161.8,244.1l3,.2 .6,-.9 -3,-.2zM164.8,244.3l3,.2 .6,-.8 -3,-.3zM167.8,244.5l3,.2 .6,-.9 -3,-.1zM170.8,244.7l3,.1 .6,-.8 -3,-.2zM173.8,244.8l3.1,.1 .5,-.8 -3,-.1zM176.9,244.9l3,.1 .5,-.8 -3,-.1zM179.9,245l3,0 .5,-.8 -3,0zM182.9,245l3.1,-.1 .5,-.7 -3.1,0zM186,244.9l3,0 .5,-.7 -3,0zM189,244.9l3.1,-.1 .5,-.6 -3.1,0zM192.1,244.8l3,0 .5,-.7 -3,.1zM195.1,244.8l3.1,-.1 .5,-.7 -3.1,.1zM198.2,244.7l3.1,-.1 .5,-.7 -3.1,.1zM201.3,244.6l3.1,-.2 .5,-.5 -3.1,0zM204.4,244.4l3.1,-.1 .5,-.5 -3.1,.1zM207.5,244.3l3.1,-.1 .5,-.5 -3.1,.1zM210.6,244.2l3.1,-.1 .5,-.6 -3.1,.2zM213.7,244.1l3.1,-.2 .5,-.5 -3.1,.1zM216.8,243.9l3.1,-.2 .5,-.5 -3.1,.2zM219.9,243.7l3.2,-.2 .4,-.5 -3.1,.2zM223.1,243.5l3.1,-.3 .5,-.4 -3.2,.2zM226.2,243.2l3.2,-.4 .4,-.3 -3.1,.3zM229.4,242.8l3.1,-.5 .5,-.2 -3.2,.4zM232.5,242.3l3.2,-.5 .5,-.1 -3.2,.4z"/>
<path fill="#6ccde4" d="M55.8,198.2l3,2.7 .6,-.6 -2.9,-2.6zM58.8,200.9l2.9,2.6 .7,-.6 -3,-2.6zM61.7,203.5l2.9,2.5 .7,-.7 -2.9,-2.4zM64.6,206l2.9,2.4 .7,-.7 -2.9,-2.4zM67.5,208.4l3,2.3 .6,-.8 -2.9,-2.2zM70.5,210.7l2.9,2.2 .6,-.8 -2.9,-2.2zM73.4,212.9l2.9,2.1 .6,-.8 -2.9,-2.1zM76.3,215l2.9,2 .6,-.8 -2.9,-2zM79.2,217l2.9,2 .6,-.9 -2.9,-1.9zM82.1,219l2.9,1.8 .6,-.9 -2.9,-1.8zM85,220.8l2.9,1.8 .6,-.9 -2.9,-1.8zM87.9,222.6l2.9,1.7 .7,-.9 -3,-1.7zM90.8,224.3l2.9,1.7 .7,-1 -2.9,-1.6zM93.7,226l2.9,1.5 .7,-1 -2.9,-1.5zM96.6,227.5l3,1.5 .6,-1 -2.9,-1.5zM99.6,229l2.9,1.4 .6,-1 -2.9,-1.4z"/>
<path fill="#71d6de" d="M102.5,230.4l2.9,1.3 .6,-1 -2.9,-1.3zM105.4,231.7l2.9,1.3 .6,-1.1 -2.9,-1.2zM108.3,233l2.9,1.2 .6,-1.1 -2.9,-1.2zM111.2,234.2l2.9,1.1 .6,-1.1 -2.9,-1.1zM114.1,235.3l2.9,1 .6,-1.1 -2.9,-1zM117,236.3l2.9,.9 .6,-1 -2.9,-1zM119.9,237.2l3,.9 .6,-1 -3,-.9zM122.9,238.1l2.9,.9 .6,-1.1 -2.9,-.8zM125.8,239l2.9,.7 .6,-1 -2.9,-.8zM128.7,239.7l3,.8 .5,-1.1 -2.9,-.7z"/>
<path fill="#6ccde4" d="M131.7,240.5l2.9,.6 .6,-1 -3,-.7zM134.6,241.1l2.9,.6 .6,-1 -2.9,-.6zM137.5,241.7l3,.6 .6,-1 -3,-.6zM140.5,242.3l2.9,.5 .6,-1 -2.9,-.5zM143.4,242.8l3,.5 .6,-1 -3,-.5zM146.4,243.3l3,.4 .5,-1 -2.9,-.4zM149.4,243.7l2.9,.4 .6,-1 -3,-.4zM152.3,244.1l3,.3 .6,-.9 -3,-.4zM155.3,244.4l3,.3 .5,-.9 -2.9,-.3zM158.3,244.7l3,.3 .5,-.9 -3,-.3zM161.3,245l3,.2 .5,-.9 -3,-.2zM164.3,245.2l3,.2 .5,-.9 -3,-.2zM167.3,245.4l3,.1 .5,-.8 -3,-.2zM170.3,245.5l3,.1 .5,-.8 -3,-.1zM173.3,245.6l3,.1 .6,-.8 -3.1,-.1zM176.3,245.7l3.1,0 .5,-.7 -3,-.1zM179.4,245.7l3,0 .5,-.7 -3,0zM182.4,245.7l3,0 .6,-.8 -3.1,.1zM185.4,245.7l3.1,-.1 .5,-.7 -3,0zM188.5,245.6l3,-.1 .6,-.7 -3.1,.1zM191.5,245.5l3.1,-.1 .5,-.6 -3,0zM194.6,245.4l3.1,-.1 .5,-.6 -3.1,.1zM197.7,245.3l3.1,-.2 .5,-.5 -3.1,.1zM200.8,245.1l3.1,-.1 .5,-.6 -3.1,.2zM203.9,245l3.1,-.1 .5,-.6 -3.1,.1zM207,244.9l3.1,-.2 .5,-.5 -3.1,.1zM210.1,244.7l3.1,-.1 .5,-.5 -3.1,.1zM213.2,244.6l3.1,-.2 .5,-.5 -3.1,.2zM216.3,244.4l3.2,-.3 .4,-.4 -3.1,.2zM219.5,244.1l3.1,-.3 .5,-.3 -3.2,.2zM222.6,243.8l3.2,-.3 .4,-.3 -3.1,.3zM225.8,243.5l3.1,-.5 .5,-.2 -3.2,.4zM228.9,243l3.2,-.5 .4,-.2 -3.1,.5zM232.1,242.5l3.2,-.7 .4,0 -3.2,.5z"/>
<path fill="#6ccde4" d="M55.2,198.8l2.9,2.7 .7,-.6 -3,-2.7zM58.1,201.5l2.9,2.6 .7,-.6 -2.9,-2.6zM61,204.1l3,2.6 .6,-.7 -2.9,-2.5zM64,206.7l2.9,2.4 .6,-.7 -2.9,-2.4zM66.9,209.1l2.9,2.3 .7,-.7 -3,-2.3zM69.8,211.4l2.9,2.3 .7,-.8 -2.9,-2.2zM72.7,213.7l3,2.1 .6,-.8 -2.9,-2.1zM75.7,215.8l2.9,2.1 .6,-.9 -2.9,-2zM78.6,217.9l2.9,2 .6,-.9 -2.9,-2zM81.5,219.9l2.9,1.9 .6,-1 -2.9,-1.8zM84.4,221.8l2.9,1.8 .6,-1 -2.9,-1.8zM87.3,223.6l2.9,1.7 .6,-1 -2.9,-1.7zM90.2,225.3l2.9,1.6 .6,-.9 -2.9,-1.7zM93.1,226.9l2.9,1.6 .6,-1 -2.9,-1.5zM96,228.5l2.9,1.5 .7,-1 -3,-1.5zM98.9,230l3,1.4 .6,-1 -2.9,-1.4zM101.9,231.4l2.9,1.4 .6,-1.1 -2.9,-1.3z"/>
<path fill="#71d6de" d="M104.8,232.8l2.9,1.2 .6,-1 -2.9,-1.3zM107.7,234l2.9,1.2 .6,-1 -2.9,-1.2zM110.6,235.2l2.9,1.1 .6,-1 -2.9,-1.1zM113.5,236.3l2.9,1 .6,-1 -2.9,-1zM116.4,237.3l3,1 .5,-1.1 -2.9,-.9zM119.4,238.3l2.9,.9 .6,-1.1 -3,-.9zM122.3,239.2l2.9,.8 .6,-1 -2.9,-.9zM125.2,240l2.9,.8 .6,-1.1 -2.9,-.7z"/>
<path fill="#6ccde4" d="M128.1,240.8l3,.7 .6,-1 -3,-.8zM131.1,241.5l2.9,.6 .6,-1 -2.9,-.6zM134,242.1l3,.6 .5,-1 -2.9,-.6zM137,242.7l2.9,.6 .6,-1 -3,-.6zM139.9,243.3l3,.5 .5,-1 -2.9,-.5zM142.9,243.8l2.9,.4 .6,-.9 -3,-.5zM145.8,244.2l3,.5 .6,-1 -3,-.4zM148.8,244.7l3,.3 .5,-.9 -2.9,-.4zM151.8,245l3,.4 .5,-1 -3,-.3zM154.8,245.4l2.9,.2 .6,-.9 -3,-.3zM157.7,245.6l3,.3 .6,-.9 -3,-.3zM160.7,245.9l3,.2 .6,-.9 -3,-.2zM163.7,246.1l3,.1 .6,-.8 -3,-.2zM166.7,246.2l3,.1 .6,-.8 -3,-.1zM169.7,246.3l3.1,.1 .5,-.8 -3,-.1zM172.8,246.4l3,0 .5,-.7 -3,-.1zM175.8,246.4l3,0 .6,-.7 -3.1,0zM178.8,246.4l3.1,0 .5,-.7 -3,0zM181.9,246.4l3,-.1 .5,-.6 -3,0zM184.9,246.3l3.1,-.1 .5,-.6 -3.1,.1zM188,246.2l3,-.1 .5,-.6 -3,.1zM191,246.1l3.1,-.1 .5,-.6 -3.1,.1zM194.1,246l3.1,-.2 .5,-.5 -3.1,.1zM197.2,245.8l3.1,-.1 .5,-.6 -3.1,.2zM200.3,245.7l3.1,-.2 .5,-.5 -3.1,.1zM203.4,245.5l3.1,-.2 .5,-.4 -3.1,.1zM206.5,245.3l3.1,-.1 .5,-.5 -3.1,.2zM209.6,245.2l3.1,-.2 .5,-.4 -3.1,.1zM212.7,245l3.1,-.2 .5,-.4 -3.1,.2zM215.8,244.8l3.2,-.3 .5,-.4 -3.2,.3zM219,244.5l3.1,-.3 .5,-.4 -3.1,.3zM222.1,244.2l3.2,-.4 .5,-.3 -3.2,.3zM225.3,243.8l3.2,-.5 .4,-.3 -3.1,.5zM228.5,243.3l3.1,-.7 .5,-.1 -3.2,.5z"/>
<path fill="#6ed796" d="M231.6,242.6l3.2,-.7 .5,-.1 -3.2,.7z"/>
<path fill="#6ccde4" d="M54.5,199.3l2.9,2.8 .7,-.6 -2.9,-2.7zM57.4,202.1l3,2.7 .6,-.7 -2.9,-2.6zM60.4,204.8l2.9,2.5 .7,-.6 -3,-2.6zM63.3,207.3l2.9,2.5 .7,-.7 -2.9,-2.4zM66.2,209.8l3,2.4 .6,-.8 -2.9,-2.3zM69.2,212.2l2.9,2.3 .6,-.8 -2.9,-2.3zM72.1,214.5l2.9,2.2 .7,-.9 -3,-2.1zM75,216.7l2.9,2.1 .7,-.9 -2.9,-2.1zM77.9,218.8l3,2 .6,-.9 -2.9,-2zM80.9,220.8l2.9,1.9 .6,-.9 -2.9,-1.9zM83.8,222.7l2.9,1.8 .6,-.9 -2.9,-1.8zM86.7,224.5l2.9,1.8 .6,-1 -2.9,-1.7zM89.6,226.3l2.9,1.6 .6,-1 -2.9,-1.6zM92.5,227.9l2.9,1.6 .6,-1 -2.9,-1.6zM95.4,229.5l2.9,1.5 .6,-1 -2.9,-1.5zM98.3,231l3,1.4 .6,-1 -3,-1.4zM101.3,232.4l2.9,1.4 .6,-1 -2.9,-1.4zM104.2,233.8l2.9,1.3 .6,-1.1 -2.9,-1.2z"/>
<path fill="#71d6de" d="M107.1,235.1l2.9,1.1 .6,-1 -2.9,-1.2zM110,236.2l2.9,1.1 .6,-1 -2.9,-1.1zM112.9,237.3l2.9,1.1 .6,-1.1 -2.9,-1zM115.8,238.4l3,.9 .6,-1 -3,-1zM118.8,239.3l2.9,.9 .6,-1 -2.9,-.9z"/>
<path fill="#6ccde4" d="M121.7,240.2l2.9,.8 .6,-1 -2.9,-.8zM124.6,241l3,.8 .5,-1 -2.9,-.8zM127.6,241.8l2.9,.7 .6,-1 -3,-.7zM130.5,242.5l2.9,.6 .6,-1 -2.9,-.6zM133.4,243.1l3,.6 .6,-1 -3,-.6zM136.4,243.7l3,.6 .5,-1 -2.9,-.6zM139.4,244.3l2.9,.5 .6,-1 -3,-.5zM142.3,244.8l3,.4 .5,-1 -2.9,-.4zM145.3,245.2l2.9,.4 .6,-.9 -3,-.5zM148.2,245.6l3,.3 .6,-.9 -3,-.3zM151.2,245.9l3,.4 .6,-.9 -3,-.4zM154.2,246.3l3,.2 .5,-.9 -2.9,-.2zM157.2,246.5l3,.2 .5,-.8 -3,-.3zM160.2,246.7l3,.2 .5,-.8 -3,-.2zM163.2,246.9l3,.1 .5,-.8 -3,-.1zM166.2,247l3,.1 .5,-.8 -3,-.1zM169.2,247.1l3,.1 .6,-.8 -3.1,-.1zM172.2,247.2l3.1,0 .5,-.8 -3,0zM175.3,247.2l3,-.1 .5,-.7 -3,0zM178.3,247.1l3,0 .6,-.7 -3.1,0zM181.3,247.1l3.1,-.1 .5,-.7 -3,.1zM184.4,247l3,-.2 .6,-.6 -3.1,.1zM187.4,246.8l3.1,-.1 .5,-.6 -3,.1zM190.5,246.7l3.1,-.2 .5,-.5 -3.1,.1zM193.6,246.5l3.1,-.1 .5,-.6 -3.1,.2zM196.7,246.4l3.1,-.2 .5,-.5 -3.1,.1zM199.8,246.2l3.1,-.2 .5,-.5 -3.1,.2zM202.9,246l3.1,-.2 .5,-.5 -3.1,.2zM206,245.8l3.1,-.2 .5,-.4 -3.1,.1zM209.1,245.6l3.1,-.2 .5,-.4 -3.1,.2zM212.2,245.4l3.2,-.2 .4,-.4 -3.1,.2zM215.4,245.2l3.1,-.3 .5,-.4 -3.2,.3zM218.5,244.9l3.2,-.4 .4,-.3 -3.1,.3zM221.7,244.5l3.1,-.5 .5,-.2 -3.2,.4zM224.8,244l3.2,-.6 .5,-.1 -3.2,.5zM228,243.4l3.2,-.7 .4,-.1 -3.1,.7z"/>
<path fill="#6ed796" d="M231.2,242.7l3.2,-.8 .4,0 -3.2,.7z"/>
<path fill="#6ccde4" d="M53.8,199.8l3,2.9 .6,-.6 -2.9,-2.8zM56.8,202.7l2.9,2.7 .7,-.6 -3,-2.7zM59.7,205.4l2.9,2.6 .7,-.7 -2.9,-2.5zM62.6,208l3,2.5 .6,-.7 -2.9,-2.5zM65.6,210.5l2.9,2.4 .7,-.7 -3,-2.4zM68.5,212.9l2.9,2.4 .7,-.8 -2.9,-2.3zM71.4,215.3l3,2.2 .6,-.8 -2.9,-2.2zM74.4,217.5l2.9,2.1 .6,-.8 -2.9,-2.1zM77.3,219.6l2.9,2.1 .7,-.9 -3,-2zM80.2,221.7l2.9,1.9 .7,-.9 -2.9,-1.9zM83.1,223.6l3,1.9 .6,-1 -2.9,-1.8zM86.1,225.5l2.9,1.7 .6,-.9 -2.9,-1.8zM89,227.2l2.9,1.7 .6,-1 -2.9,-1.6zM91.9,228.9l2.9,1.6 .6,-1 -2.9,-1.6zM94.8,230.5l2.9,1.5 .6,-1 -2.9,-1.5zM97.7,232l2.9,1.5 .7,-1.1 -3,-1.4zM100.6,233.5l3,1.3 .6,-1 -2.9,-1.4zM103.6,234.8l2.9,1.3 .6,-1 -2.9,-1.3zM106.5,236.1l2.9,1.2 .6,-1.1 -2.9,-1.1zM109.4,237.3l2.9,1.1 .6,-1.1 -2.9,-1.1zM112.3,238.4l3,1 .5,-1 -2.9,-1.1zM115.3,239.4l2.9,1 .6,-1.1 -3,-.9zM118.2,240.4l2.9,.9 .6,-1.1 -2.9,-.9zM121.1,241.3l2.9,.8 .6,-1.1 -2.9,-.8zM124,242.1l3,.7 .6,-1 -3,-.8zM127,242.8l2.9,.7 .6,-1 -2.9,-.7zM129.9,243.5l3,.6 .5,-1 -2.9,-.6zM132.9,244.1l2.9,.6 .6,-1 -3,-.6zM135.8,244.7l3,.5 .6,-.9 -3,-.6zM138.8,245.2l2.9,.5 .6,-.9 -2.9,-.5zM141.7,245.7l3,.4 .6,-.9 -3,-.4zM144.7,246.1l3,.4 .5,-.9 -2.9,-.4zM147.7,246.5l3,.4 .5,-1 -3,-.3zM150.7,246.9l2.9,.2 .6,-.8 -3,-.4zM153.6,247.1l3,.3 .6,-.9 -3,-.2zM156.6,247.4l3,.2 .6,-.9 -3,-.2zM159.6,247.6l3,.1 .6,-.8 -3,-.2zM162.6,247.7l3,.1 .6,-.8 -3,-.1zM165.6,247.8l3.1,.1 .5,-.8 -3,-.1zM168.7,247.9l3,0 .5,-.7 -3,-.1zM171.7,247.9l3,0 .6,-.7 -3.1,0zM174.7,247.9l3.1,-.1 .5,-.7 -3,.1zM177.8,247.8l3,-.1 .5,-.6 -3,0zM180.8,247.7l3.1,-.1 .5,-.6 -3.1,.1zM183.9,247.6l3,-.2 .5,-.6 -3,.2zM186.9,247.4l3.1,-.1 .5,-.6 -3.1,.1zM190,247.3l3.1,-.2 .5,-.6 -3.1,.2zM193.1,247.1l3.1,-.2 .5,-.5 -3.1,.1zM196.2,246.9l3.1,-.3 .5,-.4 -3.1,.2zM199.3,246.6l3.1,-.2 .5,-.4 -3.1,.2zM202.4,246.4l3.1,-.2 .5,-.4 -3.1,.2zM205.5,246.2l3.1,-.2 .5,-.4 -3.1,.2zM208.6,246l3.1,-.2 .5,-.4 -3.1,.2zM211.7,245.8l3.2,-.3 .5,-.3 -3.2,.2zM214.9,245.5l3.1,-.3 .5,-.3 -3.1,.3zM218,245.2l3.2,-.5 .5,-.2 -3.2,.4zM221.2,244.7l3.2,-.5 .4,-.2 -3.1,.5zM224.4,244.2l3.1,-.6 .5,-.2 -3.2,.6z"/>
<path fill="#6ed796" d="M227.5,243.6l3.2,-.8 .5,-.1 -3.2,.7zM230.7,242.8l3.3,-1 .4,.1 -3.2,.8z"/>
<path fill="#6ccde4" d="M53.1,200.4l3,2.9 .7,-.6 -3,-2.9zM56.1,203.3l2.9,2.7 .7,-.6 -2.9,-2.7zM59,206l3,2.7 .6,-.7 -2.9,-2.6zM62,208.7l2.9,2.5 .7,-.7 -3,-2.5zM64.9,211.2l3,2.5 .6,-.8 -2.9,-2.4zM67.9,213.7l2.9,2.4 .6,-.8 -2.9,-2.4zM70.8,216.1l2.9,2.2 .7,-.8 -3,-2.2zM73.7,218.3l3,2.2 .6,-.9 -2.9,-2.1zM76.7,220.5l2.9,2.1 .6,-.9 -2.9,-2.1zM79.6,222.6l2.9,1.9 .6,-.9 -2.9,-1.9zM82.5,224.5l2.9,1.9 .7,-.9 -3,-1.9zM85.4,226.4l3,1.8 .6,-1 -2.9,-1.7zM88.4,228.2l2.9,1.7 .6,-1 -2.9,-1.7zM91.3,229.9l2.9,1.6 .6,-1 -2.9,-1.6zM94.2,231.5l2.9,1.5 .6,-1 -2.9,-1.5zM97.1,233l2.9,1.5 .6,-1 -2.9,-1.5zM100,234.5l3,1.3 .6,-1 -3,-1.3zM103,235.8l2.9,1.3 .6,-1 -2.9,-1.3zM105.9,237.1l2.9,1.2 .6,-1 -2.9,-1.2zM108.8,238.3l2.9,1.1 .6,-1 -2.9,-1.1zM111.7,239.4l3,1 .6,-1 -3,-1zM114.7,240.4l2.9,1 .6,-1 -2.9,-1zM117.6,241.4l2.9,.9 .6,-1 -2.9,-.9zM120.5,242.3l3,.8 .5,-1 -2.9,-.8zM123.5,243.1l2.9,.7 .6,-1 -3,-.7zM126.4,243.8l2.9,.7 .6,-1 -2.9,-.7zM129.3,244.5l3,.6 .6,-1 -3,-.6zM132.3,245.1l2.9,.6 .6,-1 -2.9,-.6zM135.2,245.7l3,.5 .6,-1 -3,-.5zM138.2,246.2l3,.5 .5,-1 -2.9,-.5zM141.2,246.7l2.9,.4 .6,-1 -3,-.4zM144.1,247.1l3,.3 .6,-.9 -3,-.4zM147.1,247.4l3,.4 .6,-.9 -3,-.4zM150.1,247.8l3,.2 .5,-.9 -2.9,-.2zM153.1,248l3,.2 .5,-.8 -3,-.3zM156.1,248.2l3,.2 .5,-.8 -3,-.2zM159.1,248.4l3,.1 .5,-.8 -3,-.1zM162.1,248.5l3,.1 .5,-.8 -3,-.1zM165.1,248.6l3,0 .6,-.7 -3.1,-.1zM168.1,248.6l3,0 .6,-.7 -3,0zM171.1,248.6l3.1,0 .5,-.7 -3,0zM174.2,248.6l3,-.1 .6,-.7 -3.1,.1zM177.2,248.5l3.1,-.1 .5,-.7 -3,.1zM180.3,248.4l3,-.2 .6,-.6 -3.1,.1zM183.3,248.2l3.1,-.2 .5,-.6 -3,.2zM186.4,248l3.1,-.2 .5,-.5 -3.1,.1zM189.5,247.8l3.1,-.2 .5,-.5 -3.1,.2zM192.6,247.6l3.1,-.3 .5,-.4 -3.1,.2zM195.7,247.3l3.1,-.2 .5,-.5 -3.1,.3zM198.8,247.1l3.1,-.3 .5,-.4 -3.1,.2zM201.9,246.8l3.1,-.2 .5,-.4 -3.1,.2zM205,246.6l3.1,-.2 .5,-.4 -3.1,.2zM208.1,246.4l3.2,-.3 .4,-.3 -3.1,.2zM211.3,246.1l3.1,-.3 .5,-.3 -3.2,.3zM214.4,245.8l3.2,-.4 .4,-.2 -3.1,.3zM217.6,245.4l3.1,-.4 .5,-.3 -3.2,.5zM220.7,245l3.2,-.6 .5,-.2 -3.2,.5zM223.9,244.4l3.2,-.7 .4,-.1 -3.1,.6z"/>
<path fill="#6ed796" d="M227.1,243.7l3.2,-.9 .4,0 -3.2,.8zM230.3,242.8l3.2,-1.1 .5,.1 -3.3,1z"/>
<path fill="#6ccde4" d="M52.4,200.9l3,3 .7,-.6 -3,-2.9zM55.4,203.9l3,2.8 .6,-.7 -2.9,-2.7zM58.4,206.7l2.9,2.7 .7,-.7 -3,-2.7zM61.3,209.4l3,2.6 .6,-.8 -2.9,-2.5zM64.3,212l2.9,2.5 .7,-.8 -3,-2.5zM67.2,214.5l2.9,2.4 .7,-.8 -2.9,-2.4zM70.1,216.9l3,2.3 .6,-.9 -2.9,-2.2zM73.1,219.2l2.9,2.2 .7,-.9 -3,-2.2zM76,221.4l2.9,2.1 .7,-.9 -2.9,-2.1zM78.9,223.5l3,2 .6,-1 -2.9,-1.9zM81.9,225.5l2.9,1.9 .6,-1 -2.9,-1.9zM84.8,227.4l2.9,1.8 .7,-1 -3,-1.8zM87.7,229.2l3,1.7 .6,-1 -2.9,-1.7zM90.7,230.9l2.9,1.6 .6,-1 -2.9,-1.6zM93.6,232.5l2.9,1.5 .6,-1 -2.9,-1.5zM96.5,234l2.9,1.5 .6,-1 -2.9,-1.5zM99.4,235.5l2.9,1.4 .7,-1.1 -3,-1.3zM102.3,236.9l3,1.2 .6,-1 -2.9,-1.3zM105.3,238.1l2.9,1.2 .6,-1 -2.9,-1.2zM108.2,239.3l2.9,1.1 .6,-1 -2.9,-1.1zM111.1,240.4l3,1.1 .6,-1.1 -3,-1zM114.1,241.5l2.9,.9 .6,-1 -2.9,-1zM117,242.4l2.9,.9 .6,-1 -2.9,-.9zM119.9,243.3l3,.8 .6,-1 -3,-.8zM122.9,244.1l2.9,.7 .6,-1 -2.9,-.7zM125.8,244.8l3,.7 .5,-1 -2.9,-.7zM128.8,245.5l2.9,.6 .6,-1 -3,-.6zM131.7,246.1l3,.6 .5,-1 -2.9,-.6zM134.7,246.7l2.9,.5 .6,-1 -3,-.5zM137.6,247.2l3,.4 .6,-.9 -3,-.5zM140.6,247.6l3,.4 .5,-.9 -2.9,-.4zM143.6,248l3,.4 .5,-1 -3,-.3zM146.6,248.4l2.9,.3 .6,-.9 -3,-.4zM149.5,248.7l3,.2 .6,-.9 -3,-.2zM152.5,248.9l3,.2 .6,-.9 -3,-.2zM155.5,249.1l3,.1 .6,-.8 -3,-.2zM158.5,249.2l3,.1 .6,-.8 -3,-.1zM161.5,249.3l3.1,.1 .5,-.8 -3,-.1zM164.6,249.4l3,0 .5,-.8 -3,0zM167.6,249.4l3,-.1 .5,-.7 -3,0zM170.6,249.3l3,0 .6,-.7 -3.1,0zM173.6,249.3l3.1,-.2 .5,-.6 -3,.1zM176.7,249.1l3.1,-.1 .5,-.6 -3.1,.1zM179.8,249l3,-.2 .5,-.6 -3,.2zM182.8,248.8l3.1,-.2 .5,-.6 -3.1,.2zM185.9,248.6l3.1,-.3 .5,-.5 -3.1,.2zM189,248.3l3.1,-.2 .5,-.5 -3.1,.2zM192.1,248.1l3.1,-.3 .5,-.5 -3.1,.3zM195.2,247.8l3.1,-.3 .5,-.4 -3.1,.2zM198.3,247.5l3.1,-.3 .5,-.4 -3.1,.3zM201.4,247.2l3.1,-.2 .5,-.4 -3.1,.2zM204.5,247l3.1,-.3 .5,-.3 -3.1,.2zM207.6,246.7l3.2,-.3 .5,-.3 -3.2,.3zM210.8,246.4l3.1,-.3 .5,-.3 -3.1,.3zM213.9,246.1l3.2,-.4 .5,-.3 -3.2,.4zM217.1,245.7l3.1,-.6 .5,-.1 -3.1,.4zM220.2,245.1l3.2,-.6 .5,-.1 -3.2,.6z"/>
<path fill="#6ed796" d="M223.4,244.5l3.2,-.8 .5,0 -3.2,.7zM226.6,243.7l3.2,-.9 .5,0 -3.2,.9zM229.8,242.8l3.3,-1.2 .4,.1 -3.2,1.1z"/>
<path fill="#6ccde4" d="M51.8,201.5l2.9,3 .7,-.6 -3,-3zM54.7,204.5l3,2.8 .7,-.6 -3,-2.8zM57.7,207.3l2.9,2.7 .7,-.6 -2.9,-2.7zM60.6,210l3,2.7 .7,-.7 -3,-2.6zM63.6,212.7l3,2.5 .6,-.7 -2.9,-2.5zM66.6,215.2l2.9,2.5 .6,-.8 -2.9,-2.4zM69.5,217.7l2.9,2.3 .7,-.8 -3,-2.3zM72.4,220l3,2.2 .6,-.8 -2.9,-2.2zM75.4,222.2l2.9,2.2 .6,-.9 -2.9,-2.1zM78.3,224.4l2.9,2 .7,-.9 -3,-2zM81.2,226.4l3,1.9 .6,-.9 -2.9,-1.9zM84.2,228.3l2.9,1.8 .6,-.9 -2.9,-1.8zM87.1,230.1l2.9,1.8 .7,-1 -3,-1.7zM90,231.9l3,1.6 .6,-1 -2.9,-1.6zM93,233.5l2.9,1.6 .6,-1.1 -2.9,-1.5zM95.9,235.1l2.9,1.4 .6,-1 -2.9,-1.5zM98.8,236.5l2.9,1.4 .6,-1 -2.9,-1.4zM101.7,237.9l3,1.3 .6,-1.1 -3,-1.2zM104.7,239.2l2.9,1.2 .6,-1.1 -2.9,-1.2zM107.6,240.4l2.9,1.1 .6,-1.1 -2.9,-1.1zM110.5,241.5l3,1 .6,-1 -3,-1.1zM113.5,242.5l2.9,.9 .6,-1 -2.9,-.9zM116.4,243.4l2.9,.9 .6,-1 -2.9,-.9zM119.3,244.3l3,.8 .6,-1 -3,-.8zM122.3,245.1l2.9,.7 .6,-1 -2.9,-.7zM125.2,245.8l3,.7 .6,-1 -3,-.7zM128.2,246.5l2.9,.6 .6,-1 -2.9,-.6zM131.1,247.1l3,.6 .6,-1 -3,-.6zM134.1,247.7l3,.4 .5,-.9 -2.9,-.5zM137.1,248.1l2.9,.5 .6,-1 -3,-.4zM140,248.6l3,.3 .6,-.9 -3,-.4zM143,248.9l3,.4 .6,-.9 -3,-.4zM146,249.3l3,.2 .5,-.8 -2.9,-.3zM149,249.5l3,.3 .5,-.9 -3,-.2zM152,249.8l3,.1 .5,-.8 -3,-.2zM155,249.9l3,.1 .5,-.8 -3,-.1zM158,250l3,.1 .5,-.8 -3,-.1zM161,250.1l3,0 .6,-.7 -3.1,-.1zM164,250.1l3,0 .6,-.7 -3,0zM167,250.1l3.1,-.1 .5,-.7 -3,.1zM170.1,250l3,-.1 .5,-.6 -3,0zM173.1,249.9l3.1,-.1 .5,-.7 -3.1,.2zM176.2,249.8l3,-.2 .6,-.6 -3.1,.1zM179.2,249.6l3.1,-.3 .5,-.5 -3,.2zM182.3,249.3l3.1,-.2 .5,-.5 -3.1,.2zM185.4,249.1l3,-.3 .6,-.5 -3.1,.3zM188.4,248.8l3.1,-.3 .6,-.4 -3.1,.2zM191.5,248.5l3.1,-.3 .6,-.4 -3.1,.3zM194.6,248.2l3.2,-.3 .5,-.4 -3.1,.3zM197.8,247.9l3.1,-.3 .5,-.4 -3.1,.3zM200.9,247.6l3.1,-.3 .5,-.3 -3.1,.2zM204,247.3l3.1,-.3 .5,-.3 -3.1,.3zM207.1,247l3.2,-.3 .5,-.3 -3.2,.3zM210.3,246.7l3.1,-.4 .5,-.2 -3.1,.3zM213.4,246.3l3.2,-.4 .5,-.2 -3.2,.4zM216.6,245.9l3.2,-.6 .4,-.2 -3.1,.6zM219.8,245.3l3.2,-.7 .4,-.1 -3.2,.6z"/>
<path fill="#6ed796" d="M223,244.6l3.2,-.8 .4,-.1 -3.2,.8zM226.2,243.8l3.2,-1.1 .4,.1 -3.2,.9zM229.4,242.7l3.2,-1.2 .5,.1 -3.3,1.2z"/>
<path fill="#6ccde4" d="M51.1,202.1l2.9,3 .7,-.6 -2.9,-3zM54,205.1l3,2.8 .7,-.6 -3,-2.8zM57,207.9l3,2.8 .6,-.7 -2.9,-2.7zM60,210.7l2.9,2.7 .7,-.7 -3,-2.7zM62.9,213.4l3,2.6 .7,-.8 -3,-2.5zM65.9,216l2.9,2.5 .7,-.8 -2.9,-2.5zM68.8,218.5l3,2.3 .6,-.8 -2.9,-2.3zM71.8,220.8l2.9,2.3 .7,-.9 -3,-2.2zM74.7,223.1l3,2.2 .6,-.9 -2.9,-2.2zM77.7,225.3l2.9,2 .6,-.9 -2.9,-2zM80.6,227.3l2.9,2 .7,-1 -3,-1.9zM83.5,229.3l3,1.8 .6,-1 -2.9,-1.8zM86.5,231.1l2.9,1.8 .6,-1 -2.9,-1.8zM89.4,232.9l2.9,1.6 .7,-1 -3,-1.6zM92.3,234.5l3,1.6 .6,-1 -2.9,-1.6zM95.3,236.1l2.9,1.4 .6,-1 -2.9,-1.4zM98.2,237.5l2.9,1.4 .6,-1 -2.9,-1.4zM101.1,238.9l3,1.3 .6,-1 -3,-1.3zM104.1,240.2l2.9,1.2 .6,-1 -2.9,-1.2zM107,241.4l2.9,1.1 .6,-1 -2.9,-1.1zM109.9,242.5l3,1 .6,-1 -3,-1zM112.9,243.5l2.9,1 .6,-1.1 -2.9,-.9zM115.8,244.5l2.9,.8 .6,-1 -2.9,-.9zM118.7,245.3l3,.8 .6,-1 -3,-.8zM121.7,246.1l2.9,.7 .6,-1 -2.9,-.7zM124.6,246.8l3,.7 .6,-1 -3,-.7zM127.6,247.5l3,.6 .5,-1 -2.9,-.6zM130.6,248.1l2.9,.5 .6,-.9 -3,-.6zM133.5,248.6l3,.5 .6,-1 -3,-.4zM136.5,249.1l3,.4 .5,-.9 -2.9,-.5zM139.5,249.5l2.9,.4 .6,-1 -3,-.3zM142.4,249.9l3,.3 .6,-.9 -3,-.4zM145.4,250.2l3,.2 .6,-.9 -3,-.2zM148.4,250.4l3,.2 .6,-.8 -3,-.3zM151.4,250.6l3,.2 .6,-.9 -3,-.1zM154.4,250.8l3,.1 .6,-.9 -3,-.1zM157.4,250.9l3,0 .6,-.8 -3,-.1zM160.4,250.9l3.1,0 .5,-.8 -3,0zM163.5,250.9l3,-.1 .5,-.7 -3,0zM166.5,250.8l3,-.1 .6,-.7 -3.1,.1zM169.5,250.7l3.1,-.1 .5,-.7 -3,.1zM172.6,250.6l3,-.2 .6,-.6 -3.1,.1zM175.6,250.4l3.1,-.2 .5,-.6 -3,.2zM178.7,250.2l3.1,-.3 .5,-.6 -3.1,.3zM181.8,249.9l3,-.3 .6,-.5 -3.1,.2zM184.8,249.6l3.1,-.3 .5,-.5 -3,.3zM187.9,249.3l3.1,-.3 .5,-.5 -3.1,.3zM191,249l3.1,-.4 .5,-.4 -3.1,.3zM194.1,248.6l3.1,-.3 .6,-.4 -3.2,.3zM197.2,248.3l3.2,-.4 .5,-.3 -3.1,.3zM200.4,247.9l3.1,-.3 .5,-.3 -3.1,.3zM203.5,247.6l3.1,-.3 .5,-.3 -3.1,.3zM206.6,247.3l3.2,-.4 .5,-.2 -3.2,.3zM209.8,246.9l3.2,-.4 .4,-.2 -3.1,.4zM213,246.5l3.1,-.5 .5,-.1 -3.2,.4zM216.1,246l3.2,-.6 .5,-.1 -3.2,.6zM219.3,245.4l3.2,-.7 .5,-.1 -3.2,.7z"/>
<path fill="#6ed796" d="M222.5,244.7l3.2,-.9 .5,0 -3.2,.8zM225.7,243.8l3.2,-1.1 .5,0 -3.2,1.1zM228.9,242.7l3.3,-1.4 .4,.2 -3.2,1.2z"/>
<path fill="#6ccde4" d="M50.4,202.6l3,3.1 .6,-.6 -2.9,-3zM53.4,205.7l2.9,2.9 .7,-.7 -3,-2.8zM56.3,208.6l3,2.8 .7,-.7 -3,-2.8zM59.3,211.4l3,2.7 .6,-.7 -2.9,-2.7zM62.3,214.1l2.9,2.7 .7,-.8 -3,-2.6zM65.2,216.8l3,2.5 .6,-.8 -2.9,-2.5zM68.2,219.3l2.9,2.4 .7,-.9 -3,-2.3zM71.1,221.7l3,2.3 .6,-.9 -2.9,-2.3zM74.1,224l2.9,2.2 .7,-.9 -3,-2.2zM77,226.2l3,2 .6,-.9 -2.9,-2zM80,228.2l2.9,2 .6,-.9 -2.9,-2zM82.9,230.2l2.9,1.9 .7,-1 -3,-1.8zM85.8,232.1l3,1.7 .6,-.9 -2.9,-1.8zM88.8,233.8l2.9,1.7 .6,-1 -2.9,-1.6zM91.7,235.5l2.9,1.6 .7,-1 -3,-1.6zM94.6,237.1l3,1.4 .6,-1 -2.9,-1.4zM97.6,238.5l2.9,1.4 .6,-1 -2.9,-1.4zM100.5,239.9l2.9,1.3 .7,-1 -3,-1.3zM103.4,241.2l3,1.2 .6,-1 -2.9,-1.2zM106.4,242.4l2.9,1.1 .6,-1 -2.9,-1.1zM109.3,243.5l3,1 .6,-1 -3,-1zM112.3,244.5l2.9,1 .6,-1 -2.9,-1zM115.2,245.5l3,.8 .5,-1 -2.9,-.8zM118.2,246.3l2.9,.8 .6,-1 -3,-.8zM121.1,247.1l3,.7 .5,-1 -2.9,-.7zM124.1,247.8l2.9,.7 .6,-1 -3,-.7zM127,248.5l3,.6 .6,-1 -3,-.6zM130,249.1l2.9,.5 .6,-1 -2.9,-.5zM132.9,249.6l3,.4 .6,-.9 -3,-.5zM135.9,250l3,.4 .6,-.9 -3,-.4zM138.9,250.4l3,.4 .5,-.9 -2.9,-.4zM141.9,250.8l2.9,.3 .6,-.9 -3,-.3zM144.8,251.1l3,.2 .6,-.9 -3,-.2zM147.8,251.3l3,.2 .6,-.9 -3,-.2zM150.8,251.5l3,.1 .6,-.8 -3,-.2zM153.8,251.6l3.1,.1 .5,-.8 -3,-.1zM156.9,251.7l3,0 .5,-.8 -3,0zM159.9,251.7l3,-.1 .6,-.7 -3.1,0zM162.9,251.6l3,0 .6,-.8 -3,.1zM165.9,251.6l3.1,-.2 .5,-.7 -3,.1zM169,251.4l3,-.2 .6,-.6 -3.1,.1zM172,251.2l3.1,-.2 .5,-.6 -3,.2zM175.1,251l3.1,-.3 .5,-.5 -3.1,.2zM178.2,250.7l3,-.3 .6,-.5 -3.1,.3zM181.2,250.4l3.1,-.3 .5,-.5 -3,.3zM184.3,250.1l3.1,-.3 .5,-.5 -3.1,.3zM187.4,249.8l3.1,-.4 .5,-.4 -3.1,.3zM190.5,249.4l3.1,-.4 .5,-.4 -3.1,.4zM193.6,249l3.1,-.4 .5,-.3 -3.1,.3zM196.7,248.6l3.2,-.3 .5,-.4 -3.2,.4zM199.9,248.3l3.1,-.4 .5,-.3 -3.1,.3zM203,247.9l3.1,-.4 .5,-.2 -3.1,.3zM206.1,247.5l3.2,-.3 .5,-.3 -3.2,.4zM209.3,247.2l3.2,-.5 .5,-.2 -3.2,.4zM212.5,246.7l3.1,-.5 .5,-.2 -3.1,.5zM215.6,246.2l3.2,-.6 .5,-.2 -3.2,.6z"/>
<path fill="#6ed796" d="M218.8,245.6l3.2,-.8 .5,-.1 -3.2,.7zM222,244.8l3.2,-1 .5,0 -3.2,.9zM225.2,243.8l3.3,-1.2 .4,.1 -3.2,1.1zM228.5,242.6l3.2,-1.4 .5,.1 -3.3,1.4z"/>
<path fill="#6ccde4" d="M49.7,203.2l3,3.1 .7,-.6 -3,-3.1zM52.7,206.3l3,2.9 .6,-.6 -2.9,-2.9zM55.7,209.2l2.9,2.9 .7,-.7 -3,-2.8zM58.6,212.1l3,2.8 .7,-.8 -3,-2.7zM61.6,214.9l3,2.6 .6,-.7 -2.9,-2.7zM64.6,217.5l2.9,2.6 .7,-.8 -3,-2.5zM67.5,220.1l3,2.4 .6,-.8 -2.9,-2.4zM70.5,222.5l2.9,2.3 .7,-.8 -3,-2.3zM73.4,224.8l3,2.3 .6,-.9 -2.9,-2.2zM76.4,227.1l2.9,2.1 .7,-1 -3,-2zM79.3,229.2l3,2 .6,-1 -2.9,-2zM82.3,231.2l2.9,1.9 .6,-1 -2.9,-1.9zM85.2,233.1l3,1.7 .6,-1 -3,-1.7zM88.2,234.8l2.9,1.7 .6,-1 -2.9,-1.7zM91.1,236.5l2.9,1.6 .6,-1 -2.9,-1.6zM94,238.1l3,1.5 .6,-1.1 -3,-1.4zM97,239.6l2.9,1.3 .6,-1 -2.9,-1.4zM99.9,240.9l2.9,1.3 .6,-1 -2.9,-1.3zM102.8,242.2l3,1.2 .6,-1 -3,-1.2zM105.8,243.4l2.9,1.1 .6,-1 -2.9,-1.1zM108.7,244.5l3,1 .6,-1 -3,-1zM111.7,245.5l2.9,1 .6,-1 -2.9,-1zM114.6,246.5l3,.9 .6,-1.1 -3,-.8zM117.6,247.4l2.9,.7 .6,-1 -2.9,-.8zM120.5,248.1l3,.7 .6,-1 -3,-.7zM123.5,248.8l2.9,.7 .6,-1 -2.9,-.7zM126.4,249.5l3,.6 .6,-1 -3,-.6zM129.4,250.1l2.9,.5 .6,-1 -2.9,-.5zM132.3,250.6l3,.4 .6,-1 -3,-.4zM135.3,251l3,.4 .6,-1 -3,-.4zM138.3,251.4l3,.3 .6,-.9 -3,-.4zM141.3,251.7l3,.3 .5,-.9 -2.9,-.3zM144.3,252l3,.2 .5,-.9 -3,-.2zM147.3,252.2l3,.1 .5,-.8 -3,-.2zM150.3,252.3l3,.1 .5,-.8 -3,-.1zM153.3,252.4l3,.1 .6,-.8 -3.1,-.1zM156.3,252.5l3,0 .6,-.8 -3,0zM159.3,252.5l3.1,-.1 .5,-.8 -3,.1zM162.4,252.4l3,-.1 .5,-.7 -3,0zM165.4,252.3l3,-.2 .6,-.7 -3.1,.2zM168.4,252.1l3.1,-.2 .5,-.7 -3,.2zM171.5,251.9l3.1,-.3 .5,-.6 -3.1,.2zM174.6,251.6l3,-.3 .6,-.6 -3.1,.3zM177.6,251.3l3.1,-.3 .5,-.6 -3,.3zM180.7,251l3.1,-.4 .5,-.5 -3.1,.3zM183.8,250.6l3.1,-.4 .5,-.4 -3.1,.3zM186.9,250.2l3.1,-.4 .5,-.4 -3.1,.4zM190,249.8l3.1,-.4 .5,-.4 -3.1,.4zM193.1,249.4l3.1,-.4 .5,-.4 -3.1,.4zM196.2,249l3.2,-.4 .5,-.3 -3.2,.3zM199.4,248.6l3.1,-.4 .5,-.3 -3.1,.4zM202.5,248.2l3.2,-.4 .4,-.3 -3.1,.4zM205.7,247.8l3.1,-.4 .5,-.2 -3.2,.3zM208.8,247.4l3.2,-.5 .5,-.2 -3.2,.5zM212,246.9l3.2,-.6 .4,-.1 -3.1,.5zM215.2,246.3l3.2,-.7 .4,0 -3.2,.6z"/>
<path fill="#6ed796" d="M218.4,245.6l3.2,-.8 .4,0 -3.2,.8zM221.6,244.8l3.2,-1 .4,0 -3.2,1zM224.8,243.8l3.2,-1.3 .5,.1 -3.3,1.2zM228,242.5l3.3,-1.5 .4,.2 -3.2,1.4z"/>
<path fill="#6ccde4" d="M49,203.8l3,3.1 .7,-.6 -3,-3.1zM52,206.9l3,3 .7,-.7 -3,-2.9zM55,209.9l3,2.9 .6,-.7 -2.9,-2.9zM58,212.8l2.9,2.8 .7,-.7 -3,-2.8zM60.9,215.6l3,2.7 .7,-.8 -3,-2.6zM63.9,218.3l3,2.6 .6,-.8 -2.9,-2.6zM66.9,220.9l2.9,2.5 .7,-.9 -3,-2.4zM69.8,223.4l3,2.3 .6,-.9 -2.9,-2.3zM72.8,225.7l2.9,2.3 .7,-.9 -3,-2.3zM75.7,228l3,2.1 .6,-.9 -2.9,-2.1zM78.7,230.1l2.9,2 .7,-.9 -3,-2zM81.6,232.1l3,1.9 .6,-.9 -2.9,-1.9zM84.6,234l2.9,1.8 .7,-1 -3,-1.7zM87.5,235.8l3,1.7 .6,-1 -2.9,-1.7zM90.5,237.5l2.9,1.6 .6,-1 -2.9,-1.6zM93.4,239.1l2.9,1.5 .7,-1 -3,-1.5zM96.3,240.6l3,1.4 .6,-1.1 -2.9,-1.3zM99.3,242l2.9,1.2 .6,-1 -2.9,-1.3zM102.2,243.2l3,1.2 .6,-1 -3,-1.2zM105.2,244.4l2.9,1.1 .6,-1 -2.9,-1.1zM108.1,245.5l3,1.1 .6,-1.1 -3,-1zM111.1,246.6l2.9,.9 .6,-1 -2.9,-1zM114,247.5l3,.9 .6,-1 -3,-.9zM117,248.4l2.9,.7 .6,-1 -2.9,-.7zM119.9,249.1l3,.7 .6,-1 -3,-.7zM122.9,249.8l2.9,.7 .6,-1 -2.9,-.7zM125.8,250.5l3,.5 .6,-.9 -3,-.6zM128.8,251l3,.5 .5,-.9 -2.9,-.5zM131.8,251.5l2.9,.5 .6,-1 -3,-.4zM134.7,252l3,.3 .6,-.9 -3,-.4zM137.7,252.3l3,.3 .6,-.9 -3,-.3zM140.7,252.6l3,.3 .6,-.9 -3,-.3zM143.7,252.9l3,.2 .6,-.9 -3,-.2zM146.7,253.1l3,.1 .6,-.9 -3,-.1zM149.7,253.2l3,.1 .6,-.9 -3,-.1zM152.7,253.3l3,0 .6,-.8 -3,-.1zM155.7,253.3l3.1,-.1 .5,-.7 -3,0zM158.8,253.2l3,-.1 .6,-.7 -3.1,.1zM161.8,253.1l3,-.1 .6,-.7 -3,.1zM164.8,253l3.1,-.2 .5,-.7 -3,.2zM167.9,252.8l3,-.3 .6,-.6 -3.1,.2zM170.9,252.5l3.1,-.3 .6,-.6 -3.1,.3zM174,252.2l3.1,-.3 .5,-.6 -3,.3zM177.1,251.9l3.1,-.4 .5,-.5 -3.1,.3zM180.2,251.5l3.1,-.4 .5,-.5 -3.1,.4zM183.3,251.1l3.1,-.4 .5,-.5 -3.1,.4zM186.4,250.7l3.1,-.5 .5,-.4 -3.1,.4zM189.5,250.2l3.1,-.4 .5,-.4 -3.1,.4zM192.6,249.8l3.1,-.5 .5,-.3 -3.1,.4zM195.7,249.3l3.2,-.4 .5,-.3 -3.2,.4zM198.9,248.9l3.1,-.5 .5,-.2 -3.1,.4zM202,248.4l3.2,-.4 .5,-.2 -3.2,.4zM205.2,248l3.1,-.4 .5,-.2 -3.1,.4zM208.3,247.6l3.2,-.6 .5,-.1 -3.2,.5zM211.5,247l3.2,-.6 .5,-.1 -3.2,.6z"/>
<path fill="#6ed796" d="M214.7,246.4l3.2,-.7 .5,-.1 -3.2,.7zM217.9,245.7l3.2,-.9 .5,0 -3.2,.8zM221.1,244.8l3.2,-1.1 .5,.1 -3.2,1zM224.3,243.7l3.3,-1.3 .4,.1 -3.2,1.3zM227.6,242.4l3.2,-1.6 .5,.2 -3.3,1.5z"/>
<path fill="#6ccde4" d="M48.3,204.4l3,3.1 .7,-.6 -3,-3.1zM51.3,207.5l3,3 .7,-.6 -3,-3zM54.3,210.5l3,3 .7,-.7 -3,-2.9zM57.3,213.5l3,2.8 .6,-.7 -2.9,-2.8zM60.3,216.3l2.9,2.7 .7,-.7 -3,-2.7zM63.2,219l3,2.7 .7,-.8 -3,-2.6zM66.2,221.7l3,2.5 .6,-.8 -2.9,-2.5zM69.2,224.2l2.9,2.4 .7,-.9 -3,-2.3zM72.1,226.6l3,2.3 .6,-.9 -2.9,-2.3zM75.1,228.9l3,2.1 .6,-.9 -3,-2.1zM78.1,231l2.9,2.1 .6,-1 -2.9,-2zM81,233.1l3,1.9 .6,-1 -3,-1.9zM84,235l2.9,1.8 .6,-1 -2.9,-1.8zM86.9,236.8l2.9,1.7 .7,-1 -3,-1.7zM89.8,238.5l3,1.6 .6,-1 -2.9,-1.6zM92.8,240.1l2.9,1.5 .6,-1 -2.9,-1.5zM95.7,241.6l3,1.4 .6,-1 -3,-1.4zM98.7,243l2.9,1.3 .6,-1.1 -2.9,-1.2zM101.6,244.3l3,1.2 .6,-1.1 -3,-1.2zM104.6,245.5l2.9,1.1 .6,-1.1 -2.9,-1.1zM107.5,246.6l3,1 .6,-1 -3,-1.1zM110.5,247.6l2.9,.9 .6,-1 -2.9,-.9zM113.4,248.5l3,.9 .6,-1 -3,-.9zM116.4,249.4l2.9,.8 .6,-1.1 -2.9,-.7zM119.3,250.2l3,.7 .6,-1.1 -3,-.7zM122.3,250.9l2.9,.6 .6,-1 -2.9,-.7zM125.2,251.5l3,.5 .6,-1 -3,-.5zM128.2,252l3,.5 .6,-1 -3,-.5zM131.2,252.5l3,.4 .5,-.9 -2.9,-.5zM134.2,252.9l2.9,.4 .6,-1 -3,-.3zM137.1,253.3l3,.3 .6,-1 -3,-.3zM140.1,253.6l3,.2 .6,-.9 -3,-.3zM143.1,253.8l3,.1 .6,-.8 -3,-.2zM146.1,253.9l3,.2 .6,-.9 -3,-.1zM149.1,254.1l3.1,0 .5,-.8 -3,-.1zM152.2,254.1l3,0 .5,-.8 -3,0zM155.2,254.1l3,-.1 .6,-.8 -3.1,.1zM158.2,254l3,-.1 .6,-.8 -3,.1zM161.2,253.9l3.1,-.2 .5,-.7 -3,.1zM164.3,253.7l3,-.2 .6,-.7 -3.1,.2zM167.3,253.5l3.1,-.3 .5,-.7 -3,.3zM170.4,253.2l3.1,-.4 .5,-.6 -3.1,.3zM173.5,252.8l3,-.3 .6,-.6 -3.1,.3zM176.5,252.5l3.1,-.5 .6,-.5 -3.1,.4zM179.6,252l3.1,-.4 .6,-.5 -3.1,.4zM182.7,251.6l3.1,-.5 .6,-.4 -3.1,.4zM185.8,251.1l3.2,-.5 .5,-.4 -3.1,.5zM189,250.6l3.1,-.5 .5,-.3 -3.1,.4zM192.1,250.1l3.1,-.4 .5,-.4 -3.1,.5zM195.2,249.7l3.1,-.5 .6,-.3 -3.2,.4zM198.3,249.2l3.2,-.5 .5,-.3 -3.1,.5zM201.5,248.7l3.2,-.5 .5,-.2 -3.2,.4zM204.7,248.2l3.1,-.5 .5,-.1 -3.1,.4zM207.8,247.7l3.2,-.5 .5,-.2 -3.2,.6zM211,247.2l3.2,-.7 .5,-.1 -3.2,.6z"/>
<path fill="#6ed796" d="M214.2,246.5l3.2,-.7 .5,-.1 -3.2,.7zM217.4,245.8l3.2,-1 .5,0 -3.2,.9zM220.6,244.8l3.3,-1.1 .4,0 -3.2,1.1zM223.9,243.7l3.2,-1.4 .5,.1 -3.3,1.3zM227.1,242.3l3.3,-1.7 .4,.2 -3.2,1.6z"/>
<path fill="#6ccde4" d="M47.6,205l3,3.1 .7,-.6 -3,-3.1zM50.6,208.1l3,3.1 .7,-.7 -3,-3zM53.6,211.2l3,3 .7,-.7 -3,-3zM56.6,214.2l3,2.8 .7,-.7 -3,-2.8zM59.6,217l3,2.8 .6,-.8 -2.9,-2.7zM62.6,219.8l3,2.7 .6,-.8 -3,-2.7zM65.6,222.5l2.9,2.5 .7,-.8 -3,-2.5zM68.5,225l3,2.5 .6,-.9 -2.9,-2.4zM71.5,227.5l3,2.3 .6,-.9 -3,-2.3zM74.5,229.8l2.9,2.2 .7,-1 -3,-2.1zM77.4,232l3,2 .6,-.9 -2.9,-2.1zM80.4,234l2.9,2 .7,-1 -3,-1.9zM83.3,236l3,1.8 .6,-1 -2.9,-1.8zM86.3,237.8l2.9,1.7 .6,-1 -2.9,-1.7zM89.2,239.5l3,1.6 .6,-1 -3,-1.6zM92.2,241.1l2.9,1.5 .6,-1 -2.9,-1.5zM95.1,242.6l3,1.4 .6,-1 -3,-1.4zM98.1,244l2.9,1.3 .6,-1 -2.9,-1.3zM101,245.3l2.9,1.2 .7,-1 -3,-1.2zM103.9,246.5l3,1.1 .6,-1 -2.9,-1.1zM106.9,247.6l2.9,1 .7,-1 -3,-1zM109.8,248.6l3,.9 .6,-1 -2.9,-.9zM112.8,249.5l3,.9 .6,-1 -3,-.9zM115.8,250.4l2.9,.8 .6,-1 -2.9,-.8zM118.7,251.2l3,.7 .6,-1 -3,-.7zM121.7,251.9l2.9,.6 .6,-1 -2.9,-.6zM124.6,252.5l3,.5 .6,-1 -3,-.5zM127.6,253l3,.5 .6,-1 -3,-.5zM130.6,253.5l3,.4 .6,-1 -3,-.4zM133.6,253.9l3,.3 .5,-.9 -2.9,-.4zM136.6,254.2l3,.3 .5,-.9 -3,-.3zM139.6,254.5l3,.2 .5,-.9 -3,-.2zM142.6,254.7l3,.1 .5,-.9 -3,-.1zM145.6,254.8l3,.1 .5,-.8 -3,-.2zM148.6,254.9l3,0 .6,-.8 -3.1,0zM151.6,254.9l3,0 .6,-.8 -3,0zM154.6,254.9l3,-.1 .6,-.8 -3,.1zM157.6,254.8l3.1,-.1 .5,-.8 -3,.1zM160.7,254.7l3,-.3 .6,-.7 -3.1,.2zM163.7,254.4l3.1,-.2 .5,-.7 -3,.2zM166.8,254.2l3.1,-.4 .5,-.6 -3.1,.3zM169.9,253.8l3,-.3 .6,-.7 -3.1,.4zM172.9,253.5l3.1,-.5 .5,-.5 -3,.3zM176,253l3.1,-.4 .5,-.6 -3.1,.5zM179.1,252.6l3.1,-.5 .5,-.5 -3.1,.4zM182.2,252.1l3.1,-.5 .5,-.5 -3.1,.5zM185.3,251.6l3.1,-.5 .6,-.5 -3.2,.5zM188.4,251.1l3.2,-.6 .5,-.4 -3.1,.5zM191.6,250.5l3.1,-.5 .5,-.3 -3.1,.4zM194.7,250l3.1,-.5 .5,-.3 -3.1,.5zM197.8,249.5l3.2,-.6 .5,-.2 -3.2,.5zM201,248.9l3.2,-.5 .5,-.2 -3.2,.5zM204.2,248.4l3.1,-.5 .5,-.2 -3.1,.5zM207.3,247.9l3.2,-.6 .5,-.1 -3.2,.5zM210.5,247.3l3.2,-.7 .5,-.1 -3.2,.7z"/>
<path fill="#6ed796" d="M213.7,246.6l3.2,-.8 .5,0 -3.2,.7zM216.9,245.8l3.3,-1 .4,0 -3.2,1zM220.2,244.8l3.2,-1.2 .5,.1 -3.3,1.1zM223.4,243.6l3.3,-1.5 .4,.2 -3.2,1.4zM226.7,242.1l3.2,-1.7 .5,.2 -3.3,1.7z"/>
<path fill="#6ccde4" d="M46.9,205.6l3,3.1 .7,-.6 -3,-3.1zM49.9,208.7l3,3.1 .7,-.6 -3,-3.1zM52.9,211.8l3,3.1 .7,-.7 -3,-3zM55.9,214.9l3,2.9 .7,-.8 -3,-2.8zM58.9,217.8l3,2.8 .7,-.8 -3,-2.8zM61.9,220.6l3,2.7 .7,-.8 -3,-2.7zM64.9,223.3l3,2.6 .6,-.9 -2.9,-2.5zM67.9,225.9l2.9,2.5 .7,-.9 -3,-2.5zM70.8,228.4l3,2.3 .7,-.9 -3,-2.3zM73.8,230.7l3,2.2 .6,-.9 -2.9,-2.2zM76.8,232.9l2.9,2.1 .7,-1 -3,-2zM79.7,235l3,1.9 .6,-.9 -2.9,-2zM82.7,236.9l2.9,1.9 .7,-1 -3,-1.8zM85.6,238.8l3,1.7 .6,-1 -2.9,-1.7zM88.6,240.5l2.9,1.6 .7,-1 -3,-1.6zM91.5,242.1l3,1.5 .6,-1 -2.9,-1.5zM94.5,243.6l2.9,1.4 .7,-1 -3,-1.4zM97.4,245l3,1.3 .6,-1 -2.9,-1.3zM100.4,246.3l2.9,1.2 .6,-1 -2.9,-1.2zM103.3,247.5l3,1.1 .6,-1 -3,-1.1zM106.3,248.6l2.9,1 .6,-1 -2.9,-1zM109.2,249.6l3,1 .6,-1.1 -3,-.9zM112.2,250.6l3,.8 .6,-1 -3,-.9zM115.2,251.4l2.9,.8 .6,-1 -2.9,-.8zM118.1,252.2l3,.7 .6,-1 -3,-.7zM121.1,252.9l3,.6 .5,-1 -2.9,-.6zM124.1,253.5l2.9,.5 .6,-1 -3,-.5zM127,254l3,.5 .6,-1 -3,-.5zM130,254.5l3,.4 .6,-1 -3,-.4zM133,254.9l3,.3 .6,-1 -3,-.3zM136,255.2l3,.2 .6,-.9 -3,-.3zM139,255.4l3,.2 .6,-.9 -3,-.2zM142,255.6l3,.1 .6,-.9 -3,-.1zM145,255.7l3,.1 .6,-.9 -3,-.1zM148,255.8l3,0 .6,-.9 -3,0zM151,255.8l3,-.1 .6,-.8 -3,0zM154,255.7l3.1,-.1 .5,-.8 -3,.1zM157.1,255.6l3,-.2 .6,-.7 -3.1,.1zM160.1,255.4l3.1,-.2 .5,-.8 -3,.3zM163.2,255.2l3,-.3 .6,-.7 -3.1,.2zM166.2,254.9l3.1,-.4 .6,-.7 -3.1,.4zM169.3,254.5l3.1,-.4 .5,-.6 -3,.3zM172.4,254.1l3.1,-.5 .5,-.6 -3.1,.5zM175.5,253.6l3.1,-.5 .5,-.5 -3.1,.4zM178.6,253.1l3.1,-.5 .5,-.5 -3.1,.5zM181.7,252.6l3.1,-.6 .5,-.4 -3.1,.5zM184.8,252l3.1,-.5 .5,-.4 -3.1,.5zM187.9,251.5l3.1,-.6 .6,-.4 -3.2,.6zM191,250.9l3.2,-.6 .5,-.3 -3.1,.5zM194.2,250.3l3.1,-.6 .5,-.2 -3.1,.5zM197.3,249.7l3.2,-.5 .5,-.3 -3.2,.6zM200.5,249.2l3.2,-.6 .5,-.2 -3.2,.5zM203.7,248.6l3.1,-.5 .5,-.2 -3.1,.5zM206.8,248.1l3.2,-.7 .5,-.1 -3.2,.6z"/>
<path fill="#6ed796" d="M210,247.4l3.2,-.7 .5,-.1 -3.2,.7zM213.2,246.7l3.2,-.9 .5,0 -3.2,.8zM216.4,245.8l3.3,-1 .5,0 -3.3,1zM219.7,244.8l3.2,-1.3 .5,.1 -3.2,1.2zM222.9,243.5l3.3,-1.5 .5,.1 -3.3,1.5zM226.2,242l3.3,-1.8 .4,.2 -3.2,1.7z"/>
<path fill="#6ccde4" d="M46.2,206.2l3,3.2 .7,-.7 -3,-3.1zM49.2,209.4l3,3.1 .7,-.7 -3,-3.1zM52.2,212.5l3.1,3 .6,-.6 -3,-3.1zM55.3,215.5l2.9,3 .7,-.7 -3,-2.9zM58.2,218.5l3,2.9 .7,-.8 -3,-2.8zM61.2,221.4l3,2.7 .7,-.8 -3,-2.7zM64.2,224.1l3,2.6 .7,-.8 -3,-2.6zM67.2,226.7l3,2.5 .6,-.8 -2.9,-2.5zM70.2,229.2l3,2.4 .6,-.9 -3,-2.3zM73.2,231.6l2.9,2.2 .7,-.9 -3,-2.2zM76.1,233.8l3,2.1 .6,-.9 -2.9,-2.1zM79.1,235.9l2.9,2 .7,-1 -3,-1.9zM82,237.9l3,1.9 .6,-1 -2.9,-1.9zM85,239.8l3,1.7 .6,-1 -3,-1.7zM88,241.5l2.9,1.6 .6,-1 -2.9,-1.6zM90.9,243.1l3,1.5 .6,-1 -3,-1.5zM93.9,244.6l2.9,1.4 .6,-1 -2.9,-1.4zM96.8,246l3,1.3 .6,-1 -3,-1.3zM99.8,247.3l2.9,1.2 .6,-1 -2.9,-1.2zM102.7,248.5l3,1.2 .6,-1.1 -3,-1.1zM105.7,249.7l2.9,1 .6,-1.1 -2.9,-1zM108.6,250.7l3,.9 .6,-1 -3,-1zM111.6,251.6l3,.8 .6,-1 -3,-.8zM114.6,252.4l2.9,.8 .6,-1 -2.9,-.8zM117.5,253.2l3,.7 .6,-1 -3,-.7zM120.5,253.9l3,.6 .6,-1 -3,-.6zM123.5,254.5l2.9,.5 .6,-1 -2.9,-.5zM126.4,255l3,.5 .6,-1 -3,-.5zM129.4,255.5l3,.3 .6,-.9 -3,-.4zM132.4,255.8l3,.3 .6,-.9 -3,-.3zM135.4,256.1l3,.3 .6,-1 -3,-.2zM138.4,256.4l3,.2 .6,-1 -3,-.2zM141.4,256.6l3,.1 .6,-1 -3,-.1zM144.4,256.7l3,0 .6,-.9 -3,-.1zM147.4,256.7l3,0 .6,-.9 -3,0zM150.4,256.7l3.1,-.1 .5,-.9 -3,.1zM153.5,256.6l3,-.2 .6,-.8 -3.1,.1zM156.5,256.4l3.1,-.2 .5,-.8 -3,.2zM159.6,256.2l3,-.3 .6,-.7 -3.1,.2zM162.6,255.9l3.1,-.3 .5,-.7 -3,.3zM165.7,255.6l3.1,-.4 .5,-.7 -3.1,.4zM168.8,255.2l3,-.5 .6,-.6 -3.1,.4zM171.8,254.7l3.1,-.5 .6,-.6 -3.1,.5zM174.9,254.2l3.1,-.5 .6,-.6 -3.1,.5zM178,253.7l3.1,-.6 .6,-.5 -3.1,.5zM181.1,253.1l3.1,-.6 .6,-.5 -3.1,.6zM184.2,252.5l3.2,-.6 .5,-.4 -3.1,.5zM187.4,251.9l3.1,-.6 .5,-.4 -3.1,.6zM190.5,251.3l3.2,-.7 .5,-.3 -3.2,.6zM193.7,250.6l3.1,-.6 .5,-.3 -3.1,.6zM196.8,250l3.2,-.6 .5,-.2 -3.2,.5zM200,249.4l3.2,-.6 .5,-.2 -3.2,.6zM203.2,248.8l3.1,-.6 .5,-.1 -3.1,.5zM206.3,248.2l3.2,-.7 .5,-.1 -3.2,.7z"/>
<path fill="#6ed796" d="M209.5,247.5l3.2,-.7 .5,-.1 -3.2,.7zM212.7,246.8l3.3,-1 .4,0 -3.2,.9zM216,245.8l3.2,-1 .5,0 -3.3,1zM219.2,244.8l3.3,-1.4 .4,.1 -3.2,1.3zM222.5,243.4l3.2,-1.5 .5,.1 -3.3,1.5zM225.7,241.9l3.3,-1.9 .5,.2 -3.3,1.8z"/>
<path fill="#6ccde4" d="M45.5,206.8l3,3.2 .7,-.6 -3,-3.2zM48.5,210l3.1,3.2 .6,-.7 -3,-3.1zM51.6,213.2l3,3 .7,-.7 -3.1,-3zM54.6,216.2l3,3 .6,-.7 -2.9,-3zM57.6,219.2l3,2.9 .6,-.7 -3,-2.9zM60.6,222.1l3,2.8 .6,-.8 -3,-2.7zM63.6,224.9l2.9,2.7 .7,-.9 -3,-2.6zM66.5,227.6l3,2.5 .7,-.9 -3,-2.5zM69.5,230.1l3,2.4 .7,-.9 -3,-2.4zM72.5,232.5l3,2.3 .6,-1 -2.9,-2.2zM75.5,234.8l2.9,2.1 .7,-1 -3,-2.1zM78.4,236.9l3,2 .6,-1 -2.9,-2zM81.4,238.9l3,1.8 .6,-.9 -3,-1.9zM84.4,240.7l2.9,1.8 .7,-1 -3,-1.7zM87.3,242.5l3,1.6 .6,-1 -2.9,-1.6zM90.3,244.1l2.9,1.5 .7,-1 -3,-1.5zM93.2,245.6l3,1.5 .6,-1.1 -2.9,-1.4zM96.2,247.1l2.9,1.3 .7,-1.1 -3,-1.3zM99.1,248.4l3,1.2 .6,-1.1 -2.9,-1.2zM102.1,249.6l3,1.1 .6,-1 -3,-1.2zM105.1,250.7l2.9,1 .6,-1 -2.9,-1zM108,251.7l3,.9 .6,-1 -3,-.9zM111,252.6l2.9,.9 .7,-1.1 -3,-.8zM113.9,253.5l3,.7 .6,-1 -2.9,-.8zM116.9,254.2l3,.7 .6,-1 -3,-.7zM119.9,254.9l3,.6 .6,-1 -3,-.6zM122.9,255.5l2.9,.5 .6,-1 -2.9,-.5zM125.8,256l3,.5 .6,-1 -3,-.5zM128.8,256.5l3,.3 .6,-1 -3,-.3zM131.8,256.8l3,.3 .6,-1 -3,-.3zM134.8,257.1l3,.2 .6,-.9 -3,-.3zM137.8,257.3l3,.2 .6,-.9 -3,-.2zM140.8,257.5l3,.1 .6,-.9 -3,-.1zM143.8,257.6l3.1,0 .5,-.9 -3,0zM146.9,257.6l3,-.1 .5,-.8 -3,0zM149.9,257.5l3,-.1 .6,-.8 -3.1,.1zM152.9,257.4l3.1,-.2 .5,-.8 -3,.2zM156,257.2l3,-.2 .6,-.8 -3.1,.2zM159,257l3.1,-.3 .5,-.8 -3,.3zM162.1,256.7l3,-.4 .6,-.7 -3.1,.3zM165.1,256.3l3.1,-.4 .6,-.7 -3.1,.4zM168.2,255.9l3.1,-.5 .5,-.7 -3,.5zM171.3,255.4l3.1,-.6 .5,-.6 -3.1,.5zM174.4,254.8l3.1,-.5 .5,-.6 -3.1,.5zM177.5,254.3l3.1,-.7 .5,-.5 -3.1,.6zM180.6,253.6l3.1,-.6 .5,-.5 -3.1,.6zM183.7,253l3.1,-.7 .6,-.4 -3.2,.6zM186.8,252.3l3.2,-.6 .5,-.4 -3.1,.6zM190,251.7l3.1,-.7 .6,-.4 -3.2,.7zM193.1,251l3.2,-.7 .5,-.3 -3.1,.6zM196.3,250.3l3.2,-.6 .5,-.3 -3.2,.6zM199.5,249.7l3.2,-.7 .5,-.2 -3.2,.6zM202.7,249l3.1,-.6 .5,-.2 -3.1,.6zM205.8,248.4l3.2,-.7 .5,-.2 -3.2,.7z"/>
<path fill="#6ed796" d="M209,247.7l3.3,-.9 .4,0 -3.2,.7zM212.3,246.8l3.2,-.9 .5,-.1 -3.3,1zM215.5,245.9l3.2,-1.2 .5,.1 -3.2,1zM218.7,244.7l3.3,-1.3 .5,0 -3.3,1.4zM222,243.4l3.3,-1.6 .4,.1 -3.2,1.5zM225.3,241.8l3.3,-1.9 .4,.1 -3.3,1.9z"/>
<path fill="#6ccde4" d="M44.8,207.4l3.1,3.2 .6,-.6 -3,-3.2zM47.9,210.6l3,3.2 .7,-.6 -3.1,-3.2zM50.9,213.8l3,3.1 .7,-.7 -3,-3zM53.9,216.9l3,3.1 .7,-.8 -3,-3zM56.9,220l3,2.9 .7,-.8 -3,-2.9zM59.9,222.9l3,2.8 .7,-.8 -3,-2.8zM62.9,225.7l3,2.7 .6,-.8 -2.9,-2.7zM65.9,228.4l3,2.6 .6,-.9 -3,-2.5zM68.9,231l2.9,2.4 .7,-.9 -3,-2.4zM71.8,233.4l3,2.3 .7,-.9 -3,-2.3zM74.8,235.7l3,2.1 .6,-.9 -2.9,-2.1zM77.8,237.8l3,2 .6,-.9 -3,-2zM80.8,239.8l2.9,1.9 .7,-1 -3,-1.8zM83.7,241.7l3,1.8 .6,-1 -2.9,-1.8zM86.7,243.5l2.9,1.6 .7,-1 -3,-1.6zM89.6,245.1l3,1.6 .6,-1.1 -2.9,-1.5zM92.6,246.7l3,1.4 .6,-1 -3,-1.5zM95.6,248.1l2.9,1.3 .6,-1 -2.9,-1.3zM98.5,249.4l3,1.2 .6,-1 -3,-1.2zM101.5,250.6l2.9,1.1 .7,-1 -3,-1.1zM104.4,251.7l3,1 .6,-1 -2.9,-1zM107.4,252.7l3,1 .6,-1.1 -3,-.9zM110.4,253.7l2.9,.8 .6,-1 -2.9,-.9zM113.3,254.5l3,.8 .6,-1.1 -3,-.7zM116.3,255.3l3,.6 .6,-1 -3,-.7zM119.3,255.9l3,.6 .6,-1 -3,-.6zM122.3,256.5l2.9,.5 .6,-1 -2.9,-.5zM125.2,257l3,.5 .6,-1 -3,-.5zM128.2,257.5l3,.3 .6,-1 -3,-.3zM131.2,257.8l3,.3 .6,-1 -3,-.3zM134.2,258.1l3,.2 .6,-1 -3,-.2zM137.2,258.3l3,.1 .6,-.9 -3,-.2zM140.2,258.4l3.1,.1 .5,-.9 -3,-.1zM143.3,258.5l3,0 .6,-.9 -3.1,0zM146.3,258.5l3,-.1 .6,-.9 -3,.1zM149.3,258.4l3,-.1 .6,-.9 -3,.1zM152.3,258.3l3.1,-.2 .6,-.9 -3.1,.2zM155.4,258.1l3,-.3 .6,-.8 -3,.2zM158.4,257.8l3.1,-.3 .6,-.8 -3.1,.3zM161.5,257.5l3.1,-.4 .5,-.8 -3,.4zM164.6,257.1l3,-.5 .6,-.7 -3.1,.4zM167.6,256.6l3.1,-.5 .6,-.7 -3.1,.5zM170.7,256.1l3.1,-.6 .6,-.7 -3.1,.6zM173.8,255.5l3.1,-.6 .6,-.6 -3.1,.5zM176.9,254.9l3.2,-.7 .5,-.6 -3.1,.7zM180.1,254.2l3.1,-.7 .5,-.5 -3.1,.6zM183.2,253.5l3.1,-.7 .5,-.5 -3.1,.7zM186.3,252.8l3.2,-.7 .5,-.4 -3.2,.6zM189.5,252.1l3.1,-.7 .5,-.4 -3.1,.7zM192.6,251.4l3.2,-.7 .5,-.4 -3.2,.7zM195.8,250.7l3.2,-.7 .5,-.3 -3.2,.6zM199,250l3.1,-.7 .6,-.3 -3.2,.7zM202.1,249.3l3.2,-.7 .5,-.2 -3.1,.6zM205.3,248.6l3.2,-.8 .5,-.1 -3.2,.7z"/>
<path fill="#6ed796" d="M208.5,247.8l3.3,-.9 .5,-.1 -3.3,.9zM211.8,246.9l3.2,-1 .5,0 -3.2,.9zM215,245.9l3.3,-1.2 .4,0 -3.2,1.2zM218.3,244.7l3.2,-1.4 .5,.1 -3.3,1.3zM221.5,243.3l3.3,-1.6 .5,.1 -3.3,1.6zM224.8,241.7l3.3,-2 .5,.2 -3.3,1.9z"/>
<path fill="#6ccde4" d="M44.1,208l3.1,3.3 .7,-.7 -3.1,-3.2zM47.2,211.3l3,3.2 .7,-.7 -3,-3.2zM50.2,214.5l3,3.2 .7,-.8 -3,-3.1zM53.2,217.7l3,3 .7,-.7 -3,-3.1zM56.2,220.7l3,3 .7,-.8 -3,-2.9zM59.2,223.7l3,2.8 .7,-.8 -3,-2.8zM62.2,226.5l3,2.7 .7,-.8 -3,-2.7zM65.2,229.2l3,2.6 .7,-.8 -3,-2.6zM68.2,231.8l3,2.5 .6,-.9 -2.9,-2.4zM71.2,234.3l3,2.3 .6,-.9 -3,-2.3zM74.2,236.6l2.9,2.2 .7,-1 -3,-2.1zM77.1,238.8l3,2 .7,-1 -3,-2zM80.1,240.8l3,1.9 .6,-1 -2.9,-1.9zM83.1,242.7l2.9,1.8 .7,-1 -3,-1.8zM86,244.5l3,1.6 .6,-1 -2.9,-1.6zM89,246.1l3,1.6 .6,-1 -3,-1.6zM92,247.7l2.9,1.4 .7,-1 -3,-1.4zM94.9,249.1l3,1.3 .6,-1 -2.9,-1.3zM97.9,250.4l3,1.2 .6,-1 -3,-1.2zM100.9,251.6l2.9,1.2 .6,-1.1 -2.9,-1.1zM103.8,252.8l3,1 .6,-1.1 -3,-1zM106.8,253.8l3,.9 .6,-1 -3,-1zM109.8,254.7l2.9,.9 .6,-1.1 -2.9,-.8zM112.7,255.6l3,.7 .6,-1 -3,-.8zM115.7,256.3l3,.7 .6,-1.1 -3,-.6zM118.7,257l3,.6 .6,-1.1 -3,-.6zM121.7,257.6l3,.5 .5,-1.1 -2.9,-.5zM124.7,258.1l2.9,.4 .6,-1 -3,-.5zM127.6,258.5l3,.3 .6,-1 -3,-.3zM130.6,258.8l3,.3 .6,-1 -3,-.3zM133.6,259.1l3,.2 .6,-1 -3,-.2zM136.6,259.3l3.1,.1 .5,-1 -3,-.1zM139.7,259.4l3,.1 .6,-1 -3.1,-.1zM142.7,259.5l3,-.1 .6,-.9 -3,0zM145.7,259.4l3,-.1 .6,-.9 -3,.1zM148.7,259.3l3.1,-.1 .5,-.9 -3,.1zM151.8,259.2l3,-.3 .6,-.8 -3.1,.2zM154.8,258.9l3.1,-.3 .5,-.8 -3,.3zM157.9,258.6l3,-.3 .6,-.8 -3.1,.3zM160.9,258.3l3.1,-.5 .6,-.7 -3.1,.4zM164,257.8l3.1,-.5 .5,-.7 -3,.5zM167.1,257.3l3.1,-.5 .5,-.7 -3.1,.5zM170.2,256.8l3.1,-.6 .5,-.7 -3.1,.6zM173.3,256.2l3.1,-.7 .5,-.6 -3.1,.6zM176.4,255.5l3.1,-.7 .6,-.6 -3.2,.7zM179.5,254.8l3.1,-.7 .6,-.6 -3.1,.7zM182.6,254.1l3.2,-.8 .5,-.5 -3.1,.7zM185.8,253.3l3.1,-.7 .6,-.5 -3.2,.7zM188.9,252.6l3.2,-.8 .5,-.4 -3.1,.7zM192.1,251.8l3.2,-.8 .5,-.3 -3.2,.7zM195.3,251l3.1,-.7 .6,-.3 -3.2,.7zM198.4,250.3l3.2,-.7 .5,-.3 -3.1,.7zM201.6,249.6l3.2,-.8 .5,-.2 -3.2,.7zM204.8,248.8l3.3,-.8 .4,-.2 -3.2,.8zM208.1,248l3.2,-.9 .5,-.2 -3.3,.9z"/>
<path fill="#6ed796" d="M211.3,247.1l3.2,-1.1 .5,-.1 -3.2,1zM214.5,246l3.3,-1.2 .5,-.1 -3.3,1.2zM217.8,244.8l3.2,-1.4 .5,-.1 -3.2,1.4zM221,243.4l3.3,-1.7 .5,0 -3.3,1.6zM224.3,241.7l3.3,-2 .5,0 -3.3,2z"/>
<path fill="#6ccde4" d="M43.4,208.6l3.1,3.3 .7,-.6 -3.1,-3.3zM46.5,211.9l3,3.3 .7,-.7 -3,-3.2zM49.5,215.2l3,3.2 .7,-.7 -3,-3.2zM52.5,218.4l3,3 .7,-.7 -3,-3zM55.5,221.4l3,3 .7,-.7 -3,-3zM58.5,224.4l3.1,2.9 .6,-.8 -3,-2.8zM61.6,227.3l3,2.8 .6,-.9 -3,-2.7zM64.6,230.1l2.9,2.6 .7,-.9 -3,-2.6zM67.5,232.7l3,2.5 .7,-.9 -3,-2.5zM70.5,235.2l3,2.3 .7,-.9 -3,-2.3zM73.5,237.5l3,2.2 .6,-.9 -2.9,-2.2zM76.5,239.7l3,2.1 .6,-1 -3,-2zM79.5,241.8l2.9,1.9 .7,-1 -3,-1.9zM82.4,243.7l3,1.8 .6,-1 -2.9,-1.8zM85.4,245.5l3,1.6 .6,-1 -3,-1.6zM88.4,247.1l2.9,1.6 .7,-1 -3,-1.6zM91.3,248.7l3,1.4 .6,-1 -2.9,-1.4zM94.3,250.1l3,1.3 .6,-1 -3,-1.3zM97.3,251.4l2.9,1.3 .7,-1.1 -3,-1.2zM100.2,252.7l3,1.1 .6,-1 -2.9,-1.2zM103.2,253.8l3,1 .6,-1 -3,-1zM106.2,254.8l3,1 .6,-1.1 -3,-.9zM109.2,255.8l2.9,.8 .6,-1 -2.9,-.9zM112.1,256.6l3,.7 .6,-1 -3,-.7zM115.1,257.3l3,.7 .6,-1 -3,-.7zM118.1,258l3,.6 .6,-1 -3,-.6zM121.1,258.6l3,.5 .6,-1 -3,-.5zM124.1,259.1l2.9,.4 .6,-1 -2.9,-.4zM127,259.5l3,.3 .6,-1 -3,-.3zM130,259.8l3,.3 .6,-1 -3,-.3zM133,260.1l3.1,.2 .5,-1 -3,-.2zM136.1,260.3l3,.1 .6,-1 -3.1,-.1zM139.1,260.4l3,0 .6,-.9 -3,-.1zM142.1,260.4l3,0 .6,-1 -3,.1zM145.1,260.4l3.1,-.1 .5,-1 -3,.1zM148.2,260.3l3,-.2 .6,-.9 -3.1,.1zM151.2,260.1l3.1,-.3 .5,-.9 -3,.3zM154.3,259.8l3,-.3 .6,-.9 -3.1,.3zM157.3,259.5l3.1,-.4 .5,-.8 -3,.3zM160.4,259.1l3.1,-.4 .5,-.9 -3.1,.5zM163.5,258.7l3,-.6 .6,-.8 -3.1,.5zM166.5,258.1l3.1,-.6 .6,-.7 -3.1,.5zM169.6,257.5l3.1,-.6 .6,-.7 -3.1,.6zM172.7,256.9l3.2,-.7 .5,-.7 -3.1,.7zM175.9,256.2l3.1,-.8 .5,-.6 -3.1,.7zM179,255.4l3.1,-.7 .5,-.6 -3.1,.7zM182.1,254.7l3.2,-.8 .5,-.6 -3.2,.8zM185.3,253.9l3.1,-.8 .5,-.5 -3.1,.7zM188.4,253.1l3.2,-.8 .5,-.5 -3.2,.8zM191.6,252.3l3.1,-.8 .6,-.5 -3.2,.8zM194.7,251.5l3.2,-.8 .5,-.4 -3.1,.7zM197.9,250.7l3.2,-.8 .5,-.3 -3.2,.7zM201.1,249.9l3.2,-.8 .5,-.3 -3.2,.8zM204.3,249.1l3.3,-.9 .5,-.2 -3.3,.8zM207.6,248.2l3.2,-1 .5,-.1 -3.2,.9z"/>
<path fill="#6ed796" d="M210.8,247.2l3.2,-1 .5,-.2 -3.2,1.1zM214,246.2l3.3,-1.3 .5,-.1 -3.3,1.2zM217.3,244.9l3.3,-1.5 .4,0 -3.2,1.4zM220.6,243.4l3.3,-1.7 .4,0 -3.3,1.7zM223.9,241.7l3.3,-2 .4,0 -3.3,2z"/>
<path fill="#6ccde4" d="M42.7,209.2l3.1,3.4 .7,-.7 -3.1,-3.3zM45.8,212.6l3,3.3 .7,-.7 -3,-3.3zM48.8,215.9l3,3.2 .7,-.7 -3,-3.2zM51.8,219.1l3,3.1 .7,-.8 -3,-3zM54.8,222.2l3.1,3 .6,-.8 -3,-3zM57.9,225.2l3,2.9 .7,-.8 -3.1,-2.9zM60.9,228.1l3,2.8 .7,-.8 -3,-2.8zM63.9,230.9l3,2.7 .6,-.9 -2.9,-2.6zM66.9,233.6l3,2.5 .6,-.9 -3,-2.5zM69.9,236.1l3,2.3 .6,-.9 -3,-2.3zM72.9,238.4l2.9,2.3 .7,-1 -3,-2.2zM75.8,240.7l3,2 .7,-.9 -3,-2.1zM78.8,242.7l3,2 .6,-1 -2.9,-1.9zM81.8,244.7l3,1.8 .6,-1 -3,-1.8zM84.8,246.5l2.9,1.6 .7,-1 -3,-1.6zM87.7,248.1l3,1.6 .6,-1 -2.9,-1.6zM90.7,249.7l3,1.4 .6,-1 -3,-1.4zM93.7,251.1l3,1.4 .6,-1.1 -3,-1.3zM96.7,252.5l2.9,1.2 .6,-1 -2.9,-1.3zM99.6,253.7l3,1.1 .6,-1 -3,-1.1zM102.6,254.8l3,1.1 .6,-1.1 -3,-1zM105.6,255.9l2.9,.9 .7,-1 -3,-1zM108.5,256.8l3,.8 .6,-1 -2.9,-.8zM111.5,257.6l3,.8 .6,-1.1 -3,-.7zM114.5,258.4l3,.6 .6,-1 -3,-.7zM117.5,259l3,.6 .6,-1 -3,-.6zM120.5,259.6l3,.5 .6,-1 -3,-.5zM123.5,260.1l3,.4 .5,-1 -2.9,-.4zM126.5,260.5l3,.3 .5,-1 -3,-.3zM129.5,260.8l3,.3 .5,-1 -3,-.3zM132.5,261.1l3,.2 .6,-1 -3.1,-.2zM135.5,261.3l3,.1 .6,-1 -3,-.1zM138.5,261.4l3,0 .6,-1 -3,0zM141.5,261.4l3,-.1 .6,-.9 -3,0zM144.5,261.3l3.1,-.1 .6,-.9 -3.1,.1zM147.6,261.2l3,-.2 .6,-.9 -3,.2zM150.6,261l3.1,-.3 .6,-.9 -3.1,.3zM153.7,260.7l3,-.3 .6,-.9 -3,.3zM156.7,260.4l3.1,-.4 .6,-.9 -3.1,.4zM159.8,260l3.1,-.5 .6,-.8 -3.1,.4zM162.9,259.5l3.1,-.6 .5,-.8 -3,.6zM166,258.9l3.1,-.6 .5,-.8 -3.1,.6zM169.1,258.3l3.1,-.7 .5,-.7 -3.1,.6zM172.2,257.6l3.1,-.7 .6,-.7 -3.2,.7zM175.3,256.9l3.1,-.7 .6,-.8 -3.1,.8zM178.4,256.2l3.2,-.8 .5,-.7 -3.1,.7zM181.6,255.4l3.1,-.9 .6,-.6 -3.2,.8zM184.7,254.5l3.2,-.8 .5,-.6 -3.1,.8zM187.9,253.7l3.1,-.9 .6,-.5 -3.2,.8zM191,252.8l3.2,-.8 .5,-.5 -3.1,.8zM194.2,252l3.2,-.9 .5,-.4 -3.2,.8zM197.4,251.1l3.2,-.8 .5,-.4 -3.2,.8zM200.6,250.3l3.2,-.9 .5,-.3 -3.2,.8zM203.8,249.4l3.2,-.9 .6,-.3 -3.3,.9zM207,248.5l3.3,-1 .5,-.3 -3.2,1zM210.3,247.5l3.2,-1.1 .5,-.2 -3.2,1z"/>
<path fill="#6ed796" d="M213.5,246.4l3.3,-1.3 .5,-.2 -3.3,1.3zM216.8,245.1l3.3,-1.5 .5,-.2 -3.3,1.5zM220.1,243.6l3.3,-1.8 .5,-.1 -3.3,1.7zM223.4,241.8l3.3,-2 .5,-.1 -3.3,2z"/>
<path fill="#6ccde4" d="M42,209.8l3.1,3.4 .7,-.6 -3.1,-3.4zM45.1,213.2l3,3.3 .7,-.6 -3,-3.3zM48.1,216.5l3,3.3 .7,-.7 -3,-3.2zM51.1,219.8l3.1,3.1 .6,-.7 -3,-3.1zM54.2,222.9l3,3.1 .7,-.8 -3.1,-3zM57.2,226l3,2.9 .7,-.8 -3,-2.9zM60.2,228.9l3,2.9 .7,-.9 -3,-2.8zM63.2,231.8l3,2.6 .7,-.8 -3,-2.7zM66.2,234.4l3,2.6 .7,-.9 -3,-2.5zM69.2,237l3,2.4 .7,-1 -3,-2.3zM72.2,239.4l3,2.2 .6,-.9 -2.9,-2.3zM75.2,241.6l3,2.1 .6,-1 -3,-2zM78.2,243.7l3,1.9 .6,-.9 -3,-2zM81.2,245.6l2.9,1.8 .7,-.9 -3,-1.8zM84.1,247.4l3,1.7 .6,-1 -2.9,-1.6zM87.1,249.1l3,1.6 .6,-1 -3,-1.6zM90.1,250.7l3,1.5 .6,-1.1 -3,-1.4zM93.1,252.2l2.9,1.3 .7,-1 -3,-1.4zM96,253.5l3,1.2 .6,-1 -2.9,-1.2zM99,254.7l3,1.2 .6,-1.1 -3,-1.1zM102,255.9l2.9,1 .7,-1 -3,-1.1zM104.9,256.9l3,.9 .6,-1 -2.9,-.9zM107.9,257.8l3,.9 .6,-1.1 -3,-.8zM110.9,258.7l3,.7 .6,-1 -3,-.8zM113.9,259.4l3,.7 .6,-1.1 -3,-.6zM116.9,260.1l3,.6 .6,-1.1 -3,-.6zM119.9,260.7l3,.4 .6,-1 -3,-.5zM122.9,261.1l3,.4 .6,-1 -3,-.4zM125.9,261.5l3,.4 .6,-1.1 -3,-.3zM128.9,261.9l3,.2 .6,-1 -3,-.3zM131.9,262.1l3,.2 .6,-1 -3,-.2zM134.9,262.3l3,.1 .6,-1 -3,-.1zM137.9,262.4l3,0 .6,-1 -3,0zM140.9,262.4l3.1,-.1 .5,-1 -3,.1zM144,262.3l3,-.1 .6,-1 -3.1,.1zM147,262.2l3.1,-.2 .5,-1 -3,.2zM150.1,262l3,-.3 .6,-1 -3.1,.3zM153.1,261.7l3.1,-.4 .5,-.9 -3,.3zM156.2,261.3l3,-.4 .6,-.9 -3.1,.4zM159.2,260.9l3.1,-.5 .6,-.9 -3.1,.5zM162.3,260.4l3.1,-.6 .6,-.9 -3.1,.6zM165.4,259.8l3.1,-.6 .6,-.9 -3.1,.6zM168.5,259.2l3.1,-.7 .6,-.9 -3.1,.7zM171.6,258.5l3.2,-.8 .5,-.8 -3.1,.7zM174.8,257.7l3.1,-.8 .5,-.7 -3.1,.7zM177.9,256.9l3.1,-.8 .6,-.7 -3.2,.8zM181,256.1l3.2,-.9 .5,-.7 -3.1,.9zM184.2,255.2l3.1,-.8 .6,-.7 -3.2,.8zM187.3,254.4l3.2,-.9 .5,-.7 -3.1,.9zM190.5,253.5l3.2,-.9 .5,-.6 -3.2,.8zM193.7,252.6l3.2,-.9 .5,-.6 -3.2,.9zM196.9,251.7l3.2,-.9 .5,-.5 -3.2,.8zM200.1,250.8l3.2,-.9 .5,-.5 -3.2,.9zM203.3,249.9l3.2,-1 .5,-.4 -3.2,.9zM206.5,248.9l3.3,-1.1 .5,-.3 -3.3,1zM209.8,247.8l3.2,-1.2 .5,-.2 -3.2,1.1zM213,246.6l3.3,-1.3 .5,-.2 -3.3,1.3zM216.3,245.3l3.3,-1.5 .5,-.2 -3.3,1.5z"/>
<path fill="#6ed796" d="M219.6,243.8l3.3,-1.7 .5,-.3 -3.3,1.8zM222.9,242.1l3.3,-2 .5,-.3 -3.3,2z"/>
<path fill="#6ccde4" d="M41.3,210.5l3.1,3.4 .7,-.7 -3.1,-3.4zM44.4,213.9l3,3.3 .7,-.7 -3,-3.3zM47.4,217.2l3,3.3 .7,-.7 -3,-3.3zM50.4,220.5l3.1,3.2 .7,-.8 -3.1,-3.1zM53.5,223.7l3,3.1 .7,-.8 -3,-3.1zM56.5,226.8l3,2.9 .7,-.8 -3,-2.9zM59.5,229.7l3,2.9 .7,-.8 -3,-2.9zM62.5,232.6l3,2.7 .7,-.9 -3,-2.6zM65.5,235.3l3.1,2.6 .6,-.9 -3,-2.6zM68.6,237.9l2.9,2.4 .7,-.9 -3,-2.4zM71.5,240.3l3,2.2 .7,-.9 -3,-2.2zM74.5,242.5l3,2.1 .7,-.9 -3,-2.1zM77.5,244.6l3,2 .7,-1 -3,-1.9zM80.5,246.6l3,1.8 .6,-1 -2.9,-1.8zM83.5,248.4l3,1.7 .6,-1 -3,-1.7zM86.5,250.1l2.9,1.6 .7,-1 -3,-1.6zM89.4,251.7l3,1.5 .7,-1 -3,-1.5zM92.4,253.2l3,1.3 .6,-1 -2.9,-1.3zM95.4,254.5l3,1.3 .6,-1.1 -3,-1.2zM98.4,255.8l2.9,1.1 .7,-1 -3,-1.2zM101.3,256.9l3,1 .6,-1 -2.9,-1zM104.3,257.9l3,1 .6,-1.1 -3,-.9zM107.3,258.9l3,.8 .6,-1 -3,-.9zM110.3,259.7l3,.8 .6,-1.1 -3,-.7zM113.3,260.5l3,.6 .6,-1 -3,-.7zM116.3,261.1l3,.6 .6,-1 -3,-.6zM119.3,261.7l3,.5 .6,-1.1 -3,-.4zM122.3,262.2l3,.4 .6,-1.1 -3,-.4zM125.3,262.6l3,.3 .6,-1 -3,-.4zM128.3,262.9l3,.2 .6,-1 -3,-.2zM131.3,263.1l3,.2 .6,-1 -3,-.2zM134.3,263.3l3,.1 .6,-1 -3,-.1zM137.3,263.4l3,0 .6,-1 -3,0zM140.3,263.4l3.1,-.1 .6,-1 -3.1,.1zM143.4,263.3l3,-.1 .6,-1 -3,.1zM146.4,263.2l3.1,-.2 .6,-1 -3.1,.2zM149.5,263l3,-.3 .6,-1 -3,.3zM152.5,262.7l3.1,-.4 .6,-1 -3.1,.4zM155.6,262.3l3.1,-.4 .5,-1 -3,.4zM158.7,261.9l3.1,-.6 .5,-.9 -3.1,.5zM161.8,261.3l3.1,-.6 .5,-.9 -3.1,.6zM164.9,260.7l3.1,-.6 .5,-.9 -3.1,.6zM168,260.1l3.1,-.7 .5,-.9 -3.1,.7zM171.1,259.4l3.1,-.8 .6,-.9 -3.2,.8zM174.2,258.6l3.1,-.8 .6,-.9 -3.1,.8zM177.3,257.8l3.2,-.9 .5,-.8 -3.1,.8zM180.5,256.9l3.1,-.9 .6,-.8 -3.2,.9zM183.6,256l3.2,-.9 .5,-.7 -3.1,.8zM186.8,255.1l3.2,-.9 .5,-.7 -3.2,.9zM190,254.2l3.2,-.9 .5,-.7 -3.2,.9zM193.2,253.3l3.2,-1 .5,-.6 -3.2,.9zM196.4,252.3l3.2,-.9 .5,-.6 -3.2,.9zM199.6,251.4l3.2,-1 .5,-.5 -3.2,.9zM202.8,250.4l3.2,-1 .5,-.5 -3.2,1zM206,249.4l3.3,-1.1 .5,-.5 -3.3,1.1zM209.3,248.3l3.2,-1.3 .5,-.4 -3.2,1.2zM212.5,247l3.3,-1.3 .5,-.4 -3.3,1.3zM215.8,245.7l3.3,-1.5 .5,-.4 -3.3,1.5zM219.1,244.2l3.3,-1.8 .5,-.3 -3.3,1.7zM222.4,242.4l3.3,-1.9 .5,-.4 -3.3,2z"/>
<path fill="#6ccde4" d="M40.6,211.1l3,3.4 .8,-.6 -3.1,-3.4zM43.6,214.5l3.1,3.4 .7,-.7 -3,-3.3zM46.7,217.9l3,3.3 .7,-.7 -3,-3.3zM49.7,221.2l3.1,3.2 .7,-.7 -3.1,-3.2zM52.8,224.4l3,3.1 .7,-.7 -3,-3.1zM55.8,227.5l3,3 .7,-.8 -3,-2.9zM58.8,230.5l3.1,2.9 .6,-.8 -3,-2.9zM61.9,233.4l3,2.8 .6,-.9 -3,-2.7zM64.9,236.2l3,2.5 .7,-.8 -3.1,-2.6zM67.9,238.7l3,2.5 .6,-.9 -2.9,-2.4zM70.9,241.2l3,2.2 .6,-.9 -3,-2.2zM73.9,243.4l3,2.2 .6,-1 -3,-2.1zM76.9,245.6l3,2 .6,-1 -3,-2zM79.9,247.6l2.9,1.8 .7,-1 -3,-1.8zM82.8,249.4l3,1.7 .7,-1 -3,-1.7zM85.8,251.1l3,1.6 .6,-1 -2.9,-1.6zM88.8,252.7l3,1.5 .6,-1 -3,-1.5zM91.8,254.2l3,1.4 .6,-1.1 -3,-1.3zM94.8,255.6l2.9,1.2 .7,-1 -3,-1.3zM97.7,256.8l3,1.1 .6,-1 -2.9,-1.1zM100.7,257.9l3,1.1 .6,-1.1 -3,-1zM103.7,259l3,.9 .6,-1 -3,-1zM106.7,259.9l3,.9 .6,-1.1 -3,-.8zM109.7,260.8l3,.7 .6,-1 -3,-.8zM112.7,261.5l3,.7 .6,-1.1 -3,-.6zM115.7,262.2l2.9,.5 .7,-1 -3,-.6zM118.6,262.7l3,.5 .7,-1 -3,-.5zM121.6,263.2l3.1,.4 .6,-1 -3,-.4zM124.7,263.6l3,.3 .6,-1 -3,-.3zM127.7,263.9l3,.3 .6,-1.1 -3,-.2zM130.7,264.2l3,.1 .6,-1 -3,-.2zM133.7,264.3l3,.1 .6,-1 -3,-.1zM136.7,264.4l3.1,0 .5,-1 -3,0zM139.8,264.4l3,-.1 .6,-1 -3.1,.1zM142.8,264.3l3,-.1 .6,-1 -3,.1zM145.8,264.2l3.1,-.2 .6,-1 -3.1,.2zM148.9,264l3.1,-.3 .5,-1 -3,.3zM152,263.7l3,-.4 .6,-1 -3.1,.4zM155,263.3l3.1,-.4 .6,-1 -3.1,.4zM158.1,262.9l3.1,-.6 .6,-1 -3.1,.6zM161.2,262.3l3.1,-.6 .6,-1 -3.1,.6zM164.3,261.7l3.1,-.6 .6,-1 -3.1,.6zM167.4,261.1l3.1,-.8 .6,-.9 -3.1,.7zM170.5,260.3l3.1,-.7 .6,-1 -3.1,.8zM173.6,259.6l3.2,-.9 .5,-.9 -3.1,.8zM176.8,258.7l3.1,-.9 .6,-.9 -3.2,.9zM179.9,257.8l3.2,-.9 .5,-.9 -3.1,.9zM183.1,256.9l3.2,-.9 .5,-.9 -3.2,.9zM186.3,256l3.1,-1 .6,-.8 -3.2,.9zM189.4,255l3.2,-1 .6,-.7 -3.2,.9zM192.6,254l3.2,-.9 .6,-.8 -3.2,1zM195.8,253.1l3.3,-1 .5,-.7 -3.2,.9zM199.1,252.1l3.2,-1.1 .5,-.6 -3.2,1zM202.3,251l3.2,-1 .5,-.6 -3.2,1zM205.5,250l3.3,-1.2 .5,-.5 -3.3,1.1zM208.8,248.8l3.2,-1.3 .5,-.5 -3.2,1.3zM212,247.5l3.3,-1.3 .5,-.5 -3.3,1.3zM215.3,246.2l3.3,-1.6 .5,-.4 -3.3,1.5zM218.6,244.6l3.3,-1.7 .5,-.5 -3.3,1.8zM221.9,242.9l3.4,-1.9 .4,-.5 -3.3,1.9z"/>
<path fill="#6ccde4" d="M39.9,211.7l3,3.5 .7,-.7 -3,-3.4zM42.9,215.2l3.1,3.4 .7,-.7 -3.1,-3.4zM46,218.6l3,3.3 .7,-.7 -3,-3.3zM49,221.9l3.1,3.3 .7,-.8 -3.1,-3.2zM52.1,225.2l3,3.1 .7,-.8 -3,-3.1zM55.1,228.3l3.1,3 .6,-.8 -3,-3zM58.2,231.3l3,2.9 .7,-.8 -3.1,-2.9zM61.2,234.2l3,2.8 .7,-.8 -3,-2.8zM64.2,237l3,2.6 .7,-.9 -3,-2.5zM67.2,239.6l3,2.5 .7,-.9 -3,-2.5zM70.2,242.1l3,2.3 .7,-1 -3,-2.2zM73.2,244.4l3,2.1 .7,-.9 -3,-2.2zM76.2,246.5l3,2 .7,-.9 -3,-2zM79.2,248.5l3,1.9 .6,-1 -2.9,-1.8zM82.2,250.4l3,1.7 .6,-1 -3,-1.7zM85.2,252.1l3,1.6 .6,-1 -3,-1.6zM88.2,253.7l3,1.5 .6,-1 -3,-1.5zM91.2,255.2l2.9,1.4 .7,-1 -3,-1.4zM94.1,256.6l3,1.2 .6,-1 -2.9,-1.2zM97.1,257.8l3,1.2 .6,-1.1 -3,-1.1zM100.1,259l3,1 .6,-1 -3,-1.1zM103.1,260l3,1 .6,-1.1 -3,-.9zM106.1,261l3,.8 .6,-1 -3,-.9zM109.1,261.8l2.9,.7 .7,-1 -3,-.7zM112,262.5l3,.7 .7,-1 -3,-.7zM115,263.2l3,.6 .6,-1.1 -2.9,-.5zM118,263.8l3,.4 .6,-1 -3,-.5zM121,264.2l3.1,.4 .6,-1 -3.1,-.4zM124.1,264.6l3,.3 .6,-1 -3,-.3zM127.1,264.9l3,.3 .6,-1 -3,-.3zM130.1,265.2l3,.1 .6,-1 -3,-.1zM133.1,265.3l3,.1 .6,-1 -3,-.1zM136.1,265.4l3.1,0 .6,-1 -3.1,0zM139.2,265.4l3,0 .6,-1.1 -3,.1zM142.2,265.4l3.1,-.2 .5,-1 -3,.1zM145.3,265.2l3,-.2 .6,-1 -3.1,.2zM148.3,265l3.1,-.3 .6,-1 -3.1,.3zM151.4,264.7l3.1,-.4 .5,-1 -3,.4zM154.5,264.3l3,-.4 .6,-1 -3.1,.4zM157.5,263.9l3.1,-.5 .6,-1.1 -3.1,.6zM160.6,263.4l3.1,-.6 .6,-1.1 -3.1,.6zM163.7,262.8l3.1,-.7 .6,-1 -3.1,.6zM166.8,262.1l3.2,-.7 .5,-1.1 -3.1,.8zM170,261.4l3.1,-.8 .5,-1 -3.1,.7zM173.1,260.6l3.1,-.8 .6,-1.1 -3.2,.9zM176.2,259.8l3.2,-.9 .5,-1.1 -3.1,.9zM179.4,258.9l3.1,-1 .6,-1 -3.2,.9zM182.5,257.9l3.2,-.9 .6,-1 -3.2,.9zM185.7,257l3.2,-1 .5,-1 -3.1,1zM188.9,256l3.2,-1 .5,-1 -3.2,1zM192.1,255l3.2,-1.1 .5,-.8 -3.2,.9zM195.3,253.9l3.2,-1 .6,-.8 -3.3,1zM198.5,252.9l3.3,-1.1 .5,-.8 -3.2,1.1zM201.8,251.8l3.2,-1.1 .5,-.7 -3.2,1zM205,250.7l3.3,-1.2 .5,-.7 -3.3,1.2zM208.3,249.5l3.2,-1.3 .5,-.7 -3.2,1.3zM211.5,248.2l3.3,-1.4 .5,-.6 -3.3,1.3zM214.8,246.8l3.3,-1.5 .5,-.7 -3.3,1.6zM218.1,245.3l3.3,-1.7 .5,-.7 -3.3,1.7zM221.4,243.6l3.4,-1.8 .5,-.8 -3.4,1.9z"/>
<path fill="#6ccde4" d="M39.2,212.4l3,3.4 .7,-.6 -3,-3.5zM42.2,215.8l3.1,3.5 .7,-.7 -3.1,-3.4zM45.3,219.3l3,3.3 .7,-.7 -3,-3.3zM48.3,222.6l3.1,3.3 .7,-.7 -3.1,-3.3zM51.4,225.9l3,3.2 .7,-.8 -3,-3.1zM54.4,229.1l3.1,3 .7,-.8 -3.1,-3zM57.5,232.1l3,3 .7,-.9 -3,-2.9zM60.5,235.1l3,2.8 .7,-.9 -3,-2.8zM63.5,237.9l3.1,2.6 .6,-.9 -3,-2.6zM66.6,240.5l3,2.5 .6,-.9 -3,-2.5zM69.6,243l3,2.3 .6,-.9 -3,-2.3zM72.6,245.3l3,2.1 .6,-.9 -3,-2.1zM75.6,247.4l3,2.1 .6,-1 -3,-2zM78.6,249.5l3,1.9 .6,-1 -3,-1.9zM81.6,251.4l2.9,1.7 .7,-1 -3,-1.7zM84.5,253.1l3,1.6 .7,-1 -3,-1.6zM87.5,254.7l3,1.5 .7,-1 -3,-1.5zM90.5,256.2l3,1.4 .6,-1 -2.9,-1.4zM93.5,257.6l3,1.3 .6,-1.1 -3,-1.2zM96.5,258.9l3,1.1 .6,-1 -3,-1.2zM99.5,260l3,1.1 .6,-1.1 -3,-1zM102.5,261.1l2.9,.9 .7,-1 -3,-1zM105.4,262l3,.8 .7,-1 -3,-.8zM108.4,262.8l3,.8 .6,-1.1 -2.9,-.7zM111.4,263.6l3,.6 .6,-1 -3,-.7zM114.4,264.2l3,.6 .6,-1 -3,-.6zM117.4,264.8l3,.5 .6,-1.1 -3,-.4zM120.4,265.3l3,.4 .7,-1.1 -3.1,-.4zM123.4,265.7l3.1,.3 .6,-1.1 -3,-.3zM126.5,266l3,.2 .6,-1 -3,-.3zM129.5,266.2l3,.2 .6,-1.1 -3,-.1zM132.5,266.4l3,.1 .6,-1.1 -3,-.1zM135.5,266.5l3.1,0 .6,-1.1 -3.1,0zM138.6,266.5l3,-.1 .6,-1 -3,0zM141.6,266.4l3.1,-.1 .6,-1.1 -3.1,.2zM144.7,266.3l3,-.2 .6,-1.1 -3,.2zM147.7,266.1l3.1,-.3 .6,-1.1 -3.1,.3zM150.8,265.8l3.1,-.4 .6,-1.1 -3.1,.4zM153.9,265.4l3.1,-.4 .5,-1.1 -3,.4zM157,265l3.1,-.5 .5,-1.1 -3.1,.5zM160.1,264.5l3.1,-.6 .5,-1.1 -3.1,.6zM163.2,263.9l3.1,-.6 .5,-1.2 -3.1,.7zM166.3,263.3l3.1,-.8 .6,-1.1 -3.2,.7zM169.4,262.5l3.1,-.7 .6,-1.2 -3.1,.8zM172.5,261.8l3.2,-.9 .5,-1.1 -3.1,.8zM175.7,260.9l3.1,-.9 .6,-1.1 -3.2,.9zM178.8,260l3.2,-.9 .5,-1.2 -3.1,1zM182,259.1l3.2,-1 .5,-1.1 -3.2,.9zM185.2,258.1l3.2,-1 .5,-1.1 -3.2,1zM188.4,257.1l3.2,-1.1 .5,-1 -3.2,1zM191.6,256l3.2,-1.1 .5,-1 -3.2,1.1zM194.8,254.9l3.2,-1.1 .5,-.9 -3.2,1zM198,253.8l3.2,-1.1 .6,-.9 -3.3,1.1zM201.2,252.7l3.3,-1.2 .5,-.8 -3.2,1.1zM204.5,251.5l3.2,-1.2 .6,-.8 -3.3,1.2zM207.7,250.3l3.3,-1.4 .5,-.7 -3.2,1.3zM211,248.9l3.3,-1.4 .5,-.7 -3.3,1.4zM214.3,247.5l3.3,-1.5 .5,-.7 -3.3,1.5zM217.6,246l3.3,-1.6 .5,-.8 -3.3,1.7zM220.9,244.4l3.4,-1.7 .5,-.9 -3.4,1.8z"/>
<path fill="#6ccde4" d="M38.4,213l3.1,3.5 .7,-.7 -3,-3.4zM41.5,216.5l3.1,3.5 .7,-.7 -3.1,-3.5zM44.6,220l3,3.4 .7,-.8 -3,-3.3zM47.6,223.4l3.1,3.3 .7,-.8 -3.1,-3.3zM50.7,226.7l3.1,3.2 .6,-.8 -3,-3.2zM53.8,229.9l3,3 .7,-.8 -3.1,-3zM56.8,232.9l3,3 .7,-.8 -3,-3zM59.8,235.9l3.1,2.8 .6,-.8 -3,-2.8zM62.9,238.7l3,2.6 .7,-.8 -3.1,-2.6zM65.9,241.3l3,2.5 .7,-.8 -3,-2.5zM68.9,243.8l3,2.4 .7,-.9 -3,-2.3zM71.9,246.2l3,2.2 .7,-1 -3,-2.1zM74.9,248.4l3,2 .7,-.9 -3,-2.1zM77.9,250.4l3,1.9 .7,-.9 -3,-1.9zM80.9,252.3l3,1.8 .6,-1 -2.9,-1.7zM83.9,254.1l3,1.6 .6,-1 -3,-1.6zM86.9,255.7l3,1.5 .6,-1 -3,-1.5zM89.9,257.2l3,1.4 .6,-1 -3,-1.4zM92.9,258.6l3,1.3 .6,-1 -3,-1.3zM95.9,259.9l2.9,1.1 .7,-1 -3,-1.1zM98.8,261l3,1.1 .7,-1 -3,-1.1zM101.8,262.1l3,.9 .6,-1 -2.9,-.9zM104.8,263l3,.9 .6,-1.1 -3,-.8zM107.8,263.9l3,.7 .6,-1 -3,-.8zM110.8,264.6l3,.7 .6,-1.1 -3,-.6zM113.8,265.3l3,.5 .6,-1 -3,-.6zM116.8,265.8l3,.5 .6,-1 -3,-.5zM119.8,266.3l3,.4 .6,-1 -3,-.4zM122.8,266.7l3.1,.3 .6,-1 -3.1,-.3zM125.9,267l3,.2 .6,-1 -3,-.2zM128.9,267.2l3,.2 .6,-1 -3,-.2zM131.9,267.4l3.1,.1 .5,-1 -3,-.1zM135,267.5l3,0 .6,-1 -3.1,0zM138,267.5l3,0 .6,-1.1 -3,.1zM141,267.5l3.1,-.1 .6,-1.1 -3.1,.1zM144.1,267.4l3.1,-.2 .5,-1.1 -3,.2zM147.2,267.2l3,-.3 .6,-1.1 -3.1,.3z"/>
<path fill="#71d6de" d="M150.2,266.9l3.1,-.3 .6,-1.2 -3.1,.4zM153.3,266.6l3.1,-.4 .6,-1.2 -3.1,.4zM156.4,266.2l3.1,-.5 .6,-1.2 -3.1,.5zM159.5,265.7l3.1,-.6 .6,-1.2 -3.1,.6zM162.6,265.1l3.1,-.6 .6,-1.2 -3.1,.6zM165.7,264.5l3.1,-.7 .6,-1.3 -3.1,.8zM168.8,263.8l3.2,-.8 .5,-1.2 -3.1,.7zM172,263l3.1,-.8 .6,-1.3 -3.2,.9zM175.1,262.2l3.2,-.9 .5,-1.3 -3.1,.9zM178.3,261.3l3.1,-.9 .6,-1.3 -3.2,.9zM181.4,260.4l3.2,-1 .6,-1.3 -3.2,1zM184.6,259.4l3.2,-1.1 .6,-1.2 -3.2,1zM187.8,258.3l3.2,-1.1 .6,-1.2 -3.2,1.1zM191,257.2l3.2,-1.1 .6,-1.2 -3.2,1.1z"/>
<path fill="#6ccde4" d="M194.2,256.1l3.3,-1.1 .5,-1.2 -3.2,1.1zM197.5,255l3.2,-1.2 .5,-1.1 -3.2,1.1zM200.7,253.8l3.2,-1.3 .6,-1 -3.3,1.2zM203.9,252.5l3.3,-1.3 .5,-.9 -3.2,1.2zM207.2,251.2l3.3,-1.3 .5,-1 -3.3,1.4zM210.5,249.9l3.3,-1.4 .5,-1 -3.3,1.4zM213.8,248.5l3.3,-1.5 .5,-1 -3.3,1.5zM217.1,247l3.3,-1.5 .5,-1.1 -3.3,1.6zM220.4,245.5l3.3,-1.7 .6,-1.1 -3.4,1.7z"/>
<path fill="#6ccde4" d="M37.7,213.6l3.1,3.6 .7,-.7 -3.1,-3.5zM40.8,217.2l3.1,3.5 .7,-.7 -3.1,-3.5zM43.9,220.7l3,3.4 .7,-.7 -3,-3.4zM46.9,224.1l3.1,3.3 .7,-.7 -3.1,-3.3zM50,227.4l3.1,3.2 .7,-.7 -3.1,-3.2zM53.1,230.6l3,3.1 .7,-.8 -3,-3zM56.1,233.7l3.1,3 .6,-.8 -3,-3zM59.2,236.7l3,2.8 .7,-.8 -3.1,-2.8zM62.2,239.5l3,2.7 .7,-.9 -3,-2.6zM65.2,242.2l3,2.5 .7,-.9 -3,-2.5zM68.2,244.7l3,2.4 .7,-.9 -3,-2.4zM71.2,247.1l3,2.2 .7,-.9 -3,-2.2zM74.2,249.3l3.1,2 .6,-.9 -3,-2zM77.3,251.3l3,2 .6,-1 -3,-1.9zM80.3,253.3l2.9,1.8 .7,-1 -3,-1.8zM83.2,255.1l3,1.6 .7,-1 -3,-1.6zM86.2,256.7l3,1.5 .7,-1 -3,-1.5zM89.2,258.2l3,1.4 .7,-1 -3,-1.4zM92.2,259.6l3,1.3 .7,-1 -3,-1.3zM95.2,260.9l3,1.2 .6,-1.1 -2.9,-1.1zM98.2,262.1l3,1 .6,-1 -3,-1.1zM101.2,263.1l3,1 .6,-1.1 -3,-.9zM104.2,264.1l3,.8 .6,-1 -3,-.9zM107.2,264.9l3,.7 .6,-1 -3,-.7zM110.2,265.6l3,.7 .6,-1 -3,-.7zM113.2,266.3l3,.5 .6,-1 -3,-.5zM116.2,266.8l3,.5 .6,-1 -3,-.5zM119.2,267.3l3,.4 .6,-1 -3,-.4zM122.2,267.7l3.1,.3 .6,-1 -3.1,-.3zM125.3,268l3,.3 .6,-1.1 -3,-.2zM128.3,268.3l3,.2 .6,-1.1 -3,-.2zM131.3,268.5l3.1,.1 .6,-1.1 -3.1,-.1zM134.4,268.6l3,0 .6,-1.1 -3,0zM137.4,268.6l3.1,0 .5,-1.1 -3,0zM140.5,268.6l3,-.1 .6,-1.1 -3.1,.1z"/>
<path fill="#71d6de" d="M143.5,268.5l3.1,-.2 .6,-1.1 -3.1,.2zM146.6,268.3l3.1,-.2 .5,-1.2 -3,.3zM149.7,268.1l3,-.3 .6,-1.2 -3.1,.3zM152.7,267.8l3.1,-.4 .6,-1.2 -3.1,.4zM155.8,267.4l3.1,-.4 .6,-1.3 -3.1,.5zM158.9,267l3.1,-.6 .6,-1.3 -3.1,.6zM162,266.4l3.2,-.6 .5,-1.3 -3.1,.6zM165.2,265.8l3.1,-.7 .5,-1.3 -3.1,.7z"/>
<path fill="#76e0d7" d="M168.3,265.1l3.1,-.7 .6,-1.4 -3.2,.8zM171.4,264.4l3.2,-.8 .5,-1.4 -3.1,.8zM174.6,263.6l3.1,-.9 .6,-1.4 -3.2,.9zM177.7,262.7l3.2,-.9 .5,-1.4 -3.1,.9zM180.9,261.8l3.2,-1 .5,-1.4 -3.2,1zM184.1,260.8l3.2,-1.1 .5,-1.4 -3.2,1.1z"/>
<path fill="#71d6de" d="M187.3,259.7l3.2,-1.1 .5,-1.4 -3.2,1.1zM190.5,258.6l3.2,-1.1 .5,-1.4 -3.2,1.1zM193.7,257.5l3.2,-1.3 .6,-1.2 -3.3,1.1zM196.9,256.2l3.3,-1.2 .5,-1.2 -3.2,1.2zM200.2,255l3.2,-1.3 .5,-1.2 -3.2,1.3z"/>
<path fill="#6ccde4" d="M203.4,253.7l3.3,-1.3 .5,-1.2 -3.3,1.3zM206.7,252.4l3.3,-1.4 .5,-1.1 -3.3,1.3zM210,251l3.3,-1.4 .5,-1.1 -3.3,1.4zM213.3,249.6l3.3,-1.4 .5,-1.2 -3.3,1.5z"/>
<path fill="#71d6de" d="M216.6,248.2l3.3,-1.5 .5,-1.2 -3.3,1.5zM219.9,246.7l3.3,-1.5 .5,-1.4 -3.3,1.7z"/>
<path fill="#6ccde4" d="M37,214.3l3.1,3.5 .7,-.6 -3.1,-3.6zM40.1,217.8l3.1,3.6 .7,-.7 -3.1,-3.5zM43.2,221.4l3,3.4 .7,-.7 -3,-3.4zM46.2,224.8l3.1,3.4 .7,-.8 -3.1,-3.3zM49.3,228.2l3.1,3.2 .7,-.8 -3.1,-3.2zM52.4,231.4l3,3.1 .7,-.8 -3,-3.1zM55.4,234.5l3.1,3 .7,-.8 -3.1,-3zM58.5,237.5l3,2.8 .7,-.8 -3,-2.8zM61.5,240.3l3,2.7 .7,-.8 -3,-2.7zM64.5,243l3.1,2.6 .6,-.9 -3,-2.5zM67.6,245.6l3,2.4 .6,-.9 -3,-2.4zM70.6,248l3,2.2 .6,-.9 -3,-2.2zM73.6,250.2l3,2.1 .7,-1 -3.1,-2zM76.6,252.3l3,1.9 .7,-.9 -3,-2zM79.6,254.2l3,1.8 .6,-.9 -2.9,-1.8zM82.6,256l3,1.7 .6,-1 -3,-1.6zM85.6,257.7l3,1.5 .6,-1 -3,-1.5zM88.6,259.2l3,1.4 .6,-1 -3,-1.4zM91.6,260.6l3,1.3 .6,-1 -3,-1.3zM94.6,261.9l3,1.2 .6,-1 -3,-1.2zM97.6,263.1l3,1 .6,-1 -3,-1zM100.6,264.1l3,1 .6,-1 -3,-1zM103.6,265.1l3,.8 .6,-1 -3,-.8zM106.6,265.9l3,.8 .6,-1.1 -3,-.7zM109.6,266.7l3,.6 .6,-1 -3,-.7zM112.6,267.3l3,.6 .6,-1.1 -3,-.5zM115.6,267.9l3,.4 .6,-1 -3,-.5zM118.6,268.3l3,.4 .6,-1 -3,-.4zM121.6,268.7l3.1,.4 .6,-1.1 -3.1,-.3zM124.7,269.1l3,.2 .6,-1 -3,-.3zM127.7,269.3l3,.2 .6,-1 -3,-.2zM130.7,269.5l3.1,.2 .6,-1.1 -3.1,-.1zM133.8,269.7l3,0 .6,-1.1 -3,0zM136.8,269.7l3.1,0 .6,-1.1 -3.1,0z"/>
<path fill="#71d6de" d="M139.9,269.7l3,0 .6,-1.2 -3,.1zM142.9,269.7l3.1,-.2 .6,-1.2 -3.1,.2zM146,269.5l3.1,-.2 .6,-1.2 -3.1,.2zM149.1,269.3l3.1,-.2 .5,-1.3 -3,.3zM152.2,269.1l3.1,-.4 .5,-1.3 -3.1,.4zM155.3,268.7l3.1,-.4 .5,-1.3 -3.1,.4z"/>
<path fill="#76e0d7" d="M158.4,268.3l3.1,-.5 .5,-1.4 -3.1,.6zM161.5,267.8l3.1,-.5 .6,-1.5 -3.2,.6zM164.6,267.3l3.1,-.7 .6,-1.5 -3.1,.7zM167.7,266.6l3.2,-.7 .5,-1.5 -3.1,.7zM170.9,265.9l3.1,-.8 .6,-1.5 -3.2,.8zM174,265.1l3.2,-.8 .5,-1.6 -3.1,.9zM177.2,264.3l3.1,-.9 .6,-1.6 -3.2,.9zM180.3,263.4l3.2,-1 .6,-1.6 -3.2,1zM183.5,262.4l3.2,-1.1 .6,-1.6 -3.2,1.1zM186.7,261.3l3.2,-1.1 .6,-1.6 -3.2,1.1zM189.9,260.2l3.2,-1.2 .6,-1.5 -3.2,1.1zM193.1,259l3.3,-1.3 .5,-1.5 -3.2,1.3zM196.4,257.7l3.2,-1.3 .6,-1.4 -3.3,1.2z"/>
<path fill="#71d6de" d="M199.6,256.4l3.3,-1.4 .5,-1.3 -3.2,1.3zM202.9,255l3.3,-1.3 .5,-1.3 -3.3,1.3zM206.2,253.7l3.2,-1.4 .6,-1.3 -3.3,1.4zM209.4,252.3l3.3,-1.4 .6,-1.3 -3.3,1.4zM212.7,250.9l3.3,-1.4 .6,-1.3 -3.3,1.4zM216,249.5l3.4,-1.3 .5,-1.5 -3.3,1.5z"/>
<path fill="#76e0d7" d="M219.4,248.2l3.3,-1.3 .5,-1.7 -3.3,1.5z"/>
<path fill="#6ccde4" d="M36.3,214.9l3.1,3.6 .7,-.7 -3.1,-3.5zM39.4,218.5l3.1,3.6 .7,-.7 -3.1,-3.6zM42.5,222.1l3,3.4 .7,-.7 -3,-3.4zM45.5,225.5l3.1,3.4 .7,-.7 -3.1,-3.4zM48.6,228.9l3.1,3.3 .7,-.8 -3.1,-3.2zM51.7,232.2l3,3.1 .7,-.8 -3,-3.1zM54.7,235.3l3.1,3 .7,-.8 -3.1,-3zM57.8,238.3l3,2.9 .7,-.9 -3,-2.8zM60.8,241.2l3.1,2.7 .6,-.9 -3,-2.7zM63.9,243.9l3,2.5 .7,-.8 -3.1,-2.6zM66.9,246.4l3,2.4 .7,-.8 -3,-2.4zM69.9,248.8l3,2.3 .7,-.9 -3,-2.2zM72.9,251.1l3,2.1 .7,-.9 -3,-2.1zM75.9,253.2l3,2 .7,-1 -3,-1.9zM78.9,255.2l3,1.8 .7,-1 -3,-1.8zM81.9,257l3.1,1.7 .6,-1 -3,-1.7zM85,258.7l3,1.5 .6,-1 -3,-1.5zM88,260.2l3,1.4 .6,-1 -3,-1.4zM91,261.6l2.9,1.3 .7,-1 -3,-1.3zM93.9,262.9l3,1.2 .7,-1 -3,-1.2zM96.9,264.1l3,1.1 .7,-1.1 -3,-1zM99.9,265.2l3,.9 .7,-1 -3,-1zM102.9,266.1l3.1,.8 .6,-1 -3,-.8zM106,266.9l3,.8 .6,-1 -3,-.8zM109,267.7l3,.6 .6,-1 -3,-.6zM112,268.3l3,.6 .6,-1 -3,-.6zM115,268.9l3,.4 .6,-1 -3,-.4zM118,269.3l3,.5 .6,-1.1 -3,-.4zM121,269.8l3,.3 .7,-1 -3.1,-.4zM124,270.1l3.1,.3 .6,-1.1 -3,-.2zM127.1,270.4l3,.2 .6,-1.1 -3,-.2zM130.1,270.6l3.1,.1 .6,-1 -3.1,-.2zM133.2,270.7l3,.1 .6,-1.1 -3,0z"/>
<path fill="#71d6de" d="M136.2,270.8l3.1,.1 .6,-1.2 -3.1,0zM139.3,270.9l3,0 .6,-1.2 -3,0zM142.3,270.9l3.1,-.1 .6,-1.3 -3.1,.2zM145.4,270.8l3.1,-.2 .6,-1.3 -3.1,.2zM148.5,270.6l3.1,-.2 .6,-1.3 -3.1,.2z"/>
<path fill="#76e0d7" d="M151.6,270.4l3.1,-.3 .6,-1.4 -3.1,.4zM154.7,270.1l3.1,-.4 .6,-1.4 -3.1,.4zM157.8,269.7l3.1,-.4 .6,-1.5 -3.1,.5zM160.9,269.3l3.1,-.5 .6,-1.5 -3.1,.5zM164,268.8l3.1,-.6 .6,-1.6 -3.1,.7z"/>
<path fill="#7ce9d1" d="M167.1,268.2l3.2,-.7 .6,-1.6 -3.2,.7zM170.3,267.5l3.1,-.7 .6,-1.7 -3.1,.8zM173.4,266.8l3.2,-.8 .6,-1.7 -3.2,.8zM176.6,266l3.2,-.9 .5,-1.7 -3.1,.9zM179.8,265.1l3.2,-1 .5,-1.7 -3.2,1zM183,264.1l3.2,-1 .5,-1.8 -3.2,1.1zM186.2,263.1l3.2,-1.2 .5,-1.7 -3.2,1.1zM189.4,261.9l3.2,-1.2 .5,-1.7 -3.2,1.2z"/>
<path fill="#76e0d7" d="M192.6,260.7l3.2,-1.3 .6,-1.7 -3.3,1.3zM195.8,259.4l3.3,-1.4 .5,-1.6 -3.2,1.3zM199.1,258l3.2,-1.4 .6,-1.6 -3.3,1.4zM202.3,256.6l3.3,-1.4 .6,-1.5 -3.3,1.3zM205.6,255.2l3.3,-1.4 .5,-1.5 -3.2,1.4zM208.9,253.8l3.3,-1.4 .5,-1.5 -3.3,1.4zM212.2,252.4l3.3,-1.3 .5,-1.6 -3.3,1.4zM215.5,251.1l3.3,-1.2 .6,-1.7 -3.4,1.3z"/>
<path fill="#7ce9d1" d="M218.8,249.9l3.4,-1.1 .5,-1.9 -3.3,1.3z"/>
<path fill="#6ccde4" d="M35.6,215.5l3.1,3.7 .7,-.7 -3.1,-3.6zM38.7,219.2l3,3.6 .8,-.7 -3.1,-3.6zM41.7,222.8l3.1,3.5 .7,-.8 -3,-3.4zM44.8,226.3l3.1,3.4 .7,-.8 -3.1,-3.4zM47.9,229.7l3.1,3.2 .7,-.7 -3.1,-3.3zM51,232.9l3,3.2 .7,-.8 -3,-3.1zM54,236.1l3.1,3 .7,-.8 -3.1,-3zM57.1,239.1l3,2.9 .7,-.8 -3,-2.9zM60.1,242l3.1,2.7 .7,-.8 -3.1,-2.7zM63.2,244.7l3,2.6 .7,-.9 -3,-2.5zM66.2,247.3l3,2.4 .7,-.9 -3,-2.4zM69.2,249.7l3.1,2.3 .6,-.9 -3,-2.3zM72.3,252l3,2.1 .6,-.9 -3,-2.1zM75.3,254.1l3,2 .6,-.9 -3,-2zM78.3,256.1l3,1.8 .6,-.9 -3,-1.8zM81.3,257.9l3,1.7 .7,-.9 -3.1,-1.7zM84.3,259.6l3,1.6 .7,-1 -3,-1.5zM87.3,261.2l3,1.4 .7,-1 -3,-1.4zM90.3,262.6l3,1.3 .6,-1 -2.9,-1.3zM93.3,263.9l3,1.2 .6,-1 -3,-1.2zM96.3,265.1l3,1.1 .6,-1 -3,-1.1zM99.3,266.2l3,.9 .6,-1 -3,-.9zM102.3,267.1l3,.8 .7,-1 -3.1,-.8zM105.3,267.9l3,.7 .7,-.9 -3,-.8zM108.3,268.6l3,.6 .7,-.9 -3,-.6zM111.3,269.2l3.1,.5 .6,-.8 -3,-.6zM114.4,269.7l3,.6 .6,-1 -3,-.4zM117.4,270.3l3,.5 .6,-1 -3,-.5zM120.4,270.8l3,.3 .6,-1 -3,-.3zM123.4,271.1l3.1,.3 .6,-1 -3.1,-.3zM126.5,271.4l3,.2 .6,-1 -3,-.2zM129.5,271.6l3.1,.2 .6,-1.1 -3.1,-.1zM132.6,271.8l3,.2 .6,-1.2 -3,-.1z"/>
<path fill="#71d6de" d="M135.6,272l3.1,.1 .6,-1.2 -3.1,-.1zM138.7,272.1l3.1,0 .5,-1.2 -3,0zM141.8,272.1l3,-.1 .6,-1.2 -3.1,.1zM144.8,272l3.1,-.1 .6,-1.3 -3.1,.2z"/>
<path fill="#76e0d7" d="M147.9,271.9l3.1,-.1 .6,-1.4 -3.1,.2zM151,271.8l3.1,-.2 .6,-1.5 -3.1,.3zM154.1,271.6l3.1,-.3 .6,-1.6 -3.1,.4zM157.2,271.3l3.1,-.4 .6,-1.6 -3.1,.4z"/>
<path fill="#7ce9d1" d="M160.3,270.9l3.1,-.5 .6,-1.6 -3.1,.5zM163.4,270.4l3.2,-.5 .5,-1.7 -3.1,.6zM166.6,269.9l3.1,-.6 .6,-1.8 -3.2,.7zM169.7,269.3l3.2,-.6 .5,-1.9 -3.1,.7zM172.9,268.7l3.1,-.8 .6,-1.9 -3.2,.8zM176,267.9l3.2,-.9 .6,-1.9 -3.2,.9zM179.2,267l3.2,-.9 .6,-2 -3.2,1zM182.4,266.1l3.2,-1.1 .6,-1.9 -3.2,1zM185.6,265l3.2,-1.1 .6,-2 -3.2,1.2zM188.8,263.9l3.2,-1.3 .6,-1.9 -3.2,1.2zM192,262.6l3.3,-1.3 .5,-1.9 -3.2,1.3zM195.3,261.3l3.2,-1.5 .6,-1.8 -3.3,1.4zM198.5,259.8l3.3,-1.4 .5,-1.8 -3.2,1.4zM201.8,258.4l3.3,-1.5 .5,-1.7 -3.3,1.4zM205.1,256.9l3.3,-1.4 .5,-1.7 -3.3,1.4zM208.4,255.5l3.3,-1.3 .5,-1.8 -3.3,1.4zM211.7,254.2l3.3,-1.2 .5,-1.9 -3.3,1.3zM215,253l3.3,-1.1 .5,-2 -3.3,1.2z"/>
<path fill="#81f3ca" d="M218.3,251.9l3.3,-.9 .6,-2.2 -3.4,1.1z"/>
</g>
<line x1="27.8" y1="76.9" x2="225.7" y2="104.3" stroke="#444" stroke-width="0.55" stroke-dasharray="0.9,0.9"/>
<line x1="225.7" y1="104.3" x2="280.3" y2="36.7" stroke="#444" stroke-width="0.55" stroke-dasharray="0.9,0.9"/>
<line x1="225.7" y1="104.3" x2="220.5" y2="290.6" stroke="#444" stroke-width="0.55" stroke-dasharray="0.9,0.9"/>
<g shape-rendering="geometricPrecision">
<path d="M354.5,274.5 574.8,274.5 572.4,272.9 570.3,271.3 568.5,269.7 566.9,268.1 565.5,266.5 564.4,264.9 563.5,263.3 562.8,261.7 562.4,260.1 562.2,258.5 562.1,256.9 562.3,255.3 562.6,253.7 563.1,252.1 563.8,250.5 564.7,248.9 565.7,247.3 566.8,245.7 569.6,242.5 573.3,238.9 576.3,236.3 579.3,233.9 591.3,224.8 597.5,220.0 603.2,215.2 615.3,204.7 618.3,202.3 621.3,200.2 621.3,183.7 616.8,183.4 612.3,182.8 607.8,182.1 601.8,180.9 583.6,176.8 570.2,174.0 559.7,172.0 550.4,170.4 529.6,167.2 506.5,164.0 481.7,160.7 462.1,158.4 451.6,157.4 441.1,156.7 432.1,156.4 423.1,156.5 415.6,157.0 409.6,157.7 406.6,158.3 403.6,159.0 400.6,159.8 397.7,160.8 393.1,162.7 390.1,164.4 388.2,165.6 386.0,167.2 384.0,168.8 382.3,170.4 379.6,173.3 378.1,175.2 376.6,177.2 375.1,179.5 373.6,182.1 372.0,184.9 370.5,188.1 368.0,194.4 365.2,202.4 363.8,207.2 362.5,212.0 360.3,221.6 358.6,231.2 357.0,241.6 355.9,252.1 355.0,263.3 354.5,274.5ZM322.5,19.8 322.5,21.1 323.5,19.8 322.5,19.8Z" fill="#aaaaff"/>
<path d="M371.3,274.5 551.4,274.5 548.5,272.9 546.0,271.3 543.9,269.7 542.0,268.1 540.5,266.5 539.1,264.9 538.0,263.3 537.2,261.7 536.4,260.1 535.9,258.5 535.5,256.9 535.3,255.3 535.2,253.7 535.2,252.1 535.5,248.9 536.3,245.7 537.4,242.5 539.7,237.7 541.7,234.1 544.6,229.6 553.7,216.8 555.7,213.6 557.3,210.4 557.9,208.8 558.3,207.2 558.5,205.6 558.5,204.0 558.3,202.4 557.8,200.8 556.9,199.2 555.8,197.6 554.2,196.0 552.2,194.4 549.7,192.8 546.6,191.2 544.7,190.4 542.9,189.6 538.5,188.0 533.1,186.4 529.7,185.5 525.2,184.5 519.2,183.3 508.3,181.6 496.7,180.3 490.7,179.8 484.7,179.5 474.2,179.2 468.1,179.2 463.6,179.3 454.6,179.9 450.1,180.4 445.6,181.0 441.9,181.6 438.1,182.3 434.5,183.2 430.6,184.3 426.1,185.8 423.1,186.9 420.1,188.2 417.2,189.6 412.6,192.2 408.1,195.3 405.3,197.6 403.6,199.1 400.2,202.4 397.6,205.4 396.1,207.2 393.1,211.3 389.5,216.8 387.7,220.0 385.6,224.0 382.6,230.4 379.6,237.8 376.9,245.7 375.1,252.1 373.3,260.1 372.0,267.4 371.3,274.5Z" fill="#5555ff"/>
<path d="M394.3,274.5 517.9,274.5 514.7,272.6 512.9,271.3 510.8,269.7 509.0,268.1 507.5,266.5 504.8,263.3 502.6,260.1 501.6,258.5 499.9,255.3 497.6,250.5 495.1,244.1 492.2,236.7 490.7,233.4 489.2,230.6 487.7,228.2 486.2,226.4 484.7,224.8 483.2,223.6 481.7,222.5 480.2,221.6 478.7,220.9 475.7,219.7 474.2,219.3 471.1,218.6 468.1,218.1 463.6,217.8 459.1,218.0 454.6,218.4 450.1,219.2 445.6,220.4 441.1,221.9 436.6,223.9 432.1,226.2 429.1,228.0 424.6,231.1 421.6,233.5 417.1,237.5 414.1,240.5 411.1,243.8 408.1,247.4 405.1,251.5 402.1,256.2 400.0,260.1 397.6,265.1 395.8,269.7 394.3,274.5Z" fill="#0000ff"/>
<path d="M322.5,274.5 327.6,274.5 326.7,255.3 325.7,240.9 324.5,228.0 323.1,216.8 322.5,212.5 322.5,274.5ZM612.3,272.9 614.7,274.5 621.3,274.5 621.3,240.8 619.8,242.4 615.5,247.3 611.8,252.1 609.8,255.3 608.9,256.9 608.2,258.5 607.7,260.1 607.4,261.7 607.3,263.3 607.4,264.9 607.7,266.5 608.3,268.1 609.3,269.7 610.5,271.3 612.3,272.9ZM614.4,159.2 621.3,160.6 621.3,19.8 366.0,19.8 359.0,19.8 361.1,23.0 362.0,24.6 363.5,27.8 364.7,31.0 366.6,37.4 367.5,40.2 369.0,43.8 370.5,47.1 373.1,51.8 375.9,56.6 380.9,64.7 385.0,71.1 388.4,75.9 392.1,80.7 396.1,85.0 400.0,88.7 405.1,92.9 410.4,96.7 415.6,100.0 423.1,104.4 433.6,110.2 447.1,117.2 457.4,122.3 466.6,126.7 475.0,130.3 483.2,133.5 490.7,136.2 499.7,138.9 507.2,141.0 516.2,143.1 525.2,145.0 534.2,146.7 544.7,148.4 555.2,150.0 585.3,154.0 592.8,155.1 603.3,157.0 614.4,159.2Z" fill="#fff1f1"/>
<path d="M616.2,152.8 621.3,154.2 621.3,19.8 385.6,19.8 379.7,19.8 381.5,21.4 383.0,23.0 384.3,24.6 385.3,26.2 387.0,29.4 390.3,37.4 391.0,39.0 392.7,42.2 395.7,47.0 402.1,56.6 409.8,69.5 411.9,72.7 414.2,75.9 416.9,79.1 420.0,82.3 423.1,85.0 426.1,87.4 430.0,90.3 434.9,93.5 440.1,96.7 447.1,100.8 472.7,115.4 478.7,118.7 484.7,121.8 490.7,124.6 498.2,127.8 504.9,130.3 511.7,132.6 517.7,134.3 525.2,136.3 532.7,138.0 540.2,139.5 547.7,140.9 558.2,142.6 568.7,144.2 585.3,146.4 594.3,147.8 600.3,149.0 604.8,149.9 610.0,151.2 616.2,152.8Z" fill="#ffe3e3"/>
<path d="M619.8,148.0 621.3,148.5 621.3,19.8 405.1,19.8 403.6,19.8 405.1,21.4 406.4,23.0 407.3,24.6 408.1,26.1 409.4,29.4 411.7,35.8 412.4,37.4 414.0,40.6 415.8,43.8 421.9,53.4 428.2,64.7 430.1,67.9 433.4,72.7 436.0,75.9 439.0,79.1 442.5,82.3 446.4,85.5 450.8,88.7 455.6,91.9 462.1,96.1 484.7,110.0 490.7,113.5 495.2,116.0 499.7,118.3 505.7,121.0 510.2,122.9 516.2,125.2 522.2,127.3 528.2,129.1 534.2,130.7 540.2,132.1 546.2,133.4 553.7,134.9 567.2,137.2 589.8,140.5 598.8,142.2 603.3,143.2 609.3,144.7 614.8,146.3 619.8,148.0Z" fill="#ffd4d4"/>
<path d="M621.1,143.1 621.3,143.2 621.3,19.8 432.9,19.8 432.5,21.4 432.1,24.6 431.9,27.8 431.9,29.4 432.2,32.6 432.5,34.2 433.3,37.4 433.8,39.0 435.2,42.2 437.5,47.0 444.9,61.4 446.7,64.7 448.7,67.9 450.9,71.1 452.1,72.7 454.9,75.9 458.1,79.1 461.7,82.3 465.6,85.5 472.1,90.3 479.0,95.1 486.2,99.9 492.2,103.7 498.2,107.4 504.2,110.8 508.7,113.2 514.3,115.9 519.2,118.0 525.2,120.4 531.2,122.4 537.2,124.3 543.2,125.9 549.2,127.4 556.7,129.0 568.7,131.3 591.3,134.9 600.3,136.7 606.3,138.2 610.8,139.5 616.8,141.5 621.1,143.1Z" fill="#ffc6c6"/>
<path d="M617.7,136.7 621.3,138.2 621.3,19.8 473.7,19.8 469.6,20.6 466.6,21.3 463.6,22.4 462.1,23.0 459.1,24.7 457.3,26.2 455.8,27.8 454.8,29.4 454.1,31.0 453.6,32.6 453.3,34.2 453.2,35.8 453.2,37.4 453.3,39.0 453.8,42.2 455.2,47.0 457.6,53.4 458.9,56.6 460.4,59.8 463.0,64.7 466.1,69.5 468.6,72.7 471.4,75.9 473.0,77.5 478.2,82.3 484.0,87.1 490.4,91.9 496.7,96.3 502.0,99.9 507.2,103.1 513.2,106.6 518.6,109.5 523.7,111.9 529.7,114.5 535.7,116.8 541.7,118.8 547.7,120.6 553.7,122.2 559.7,123.6 571.8,126.1 592.8,129.8 601.8,131.8 609.3,133.8 613.8,135.3 617.7,136.7Z" fill="#ffb8b8"/>
<path d="M617.9,131.9 621.3,133.3 621.3,20.7 603.3,20.7 567.2,20.4 552.2,20.4 534.2,20.6 519.2,21.1 513.6,21.4 507.2,21.9 501.2,22.6 496.7,23.2 492.2,24.0 489.2,24.7 484.2,26.2 481.7,27.3 480.2,28.0 477.9,29.4 475.9,31.0 474.5,32.6 473.4,34.2 472.5,35.8 472.0,37.4 471.5,39.0 471.3,40.6 471.1,42.2 471.2,45.4 471.6,48.6 471.9,50.2 472.8,53.4 474.5,58.2 475.9,61.4 476.7,63.1 477.6,64.7 479.6,67.9 482.0,71.1 484.7,74.3 486.2,75.9 489.3,79.1 494.7,83.9 500.7,88.7 505.7,92.4 511.9,96.7 516.9,99.9 522.2,103.0 526.7,105.4 531.9,107.9 537.2,110.2 543.2,112.6 548.2,114.3 553.3,115.9 559.0,117.5 564.2,118.9 574.8,121.2 594.3,125.0 603.3,127.1 610.8,129.3 613.8,130.3 617.9,131.9Z" fill="#ffaaaa"/>
<path d="M617.9,127.1 621.3,128.6 621.3,21.9 582.3,22.2 567.2,22.4 549.2,22.9 537.2,23.5 531.2,24.0 524.4,24.6 519.2,25.3 513.2,26.2 506.1,27.8 502.7,28.9 499.7,30.0 497.6,31.0 495.2,32.4 492.7,34.2 490.7,36.3 489.7,37.4 488.7,39.0 487.9,40.6 487.2,42.2 486.8,43.8 486.5,45.4 486.3,47.0 486.3,48.6 486.3,50.2 486.8,53.4 487.6,56.6 488.1,58.2 489.4,61.4 491.1,64.7 493.1,67.9 494.2,69.5 496.8,72.7 498.2,74.3 501.3,77.5 505.7,81.6 510.3,85.5 514.4,88.7 518.8,91.9 523.5,95.1 528.7,98.3 532.7,100.6 537.6,103.1 543.2,105.7 548.6,107.9 556.7,110.8 565.7,113.6 575.1,115.9 594.3,120.1 601.8,121.9 606.3,123.1 610.8,124.5 613.8,125.5 617.9,127.1Z" fill="#ff9c9c"/>
<path d="M617.7,122.3 621.3,123.9 621.3,23.2 591.3,23.8 574.8,24.3 561.2,25.0 547.7,26.0 543.2,26.4 537.2,27.2 533.0,27.8 528.2,28.7 524.9,29.4 520.7,30.6 517.7,31.5 514.7,32.7 511.6,34.2 509.0,35.8 507.2,37.2 505.1,39.0 503.7,40.6 502.7,42.1 501.7,43.8 501.0,45.4 500.5,47.0 500.1,48.6 500.0,50.2 499.9,51.8 500.0,53.4 500.5,56.6 501.5,59.8 502.9,63.1 504.8,66.3 507.0,69.5 509.6,72.7 513.2,76.5 517.7,80.7 521.4,83.9 525.5,87.1 529.9,90.3 534.8,93.5 538.7,95.9 543.2,98.4 549.2,101.3 553.7,103.3 561.4,106.3 565.7,107.8 570.2,109.2 577.8,111.2 595.8,115.5 603.3,117.5 610.8,119.8 617.7,122.3Z" fill="#ff8e8e"/>
<path d="M621.1,119.1 621.3,119.2 621.3,24.6 598.8,25.4 582.3,26.1 570.2,27.0 559.7,28.0 549.3,29.4 541.0,31.0 534.2,32.9 530.3,34.2 526.6,35.8 523.6,37.4 521.1,39.0 519.1,40.6 517.5,42.2 516.1,43.8 514.7,46.1 514.2,47.0 513.5,48.6 513.1,50.2 512.8,51.8 512.8,53.4 512.8,55.0 513.0,56.6 513.4,58.2 513.9,59.8 515.2,63.1 517.0,66.3 519.3,69.5 521.9,72.7 525.0,75.9 528.4,79.1 532.1,82.3 536.2,85.5 540.2,88.3 543.2,90.3 547.7,93.1 551.4,95.1 556.7,97.8 561.4,99.9 568.7,102.8 576.3,105.3 583.8,107.5 601.8,112.3 609.3,114.6 615.3,116.7 621.1,119.1Z" fill="#ff8080"/>
<path d="M620.9,114.3 621.3,114.5 621.3,26.1 604.8,26.9 590.9,27.8 576.3,29.2 567.2,30.3 563.0,31.0 558.2,31.9 554.9,32.6 550.7,33.7 547.7,34.6 544.1,35.8 540.2,37.4 538.7,38.1 535.7,39.8 534.3,40.6 532.7,41.8 530.3,43.8 528.8,45.4 527.6,47.0 526.7,48.6 526.0,50.2 525.5,51.8 525.3,53.4 525.2,55.0 525.3,56.6 525.5,58.2 526.0,59.8 526.5,61.4 527.2,63.1 529.0,66.3 530.1,67.9 532.6,71.1 535.5,74.3 538.7,77.3 541.7,79.9 544.6,82.3 547.7,84.6 551.3,87.1 555.2,89.5 559.3,91.9 562.7,93.7 567.2,95.8 573.0,98.3 579.3,100.6 586.9,103.1 601.8,107.5 607.8,109.4 615.3,112.0 620.9,114.3Z" fill="#ff7171"/>
<path d="M620.7,109.5 621.3,109.7 621.3,27.7 609.3,28.6 598.8,29.4 585.3,30.9 577.8,32.1 574.6,32.6 568.7,33.8 562.7,35.4 556.4,37.4 552.2,39.1 549.2,40.6 546.5,42.2 544.3,43.8 542.4,45.4 540.9,47.0 539.7,48.6 538.7,50.4 538.1,51.8 537.7,53.4 537.4,55.0 537.4,56.6 537.6,58.2 537.9,59.8 538.4,61.4 539.1,63.1 539.9,64.7 541.9,67.9 543.2,69.6 545.9,72.7 547.7,74.5 551.0,77.5 554.9,80.7 558.2,83.1 561.7,85.5 565.7,87.9 570.0,90.3 573.2,91.9 579.3,94.6 584.5,96.7 591.3,99.1 610.8,105.6 615.3,107.3 620.7,109.5Z" fill="#ff6363"/>
<path d="M620.9,104.7 621.3,104.9 621.3,29.6 609.3,30.7 601.8,31.5 593.9,32.6 584.9,34.2 577.9,35.8 572.2,37.4 567.6,39.0 562.7,41.1 560.6,42.2 557.9,43.8 555.7,45.4 553.9,47.0 552.4,48.6 551.3,50.2 550.4,51.8 549.8,53.4 549.4,55.0 549.3,56.6 549.4,58.2 549.6,59.8 550.1,61.4 550.7,63.1 551.5,64.7 552.4,66.3 553.7,68.2 556.1,71.1 558.2,73.3 561.0,75.9 564.2,78.5 567.1,80.7 569.4,82.3 573.3,84.7 579.3,88.0 585.3,90.9 591.4,93.5 597.3,95.7 612.3,101.2 616.8,103.0 620.9,104.7Z" fill="#ff5555"/>
<path d="M617.6,98.3 621.3,99.9 621.3,31.7 613.0,32.6 606.3,33.6 601.8,34.3 594.1,35.8 587.5,37.4 582.2,39.0 577.8,40.6 574.8,42.0 571.1,43.8 568.6,45.4 566.5,47.0 564.8,48.6 563.4,50.2 562.4,51.8 561.6,53.4 561.1,55.0 560.9,56.6 560.9,58.2 561.1,59.8 561.5,61.4 562.0,63.1 562.8,64.7 563.7,66.3 564.8,67.9 566.1,69.5 568.7,72.3 570.8,74.3 572.7,75.9 574.7,77.5 577.8,79.6 580.8,81.6 583.8,83.4 589.8,86.6 595.8,89.4 601.7,91.9 617.6,98.3Z" fill="#ff4747"/>
<path d="M618.7,93.5 621.3,94.6 621.3,34.0 610.2,35.8 603.3,37.3 600.3,38.0 596.4,39.0 591.4,40.6 587.2,42.2 585.3,43.1 583.8,43.8 580.9,45.4 578.6,47.0 576.7,48.6 574.8,50.7 573.9,51.8 573.0,53.4 572.4,55.0 572.1,56.6 572.0,58.2 572.1,59.8 572.5,61.4 573.1,63.1 573.8,64.7 574.8,66.3 575.9,67.9 577.2,69.5 578.7,71.1 580.4,72.7 584.3,75.9 586.5,77.5 589.8,79.6 594.3,82.3 600.6,85.5 607.6,88.7 618.7,93.5Z" fill="#ff3939"/>
<path d="M620.3,88.7 621.3,89.1 621.3,36.7 617.7,37.4 612.3,38.6 604.9,40.6 598.8,42.8 596.2,43.8 593.0,45.4 589.8,47.4 588.1,48.6 586.4,50.2 585.0,51.8 584.0,53.4 583.3,55.0 582.9,56.6 582.8,58.2 582.9,59.8 583.2,61.4 583.8,63.1 584.5,64.7 585.5,66.3 586.7,67.9 588.1,69.5 589.8,71.1 591.3,72.4 594.3,74.8 598.3,77.5 601.8,79.5 606.8,82.3 613.4,85.5 620.3,88.7Z" fill="#ff2a2a"/>
<path d="M619.3,82.3 621.3,83.3 621.3,39.9 618.3,40.7 612.3,42.5 608.6,43.8 604.9,45.4 603.3,46.3 601.9,47.0 599.4,48.6 597.5,50.2 595.9,51.8 594.8,53.4 594.0,55.0 593.5,56.6 593.3,58.2 593.4,59.8 593.7,61.4 594.3,63.1 595.1,64.7 595.8,65.6 597.5,67.9 599.1,69.5 600.3,70.6 602.8,72.7 606.3,75.1 610.2,77.5 613.8,79.4 619.3,82.3Z" fill="#ff1c1c"/>
<path d="M619.5,75.9 621.3,76.8 621.3,43.8 617.1,45.4 615.3,46.3 613.7,47.0 610.9,48.6 608.6,50.2 606.9,51.8 605.6,53.4 604.6,55.0 604.1,56.6 603.8,58.2 603.9,59.8 604.3,61.4 604.9,63.1 605.9,64.7 607.0,66.3 608.5,67.9 610.2,69.5 612.3,71.2 615.3,73.3 619.5,75.9Z" fill="#ff0e0e"/>
<path d="M619.9,67.9 621.3,69.0 621.3,49.5 620.2,50.2 618.3,51.7 616.6,53.4 615.6,55.0 614.9,56.6 614.7,58.2 614.7,59.8 615.2,61.4 615.9,63.1 616.9,64.7 618.3,66.3 619.9,67.9Z" fill="#ff0000"/>
</g>
<rect x="322.5" y="19.3" width="298.8" height="255.2" fill="none" stroke="#787878" stroke-width="1"/>
<line x1="363.5" y1="274.5" x2="363.5" y2="277.5" stroke="#555" stroke-width="0.9"/>
<text x="363.5" y="288.8" font-size="13.2" text-anchor="middle" fill="#111">20</text>
<line x1="413.8" y1="274.5" x2="413.8" y2="277.5" stroke="#555" stroke-width="0.9"/>
<text x="413.8" y="288.8" font-size="13.2" text-anchor="middle" fill="#111">40</text>
<line x1="464.1" y1="274.5" x2="464.1" y2="277.5" stroke="#555" stroke-width="0.9"/>
<text x="464.1" y="288.8" font-size="13.2" text-anchor="middle" fill="#111">60</text>
<line x1="514.4" y1="274.5" x2="514.4" y2="277.5" stroke="#555" stroke-width="0.9"/>
<text x="514.4" y="288.8" font-size="13.2" text-anchor="middle" fill="#111">80</text>
<line x1="564.7" y1="274.5" x2="564.7" y2="277.5" stroke="#555" stroke-width="0.9"/>
<text x="564.7" y="288.8" font-size="13.2" text-anchor="middle" fill="#111">100</text>
<line x1="615.0" y1="274.5" x2="615.0" y2="277.5" stroke="#555" stroke-width="0.9"/>
<text x="615.0" y="288.8" font-size="13.2" text-anchor="middle" fill="#111">120</text>
<line x1="318.8" y1="274.5" x2="322.5" y2="274.5" stroke="#555" stroke-width="0.9"/>
<text x="315" y="278.5" font-size="13.2" text-anchor="end" fill="#111">0</text>
<line x1="318.8" y1="232.1" x2="322.5" y2="232.1" stroke="#555" stroke-width="0.9"/>
<text x="315" y="236.1" font-size="13.2" text-anchor="end" fill="#111">5</text>
<line x1="318.8" y1="189.6" x2="322.5" y2="189.6" stroke="#555" stroke-width="0.9"/>
<text x="315" y="193.6" font-size="13.2" text-anchor="end" fill="#111">10</text>
<line x1="318.8" y1="147.1" x2="322.5" y2="147.1" stroke="#555" stroke-width="0.9"/>
<text x="315" y="151.1" font-size="13.2" text-anchor="end" fill="#111">15</text>
<line x1="318.8" y1="104.7" x2="322.5" y2="104.7" stroke="#555" stroke-width="0.9"/>
<text x="315" y="108.7" font-size="13.2" text-anchor="end" fill="#111">20</text>
<line x1="318.8" y1="62.2" x2="322.5" y2="62.2" stroke="#555" stroke-width="0.9"/>
<text x="315" y="66.2" font-size="13.2" text-anchor="end" fill="#111">25</text>
<line x1="318.8" y1="19.8" x2="322.5" y2="19.8" stroke="#555" stroke-width="0.9"/>
<text x="315" y="23.8" font-size="13.2" text-anchor="end" fill="#111">30</text>
<text x="471.9" y="304.8" font-size="10" text-anchor="middle" fill="#111">SO2</text>
<text transform="translate(298.6,146.6) rotate(-90)" font-size="10" text-anchor="middle" fill="#111">Lag (days)</text>
<text x="333.2" y="41.7" font-size="21.5" fill="#111">(b)</text>
<rect x="637.0" y="263.39" width="16.0" height="11.11" fill="#0000ff" stroke="#200000" stroke-opacity="0.7" stroke-width="0.6"/>
<rect x="637.0" y="252.28" width="16.0" height="11.11" fill="#5555ff" stroke="#200000" stroke-opacity="0.7" stroke-width="0.6"/>
<rect x="637.0" y="241.17" width="16.0" height="11.11" fill="#aaaaff" stroke="#200000" stroke-opacity="0.7" stroke-width="0.6"/>
<rect x="637.0" y="230.07" width="16.0" height="11.11" fill="#ffffff" stroke="#200000" stroke-opacity="0.7" stroke-width="0.6"/>
<rect x="637.0" y="218.96" width="16.0" height="11.11" fill="#ffffff" stroke="#200000" stroke-opacity="0.7" stroke-width="0.6"/>
<rect x="637.0" y="207.85" width="16.0" height="11.11" fill="#fff1f1" stroke="#200000" stroke-opacity="0.7" stroke-width="0.6"/>
<rect x="637.0" y="196.74" width="16.0" height="11.11" fill="#ffe3e3" stroke="#200000" stroke-opacity="0.7" stroke-width="0.6"/>
<rect x="637.0" y="185.63" width="16.0" height="11.11" fill="#ffd4d4" stroke="#200000" stroke-opacity="0.7" stroke-width="0.6"/>
<rect x="637.0" y="174.52" width="16.0" height="11.11" fill="#ffc6c6" stroke="#200000" stroke-opacity="0.7" stroke-width="0.6"/>
<rect x="637.0" y="163.41" width="16.0" height="11.11" fill="#ffb8b8" stroke="#200000" stroke-opacity="0.7" stroke-width="0.6"/>
<rect x="637.0" y="152.30" width="16.0" height="11.11" fill="#ffaaaa" stroke="#200000" stroke-opacity="0.7" stroke-width="0.6"/>
<rect x="637.0" y="141.20" width="16.0" height="11.11" fill="#ff9c9c" stroke="#200000" stroke-opacity="0.7" stroke-width="0.6"/>
<rect x="637.0" y="130.09" width="16.0" height="11.11" fill="#ff8e8e" stroke="#200000" stroke-opacity="0.7" stroke-width="0.6"/>
<rect x="637.0" y="118.98" width="16.0" height="11.11" fill="#ff8080" stroke="#200000" stroke-opacity="0.7" stroke-width="0.6"/>
<rect x="637.0" y="107.87" width="16.0" height="11.11" fill="#ff7171" stroke="#200000" stroke-opacity="0.7" stroke-width="0.6"/>
<rect x="637.0" y="96.76" width="16.0" height="11.11" fill="#ff6363" stroke="#200000" stroke-opacity="0.7" stroke-width="0.6"/>
<rect x="637.0" y="85.65" width="16.0" height="11.11" fill="#ff5555" stroke="#200000" stroke-opacity="0.7" stroke-width="0.6"/>
<rect x="637.0" y="74.54" width="16.0" height="11.11" fill="#ff4747" stroke="#200000" stroke-opacity="0.7" stroke-width="0.6"/>
<rect x="637.0" y="63.43" width="16.0" height="11.11" fill="#ff3939" stroke="#200000" stroke-opacity="0.7" stroke-width="0.6"/>
<rect x="637.0" y="52.33" width="16.0" height="11.11" fill="#ff2a2a" stroke="#200000" stroke-opacity="0.7" stroke-width="0.6"/>
<rect x="637.0" y="41.22" width="16.0" height="11.11" fill="#ff1c1c" stroke="#200000" stroke-opacity="0.7" stroke-width="0.6"/>
<rect x="637.0" y="30.11" width="16.0" height="11.11" fill="#ff0e0e" stroke="#200000" stroke-opacity="0.7" stroke-width="0.6"/>
<rect x="637.0" y="19.00" width="16.0" height="11.11" fill="#ff0000" stroke="#200000" stroke-opacity="0.7" stroke-width="0.6"/>
<line x1="653.0" y1="230.07" x2="656.9" y2="230.07" stroke="#222" stroke-width="0.9"/>
<text x="660.8" y="234.9" font-size="13.4" fill="#111">1.00</text>
<line x1="653.0" y1="174.52" x2="656.9" y2="174.52" stroke="#222" stroke-width="0.9"/>
<text x="660.8" y="179.3" font-size="13.4" fill="#111">1.05</text>
<line x1="653.0" y1="118.98" x2="656.9" y2="118.98" stroke="#222" stroke-width="0.9"/>
<text x="660.8" y="123.8" font-size="13.4" fill="#111">1.10</text>
<line x1="653.0" y1="63.43" x2="656.9" y2="63.43" stroke="#222" stroke-width="0.9"/>
<text x="660.8" y="68.2" font-size="13.4" fill="#111">1.15</text>
<text x="644.8" y="6.2" font-size="7.3" font-weight="bold" text-anchor="middle" fill="#111">RR</text>
</svg>
</body></html>
